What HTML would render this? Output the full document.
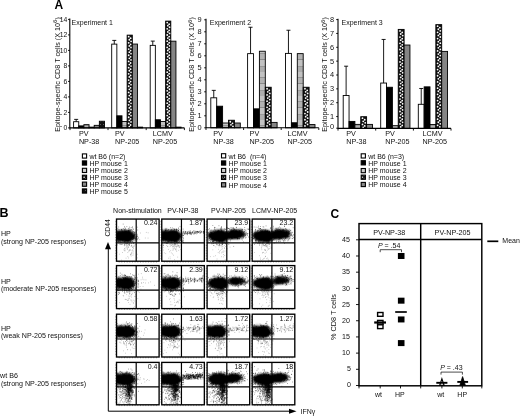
<!DOCTYPE html>
<html><head><meta charset="utf-8"><title>Figure</title>
<style>html,body{margin:0;padding:0;background:#fff;}svg{display:block;will-change:transform;filter:blur(0.35px)}text{font-family:"Liberation Sans",sans-serif;}</style></head>
<body><svg width="520" height="416" viewBox="0 0 520 416">
<rect width="520" height="416" fill="#fff"/>
<defs>
<filter id="bl" x="-30%" y="-30%" width="160%" height="160%"><feTurbulence type="fractalNoise" baseFrequency="0.55" numOctaves="2" seed="3" result="t"/><feDisplacementMap in="SourceGraphic" in2="t" scale="3.2" xChannelSelector="R" yChannelSelector="G" result="d"/><feGaussianBlur in="d" stdDeviation="0.8"/></filter>
<pattern id="pp" width="3.2" height="4.4" patternUnits="userSpaceOnUse"><rect width="3.2" height="4.4" fill="#111"/><circle cx="0.9" cy="1.1" r="0.75" fill="#fff"/><circle cx="2.5" cy="3.3" r="0.75" fill="#fff"/></pattern>
<pattern id="pd" width="3" height="3" patternUnits="userSpaceOnUse"><rect width="3" height="3" fill="#111"/><circle cx="1.5" cy="1.5" r="0.45" fill="#aaa"/></pattern>
<pattern id="pg" width="2" height="2" patternUnits="userSpaceOnUse"><rect width="2" height="2" fill="#858585"/><rect width="1" height="1" fill="#777"/><rect x="1" y="1" width="1" height="1" fill="#939393"/></pattern>
<pattern id="pl" width="6" height="24" patternUnits="userSpaceOnUse"><rect width="6" height="24" fill="#c2c2c2"/><rect y="5" width="6" height="1" fill="#959595"/><rect y="6" width="6" height="5" fill="#b2b2b2"/><rect y="11" width="6" height="1" fill="#8a8a8a"/><rect y="18" width="6" height="1" fill="#999"/><rect y="19" width="6" height="5" fill="#adadad"/></pattern>
</defs>
<text transform="translate(60.00,131.8) rotate(-90)" font-size="7.2" fill="#111">Epitope-specific CD8 T cells (X 10<tspan font-size="6.2" dy="-2.6">6</tspan><tspan dy="2.6">)</tspan></text>
<rect x="73.60" y="121.70" width="5.15" height="6.20" fill="#fff" stroke="#000" stroke-width="0.9"/>
<rect x="78.75" y="125.89" width="5.15" height="2.02" fill="#000" stroke="#000" stroke-width="0.9"/>
<rect x="83.90" y="124.65" width="5.15" height="3.25" fill="url(#pl)" stroke="#000" stroke-width="0.9"/>
<rect x="89.05" y="127.12" width="5.15" height="0.78" fill="#111" stroke="#000" stroke-width="0.9"/>
<path d="" fill="#fff"/>
<rect x="94.20" y="125.34" width="5.15" height="2.56" fill="#858585" stroke="#000" stroke-width="0.9"/>
<rect x="99.35" y="121.23" width="5.15" height="6.67" fill="url(#pd)" stroke="#000" stroke-width="0.9"/>
<path d="M76.17,121.70V119.38M74.17,119.38h4" stroke="#000" stroke-width="0.9" fill="none"/>
<rect x="111.70" y="44.12" width="5.15" height="83.78" fill="#fff" stroke="#000" stroke-width="0.9"/>
<rect x="116.85" y="115.81" width="5.15" height="12.09" fill="#000" stroke="#000" stroke-width="0.9"/>
<rect x="122.00" y="121.47" width="5.15" height="6.43" fill="url(#pl)" stroke="#000" stroke-width="0.9"/>
<rect x="127.15" y="35.13" width="5.15" height="92.77" fill="#111" stroke="#000" stroke-width="0.9"/>
<path d="M127.79,36.63a0.9,0.9 0 1,0 1.8,0a0.9,0.9 0 1,0 -1.8,0M129.75,38.18a0.9,0.9 0 1,0 1.8,0a0.9,0.9 0 1,0 -1.8,0M128.41,39.73a0.9,0.9 0 1,0 1.8,0a0.9,0.9 0 1,0 -1.8,0M130.16,41.28a0.9,0.9 0 1,0 1.8,0a0.9,0.9 0 1,0 -1.8,0M127.79,42.83a0.9,0.9 0 1,0 1.8,0a0.9,0.9 0 1,0 -1.8,0M129.75,44.38a0.9,0.9 0 1,0 1.8,0a0.9,0.9 0 1,0 -1.8,0M128.41,45.93a0.9,0.9 0 1,0 1.8,0a0.9,0.9 0 1,0 -1.8,0M130.16,47.48a0.9,0.9 0 1,0 1.8,0a0.9,0.9 0 1,0 -1.8,0M127.79,49.03a0.9,0.9 0 1,0 1.8,0a0.9,0.9 0 1,0 -1.8,0M129.75,50.58a0.9,0.9 0 1,0 1.8,0a0.9,0.9 0 1,0 -1.8,0M128.41,52.13a0.9,0.9 0 1,0 1.8,0a0.9,0.9 0 1,0 -1.8,0M130.16,53.68a0.9,0.9 0 1,0 1.8,0a0.9,0.9 0 1,0 -1.8,0M127.79,55.23a0.9,0.9 0 1,0 1.8,0a0.9,0.9 0 1,0 -1.8,0M129.75,56.78a0.9,0.9 0 1,0 1.8,0a0.9,0.9 0 1,0 -1.8,0M128.41,58.33a0.9,0.9 0 1,0 1.8,0a0.9,0.9 0 1,0 -1.8,0M130.16,59.88a0.9,0.9 0 1,0 1.8,0a0.9,0.9 0 1,0 -1.8,0M127.79,61.43a0.9,0.9 0 1,0 1.8,0a0.9,0.9 0 1,0 -1.8,0M129.75,62.98a0.9,0.9 0 1,0 1.8,0a0.9,0.9 0 1,0 -1.8,0M128.41,64.53a0.9,0.9 0 1,0 1.8,0a0.9,0.9 0 1,0 -1.8,0M130.16,66.08a0.9,0.9 0 1,0 1.8,0a0.9,0.9 0 1,0 -1.8,0M127.79,67.63a0.9,0.9 0 1,0 1.8,0a0.9,0.9 0 1,0 -1.8,0M129.75,69.18a0.9,0.9 0 1,0 1.8,0a0.9,0.9 0 1,0 -1.8,0M128.41,70.73a0.9,0.9 0 1,0 1.8,0a0.9,0.9 0 1,0 -1.8,0M130.16,72.28a0.9,0.9 0 1,0 1.8,0a0.9,0.9 0 1,0 -1.8,0M127.79,73.83a0.9,0.9 0 1,0 1.8,0a0.9,0.9 0 1,0 -1.8,0M129.75,75.38a0.9,0.9 0 1,0 1.8,0a0.9,0.9 0 1,0 -1.8,0M128.41,76.93a0.9,0.9 0 1,0 1.8,0a0.9,0.9 0 1,0 -1.8,0M130.16,78.48a0.9,0.9 0 1,0 1.8,0a0.9,0.9 0 1,0 -1.8,0M127.79,80.03a0.9,0.9 0 1,0 1.8,0a0.9,0.9 0 1,0 -1.8,0M129.75,81.58a0.9,0.9 0 1,0 1.8,0a0.9,0.9 0 1,0 -1.8,0M128.41,83.13a0.9,0.9 0 1,0 1.8,0a0.9,0.9 0 1,0 -1.8,0M130.16,84.68a0.9,0.9 0 1,0 1.8,0a0.9,0.9 0 1,0 -1.8,0M127.79,86.23a0.9,0.9 0 1,0 1.8,0a0.9,0.9 0 1,0 -1.8,0M129.75,87.78a0.9,0.9 0 1,0 1.8,0a0.9,0.9 0 1,0 -1.8,0M128.41,89.33a0.9,0.9 0 1,0 1.8,0a0.9,0.9 0 1,0 -1.8,0M130.16,90.88a0.9,0.9 0 1,0 1.8,0a0.9,0.9 0 1,0 -1.8,0M127.79,92.43a0.9,0.9 0 1,0 1.8,0a0.9,0.9 0 1,0 -1.8,0M129.75,93.98a0.9,0.9 0 1,0 1.8,0a0.9,0.9 0 1,0 -1.8,0M128.41,95.53a0.9,0.9 0 1,0 1.8,0a0.9,0.9 0 1,0 -1.8,0M130.16,97.08a0.9,0.9 0 1,0 1.8,0a0.9,0.9 0 1,0 -1.8,0M127.79,98.63a0.9,0.9 0 1,0 1.8,0a0.9,0.9 0 1,0 -1.8,0M129.75,100.18a0.9,0.9 0 1,0 1.8,0a0.9,0.9 0 1,0 -1.8,0M128.41,101.73a0.9,0.9 0 1,0 1.8,0a0.9,0.9 0 1,0 -1.8,0M130.16,103.28a0.9,0.9 0 1,0 1.8,0a0.9,0.9 0 1,0 -1.8,0M127.79,104.83a0.9,0.9 0 1,0 1.8,0a0.9,0.9 0 1,0 -1.8,0M129.75,106.38a0.9,0.9 0 1,0 1.8,0a0.9,0.9 0 1,0 -1.8,0M128.41,107.93a0.9,0.9 0 1,0 1.8,0a0.9,0.9 0 1,0 -1.8,0M130.16,109.48a0.9,0.9 0 1,0 1.8,0a0.9,0.9 0 1,0 -1.8,0M127.79,111.03a0.9,0.9 0 1,0 1.8,0a0.9,0.9 0 1,0 -1.8,0M129.75,112.58a0.9,0.9 0 1,0 1.8,0a0.9,0.9 0 1,0 -1.8,0M128.41,114.13a0.9,0.9 0 1,0 1.8,0a0.9,0.9 0 1,0 -1.8,0M130.16,115.68a0.9,0.9 0 1,0 1.8,0a0.9,0.9 0 1,0 -1.8,0M127.79,117.23a0.9,0.9 0 1,0 1.8,0a0.9,0.9 0 1,0 -1.8,0M129.75,118.78a0.9,0.9 0 1,0 1.8,0a0.9,0.9 0 1,0 -1.8,0M128.41,120.33a0.9,0.9 0 1,0 1.8,0a0.9,0.9 0 1,0 -1.8,0M130.16,121.88a0.9,0.9 0 1,0 1.8,0a0.9,0.9 0 1,0 -1.8,0M127.79,123.43a0.9,0.9 0 1,0 1.8,0a0.9,0.9 0 1,0 -1.8,0M129.75,124.98a0.9,0.9 0 1,0 1.8,0a0.9,0.9 0 1,0 -1.8,0M128.41,126.53a0.9,0.9 0 1,0 1.8,0a0.9,0.9 0 1,0 -1.8,0" fill="#fff"/>
<rect x="132.30" y="44.05" width="5.15" height="83.86" fill="#858585" stroke="#000" stroke-width="0.9"/>
<rect x="137.45" y="127.12" width="5.15" height="0.78" fill="url(#pd)" stroke="#000" stroke-width="0.9"/>
<path d="M114.28,44.12V40.40M112.28,40.40h4" stroke="#000" stroke-width="0.9" fill="none"/>
<rect x="150.20" y="45.36" width="5.15" height="82.54" fill="#fff" stroke="#000" stroke-width="0.9"/>
<rect x="155.35" y="119.76" width="5.15" height="8.14" fill="#000" stroke="#000" stroke-width="0.9"/>
<rect x="160.50" y="121.47" width="5.15" height="6.43" fill="url(#pl)" stroke="#000" stroke-width="0.9"/>
<rect x="165.65" y="21.11" width="5.15" height="106.80" fill="#111" stroke="#000" stroke-width="0.9"/>
<path d="M166.29,22.61a0.9,0.9 0 1,0 1.8,0a0.9,0.9 0 1,0 -1.8,0M168.25,24.16a0.9,0.9 0 1,0 1.8,0a0.9,0.9 0 1,0 -1.8,0M166.91,25.71a0.9,0.9 0 1,0 1.8,0a0.9,0.9 0 1,0 -1.8,0M168.66,27.26a0.9,0.9 0 1,0 1.8,0a0.9,0.9 0 1,0 -1.8,0M166.29,28.81a0.9,0.9 0 1,0 1.8,0a0.9,0.9 0 1,0 -1.8,0M168.25,30.36a0.9,0.9 0 1,0 1.8,0a0.9,0.9 0 1,0 -1.8,0M166.91,31.91a0.9,0.9 0 1,0 1.8,0a0.9,0.9 0 1,0 -1.8,0M168.66,33.46a0.9,0.9 0 1,0 1.8,0a0.9,0.9 0 1,0 -1.8,0M166.29,35.01a0.9,0.9 0 1,0 1.8,0a0.9,0.9 0 1,0 -1.8,0M168.25,36.55a0.9,0.9 0 1,0 1.8,0a0.9,0.9 0 1,0 -1.8,0M166.91,38.10a0.9,0.9 0 1,0 1.8,0a0.9,0.9 0 1,0 -1.8,0M168.66,39.65a0.9,0.9 0 1,0 1.8,0a0.9,0.9 0 1,0 -1.8,0M166.29,41.20a0.9,0.9 0 1,0 1.8,0a0.9,0.9 0 1,0 -1.8,0M168.25,42.75a0.9,0.9 0 1,0 1.8,0a0.9,0.9 0 1,0 -1.8,0M166.91,44.30a0.9,0.9 0 1,0 1.8,0a0.9,0.9 0 1,0 -1.8,0M168.66,45.85a0.9,0.9 0 1,0 1.8,0a0.9,0.9 0 1,0 -1.8,0M166.29,47.40a0.9,0.9 0 1,0 1.8,0a0.9,0.9 0 1,0 -1.8,0M168.25,48.95a0.9,0.9 0 1,0 1.8,0a0.9,0.9 0 1,0 -1.8,0M166.91,50.50a0.9,0.9 0 1,0 1.8,0a0.9,0.9 0 1,0 -1.8,0M168.66,52.05a0.9,0.9 0 1,0 1.8,0a0.9,0.9 0 1,0 -1.8,0M166.29,53.60a0.9,0.9 0 1,0 1.8,0a0.9,0.9 0 1,0 -1.8,0M168.25,55.15a0.9,0.9 0 1,0 1.8,0a0.9,0.9 0 1,0 -1.8,0M166.91,56.70a0.9,0.9 0 1,0 1.8,0a0.9,0.9 0 1,0 -1.8,0M168.66,58.25a0.9,0.9 0 1,0 1.8,0a0.9,0.9 0 1,0 -1.8,0M166.29,59.80a0.9,0.9 0 1,0 1.8,0a0.9,0.9 0 1,0 -1.8,0M168.25,61.35a0.9,0.9 0 1,0 1.8,0a0.9,0.9 0 1,0 -1.8,0M166.91,62.90a0.9,0.9 0 1,0 1.8,0a0.9,0.9 0 1,0 -1.8,0M168.66,64.45a0.9,0.9 0 1,0 1.8,0a0.9,0.9 0 1,0 -1.8,0M166.29,66.00a0.9,0.9 0 1,0 1.8,0a0.9,0.9 0 1,0 -1.8,0M168.25,67.55a0.9,0.9 0 1,0 1.8,0a0.9,0.9 0 1,0 -1.8,0M166.91,69.10a0.9,0.9 0 1,0 1.8,0a0.9,0.9 0 1,0 -1.8,0M168.66,70.65a0.9,0.9 0 1,0 1.8,0a0.9,0.9 0 1,0 -1.8,0M166.29,72.20a0.9,0.9 0 1,0 1.8,0a0.9,0.9 0 1,0 -1.8,0M168.25,73.75a0.9,0.9 0 1,0 1.8,0a0.9,0.9 0 1,0 -1.8,0M166.91,75.30a0.9,0.9 0 1,0 1.8,0a0.9,0.9 0 1,0 -1.8,0M168.66,76.85a0.9,0.9 0 1,0 1.8,0a0.9,0.9 0 1,0 -1.8,0M166.29,78.40a0.9,0.9 0 1,0 1.8,0a0.9,0.9 0 1,0 -1.8,0M168.25,79.95a0.9,0.9 0 1,0 1.8,0a0.9,0.9 0 1,0 -1.8,0M166.91,81.50a0.9,0.9 0 1,0 1.8,0a0.9,0.9 0 1,0 -1.8,0M168.66,83.05a0.9,0.9 0 1,0 1.8,0a0.9,0.9 0 1,0 -1.8,0M166.29,84.60a0.9,0.9 0 1,0 1.8,0a0.9,0.9 0 1,0 -1.8,0M168.25,86.15a0.9,0.9 0 1,0 1.8,0a0.9,0.9 0 1,0 -1.8,0M166.91,87.70a0.9,0.9 0 1,0 1.8,0a0.9,0.9 0 1,0 -1.8,0M168.66,89.25a0.9,0.9 0 1,0 1.8,0a0.9,0.9 0 1,0 -1.8,0M166.29,90.80a0.9,0.9 0 1,0 1.8,0a0.9,0.9 0 1,0 -1.8,0M168.25,92.35a0.9,0.9 0 1,0 1.8,0a0.9,0.9 0 1,0 -1.8,0M166.91,93.90a0.9,0.9 0 1,0 1.8,0a0.9,0.9 0 1,0 -1.8,0M168.66,95.45a0.9,0.9 0 1,0 1.8,0a0.9,0.9 0 1,0 -1.8,0M166.29,97.00a0.9,0.9 0 1,0 1.8,0a0.9,0.9 0 1,0 -1.8,0M168.25,98.55a0.9,0.9 0 1,0 1.8,0a0.9,0.9 0 1,0 -1.8,0M166.91,100.10a0.9,0.9 0 1,0 1.8,0a0.9,0.9 0 1,0 -1.8,0M168.66,101.65a0.9,0.9 0 1,0 1.8,0a0.9,0.9 0 1,0 -1.8,0M166.29,103.20a0.9,0.9 0 1,0 1.8,0a0.9,0.9 0 1,0 -1.8,0M168.25,104.75a0.9,0.9 0 1,0 1.8,0a0.9,0.9 0 1,0 -1.8,0M166.91,106.30a0.9,0.9 0 1,0 1.8,0a0.9,0.9 0 1,0 -1.8,0M168.66,107.85a0.9,0.9 0 1,0 1.8,0a0.9,0.9 0 1,0 -1.8,0M166.29,109.40a0.9,0.9 0 1,0 1.8,0a0.9,0.9 0 1,0 -1.8,0M168.25,110.95a0.9,0.9 0 1,0 1.8,0a0.9,0.9 0 1,0 -1.8,0M166.91,112.50a0.9,0.9 0 1,0 1.8,0a0.9,0.9 0 1,0 -1.8,0M168.66,114.05a0.9,0.9 0 1,0 1.8,0a0.9,0.9 0 1,0 -1.8,0M166.29,115.60a0.9,0.9 0 1,0 1.8,0a0.9,0.9 0 1,0 -1.8,0M168.25,117.15a0.9,0.9 0 1,0 1.8,0a0.9,0.9 0 1,0 -1.8,0M166.91,118.70a0.9,0.9 0 1,0 1.8,0a0.9,0.9 0 1,0 -1.8,0M168.66,120.25a0.9,0.9 0 1,0 1.8,0a0.9,0.9 0 1,0 -1.8,0M166.29,121.80a0.9,0.9 0 1,0 1.8,0a0.9,0.9 0 1,0 -1.8,0M168.25,123.35a0.9,0.9 0 1,0 1.8,0a0.9,0.9 0 1,0 -1.8,0M166.91,124.90a0.9,0.9 0 1,0 1.8,0a0.9,0.9 0 1,0 -1.8,0M168.66,126.45a0.9,0.9 0 1,0 1.8,0a0.9,0.9 0 1,0 -1.8,0" fill="#fff"/>
<rect x="170.80" y="41.18" width="5.15" height="86.72" fill="#858585" stroke="#000" stroke-width="0.9"/>
<rect x="175.95" y="127.12" width="5.15" height="0.78" fill="url(#pd)" stroke="#000" stroke-width="0.9"/>
<path d="M152.77,45.36V41.10M150.77,41.10h4" stroke="#000" stroke-width="0.9" fill="none"/>
<path d="M69.8,18.400000000000006V127.9H184.4" stroke="#000" stroke-width="1.1" fill="none"/>
<path d="M70,127.9v2.2" stroke="#000" stroke-width="0.9"/>
<path d="M108,127.9v2.2" stroke="#000" stroke-width="0.9"/>
<path d="M146.2,127.9v2.2" stroke="#000" stroke-width="0.9"/>
<path d="M184.4,127.9v2.2" stroke="#000" stroke-width="0.9"/>
<path d="M68.0,127.90h1.8" stroke="#000" stroke-width="0.9"/>
<text x="67.20" y="130.15" font-size="6.8" text-anchor="end" font-weight="normal" fill="#111" >0</text>
<path d="M68.0,112.40h1.8" stroke="#000" stroke-width="0.9"/>
<text x="67.20" y="114.65" font-size="6.8" text-anchor="end" font-weight="normal" fill="#111" >2</text>
<path d="M68.0,96.90h1.8" stroke="#000" stroke-width="0.9"/>
<text x="67.20" y="99.15" font-size="6.8" text-anchor="end" font-weight="normal" fill="#111" >4</text>
<path d="M68.0,81.40h1.8" stroke="#000" stroke-width="0.9"/>
<text x="67.20" y="83.65" font-size="6.8" text-anchor="end" font-weight="normal" fill="#111" >6</text>
<path d="M68.0,65.90h1.8" stroke="#000" stroke-width="0.9"/>
<text x="67.20" y="68.15" font-size="6.8" text-anchor="end" font-weight="normal" fill="#111" >8</text>
<path d="M68.0,50.40h1.8" stroke="#000" stroke-width="0.9"/>
<text x="67.20" y="52.65" font-size="6.8" text-anchor="end" font-weight="normal" fill="#111" >10</text>
<path d="M68.0,34.90h1.8" stroke="#000" stroke-width="0.9"/>
<text x="67.20" y="37.15" font-size="6.8" text-anchor="end" font-weight="normal" fill="#111" >12</text>
<path d="M68.0,19.40h1.8" stroke="#000" stroke-width="0.9"/>
<text x="67.20" y="21.65" font-size="6.8" text-anchor="end" font-weight="normal" fill="#111" >14</text>
<text x="71.60" y="24.60" font-size="7" text-anchor="start" font-weight="normal" fill="#111" >Experiment 1</text>
<text x="78.90" y="136.20" font-size="7.2" text-anchor="start" font-weight="normal" fill="#111" >PV</text>
<text x="78.90" y="144.40" font-size="7.2" text-anchor="start" font-weight="normal" fill="#111" >NP-38</text>
<text x="115.00" y="136.20" font-size="7.2" text-anchor="start" font-weight="normal" fill="#111" >PV</text>
<text x="115.00" y="144.40" font-size="7.2" text-anchor="start" font-weight="normal" fill="#111" >NP-205</text>
<text x="152.80" y="136.20" font-size="7.2" text-anchor="start" font-weight="normal" fill="#111" >LCMV</text>
<text x="152.80" y="144.40" font-size="7.2" text-anchor="start" font-weight="normal" fill="#111" >NP-205</text>
<rect x="82.40" y="153.90" width="4.2" height="4.2" fill="#fff" stroke="#000" stroke-width="1.1"/>
<text x="89.40" y="158.70" font-size="7" text-anchor="start" font-weight="normal" fill="#111" >wt B6 (n=2)</text>
<rect x="82.40" y="160.90" width="4.2" height="4.2" fill="#000" stroke="#000" stroke-width="1.1"/>
<text x="89.40" y="165.70" font-size="7" text-anchor="start" font-weight="normal" fill="#111" >HP mouse 1</text>
<rect x="82.40" y="168.30" width="4.2" height="4.2" fill="#ccc" stroke="#000" stroke-width="1.1"/>
<text x="89.40" y="173.10" font-size="7" text-anchor="start" font-weight="normal" fill="#111" >HP mouse 2</text>
<rect x="82.40" y="175.20" width="4.2" height="4.2" fill="url(#pp)" stroke="#000" stroke-width="1.1"/>
<text x="89.40" y="180.00" font-size="7" text-anchor="start" font-weight="normal" fill="#111" >HP mouse 3</text>
<rect x="82.40" y="182.10" width="4.2" height="4.2" fill="#888" stroke="#000" stroke-width="1.1"/>
<text x="89.40" y="186.90" font-size="7" text-anchor="start" font-weight="normal" fill="#111" >HP mouse 4</text>
<rect x="82.40" y="188.90" width="4.2" height="4.2" fill="url(#pd)" stroke="#000" stroke-width="1.1"/>
<text x="89.40" y="193.70" font-size="7" text-anchor="start" font-weight="normal" fill="#111" >HP mouse 5</text>
<text transform="translate(194.10,131.8) rotate(-90)" font-size="7.2" fill="#111">Epitope-specific CD8 T cells (X 10<tspan font-size="6.2" dy="-2.6">6</tspan><tspan dy="2.6">)</tspan></text>
<rect x="210.80" y="97.80" width="5.90" height="30.00" fill="#fff" stroke="#000" stroke-width="0.9"/>
<rect x="216.70" y="106.20" width="5.90" height="21.60" fill="#000" stroke="#000" stroke-width="0.9"/>
<rect x="222.60" y="123.00" width="5.90" height="4.80" fill="url(#pl)" stroke="#000" stroke-width="0.9"/>
<rect x="228.50" y="120.24" width="5.90" height="7.56" fill="#111" stroke="#000" stroke-width="0.9"/>
<path d="M229.37,121.74a0.9,0.9 0 1,0 1.8,0a0.9,0.9 0 1,0 -1.8,0M231.61,123.29a0.9,0.9 0 1,0 1.8,0a0.9,0.9 0 1,0 -1.8,0M230.08,124.84a0.9,0.9 0 1,0 1.8,0a0.9,0.9 0 1,0 -1.8,0M232.08,126.39a0.9,0.9 0 1,0 1.8,0a0.9,0.9 0 1,0 -1.8,0" fill="#fff"/>
<rect x="234.40" y="123.00" width="5.90" height="4.80" fill="#858585" stroke="#000" stroke-width="0.9"/>
<path d="M213.75,97.80V90.36M211.75,90.36h4" stroke="#000" stroke-width="0.9" fill="none"/>
<rect x="247.60" y="53.64" width="5.90" height="74.16" fill="#fff" stroke="#000" stroke-width="0.9"/>
<rect x="253.50" y="108.84" width="5.90" height="18.96" fill="#000" stroke="#000" stroke-width="0.9"/>
<rect x="259.40" y="51.24" width="5.90" height="76.56" fill="url(#pl)" stroke="#000" stroke-width="0.9"/>
<rect x="265.30" y="87.24" width="5.90" height="40.56" fill="#111" stroke="#000" stroke-width="0.9"/>
<path d="M266.17,88.74a0.9,0.9 0 1,0 1.8,0a0.9,0.9 0 1,0 -1.8,0M268.41,90.29a0.9,0.9 0 1,0 1.8,0a0.9,0.9 0 1,0 -1.8,0M266.88,91.84a0.9,0.9 0 1,0 1.8,0a0.9,0.9 0 1,0 -1.8,0M268.88,93.39a0.9,0.9 0 1,0 1.8,0a0.9,0.9 0 1,0 -1.8,0M266.17,94.94a0.9,0.9 0 1,0 1.8,0a0.9,0.9 0 1,0 -1.8,0M268.41,96.49a0.9,0.9 0 1,0 1.8,0a0.9,0.9 0 1,0 -1.8,0M266.88,98.04a0.9,0.9 0 1,0 1.8,0a0.9,0.9 0 1,0 -1.8,0M268.88,99.59a0.9,0.9 0 1,0 1.8,0a0.9,0.9 0 1,0 -1.8,0M266.17,101.14a0.9,0.9 0 1,0 1.8,0a0.9,0.9 0 1,0 -1.8,0M268.41,102.69a0.9,0.9 0 1,0 1.8,0a0.9,0.9 0 1,0 -1.8,0M266.88,104.24a0.9,0.9 0 1,0 1.8,0a0.9,0.9 0 1,0 -1.8,0M268.88,105.79a0.9,0.9 0 1,0 1.8,0a0.9,0.9 0 1,0 -1.8,0M266.17,107.34a0.9,0.9 0 1,0 1.8,0a0.9,0.9 0 1,0 -1.8,0M268.41,108.89a0.9,0.9 0 1,0 1.8,0a0.9,0.9 0 1,0 -1.8,0M266.88,110.44a0.9,0.9 0 1,0 1.8,0a0.9,0.9 0 1,0 -1.8,0M268.88,111.99a0.9,0.9 0 1,0 1.8,0a0.9,0.9 0 1,0 -1.8,0M266.17,113.54a0.9,0.9 0 1,0 1.8,0a0.9,0.9 0 1,0 -1.8,0M268.41,115.09a0.9,0.9 0 1,0 1.8,0a0.9,0.9 0 1,0 -1.8,0M266.88,116.64a0.9,0.9 0 1,0 1.8,0a0.9,0.9 0 1,0 -1.8,0M268.88,118.19a0.9,0.9 0 1,0 1.8,0a0.9,0.9 0 1,0 -1.8,0M266.17,119.74a0.9,0.9 0 1,0 1.8,0a0.9,0.9 0 1,0 -1.8,0M268.41,121.29a0.9,0.9 0 1,0 1.8,0a0.9,0.9 0 1,0 -1.8,0M266.88,122.84a0.9,0.9 0 1,0 1.8,0a0.9,0.9 0 1,0 -1.8,0M268.88,124.39a0.9,0.9 0 1,0 1.8,0a0.9,0.9 0 1,0 -1.8,0M266.17,125.94a0.9,0.9 0 1,0 1.8,0a0.9,0.9 0 1,0 -1.8,0" fill="#fff"/>
<rect x="271.20" y="122.40" width="5.90" height="5.40" fill="#858585" stroke="#000" stroke-width="0.9"/>
<path d="M250.55,53.64V27.24M248.55,27.24h4" stroke="#000" stroke-width="0.9" fill="none"/>
<rect x="285.50" y="53.40" width="5.90" height="74.40" fill="#fff" stroke="#000" stroke-width="0.9"/>
<rect x="291.40" y="122.76" width="5.90" height="5.04" fill="#000" stroke="#000" stroke-width="0.9"/>
<rect x="297.30" y="53.64" width="5.90" height="74.16" fill="url(#pl)" stroke="#000" stroke-width="0.9"/>
<rect x="303.20" y="87.24" width="5.90" height="40.56" fill="#111" stroke="#000" stroke-width="0.9"/>
<path d="M304.07,88.74a0.9,0.9 0 1,0 1.8,0a0.9,0.9 0 1,0 -1.8,0M306.31,90.29a0.9,0.9 0 1,0 1.8,0a0.9,0.9 0 1,0 -1.8,0M304.78,91.84a0.9,0.9 0 1,0 1.8,0a0.9,0.9 0 1,0 -1.8,0M306.78,93.39a0.9,0.9 0 1,0 1.8,0a0.9,0.9 0 1,0 -1.8,0M304.07,94.94a0.9,0.9 0 1,0 1.8,0a0.9,0.9 0 1,0 -1.8,0M306.31,96.49a0.9,0.9 0 1,0 1.8,0a0.9,0.9 0 1,0 -1.8,0M304.78,98.04a0.9,0.9 0 1,0 1.8,0a0.9,0.9 0 1,0 -1.8,0M306.78,99.59a0.9,0.9 0 1,0 1.8,0a0.9,0.9 0 1,0 -1.8,0M304.07,101.14a0.9,0.9 0 1,0 1.8,0a0.9,0.9 0 1,0 -1.8,0M306.31,102.69a0.9,0.9 0 1,0 1.8,0a0.9,0.9 0 1,0 -1.8,0M304.78,104.24a0.9,0.9 0 1,0 1.8,0a0.9,0.9 0 1,0 -1.8,0M306.78,105.79a0.9,0.9 0 1,0 1.8,0a0.9,0.9 0 1,0 -1.8,0M304.07,107.34a0.9,0.9 0 1,0 1.8,0a0.9,0.9 0 1,0 -1.8,0M306.31,108.89a0.9,0.9 0 1,0 1.8,0a0.9,0.9 0 1,0 -1.8,0M304.78,110.44a0.9,0.9 0 1,0 1.8,0a0.9,0.9 0 1,0 -1.8,0M306.78,111.99a0.9,0.9 0 1,0 1.8,0a0.9,0.9 0 1,0 -1.8,0M304.07,113.54a0.9,0.9 0 1,0 1.8,0a0.9,0.9 0 1,0 -1.8,0M306.31,115.09a0.9,0.9 0 1,0 1.8,0a0.9,0.9 0 1,0 -1.8,0M304.78,116.64a0.9,0.9 0 1,0 1.8,0a0.9,0.9 0 1,0 -1.8,0M306.78,118.19a0.9,0.9 0 1,0 1.8,0a0.9,0.9 0 1,0 -1.8,0M304.07,119.74a0.9,0.9 0 1,0 1.8,0a0.9,0.9 0 1,0 -1.8,0M306.31,121.29a0.9,0.9 0 1,0 1.8,0a0.9,0.9 0 1,0 -1.8,0M304.78,122.84a0.9,0.9 0 1,0 1.8,0a0.9,0.9 0 1,0 -1.8,0M306.78,124.39a0.9,0.9 0 1,0 1.8,0a0.9,0.9 0 1,0 -1.8,0M304.07,125.94a0.9,0.9 0 1,0 1.8,0a0.9,0.9 0 1,0 -1.8,0" fill="#fff"/>
<rect x="309.10" y="124.56" width="5.90" height="3.24" fill="#858585" stroke="#000" stroke-width="0.9"/>
<path d="M288.45,53.40V30.24M286.45,30.24h4" stroke="#000" stroke-width="0.9" fill="none"/>
<path d="M206,18.799999999999997V127.8H318.8" stroke="#000" stroke-width="1.1" fill="none"/>
<path d="M206,127.8v2.2" stroke="#000" stroke-width="0.9"/>
<path d="M243.6,127.8v2.2" stroke="#000" stroke-width="0.9"/>
<path d="M281.2,127.8v2.2" stroke="#000" stroke-width="0.9"/>
<path d="M318.8,127.8v2.2" stroke="#000" stroke-width="0.9"/>
<path d="M204.2,127.80h1.8" stroke="#000" stroke-width="0.9"/>
<text x="201.50" y="130.26" font-size="7.4" text-anchor="end" font-weight="normal" fill="#111" >0</text>
<path d="M204.2,115.80h1.8" stroke="#000" stroke-width="0.9"/>
<text x="201.50" y="118.26" font-size="7.4" text-anchor="end" font-weight="normal" fill="#111" >1</text>
<path d="M204.2,103.80h1.8" stroke="#000" stroke-width="0.9"/>
<text x="201.50" y="106.26" font-size="7.4" text-anchor="end" font-weight="normal" fill="#111" >2</text>
<path d="M204.2,91.80h1.8" stroke="#000" stroke-width="0.9"/>
<text x="201.50" y="94.26" font-size="7.4" text-anchor="end" font-weight="normal" fill="#111" >3</text>
<path d="M204.2,79.80h1.8" stroke="#000" stroke-width="0.9"/>
<text x="201.50" y="82.26" font-size="7.4" text-anchor="end" font-weight="normal" fill="#111" >4</text>
<path d="M204.2,67.80h1.8" stroke="#000" stroke-width="0.9"/>
<text x="201.50" y="70.26" font-size="7.4" text-anchor="end" font-weight="normal" fill="#111" >5</text>
<path d="M204.2,55.80h1.8" stroke="#000" stroke-width="0.9"/>
<text x="201.50" y="58.26" font-size="7.4" text-anchor="end" font-weight="normal" fill="#111" >6</text>
<path d="M204.2,43.80h1.8" stroke="#000" stroke-width="0.9"/>
<text x="201.50" y="46.26" font-size="7.4" text-anchor="end" font-weight="normal" fill="#111" >7</text>
<path d="M204.2,31.80h1.8" stroke="#000" stroke-width="0.9"/>
<text x="201.50" y="34.26" font-size="7.4" text-anchor="end" font-weight="normal" fill="#111" >8</text>
<path d="M204.2,19.80h1.8" stroke="#000" stroke-width="0.9"/>
<text x="201.50" y="22.26" font-size="7.4" text-anchor="end" font-weight="normal" fill="#111" >9</text>
<text x="209.80" y="24.60" font-size="7" text-anchor="start" font-weight="normal" fill="#111" >Experiment 2</text>
<text x="213.30" y="136.20" font-size="7.2" text-anchor="start" font-weight="normal" fill="#111" >PV</text>
<text x="213.30" y="144.40" font-size="7.2" text-anchor="start" font-weight="normal" fill="#111" >NP-38</text>
<text x="249.60" y="136.20" font-size="7.2" text-anchor="start" font-weight="normal" fill="#111" >PV</text>
<text x="249.60" y="144.40" font-size="7.2" text-anchor="start" font-weight="normal" fill="#111" >NP-205</text>
<text x="287.60" y="136.20" font-size="7.2" text-anchor="start" font-weight="normal" fill="#111" >LCMV</text>
<text x="287.60" y="144.40" font-size="7.2" text-anchor="start" font-weight="normal" fill="#111" >NP-205</text>
<rect x="221.50" y="153.70" width="4.2" height="4.2" fill="#fff" stroke="#000" stroke-width="1.1"/>
<text x="228.50" y="158.50" font-size="7" text-anchor="start" font-weight="normal" fill="#111" >wt B6&#160; (n=4)</text>
<rect x="221.50" y="160.90" width="4.2" height="4.2" fill="#000" stroke="#000" stroke-width="1.1"/>
<text x="228.50" y="165.70" font-size="7" text-anchor="start" font-weight="normal" fill="#111" >HP mouse 1</text>
<rect x="221.50" y="168.40" width="4.2" height="4.2" fill="#ccc" stroke="#000" stroke-width="1.1"/>
<text x="228.50" y="173.20" font-size="7" text-anchor="start" font-weight="normal" fill="#111" >HP mouse 2</text>
<rect x="221.50" y="175.30" width="4.2" height="4.2" fill="url(#pp)" stroke="#000" stroke-width="1.1"/>
<text x="228.50" y="180.10" font-size="7" text-anchor="start" font-weight="normal" fill="#111" >HP mouse 3</text>
<rect x="221.50" y="182.70" width="4.2" height="4.2" fill="#888" stroke="#000" stroke-width="1.1"/>
<text x="228.50" y="187.50" font-size="7" text-anchor="start" font-weight="normal" fill="#111" >HP mouse 4</text>
<text transform="translate(327.30,131.8) rotate(-90)" font-size="7.2" fill="#111">Epitope-specific CD8 T cells (X 10<tspan font-size="6.2" dy="-2.6">6</tspan><tspan dy="2.6">)</tspan></text>
<rect x="343.20" y="95.54" width="5.85" height="32.86" fill="#fff" stroke="#000" stroke-width="0.9"/>
<rect x="349.05" y="121.41" width="5.85" height="6.99" fill="#000" stroke="#000" stroke-width="0.9"/>
<rect x="354.90" y="124.39" width="5.85" height="4.01" fill="url(#pl)" stroke="#000" stroke-width="0.9"/>
<rect x="360.75" y="116.72" width="5.85" height="11.68" fill="#111" stroke="#000" stroke-width="0.9"/>
<path d="M361.61,118.22a0.9,0.9 0 1,0 1.8,0a0.9,0.9 0 1,0 -1.8,0M363.83,119.77a0.9,0.9 0 1,0 1.8,0a0.9,0.9 0 1,0 -1.8,0M362.31,121.32a0.9,0.9 0 1,0 1.8,0a0.9,0.9 0 1,0 -1.8,0M364.30,122.87a0.9,0.9 0 1,0 1.8,0a0.9,0.9 0 1,0 -1.8,0M361.61,124.42a0.9,0.9 0 1,0 1.8,0a0.9,0.9 0 1,0 -1.8,0M363.83,125.97a0.9,0.9 0 1,0 1.8,0a0.9,0.9 0 1,0 -1.8,0M362.31,127.52a0.9,0.9 0 1,0 1.8,0a0.9,0.9 0 1,0 -1.8,0" fill="#fff"/>
<rect x="366.60" y="124.39" width="5.85" height="4.01" fill="#858585" stroke="#000" stroke-width="0.9"/>
<path d="M346.12,95.54V66.20M344.12,66.20h4" stroke="#000" stroke-width="0.9" fill="none"/>
<rect x="380.70" y="83.04" width="5.85" height="45.36" fill="#fff" stroke="#000" stroke-width="0.9"/>
<rect x="386.55" y="87.25" width="5.85" height="41.15" fill="#000" stroke="#000" stroke-width="0.9"/>
<rect x="392.40" y="125.68" width="5.85" height="2.72" fill="url(#pl)" stroke="#000" stroke-width="0.9"/>
<rect x="398.25" y="29.40" width="5.85" height="99.00" fill="#111" stroke="#000" stroke-width="0.9"/>
<path d="M399.11,30.90a0.9,0.9 0 1,0 1.8,0a0.9,0.9 0 1,0 -1.8,0M401.33,32.45a0.9,0.9 0 1,0 1.8,0a0.9,0.9 0 1,0 -1.8,0M399.81,34.00a0.9,0.9 0 1,0 1.8,0a0.9,0.9 0 1,0 -1.8,0M401.80,35.55a0.9,0.9 0 1,0 1.8,0a0.9,0.9 0 1,0 -1.8,0M399.11,37.10a0.9,0.9 0 1,0 1.8,0a0.9,0.9 0 1,0 -1.8,0M401.33,38.65a0.9,0.9 0 1,0 1.8,0a0.9,0.9 0 1,0 -1.8,0M399.81,40.20a0.9,0.9 0 1,0 1.8,0a0.9,0.9 0 1,0 -1.8,0M401.80,41.75a0.9,0.9 0 1,0 1.8,0a0.9,0.9 0 1,0 -1.8,0M399.11,43.30a0.9,0.9 0 1,0 1.8,0a0.9,0.9 0 1,0 -1.8,0M401.33,44.85a0.9,0.9 0 1,0 1.8,0a0.9,0.9 0 1,0 -1.8,0M399.81,46.40a0.9,0.9 0 1,0 1.8,0a0.9,0.9 0 1,0 -1.8,0M401.80,47.95a0.9,0.9 0 1,0 1.8,0a0.9,0.9 0 1,0 -1.8,0M399.11,49.50a0.9,0.9 0 1,0 1.8,0a0.9,0.9 0 1,0 -1.8,0M401.33,51.05a0.9,0.9 0 1,0 1.8,0a0.9,0.9 0 1,0 -1.8,0M399.81,52.60a0.9,0.9 0 1,0 1.8,0a0.9,0.9 0 1,0 -1.8,0M401.80,54.15a0.9,0.9 0 1,0 1.8,0a0.9,0.9 0 1,0 -1.8,0M399.11,55.70a0.9,0.9 0 1,0 1.8,0a0.9,0.9 0 1,0 -1.8,0M401.33,57.25a0.9,0.9 0 1,0 1.8,0a0.9,0.9 0 1,0 -1.8,0M399.81,58.80a0.9,0.9 0 1,0 1.8,0a0.9,0.9 0 1,0 -1.8,0M401.80,60.35a0.9,0.9 0 1,0 1.8,0a0.9,0.9 0 1,0 -1.8,0M399.11,61.90a0.9,0.9 0 1,0 1.8,0a0.9,0.9 0 1,0 -1.8,0M401.33,63.45a0.9,0.9 0 1,0 1.8,0a0.9,0.9 0 1,0 -1.8,0M399.81,65.00a0.9,0.9 0 1,0 1.8,0a0.9,0.9 0 1,0 -1.8,0M401.80,66.55a0.9,0.9 0 1,0 1.8,0a0.9,0.9 0 1,0 -1.8,0M399.11,68.10a0.9,0.9 0 1,0 1.8,0a0.9,0.9 0 1,0 -1.8,0M401.33,69.65a0.9,0.9 0 1,0 1.8,0a0.9,0.9 0 1,0 -1.8,0M399.81,71.20a0.9,0.9 0 1,0 1.8,0a0.9,0.9 0 1,0 -1.8,0M401.80,72.75a0.9,0.9 0 1,0 1.8,0a0.9,0.9 0 1,0 -1.8,0M399.11,74.30a0.9,0.9 0 1,0 1.8,0a0.9,0.9 0 1,0 -1.8,0M401.33,75.85a0.9,0.9 0 1,0 1.8,0a0.9,0.9 0 1,0 -1.8,0M399.81,77.40a0.9,0.9 0 1,0 1.8,0a0.9,0.9 0 1,0 -1.8,0M401.80,78.95a0.9,0.9 0 1,0 1.8,0a0.9,0.9 0 1,0 -1.8,0M399.11,80.50a0.9,0.9 0 1,0 1.8,0a0.9,0.9 0 1,0 -1.8,0M401.33,82.05a0.9,0.9 0 1,0 1.8,0a0.9,0.9 0 1,0 -1.8,0M399.81,83.60a0.9,0.9 0 1,0 1.8,0a0.9,0.9 0 1,0 -1.8,0M401.80,85.15a0.9,0.9 0 1,0 1.8,0a0.9,0.9 0 1,0 -1.8,0M399.11,86.70a0.9,0.9 0 1,0 1.8,0a0.9,0.9 0 1,0 -1.8,0M401.33,88.25a0.9,0.9 0 1,0 1.8,0a0.9,0.9 0 1,0 -1.8,0M399.81,89.80a0.9,0.9 0 1,0 1.8,0a0.9,0.9 0 1,0 -1.8,0M401.80,91.35a0.9,0.9 0 1,0 1.8,0a0.9,0.9 0 1,0 -1.8,0M399.11,92.90a0.9,0.9 0 1,0 1.8,0a0.9,0.9 0 1,0 -1.8,0M401.33,94.45a0.9,0.9 0 1,0 1.8,0a0.9,0.9 0 1,0 -1.8,0M399.81,96.00a0.9,0.9 0 1,0 1.8,0a0.9,0.9 0 1,0 -1.8,0M401.80,97.55a0.9,0.9 0 1,0 1.8,0a0.9,0.9 0 1,0 -1.8,0M399.11,99.10a0.9,0.9 0 1,0 1.8,0a0.9,0.9 0 1,0 -1.8,0M401.33,100.65a0.9,0.9 0 1,0 1.8,0a0.9,0.9 0 1,0 -1.8,0M399.81,102.20a0.9,0.9 0 1,0 1.8,0a0.9,0.9 0 1,0 -1.8,0M401.80,103.75a0.9,0.9 0 1,0 1.8,0a0.9,0.9 0 1,0 -1.8,0M399.11,105.30a0.9,0.9 0 1,0 1.8,0a0.9,0.9 0 1,0 -1.8,0M401.33,106.85a0.9,0.9 0 1,0 1.8,0a0.9,0.9 0 1,0 -1.8,0M399.81,108.40a0.9,0.9 0 1,0 1.8,0a0.9,0.9 0 1,0 -1.8,0M401.80,109.95a0.9,0.9 0 1,0 1.8,0a0.9,0.9 0 1,0 -1.8,0M399.11,111.50a0.9,0.9 0 1,0 1.8,0a0.9,0.9 0 1,0 -1.8,0M401.33,113.05a0.9,0.9 0 1,0 1.8,0a0.9,0.9 0 1,0 -1.8,0M399.81,114.60a0.9,0.9 0 1,0 1.8,0a0.9,0.9 0 1,0 -1.8,0M401.80,116.15a0.9,0.9 0 1,0 1.8,0a0.9,0.9 0 1,0 -1.8,0M399.11,117.70a0.9,0.9 0 1,0 1.8,0a0.9,0.9 0 1,0 -1.8,0M401.33,119.25a0.9,0.9 0 1,0 1.8,0a0.9,0.9 0 1,0 -1.8,0M399.81,120.80a0.9,0.9 0 1,0 1.8,0a0.9,0.9 0 1,0 -1.8,0M401.80,122.35a0.9,0.9 0 1,0 1.8,0a0.9,0.9 0 1,0 -1.8,0M399.11,123.90a0.9,0.9 0 1,0 1.8,0a0.9,0.9 0 1,0 -1.8,0M401.33,125.45a0.9,0.9 0 1,0 1.8,0a0.9,0.9 0 1,0 -1.8,0M399.81,127.00a0.9,0.9 0 1,0 1.8,0a0.9,0.9 0 1,0 -1.8,0" fill="#fff"/>
<rect x="404.10" y="45.02" width="5.85" height="83.38" fill="#858585" stroke="#000" stroke-width="0.9"/>
<path d="M383.62,83.04V39.45M381.62,39.45h4" stroke="#000" stroke-width="0.9" fill="none"/>
<rect x="418.30" y="104.30" width="5.85" height="24.10" fill="#fff" stroke="#000" stroke-width="0.9"/>
<rect x="424.15" y="86.85" width="5.85" height="41.55" fill="#000" stroke="#000" stroke-width="0.9"/>
<rect x="430.00" y="124.50" width="5.85" height="3.90" fill="url(#pl)" stroke="#000" stroke-width="0.9"/>
<rect x="435.85" y="24.65" width="5.85" height="103.75" fill="#111" stroke="#000" stroke-width="0.9"/>
<path d="M436.71,26.15a0.9,0.9 0 1,0 1.8,0a0.9,0.9 0 1,0 -1.8,0M438.93,27.70a0.9,0.9 0 1,0 1.8,0a0.9,0.9 0 1,0 -1.8,0M437.41,29.25a0.9,0.9 0 1,0 1.8,0a0.9,0.9 0 1,0 -1.8,0M439.40,30.80a0.9,0.9 0 1,0 1.8,0a0.9,0.9 0 1,0 -1.8,0M436.71,32.35a0.9,0.9 0 1,0 1.8,0a0.9,0.9 0 1,0 -1.8,0M438.93,33.90a0.9,0.9 0 1,0 1.8,0a0.9,0.9 0 1,0 -1.8,0M437.41,35.45a0.9,0.9 0 1,0 1.8,0a0.9,0.9 0 1,0 -1.8,0M439.40,37.00a0.9,0.9 0 1,0 1.8,0a0.9,0.9 0 1,0 -1.8,0M436.71,38.55a0.9,0.9 0 1,0 1.8,0a0.9,0.9 0 1,0 -1.8,0M438.93,40.10a0.9,0.9 0 1,0 1.8,0a0.9,0.9 0 1,0 -1.8,0M437.41,41.65a0.9,0.9 0 1,0 1.8,0a0.9,0.9 0 1,0 -1.8,0M439.40,43.20a0.9,0.9 0 1,0 1.8,0a0.9,0.9 0 1,0 -1.8,0M436.71,44.75a0.9,0.9 0 1,0 1.8,0a0.9,0.9 0 1,0 -1.8,0M438.93,46.30a0.9,0.9 0 1,0 1.8,0a0.9,0.9 0 1,0 -1.8,0M437.41,47.85a0.9,0.9 0 1,0 1.8,0a0.9,0.9 0 1,0 -1.8,0M439.40,49.40a0.9,0.9 0 1,0 1.8,0a0.9,0.9 0 1,0 -1.8,0M436.71,50.95a0.9,0.9 0 1,0 1.8,0a0.9,0.9 0 1,0 -1.8,0M438.93,52.50a0.9,0.9 0 1,0 1.8,0a0.9,0.9 0 1,0 -1.8,0M437.41,54.05a0.9,0.9 0 1,0 1.8,0a0.9,0.9 0 1,0 -1.8,0M439.40,55.60a0.9,0.9 0 1,0 1.8,0a0.9,0.9 0 1,0 -1.8,0M436.71,57.15a0.9,0.9 0 1,0 1.8,0a0.9,0.9 0 1,0 -1.8,0M438.93,58.70a0.9,0.9 0 1,0 1.8,0a0.9,0.9 0 1,0 -1.8,0M437.41,60.25a0.9,0.9 0 1,0 1.8,0a0.9,0.9 0 1,0 -1.8,0M439.40,61.80a0.9,0.9 0 1,0 1.8,0a0.9,0.9 0 1,0 -1.8,0M436.71,63.35a0.9,0.9 0 1,0 1.8,0a0.9,0.9 0 1,0 -1.8,0M438.93,64.90a0.9,0.9 0 1,0 1.8,0a0.9,0.9 0 1,0 -1.8,0M437.41,66.45a0.9,0.9 0 1,0 1.8,0a0.9,0.9 0 1,0 -1.8,0M439.40,68.00a0.9,0.9 0 1,0 1.8,0a0.9,0.9 0 1,0 -1.8,0M436.71,69.55a0.9,0.9 0 1,0 1.8,0a0.9,0.9 0 1,0 -1.8,0M438.93,71.10a0.9,0.9 0 1,0 1.8,0a0.9,0.9 0 1,0 -1.8,0M437.41,72.65a0.9,0.9 0 1,0 1.8,0a0.9,0.9 0 1,0 -1.8,0M439.40,74.20a0.9,0.9 0 1,0 1.8,0a0.9,0.9 0 1,0 -1.8,0M436.71,75.75a0.9,0.9 0 1,0 1.8,0a0.9,0.9 0 1,0 -1.8,0M438.93,77.30a0.9,0.9 0 1,0 1.8,0a0.9,0.9 0 1,0 -1.8,0M437.41,78.85a0.9,0.9 0 1,0 1.8,0a0.9,0.9 0 1,0 -1.8,0M439.40,80.40a0.9,0.9 0 1,0 1.8,0a0.9,0.9 0 1,0 -1.8,0M436.71,81.95a0.9,0.9 0 1,0 1.8,0a0.9,0.9 0 1,0 -1.8,0M438.93,83.50a0.9,0.9 0 1,0 1.8,0a0.9,0.9 0 1,0 -1.8,0M437.41,85.05a0.9,0.9 0 1,0 1.8,0a0.9,0.9 0 1,0 -1.8,0M439.40,86.60a0.9,0.9 0 1,0 1.8,0a0.9,0.9 0 1,0 -1.8,0M436.71,88.15a0.9,0.9 0 1,0 1.8,0a0.9,0.9 0 1,0 -1.8,0M438.93,89.70a0.9,0.9 0 1,0 1.8,0a0.9,0.9 0 1,0 -1.8,0M437.41,91.25a0.9,0.9 0 1,0 1.8,0a0.9,0.9 0 1,0 -1.8,0M439.40,92.80a0.9,0.9 0 1,0 1.8,0a0.9,0.9 0 1,0 -1.8,0M436.71,94.35a0.9,0.9 0 1,0 1.8,0a0.9,0.9 0 1,0 -1.8,0M438.93,95.90a0.9,0.9 0 1,0 1.8,0a0.9,0.9 0 1,0 -1.8,0M437.41,97.45a0.9,0.9 0 1,0 1.8,0a0.9,0.9 0 1,0 -1.8,0M439.40,99.00a0.9,0.9 0 1,0 1.8,0a0.9,0.9 0 1,0 -1.8,0M436.71,100.55a0.9,0.9 0 1,0 1.8,0a0.9,0.9 0 1,0 -1.8,0M438.93,102.10a0.9,0.9 0 1,0 1.8,0a0.9,0.9 0 1,0 -1.8,0M437.41,103.65a0.9,0.9 0 1,0 1.8,0a0.9,0.9 0 1,0 -1.8,0M439.40,105.20a0.9,0.9 0 1,0 1.8,0a0.9,0.9 0 1,0 -1.8,0M436.71,106.75a0.9,0.9 0 1,0 1.8,0a0.9,0.9 0 1,0 -1.8,0M438.93,108.30a0.9,0.9 0 1,0 1.8,0a0.9,0.9 0 1,0 -1.8,0M437.41,109.85a0.9,0.9 0 1,0 1.8,0a0.9,0.9 0 1,0 -1.8,0M439.40,111.40a0.9,0.9 0 1,0 1.8,0a0.9,0.9 0 1,0 -1.8,0M436.71,112.95a0.9,0.9 0 1,0 1.8,0a0.9,0.9 0 1,0 -1.8,0M438.93,114.50a0.9,0.9 0 1,0 1.8,0a0.9,0.9 0 1,0 -1.8,0M437.41,116.05a0.9,0.9 0 1,0 1.8,0a0.9,0.9 0 1,0 -1.8,0M439.40,117.60a0.9,0.9 0 1,0 1.8,0a0.9,0.9 0 1,0 -1.8,0M436.71,119.15a0.9,0.9 0 1,0 1.8,0a0.9,0.9 0 1,0 -1.8,0M438.93,120.70a0.9,0.9 0 1,0 1.8,0a0.9,0.9 0 1,0 -1.8,0M437.41,122.25a0.9,0.9 0 1,0 1.8,0a0.9,0.9 0 1,0 -1.8,0M439.40,123.80a0.9,0.9 0 1,0 1.8,0a0.9,0.9 0 1,0 -1.8,0M436.71,125.35a0.9,0.9 0 1,0 1.8,0a0.9,0.9 0 1,0 -1.8,0M438.93,126.90a0.9,0.9 0 1,0 1.8,0a0.9,0.9 0 1,0 -1.8,0" fill="#fff"/>
<rect x="441.70" y="51.40" width="5.85" height="77.00" fill="#858585" stroke="#000" stroke-width="0.9"/>
<path d="M421.23,104.30V88.47M419.23,88.47h4" stroke="#000" stroke-width="0.9" fill="none"/>
<path d="M338,18.760000000000005V128.4H451" stroke="#000" stroke-width="1.1" fill="none"/>
<path d="M338,128.4v2.2" stroke="#000" stroke-width="0.9"/>
<path d="M375.7,128.4v2.2" stroke="#000" stroke-width="0.9"/>
<path d="M413.4,128.4v2.2" stroke="#000" stroke-width="0.9"/>
<path d="M451,128.4v2.2" stroke="#000" stroke-width="0.9"/>
<path d="M336.2,128.20h1.8" stroke="#000" stroke-width="0.9"/>
<text x="334.20" y="128.96" font-size="7.4" text-anchor="end" font-weight="normal" fill="#111" >0</text>
<path d="M336.2,116.55h1.8" stroke="#000" stroke-width="0.9"/>
<text x="334.20" y="119.01" font-size="7.4" text-anchor="end" font-weight="normal" fill="#111" >1</text>
<path d="M336.2,102.70h1.8" stroke="#000" stroke-width="0.9"/>
<text x="334.20" y="105.16" font-size="7.4" text-anchor="end" font-weight="normal" fill="#111" >2</text>
<path d="M336.2,88.85h1.8" stroke="#000" stroke-width="0.9"/>
<text x="334.20" y="91.31" font-size="7.4" text-anchor="end" font-weight="normal" fill="#111" >3</text>
<path d="M336.2,75.00h1.8" stroke="#000" stroke-width="0.9"/>
<text x="334.20" y="77.46" font-size="7.4" text-anchor="end" font-weight="normal" fill="#111" >4</text>
<path d="M336.2,61.15h1.8" stroke="#000" stroke-width="0.9"/>
<text x="334.20" y="63.61" font-size="7.4" text-anchor="end" font-weight="normal" fill="#111" >5</text>
<path d="M336.2,47.30h1.8" stroke="#000" stroke-width="0.9"/>
<text x="334.20" y="49.76" font-size="7.4" text-anchor="end" font-weight="normal" fill="#111" >6</text>
<path d="M336.2,33.45h1.8" stroke="#000" stroke-width="0.9"/>
<text x="334.20" y="35.91" font-size="7.4" text-anchor="end" font-weight="normal" fill="#111" >7</text>
<path d="M336.2,19.60h1.8" stroke="#000" stroke-width="0.9"/>
<text x="334.20" y="22.06" font-size="7.4" text-anchor="end" font-weight="normal" fill="#111" >8</text>
<text x="341.50" y="24.60" font-size="7" text-anchor="start" font-weight="normal" fill="#111" >Experiment 3</text>
<text x="346.20" y="136.20" font-size="7.2" text-anchor="start" font-weight="normal" fill="#111" >PV</text>
<text x="346.20" y="144.40" font-size="7.2" text-anchor="start" font-weight="normal" fill="#111" >NP-38</text>
<text x="385.20" y="136.20" font-size="7.2" text-anchor="start" font-weight="normal" fill="#111" >PV</text>
<text x="385.20" y="144.40" font-size="7.2" text-anchor="start" font-weight="normal" fill="#111" >NP-205</text>
<text x="422.60" y="136.20" font-size="7.2" text-anchor="start" font-weight="normal" fill="#111" >LCMV</text>
<text x="422.60" y="144.40" font-size="7.2" text-anchor="start" font-weight="normal" fill="#111" >NP-205</text>
<rect x="361.20" y="153.80" width="4.2" height="4.2" fill="#fff" stroke="#000" stroke-width="1.1"/>
<text x="368.20" y="158.60" font-size="7" text-anchor="start" font-weight="normal" fill="#111" >wt B6 (n=3)</text>
<rect x="361.20" y="160.70" width="4.2" height="4.2" fill="#000" stroke="#000" stroke-width="1.1"/>
<text x="368.20" y="165.50" font-size="7" text-anchor="start" font-weight="normal" fill="#111" >HP mouse 1</text>
<rect x="361.20" y="168.50" width="4.2" height="4.2" fill="#ccc" stroke="#000" stroke-width="1.1"/>
<text x="368.20" y="173.30" font-size="7" text-anchor="start" font-weight="normal" fill="#111" >HP mouse 2</text>
<rect x="361.20" y="175.10" width="4.2" height="4.2" fill="url(#pp)" stroke="#000" stroke-width="1.1"/>
<text x="368.20" y="179.90" font-size="7" text-anchor="start" font-weight="normal" fill="#111" >HP mouse 3</text>
<rect x="361.20" y="182.40" width="4.2" height="4.2" fill="#888" stroke="#000" stroke-width="1.1"/>
<text x="368.20" y="187.20" font-size="7" text-anchor="start" font-weight="normal" fill="#111" >HP mouse 4</text>
<text x="54.50" y="9.20" font-size="12" text-anchor="start" font-weight="bold" fill="#000" >A</text>
<text x="-0.50" y="217.40" font-size="12.5" text-anchor="start" font-weight="bold" fill="#000" >B</text>
<text x="330.60" y="217.80" font-size="12" text-anchor="start" font-weight="bold" fill="#000" >C</text>
<text x="1.00" y="235.90" font-size="7.1" text-anchor="start" font-weight="normal" fill="#111" >HP</text>
<text x="0.90" y="243.50" font-size="7.1" text-anchor="start" font-weight="normal" fill="#111" >(strong NP-205 responses)</text>
<text x="1.00" y="283.60" font-size="7.1" text-anchor="start" font-weight="normal" fill="#111" >HP</text>
<text x="0.90" y="291.20" font-size="7.1" text-anchor="start" font-weight="normal" fill="#111" >(moderate NP-205 responses)</text>
<text x="1.00" y="330.70" font-size="7.1" text-anchor="start" font-weight="normal" fill="#111" >HP</text>
<text x="0.90" y="338.30" font-size="7.1" text-anchor="start" font-weight="normal" fill="#111" >(weak NP-205 responses)</text>
<text x="0.10" y="377.90" font-size="7.1" text-anchor="start" font-weight="normal" fill="#111" >wt B6</text>
<text x="0.90" y="385.50" font-size="7.1" text-anchor="start" font-weight="normal" fill="#111" >(strong NP-205 responses)</text>
<text x="113.10" y="213.10" font-size="7" text-anchor="start" font-weight="normal" fill="#111" >Non-stimulation</text>
<text x="167.30" y="213.10" font-size="7" text-anchor="start" font-weight="normal" fill="#111" >PV-NP-38</text>
<text x="211.00" y="213.10" font-size="7" text-anchor="start" font-weight="normal" fill="#111" >PV-NP-205</text>
<text x="252.10" y="213.10" font-size="7" text-anchor="start" font-weight="normal" fill="#111" >LCMV-NP-205</text>
<text transform="translate(110,236.6) rotate(-90)" font-size="6.8" fill="#111">CD44</text>
<path d="M108.3,246V411.2H290" stroke="#000" stroke-width="1" fill="none"/>
<path d="M108,242l-3,7.2h6z" fill="#000"/>
<path d="M296.5,411.2l-7.5,-2.5v5z" fill="#000"/>
<text x="300.60" y="414.00" font-size="7" text-anchor="start" font-weight="normal" fill="#111" >IFN&#947;</text>
<clipPath id="c00"><rect x="116.5" y="219.05" width="42.6" height="42.14999999999998"/></clipPath><g clip-path="url(#c00)">
<rect x="114.5" y="230.2" width="17.5" height="11.2" rx="3.5" fill="#000" filter="url(#bl)"/>
<ellipse cx="127.7" cy="236.2" rx="7.5" ry="5.2" fill="#000" fill-opacity="1" filter="url(#bl)"/>
<path d="M123.6,238.0h0.7M123.8,235.1h0.7M119.3,235.5h0.7M132.2,237.7h0.7M131.7,237.1h0.7M127.7,236.8h0.7M128.4,237.9h0.7M119.6,234.6h0.7M127.1,236.0h0.7M128.5,234.0h0.7M127.1,237.6h0.7M121.0,242.2h0.7M128.7,240.4h0.7M121.3,233.6h0.7M123.0,235.8h0.7M129.2,237.1h0.7M122.4,232.9h0.7M121.9,240.5h0.7M120.1,237.1h0.7M127.9,231.0h0.7M125.5,240.8h0.7M124.5,233.3h0.7M128.3,236.0h0.7M129.4,239.5h0.7M134.3,237.5h0.7M126.0,231.7h0.7M129.1,234.1h0.7M122.3,231.8h0.7M119.1,234.3h0.7M133.3,229.1h0.7M134.3,238.2h0.7M127.5,233.6h0.7M118.1,239.6h0.7M132.1,236.8h0.7M126.7,237.7h0.7M135.2,238.4h0.7M128.5,238.1h0.7M131.2,238.1h0.7M130.5,229.9h0.7M124.0,239.8h0.7M116.9,241.8h0.7M128.7,235.7h0.7M127.2,238.5h0.7M126.0,240.2h0.7M121.0,234.7h0.7M131.8,236.3h0.7M119.7,239.5h0.7M134.4,234.6h0.7M116.5,235.7h0.7M124.3,235.2h0.7M134.1,232.6h0.7M133.1,231.8h0.7M120.2,238.4h0.7M132.3,239.2h0.7M127.4,236.7h0.7M126.2,238.2h0.7M124.1,237.2h0.7M128.8,236.2h0.7M130.0,238.2h0.7M137.9,237.3h0.7M122.5,234.9h0.7M125.1,239.4h0.7M123.1,237.6h0.7M136.8,227.2h0.7M118.1,237.1h0.7M127.7,237.0h0.7M122.5,238.5h0.7M127.0,234.4h0.7M121.7,235.9h0.7M123.8,236.0h0.7M131.6,232.1h0.7M124.8,239.5h0.7M130.6,241.4h0.7M123.1,238.4h0.7M132.1,226.8h0.7M132.1,231.1h0.7M129.5,231.0h0.7M126.3,240.4h0.7M124.3,236.9h0.7M130.2,236.7h0.7M124.6,241.6h0.7M131.8,235.2h0.7M131.0,235.3h0.7M126.0,238.7h0.7M126.6,238.4h0.7M129.1,232.8h0.7M118.7,231.1h0.7M133.2,238.8h0.7M134.5,232.9h0.7M125.2,232.2h0.7M130.0,241.8h0.7M119.6,241.7h0.7M131.4,235.6h0.7M124.6,234.1h0.7M127.7,237.6h0.7M134.6,232.6h0.7M132.4,241.4h0.7M134.3,235.6h0.7M120.5,239.8h0.7M125.9,236.6h0.7M134.2,235.3h0.7M127.2,234.1h0.7M125.1,239.1h0.7M125.7,240.8h0.7M124.8,239.8h0.7M134.6,241.8h0.7M121.0,239.3h0.7M117.4,236.2h0.7M124.0,236.1h0.7M121.5,237.0h0.7M136.5,236.4h0.7M128.5,239.7h0.7M124.0,231.8h0.7M121.7,240.0h0.7M131.5,239.0h0.7M125.2,239.0h0.7M126.2,232.1h0.7M131.0,234.2h0.7M119.5,233.5h0.7M117.8,237.5h0.7M121.2,229.4h0.7M129.8,235.2h0.7M127.0,234.6h0.7M130.1,238.8h0.7M129.4,237.3h0.7M133.6,238.5h0.7M128.0,228.9h0.7M130.8,240.8h0.7M123.3,234.6h0.7M137.4,230.0h0.7M128.2,244.7h0.7M119.4,238.6h0.7M137.1,235.8h0.7M128.7,239.4h0.7M119.5,235.9h0.7M127.0,239.1h0.7M125.0,235.5h0.7M118.8,234.9h0.7M130.8,236.6h0.7M119.8,233.3h0.7M129.2,227.1h0.7M129.1,237.9h0.7M135.8,237.7h0.7M124.8,238.0h0.7M127.2,233.7h0.7M133.6,242.5h0.7M127.0,236.8h0.7M122.7,232.8h0.7M117.7,231.5h0.7M135.9,239.7h0.7M136.7,239.0h0.7M119.7,237.1h0.7M124.8,238.0h0.7M120.6,235.8h0.7M128.1,237.5h0.7M129.2,236.9h0.7M123.2,239.0h0.7M125.5,233.3h0.7M121.3,236.2h0.7M124.5,236.7h0.7M125.2,236.8h0.7M124.4,231.8h0.7M127.9,239.9h0.7M127.9,235.5h0.7M128.0,232.8h0.7M119.3,238.8h0.7M118.4,227.0h0.7M118.7,241.7h0.7M122.8,231.4h0.7M120.4,238.0h0.7M128.3,236.8h0.7M134.5,238.7h0.7M125.1,238.3h0.7M135.6,239.6h0.7M131.6,232.4h0.7M124.3,238.8h0.7M123.3,239.9h0.7M129.0,239.4h0.7M123.9,245.1h0.7M133.0,235.4h0.7M125.8,245.3h0.7M123.0,239.3h0.7M131.4,236.2h0.7M117.8,236.9h0.7M127.5,240.2h0.7M130.1,236.3h0.7M130.6,238.1h0.7M126.5,236.4h0.7M123.7,238.6h0.7M118.6,234.0h0.7M125.2,231.1h0.7M122.5,229.2h0.7M120.9,238.2h0.7M128.8,236.0h0.7M123.7,231.2h0.7M136.7,238.0h0.7M132.1,233.1h0.7M124.0,229.8h0.7M130.1,239.5h0.7M129.2,230.0h0.7M121.2,231.3h0.7M125.4,237.1h0.7M129.2,238.7h0.7M134.7,240.3h0.7M116.9,234.4h0.7M118.5,232.4h0.7M124.7,236.2h0.7M128.3,230.6h0.7M117.4,236.1h0.7M123.9,235.1h0.7M124.8,233.5h0.7M129.6,237.4h0.7M124.6,233.8h0.7M124.1,226.7h0.7M119.0,236.3h0.7M126.1,231.4h0.7M123.6,235.1h0.7M128.1,238.3h0.7M125.0,233.2h0.7M124.3,236.0h0.7M129.8,237.2h0.7M120.6,231.5h0.7M122.8,233.6h0.7M118.2,235.8h0.7M122.1,236.6h0.7M128.5,234.8h0.7M132.1,236.6h0.7M132.2,227.9h0.7M120.5,237.1h0.7M129.0,244.4h0.7M127.2,240.7h0.7M130.0,239.5h0.7M128.4,235.7h0.7M128.4,232.4h0.7M132.6,232.6h0.7M126.8,243.6h0.7M123.8,236.3h0.7M132.5,236.3h0.7M120.1,237.1h0.7M128.9,238.7h0.7M120.3,242.3h0.7M135.7,236.3h0.7M126.9,234.7h0.7M134.1,233.7h0.7M129.4,234.5h0.7M120.8,238.7h0.7M133.6,236.2h0.7M120.9,239.0h0.7M124.9,237.3h0.7M134.8,240.2h0.7M121.9,244.2h0.7M125.2,239.0h0.7M121.1,236.0h0.7M133.8,231.9h0.7M132.6,234.6h0.7M124.8,235.1h0.7M124.4,232.4h0.7M125.4,231.2h0.7M124.7,237.3h0.7M128.1,235.4h0.7M119.5,236.8h0.7M122.1,241.7h0.7M130.0,235.8h0.7M122.2,233.7h0.7M119.3,235.0h0.7M127.1,238.0h0.7M128.8,243.5h0.7M120.8,236.2h0.7M121.9,236.8h0.7M126.2,237.6h0.7M123.7,237.5h0.7M125.5,238.9h0.7M125.2,232.6h0.7M118.6,238.4h0.7M121.1,238.4h0.7M129.9,237.3h0.7M128.4,235.8h0.7M128.1,234.3h0.7M124.6,238.8h0.7M119.7,238.4h0.7M136.9,234.3h0.7M126.1,235.7h0.7M134.9,237.3h0.7M130.9,233.8h0.7M125.1,236.2h0.7M130.9,230.1h0.7M129.9,235.7h0.7M128.0,237.5h0.7M134.6,234.2h0.7M118.8,231.4h0.7M117.5,237.4h0.7M135.9,237.7h0.7M126.7,244.0h0.7M121.9,233.8h0.7M128.5,238.1h0.7M118.8,232.1h0.7M127.0,237.1h0.7M117.0,235.5h0.7M121.8,237.8h0.7M124.5,235.9h0.7M123.0,239.9h0.7M134.0,234.9h0.7M130.5,233.5h0.7M125.7,238.8h0.7M134.7,234.9h0.7M124.7,236.9h0.7M120.9,237.5h0.7M118.1,229.3h0.7M125.4,237.1h0.7M121.7,239.3h0.7M123.5,234.1h0.7M128.2,230.7h0.7M120.9,236.1h0.7M130.5,235.6h0.7M127.1,233.9h0.7M127.1,242.0h0.7M120.9,244.5h0.7M121.1,236.3h0.7M126.3,239.8h0.7M117.4,228.8h0.7M129.0,239.0h0.7M129.1,245.4h0.7M126.5,237.1h0.7M131.1,237.5h0.7M135.7,231.9h0.7M122.8,224.1h0.7M130.3,234.9h0.7M131.0,243.7h0.7M125.2,235.3h0.7M122.1,233.3h0.7M121.2,238.4h0.7M125.4,236.4h0.7M124.1,239.4h0.7M128.3,235.7h0.7M129.4,235.7h0.7M117.9,241.3h0.7M128.1,232.8h0.7M132.0,237.4h0.7M127.3,239.3h0.7M126.4,235.7h0.7M125.4,235.2h0.7M127.4,236.5h0.7M129.5,234.9h0.7M125.0,228.7h0.7M122.5,238.6h0.7M133.6,234.9h0.7M124.4,241.7h0.7M123.1,238.8h0.7M135.8,236.3h0.7M132.9,233.7h0.7M126.5,235.9h0.7M125.9,240.2h0.7M121.6,237.9h0.7M118.6,237.9h0.7M128.8,235.2h0.7M128.5,230.8h0.7M130.0,230.8h0.7M120.8,234.3h0.7M122.7,239.2h0.7M125.7,234.8h0.7M128.6,241.7h0.7M125.2,237.5h0.7M133.0,237.1h0.7M117.1,244.9h0.7M125.0,237.7h0.7M131.3,238.5h0.7M123.5,232.5h0.7M125.8,239.8h0.7M118.3,232.6h0.7M125.0,229.4h0.7M123.6,234.7h0.7M128.0,233.7h0.7M119.6,234.8h0.7M124.9,233.9h0.7M125.3,238.8h0.7M132.7,242.2h0.7M120.3,234.7h0.7M120.6,236.1h0.7M128.5,231.4h0.7M128.1,236.1h0.7M132.7,229.7h0.7M130.3,236.9h0.7M128.2,237.7h0.7M133.4,235.4h0.7M130.7,234.8h0.7M129.8,233.4h0.7M124.5,242.3h0.7M128.0,235.6h0.7M118.0,233.4h0.7M126.4,239.5h0.7M127.9,238.0h0.7M124.9,240.9h0.7M122.7,234.3h0.7M130.8,236.4h0.7M123.4,234.2h0.7M123.6,238.4h0.7M127.4,232.0h0.7M127.9,236.8h0.7M118.9,238.9h0.7M123.4,235.0h0.7M130.2,240.8h0.7M120.9,237.7h0.7M119.7,244.3h0.7M122.1,240.4h0.7M121.1,239.0h0.7M122.5,238.0h0.7M124.6,233.9h0.7M121.6,236.7h0.7M133.1,236.6h0.7M132.7,238.8h0.7M120.1,239.2h0.7M128.3,238.5h0.7M130.9,238.8h0.7M130.8,227.6h0.7M126.3,237.9h0.7M123.1,236.3h0.7M130.8,234.6h0.7M132.4,233.4h0.7M126.9,234.4h0.7M126.2,233.8h0.7M127.1,234.2h0.7M126.5,239.7h0.7M119.0,235.8h0.7M128.6,238.0h0.7M123.1,228.8h0.7M133.0,237.3h0.7M125.3,235.2h0.7M126.9,234.7h0.7M118.7,233.6h0.7M121.4,234.1h0.7M117.9,238.4h0.7M116.9,238.5h0.7M118.8,237.4h0.7M133.9,236.9h0.7M120.6,236.4h0.7M126.1,230.1h0.7M121.4,236.8h0.7M122.2,236.5h0.7M129.8,238.9h0.7M130.9,238.3h0.7M123.4,236.1h0.7M123.5,235.1h0.7M124.1,230.2h0.7M123.1,236.1h0.7M119.1,236.1h0.7M128.4,235.6h0.7M123.9,229.8h0.7M131.4,245.5h0.7M128.5,235.1h0.7M128.7,228.3h0.7M130.6,237.5h0.7M125.3,234.1h0.7M129.2,234.5h0.7M126.6,234.4h0.7M126.5,238.8h0.7M119.7,236.1h0.7M129.1,236.7h0.7M133.0,243.2h0.7M119.5,229.5h0.7M130.6,241.6h0.7M131.0,239.0h0.7M121.3,233.7h0.7M130.8,233.0h0.7M120.9,233.6h0.7M126.7,233.6h0.7M133.5,235.9h0.7M118.4,240.8h0.7M121.5,237.0h0.7M125.1,235.1h0.7M127.2,233.8h0.7M117.2,233.5h0.7M125.1,236.4h0.7M128.7,236.6h0.7M120.2,233.7h0.7M128.3,238.1h0.7M124.4,235.6h0.7M131.1,236.3h0.7M129.8,238.2h0.7M126.5,240.8h0.7M121.6,234.9h0.7M120.1,233.4h0.7M135.0,242.4h0.7M125.3,238.2h0.7M132.6,239.0h0.7M132.8,231.8h0.7M121.2,237.8h0.7M134.2,236.6h0.7M119.8,235.0h0.7M121.0,233.2h0.7M134.7,234.0h0.7M125.3,243.8h0.7M132.7,237.4h0.7M121.3,237.6h0.7M135.4,238.4h0.7M133.1,236.5h0.7M128.5,235.5h0.7M127.9,240.8h0.7M126.7,234.2h0.7M123.3,239.0h0.7M137.8,238.4h0.7M127.3,230.8h0.7M137.3,236.5h0.7M125.0,232.3h0.7M124.8,232.4h0.7M125.6,237.8h0.7M125.4,237.2h0.7M119.8,241.2h0.7M121.1,229.8h0.7M124.0,233.5h0.7M118.8,235.0h0.7M127.0,232.1h0.7M124.3,241.2h0.7M129.5,235.7h0.7M126.0,235.8h0.7M124.9,238.8h0.7M124.6,227.8h0.7M125.1,233.1h0.7M129.3,234.1h0.7M126.1,243.8h0.7M118.6,232.3h0.7M121.2,229.7h0.7M120.3,234.9h0.7M127.3,240.9h0.7M137.4,239.8h0.7M126.1,236.8h0.7M136.6,241.2h0.7M123.2,237.8h0.7M127.0,236.4h0.7M122.0,231.6h0.7M121.8,230.8h0.7M132.9,238.1h0.7M117.6,241.1h0.7M130.8,229.5h0.7M136.8,239.0h0.7M128.5,237.7h0.7M126.5,236.8h0.7M131.8,231.0h0.7M117.4,231.3h0.7M121.7,234.1h0.7M127.5,237.1h0.7M125.4,233.8h0.7M122.4,239.5h0.7M130.0,236.6h0.7M123.2,241.6h0.7M121.5,238.5h0.7M132.5,235.3h0.7M130.4,232.3h0.7M131.6,236.9h0.7M119.6,240.7h0.7M120.9,235.6h0.7M127.0,235.0h0.7M126.8,234.3h0.7M129.4,236.2h0.7M126.5,226.6h0.7M132.5,236.3h0.7M128.1,239.9h0.7M118.4,241.6h0.7M124.2,244.6h0.7M124.3,238.6h0.7M122.9,232.3h0.7M132.1,239.4h0.7M134.9,239.2h0.7M121.6,230.4h0.7M121.1,233.8h0.7M120.1,238.2h0.7M127.3,235.3h0.7M126.3,235.7h0.7M126.5,238.8h0.7M131.2,233.8h0.7M125.9,240.1h0.7M125.4,231.2h0.7M121.9,238.7h0.7M132.0,241.8h0.7M119.8,231.3h0.7M128.5,239.5h0.7M126.4,231.6h0.7M130.1,239.0h0.7M128.7,234.5h0.7M127.1,239.0h0.7" stroke="#000" stroke-width="0.7" stroke-opacity="0.7" fill="none"/>
<path d="M127.5,256.6h0.7M130.7,246.4h0.7M129.5,249.5h0.7M127.4,243.4h0.7M128.4,247.1h0.7M135.2,244.7h0.7M136.9,254.3h0.7M132.3,247.2h0.7M135.9,244.2h0.7M129.1,250.8h0.7M131.2,252.9h0.7M131.4,246.0h0.7M128.8,244.1h0.7M124.4,250.7h0.7M128.0,251.1h0.7M126.8,249.0h0.7M132.6,250.7h0.7M124.6,249.7h0.7M132.7,247.1h0.7M124.1,248.4h0.7M127.2,245.4h0.7M128.2,258.0h0.7M130.3,254.3h0.7M132.8,251.9h0.7M127.0,249.2h0.7M127.5,252.5h0.7M132.6,247.3h0.7M130.6,254.4h0.7M127.6,246.9h0.7M126.0,246.6h0.7M126.8,248.1h0.7M125.7,258.2h0.7M131.6,252.8h0.7M130.1,250.1h0.7M119.8,244.1h0.7M133.9,245.0h0.7M132.8,253.9h0.7M133.6,246.1h0.7M133.3,248.6h0.7M124.0,245.8h0.7M124.4,243.6h0.7M131.6,250.8h0.7M122.1,252.5h0.7M130.9,253.8h0.7M124.7,250.8h0.7M137.0,257.9h0.7M128.7,244.8h0.7M128.9,250.3h0.7M133.2,243.5h0.7M124.6,248.4h0.7M127.8,247.5h0.7M130.4,255.0h0.7M133.6,246.2h0.7M130.8,256.0h0.7M127.6,246.1h0.7" stroke="#000" stroke-width="0.7" stroke-opacity="0.38" fill="none"/>
<path d="M119.0,254.2h0.7M132.4,249.7h0.7M125.7,247.4h0.7M121.0,260.1h0.7M123.5,249.9h0.7M132.6,255.4h0.7M125.7,239.0h0.7M127.3,233.7h0.7M132.9,240.9h0.7M133.3,238.2h0.7M123.9,237.8h0.7M124.9,235.6h0.7M116.6,252.5h0.7M122.0,237.5h0.7" stroke="#000" stroke-width="0.7" stroke-opacity="0.35" fill="none"/>
<path d="M139.4,239.6h0.7M144.9,238.0h0.7M140.3,233.0h0.7M147.8,232.8h0.7M147.7,238.1h0.7M145.9,232.4h0.7" stroke="#000" stroke-width="0.7" stroke-opacity="0.4" fill="none"/>
</g>
<rect x="116.5" y="219.05" width="42.6" height="42.14999999999998" fill="none" stroke="#000" stroke-width="1.35"/>
<path d="M136.2,219.05V261.2M116.5,242.8H159.1" stroke="#000" stroke-width="1.2" fill="none"/>
<path d="M115.2,221.7h1.3M119.2,261.2v1.3M115.2,224.3h1.3M121.8,261.2v1.3M115.2,227.0h1.3M124.5,261.2v1.3M115.2,229.6h1.3M127.2,261.2v1.3M115.2,232.2h1.3M129.8,261.2v1.3M115.2,234.9h1.3M132.5,261.2v1.3M115.2,237.5h1.3M135.1,261.2v1.3M115.2,240.1h1.3M137.8,261.2v1.3M115.2,242.8h1.3M140.5,261.2v1.3M115.2,245.4h1.3M143.1,261.2v1.3M115.2,248.0h1.3M145.8,261.2v1.3M115.2,250.7h1.3M148.4,261.2v1.3M115.2,253.3h1.3M151.1,261.2v1.3M115.2,255.9h1.3M153.8,261.2v1.3M115.2,258.6h1.3M156.4,261.2v1.3" stroke="#000" stroke-width="0.6" stroke-opacity="0.6"/>
<text x="157.50" y="225.35" font-size="7" text-anchor="end" font-weight="normal" fill="#111" >0.24</text>
<clipPath id="c01"><rect x="161.75" y="219.05" width="42.6" height="42.14999999999998"/></clipPath><g clip-path="url(#c01)">
<rect x="159.8" y="230.2" width="18.5" height="11.2" rx="3.5" fill="#000" filter="url(#bl)"/>
<ellipse cx="173.9" cy="236.2" rx="7.5" ry="5.2" fill="#000" fill-opacity="1" filter="url(#bl)"/>
<path d="M179.0,241.3h0.7M170.7,235.7h0.7M168.8,234.0h0.7M174.3,237.4h0.7M172.6,242.2h0.7M169.4,237.9h0.7M180.6,232.7h0.7M178.0,242.6h0.7M162.9,232.4h0.7M164.9,229.7h0.7M174.3,229.7h0.7M174.6,241.3h0.7M166.8,235.3h0.7M171.8,238.1h0.7M169.3,236.3h0.7M168.0,236.6h0.7M164.1,236.4h0.7M163.5,237.1h0.7M165.3,230.4h0.7M166.8,238.8h0.7M173.9,235.9h0.7M165.6,232.4h0.7M180.0,237.1h0.7M165.5,228.8h0.7M162.8,244.9h0.7M164.2,235.9h0.7M172.8,235.6h0.7M169.7,231.4h0.7M164.8,242.1h0.7M166.7,239.2h0.7M173.1,239.8h0.7M164.4,238.3h0.7M173.9,233.6h0.7M174.5,233.1h0.7M166.4,236.1h0.7M165.1,231.1h0.7M168.8,238.9h0.7M168.9,240.6h0.7M164.1,231.6h0.7M181.2,237.6h0.7M177.4,233.3h0.7M176.5,237.1h0.7M175.5,236.3h0.7M179.0,233.9h0.7M165.4,231.0h0.7M178.8,233.6h0.7M164.9,232.9h0.7M168.6,231.8h0.7M169.6,234.0h0.7M168.0,232.8h0.7M171.7,234.6h0.7M172.2,237.1h0.7M173.6,228.5h0.7M168.1,233.4h0.7M176.3,230.7h0.7M166.9,235.2h0.7M169.3,239.7h0.7M168.7,239.6h0.7M162.2,229.9h0.7M179.1,237.7h0.7M174.5,236.6h0.7M174.5,231.9h0.7M177.4,234.3h0.7M177.7,236.5h0.7M178.6,235.7h0.7M169.0,237.0h0.7M168.8,234.3h0.7M172.1,236.7h0.7M181.0,236.4h0.7M183.3,242.5h0.7M182.3,239.9h0.7M172.3,236.7h0.7M170.6,233.6h0.7M171.0,234.0h0.7M181.8,238.1h0.7M168.6,229.5h0.7M171.1,234.7h0.7M164.6,232.2h0.7M171.0,245.2h0.7M171.3,235.7h0.7M180.5,236.7h0.7M172.5,234.9h0.7M167.6,241.4h0.7M177.8,242.2h0.7M169.2,236.3h0.7M165.9,239.6h0.7M162.7,238.2h0.7M178.4,241.1h0.7M165.5,240.0h0.7M167.0,233.6h0.7M163.1,240.2h0.7M181.8,234.1h0.7M166.7,235.0h0.7M168.0,229.9h0.7M167.2,240.4h0.7M183.2,235.3h0.7M167.1,234.4h0.7M164.6,239.9h0.7M173.3,233.5h0.7M176.4,236.2h0.7M164.0,238.4h0.7M176.8,229.5h0.7M183.0,237.9h0.7M176.2,229.7h0.7M166.9,235.0h0.7M178.2,231.1h0.7M165.9,229.1h0.7M169.9,237.4h0.7M174.7,241.7h0.7M175.6,235.1h0.7M164.0,232.9h0.7M167.3,236.7h0.7M171.1,242.0h0.7M173.3,232.4h0.7M181.2,239.5h0.7M172.1,233.7h0.7M177.2,233.4h0.7M163.1,236.9h0.7M173.0,238.3h0.7M175.6,241.1h0.7M166.2,239.6h0.7M165.2,238.6h0.7M172.6,237.1h0.7M177.5,236.1h0.7M178.5,239.3h0.7M172.3,234.2h0.7M166.7,234.4h0.7M170.2,236.1h0.7M176.3,233.2h0.7M167.0,235.1h0.7M172.7,232.6h0.7M181.6,234.2h0.7M178.2,228.0h0.7M171.4,237.2h0.7M172.7,238.3h0.7M173.2,236.8h0.7M173.4,235.5h0.7M166.3,234.2h0.7M183.1,242.3h0.7M171.1,240.7h0.7M168.4,233.1h0.7M167.9,236.9h0.7M171.8,237.2h0.7M171.2,239.5h0.7M182.6,231.8h0.7M172.5,235.3h0.7M173.7,230.8h0.7M174.8,236.9h0.7M171.9,227.9h0.7M169.1,233.6h0.7M162.5,233.0h0.7M175.8,238.1h0.7M171.3,238.0h0.7M167.6,236.4h0.7M171.7,238.1h0.7M171.0,235.7h0.7M170.6,233.9h0.7M174.2,244.2h0.7M180.3,230.8h0.7M175.8,239.1h0.7M183.3,240.8h0.7M176.3,232.1h0.7M166.0,237.1h0.7M174.6,232.6h0.7M169.0,234.8h0.7M171.8,237.4h0.7M169.6,231.9h0.7M179.3,241.8h0.7M170.8,239.8h0.7M174.2,238.5h0.7M174.5,233.5h0.7M175.1,239.7h0.7M165.8,243.1h0.7M169.3,234.1h0.7M166.3,236.6h0.7M171.2,238.5h0.7M175.7,237.9h0.7M173.2,235.5h0.7M170.7,233.3h0.7M172.6,236.1h0.7M173.5,233.2h0.7M171.7,236.4h0.7M175.3,232.5h0.7M174.1,239.6h0.7M175.2,234.9h0.7M168.4,235.4h0.7M176.0,241.6h0.7M170.5,234.0h0.7M173.8,236.9h0.7M165.7,233.6h0.7M170.8,238.6h0.7M163.9,232.6h0.7M174.6,231.9h0.7M172.1,237.4h0.7M170.8,232.6h0.7M171.1,235.0h0.7M173.6,233.3h0.7M178.3,230.3h0.7M170.3,236.2h0.7M177.5,234.1h0.7M174.9,234.2h0.7M176.1,242.3h0.7M168.9,237.8h0.7M165.6,239.6h0.7M179.1,236.3h0.7M164.3,237.6h0.7M178.7,240.0h0.7M176.6,229.8h0.7M167.2,241.2h0.7M163.7,240.2h0.7M183.3,238.9h0.7M178.5,235.0h0.7M163.7,235.8h0.7M170.2,236.0h0.7M175.8,235.7h0.7M172.7,237.7h0.7M171.4,242.7h0.7M174.2,236.5h0.7M170.1,234.0h0.7M179.9,236.7h0.7M164.7,234.2h0.7M170.6,234.6h0.7M178.3,232.1h0.7M174.5,236.7h0.7M164.0,236.4h0.7M170.9,238.0h0.7M168.6,237.3h0.7M176.4,239.8h0.7M171.4,234.1h0.7M178.3,228.9h0.7M166.4,238.6h0.7M175.6,232.6h0.7M172.4,233.1h0.7M171.8,239.4h0.7M176.1,228.9h0.7M176.3,230.0h0.7M178.6,237.6h0.7M171.5,239.9h0.7M167.4,233.7h0.7M169.1,235.9h0.7M164.6,237.9h0.7M174.9,236.5h0.7M182.2,235.1h0.7M179.7,234.3h0.7M176.2,229.4h0.7M172.7,235.6h0.7M168.3,234.1h0.7M169.3,233.7h0.7M168.0,234.4h0.7M164.8,235.7h0.7M176.4,235.3h0.7M168.3,241.0h0.7M177.6,239.4h0.7M178.7,235.1h0.7M170.6,240.1h0.7M168.0,235.8h0.7M173.8,237.5h0.7M169.7,239.6h0.7M170.3,238.7h0.7M178.2,238.5h0.7M176.1,232.1h0.7M163.2,234.0h0.7M174.4,241.5h0.7M163.7,237.3h0.7M166.1,233.6h0.7M169.7,238.6h0.7M172.8,240.3h0.7M165.2,239.3h0.7M177.3,236.4h0.7M174.5,234.2h0.7M164.6,234.8h0.7M167.4,246.3h0.7M168.4,242.0h0.7M172.7,237.3h0.7M176.1,233.5h0.7M177.2,237.5h0.7M161.9,238.3h0.7M174.9,237.8h0.7M181.4,234.7h0.7M174.7,238.8h0.7M165.8,240.4h0.7M162.3,231.6h0.7M174.7,232.4h0.7M170.7,230.4h0.7M171.9,232.2h0.7M173.6,230.8h0.7M174.3,235.3h0.7M171.9,236.0h0.7M172.3,231.6h0.7M165.6,234.6h0.7M174.1,229.3h0.7M166.6,234.1h0.7M164.8,237.3h0.7M170.6,233.3h0.7M165.2,239.0h0.7M167.3,238.2h0.7M174.3,229.6h0.7M164.6,236.2h0.7M173.6,238.9h0.7M176.5,239.8h0.7M169.1,235.5h0.7M176.3,234.7h0.7M178.1,230.6h0.7M175.6,235.6h0.7M173.4,236.3h0.7M164.7,234.6h0.7M181.0,233.3h0.7M163.9,235.7h0.7M169.0,233.0h0.7M166.1,239.9h0.7M162.4,243.0h0.7M168.0,232.4h0.7M176.4,238.2h0.7M164.9,238.8h0.7M178.5,235.3h0.7M163.2,238.0h0.7M177.2,236.1h0.7M174.1,238.9h0.7M183.1,235.3h0.7M168.4,236.1h0.7M179.0,232.9h0.7M179.7,226.6h0.7M176.5,233.8h0.7M174.3,238.6h0.7M164.0,235.9h0.7M173.0,238.3h0.7M165.6,232.7h0.7M170.2,235.4h0.7M162.0,239.5h0.7M168.1,241.2h0.7M176.8,236.3h0.7M176.0,232.3h0.7M169.4,234.2h0.7M163.5,236.3h0.7M170.5,241.2h0.7M165.7,234.6h0.7M174.1,237.6h0.7M171.6,234.5h0.7M174.6,237.5h0.7M162.8,232.1h0.7M172.4,236.4h0.7M172.2,233.1h0.7M170.2,233.0h0.7M173.9,238.6h0.7M182.5,240.6h0.7M166.4,234.6h0.7M165.5,237.3h0.7M163.3,238.0h0.7M171.5,237.2h0.7M182.7,233.3h0.7M166.1,243.1h0.7M173.6,233.5h0.7M171.7,239.7h0.7M170.6,233.8h0.7M166.8,242.9h0.7M171.6,238.4h0.7M168.9,237.9h0.7M176.6,235.7h0.7M168.6,235.5h0.7M165.4,235.5h0.7M169.5,236.9h0.7M179.9,240.8h0.7M168.6,238.3h0.7M173.3,238.9h0.7M171.6,237.1h0.7M168.5,233.5h0.7M176.9,240.7h0.7M175.6,237.7h0.7M173.1,234.6h0.7M172.7,234.3h0.7M165.4,240.7h0.7M175.5,244.5h0.7M166.9,236.1h0.7M168.3,236.7h0.7M170.1,233.6h0.7M178.2,233.5h0.7M168.3,238.1h0.7M168.1,234.7h0.7M173.7,234.9h0.7M163.6,235.8h0.7M170.1,242.2h0.7M164.5,239.6h0.7M166.5,235.0h0.7M169.4,237.1h0.7M176.9,242.3h0.7M167.4,240.9h0.7M177.7,239.0h0.7M166.7,239.4h0.7M170.8,237.4h0.7M169.8,238.5h0.7M178.5,240.2h0.7M170.2,239.7h0.7M180.6,232.9h0.7M180.7,231.5h0.7M174.9,238.3h0.7M180.8,237.2h0.7M168.4,233.4h0.7M163.6,238.9h0.7M170.0,233.7h0.7M174.8,233.5h0.7M168.7,234.6h0.7M181.9,241.3h0.7M170.5,230.7h0.7M173.2,236.5h0.7M173.6,238.2h0.7M169.4,239.4h0.7M176.7,236.9h0.7M168.9,234.5h0.7M175.8,232.4h0.7M170.4,233.6h0.7M162.7,238.3h0.7M171.3,236.3h0.7M177.0,231.0h0.7M171.0,237.2h0.7M176.7,232.4h0.7M176.0,237.0h0.7M180.0,240.2h0.7M174.9,243.7h0.7M171.4,234.7h0.7M169.3,232.9h0.7M171.3,229.6h0.7M170.9,237.7h0.7M177.7,235.0h0.7M180.2,233.9h0.7M170.6,229.6h0.7M166.7,233.4h0.7M180.6,238.0h0.7M164.7,238.0h0.7M174.4,235.4h0.7M171.6,235.2h0.7M168.1,230.1h0.7M170.9,240.6h0.7M180.3,235.2h0.7M166.9,235.5h0.7M177.0,237.4h0.7M167.9,237.4h0.7M170.2,238.0h0.7M168.9,231.2h0.7M171.8,238.8h0.7M164.6,235.8h0.7M176.8,234.9h0.7M167.5,243.1h0.7M176.5,239.7h0.7M165.6,241.8h0.7M176.0,240.7h0.7M165.7,233.9h0.7M172.7,229.6h0.7M175.4,238.1h0.7M168.7,238.0h0.7M176.2,237.3h0.7M174.6,241.3h0.7M168.5,236.7h0.7M168.3,239.7h0.7M169.0,237.8h0.7M172.3,236.4h0.7M181.9,235.9h0.7M180.1,239.0h0.7M179.5,235.6h0.7M177.1,238.8h0.7M167.7,237.1h0.7M170.7,236.1h0.7M179.4,233.8h0.7M168.7,234.0h0.7M171.5,238.1h0.7M182.2,237.2h0.7M174.3,233.7h0.7M175.0,240.8h0.7M179.6,229.6h0.7M176.9,241.5h0.7M176.5,231.2h0.7M169.6,238.2h0.7M174.0,233.5h0.7M166.0,239.5h0.7M163.4,241.0h0.7M171.6,237.2h0.7M163.4,234.2h0.7M175.6,231.2h0.7M164.0,236.3h0.7M174.4,238.7h0.7M169.2,235.5h0.7M170.0,234.3h0.7M173.0,236.7h0.7M167.6,237.0h0.7M171.4,235.9h0.7M178.1,230.4h0.7M173.0,232.6h0.7M169.5,241.2h0.7M164.9,235.9h0.7M167.9,239.4h0.7M165.5,230.5h0.7M174.6,235.0h0.7M169.5,239.8h0.7M166.1,234.9h0.7M172.3,237.6h0.7M168.3,239.7h0.7M182.8,229.1h0.7M180.0,235.0h0.7M172.3,235.1h0.7M167.6,231.9h0.7M169.1,240.6h0.7M178.3,235.0h0.7M168.3,233.8h0.7M164.2,242.3h0.7M175.5,236.6h0.7M168.5,232.8h0.7M179.4,238.8h0.7M165.7,239.5h0.7M164.8,238.4h0.7M165.6,234.8h0.7M174.4,237.7h0.7M177.6,233.4h0.7M181.0,240.7h0.7M171.4,237.8h0.7M166.7,235.7h0.7M163.5,236.5h0.7M172.7,240.7h0.7M177.2,238.9h0.7M169.3,235.4h0.7M169.4,236.9h0.7M162.0,234.5h0.7M171.6,234.5h0.7M181.5,235.9h0.7M181.0,240.1h0.7M168.4,237.5h0.7M179.3,235.1h0.7M172.0,234.3h0.7M171.8,235.0h0.7M171.9,239.6h0.7M179.9,236.6h0.7M172.7,239.1h0.7M169.7,232.6h0.7M178.2,233.1h0.7M177.1,233.0h0.7M182.5,232.7h0.7M176.6,241.2h0.7M165.6,241.2h0.7M166.5,230.3h0.7M175.8,238.6h0.7M170.2,227.7h0.7M171.1,235.2h0.7M169.2,235.2h0.7M182.3,241.4h0.7M169.3,233.8h0.7M173.8,239.8h0.7M175.8,232.3h0.7M172.4,236.7h0.7M180.1,240.2h0.7M174.6,240.3h0.7M169.1,241.4h0.7M168.9,237.5h0.7M177.0,233.1h0.7M167.2,230.3h0.7M172.4,236.0h0.7M169.5,237.9h0.7M172.0,235.3h0.7M176.3,242.1h0.7M168.8,233.0h0.7M167.8,236.5h0.7M175.0,233.3h0.7M177.5,232.8h0.7M176.5,237.6h0.7M174.3,243.4h0.7M169.9,235.6h0.7M174.3,239.1h0.7M163.4,237.1h0.7M167.0,238.3h0.7M179.7,236.4h0.7M170.8,236.8h0.7M174.8,236.8h0.7M169.1,233.7h0.7M170.4,240.3h0.7M170.8,240.7h0.7M173.1,236.2h0.7M179.0,231.9h0.7M165.5,232.5h0.7M168.1,238.4h0.7M175.0,229.4h0.7M180.3,234.2h0.7M167.9,241.8h0.7M171.0,232.0h0.7M167.6,233.8h0.7M165.3,235.1h0.7M176.8,237.4h0.7M163.1,245.6h0.7M165.5,236.6h0.7M171.6,238.8h0.7M169.5,237.7h0.7M164.9,237.3h0.7M166.6,235.0h0.7M172.6,237.3h0.7M169.7,239.1h0.7M170.3,231.8h0.7M176.8,235.0h0.7" stroke="#000" stroke-width="0.7" stroke-opacity="0.7" fill="none"/>
<path d="M178.9,247.5h0.7M176.7,245.1h0.7M165.4,253.6h0.7M170.9,252.9h0.7M168.2,249.4h0.7M178.5,246.4h0.7M177.1,246.4h0.7M174.7,244.4h0.7M176.2,247.9h0.7M174.0,247.8h0.7M172.8,245.8h0.7M169.0,251.8h0.7M173.3,246.8h0.7M173.6,244.6h0.7M177.4,257.1h0.7M173.7,246.2h0.7M176.4,251.4h0.7M178.4,250.4h0.7M177.0,245.2h0.7M172.0,253.9h0.7M172.6,249.0h0.7M173.3,248.9h0.7M178.2,245.5h0.7M179.6,245.8h0.7M172.6,250.4h0.7M172.5,246.1h0.7M174.2,243.1h0.7M178.9,247.2h0.7M176.0,243.0h0.7M170.4,250.7h0.7M174.0,245.7h0.7M175.9,246.3h0.7M174.9,246.0h0.7M176.2,250.0h0.7M170.1,245.2h0.7M169.8,246.5h0.7M172.2,246.8h0.7M174.6,248.6h0.7M173.3,255.2h0.7M175.3,249.2h0.7M172.0,244.6h0.7M166.3,245.4h0.7M175.1,243.5h0.7M169.6,244.5h0.7M175.3,249.8h0.7M177.3,243.2h0.7M174.8,246.1h0.7M176.7,243.5h0.7M178.7,246.1h0.7M172.6,244.4h0.7M177.9,245.4h0.7M176.1,246.6h0.7M174.1,259.7h0.7" stroke="#000" stroke-width="0.7" stroke-opacity="0.38" fill="none"/>
<path d="M164.9,230.7h0.7M177.1,237.4h0.7M181.1,245.5h0.7M174.3,240.6h0.7M177.5,244.2h0.7M168.1,258.2h0.7M163.9,252.8h0.7M163.0,250.1h0.7M169.7,256.9h0.7M162.9,247.5h0.7M169.8,258.7h0.7M180.4,249.5h0.7M166.2,237.7h0.7M166.9,243.4h0.7" stroke="#000" stroke-width="0.7" stroke-opacity="0.35" fill="none"/>
<path d="M187.3,233.3h0.7M195.9,233.8h0.7M188.7,233.4h0.7M194.4,232.4h0.7M185.7,234.1h0.7M188.0,231.4h0.7M198.2,232.5h0.7M189.4,232.1h0.7M192.6,232.9h0.7M196.7,231.9h0.7M194.9,231.3h0.7M200.9,232.4h0.7M186.8,233.5h0.7M198.7,231.6h0.7M200.5,232.8h0.7M203.2,233.5h0.7M188.7,233.2h0.7M202.8,232.0h0.7M182.6,233.6h0.7M197.8,231.9h0.7M184.5,233.7h0.7M184.3,234.2h0.7M189.5,234.0h0.7M200.9,231.3h0.7M202.9,232.6h0.7M199.0,232.3h0.7M196.9,233.3h0.7M187.3,233.1h0.7M191.4,232.7h0.7M203.2,232.0h0.7M189.1,233.1h0.7M192.6,232.2h0.7M185.3,232.5h0.7M196.8,232.5h0.7M185.5,232.9h0.7M184.8,231.9h0.7M189.8,230.7h0.7M189.8,232.7h0.7M186.9,234.7h0.7M197.7,231.8h0.7M188.2,233.1h0.7M183.9,233.7h0.7M183.4,232.2h0.7M194.1,232.4h0.7M190.0,234.1h0.7M196.1,232.4h0.7M193.8,231.1h0.7M203.0,231.5h0.7M200.7,231.9h0.7M189.1,231.9h0.7M191.2,233.5h0.7M190.5,232.5h0.7M191.0,234.6h0.7M182.6,235.7h0.7M195.2,233.0h0.7M195.2,232.1h0.7M190.3,232.7h0.7M184.9,233.6h0.7M200.1,232.5h0.7M183.5,231.2h0.7M197.0,231.7h0.7M193.9,233.6h0.7M189.0,232.8h0.7M198.0,232.2h0.7M200.3,230.9h0.7M203.2,231.8h0.7M187.3,231.8h0.7M190.4,231.6h0.7M197.3,231.4h0.7M195.3,233.1h0.7M196.6,231.7h0.7M193.8,233.6h0.7M187.1,232.3h0.7M201.4,231.5h0.7M192.3,232.4h0.7M192.4,231.5h0.7M187.1,234.2h0.7M193.5,234.1h0.7M193.4,230.9h0.7M187.4,232.6h0.7M186.1,233.4h0.7M195.8,231.4h0.7M199.7,233.5h0.7M183.4,232.0h0.7M190.4,233.5h0.7M185.0,231.5h0.7M185.7,232.9h0.7M189.9,233.1h0.7M199.2,231.2h0.7M184.3,232.9h0.7M190.7,234.0h0.7M191.8,232.6h0.7M192.4,233.0h0.7M185.6,231.5h0.7M196.7,231.6h0.7" stroke="#000" stroke-width="0.7" stroke-opacity="0.7" fill="none"/>
</g>
<rect x="161.75" y="219.05" width="42.6" height="42.14999999999998" fill="none" stroke="#000" stroke-width="1.35"/>
<path d="M181.45,219.05V261.2M161.75,242.8H204.35" stroke="#000" stroke-width="1.2" fill="none"/>
<path d="M160.45,221.7h1.3M164.4,261.2v1.3M160.45,224.3h1.3M167.1,261.2v1.3M160.45,227.0h1.3M169.7,261.2v1.3M160.45,229.6h1.3M172.4,261.2v1.3M160.45,232.2h1.3M175.1,261.2v1.3M160.45,234.9h1.3M177.7,261.2v1.3M160.45,237.5h1.3M180.4,261.2v1.3M160.45,240.1h1.3M183.1,261.2v1.3M160.45,242.8h1.3M185.7,261.2v1.3M160.45,245.4h1.3M188.4,261.2v1.3M160.45,248.0h1.3M191.0,261.2v1.3M160.45,250.7h1.3M193.7,261.2v1.3M160.45,253.3h1.3M196.4,261.2v1.3M160.45,255.9h1.3M199.0,261.2v1.3M160.45,258.6h1.3M201.7,261.2v1.3" stroke="#000" stroke-width="0.6" stroke-opacity="0.6"/>
<text x="202.75" y="225.35" font-size="7" text-anchor="end" font-weight="normal" fill="#111" >1.87</text>
<clipPath id="c02"><rect x="207.1" y="219.05" width="42.6" height="42.14999999999998"/></clipPath><g clip-path="url(#c02)">
<ellipse cx="219.3" cy="236.0" rx="8.6" ry="6.0" fill="#000" fill-opacity="1" filter="url(#bl)"/>
<ellipse cx="214.6" cy="235.6" rx="7" ry="4.3" fill="#000" fill-opacity="1" filter="url(#bl)"/>
<ellipse cx="222.1" cy="236.4" rx="5.5" ry="5.6" fill="#000" fill-opacity="1" filter="url(#bl)"/>
<path d="M224.3,236.5h0.7M224.6,234.4h0.7M223.8,238.5h0.7M219.1,235.1h0.7M217.7,238.6h0.7M227.6,235.7h0.7M224.1,236.5h0.7M223.5,237.7h0.7M215.3,230.7h0.7M223.8,233.7h0.7M214.5,239.8h0.7M220.5,232.5h0.7M226.0,235.2h0.7M224.8,232.4h0.7M209.4,234.1h0.7M223.6,229.2h0.7M211.8,239.5h0.7M212.7,234.6h0.7M213.7,241.5h0.7M223.2,233.1h0.7M223.9,228.7h0.7M218.9,236.2h0.7M217.2,232.9h0.7M214.7,229.7h0.7M221.4,232.8h0.7M222.2,239.1h0.7M214.3,232.0h0.7M219.0,238.6h0.7M210.2,236.0h0.7M212.2,241.3h0.7M221.0,230.5h0.7M215.0,236.4h0.7M215.5,236.5h0.7M221.1,236.9h0.7M215.9,241.2h0.7M224.1,235.1h0.7M217.8,233.9h0.7M209.6,235.0h0.7M218.8,234.9h0.7M212.5,225.5h0.7M207.4,239.1h0.7M223.1,235.8h0.7M218.5,239.0h0.7M218.2,236.0h0.7M224.0,236.0h0.7M216.0,235.2h0.7M219.6,233.8h0.7M222.8,240.3h0.7M221.1,233.5h0.7M223.6,231.6h0.7M219.2,232.0h0.7M227.1,238.6h0.7M217.9,234.5h0.7M225.7,232.4h0.7M223.0,235.0h0.7M223.1,237.0h0.7M213.6,234.7h0.7M207.6,233.0h0.7M214.8,239.7h0.7M215.9,237.1h0.7M217.1,231.6h0.7M222.2,242.8h0.7M222.4,240.4h0.7M222.3,239.6h0.7M214.4,231.0h0.7M218.7,234.9h0.7M213.9,237.8h0.7M221.4,241.3h0.7M224.8,239.7h0.7M216.6,234.7h0.7M214.5,240.6h0.7M213.3,236.9h0.7M220.4,235.9h0.7M216.9,237.7h0.7M214.1,236.7h0.7M226.9,234.3h0.7M225.9,240.6h0.7M227.8,239.7h0.7M217.8,239.5h0.7M219.9,234.6h0.7M215.1,234.7h0.7M217.8,230.7h0.7M220.9,231.4h0.7M222.7,241.1h0.7M226.4,241.9h0.7M228.5,244.5h0.7M218.2,233.3h0.7M217.7,232.8h0.7M227.2,228.1h0.7M218.9,239.6h0.7M222.6,239.3h0.7M212.2,234.7h0.7M217.9,238.0h0.7M222.5,241.5h0.7M211.0,237.3h0.7M220.3,239.3h0.7M217.4,241.0h0.7M215.4,239.2h0.7M220.4,233.7h0.7M220.1,236.1h0.7M214.6,236.9h0.7M213.4,240.3h0.7M222.0,239.9h0.7M223.1,237.3h0.7M210.4,235.3h0.7M219.0,234.6h0.7M218.4,235.1h0.7M215.9,233.3h0.7M215.8,232.6h0.7M225.2,237.3h0.7M221.9,239.1h0.7M216.6,240.1h0.7M207.9,234.2h0.7M219.0,242.2h0.7M225.8,239.2h0.7M223.5,234.5h0.7M217.9,234.1h0.7M219.4,232.1h0.7M216.9,234.6h0.7M221.7,234.3h0.7M221.0,238.0h0.7M221.9,239.1h0.7M213.2,236.7h0.7M217.9,240.0h0.7M216.1,237.4h0.7M210.7,235.3h0.7M214.4,236.2h0.7M215.0,236.1h0.7M220.2,232.9h0.7M223.3,234.3h0.7M222.8,236.7h0.7M227.0,237.4h0.7M208.9,238.6h0.7M220.4,228.1h0.7M208.1,240.9h0.7M220.8,233.9h0.7M207.8,232.7h0.7M228.2,228.5h0.7M222.0,244.5h0.7M219.6,233.2h0.7M222.0,238.4h0.7M221.1,235.7h0.7M209.2,238.1h0.7M223.3,237.7h0.7M221.8,236.8h0.7M224.1,248.1h0.7M215.3,237.2h0.7M211.6,230.1h0.7M218.8,241.1h0.7M212.9,234.7h0.7M215.4,231.4h0.7M210.0,236.6h0.7M215.9,235.5h0.7M212.9,241.0h0.7M209.4,240.5h0.7M227.5,243.2h0.7M213.3,236.0h0.7M210.6,230.2h0.7M223.3,237.7h0.7M215.6,243.1h0.7M213.9,237.5h0.7M214.7,237.4h0.7M225.2,236.5h0.7M225.9,240.7h0.7M213.4,235.3h0.7M212.5,237.5h0.7M207.7,232.8h0.7M212.9,240.5h0.7M223.4,237.8h0.7M213.7,230.7h0.7M211.9,236.3h0.7M218.0,235.6h0.7M218.7,241.1h0.7M226.0,232.0h0.7M222.8,233.1h0.7M220.1,236.9h0.7M224.3,238.9h0.7M211.3,235.8h0.7M221.2,235.5h0.7M228.3,231.4h0.7M221.9,236.8h0.7M215.6,235.8h0.7M216.9,237.2h0.7M215.0,235.0h0.7M222.0,239.9h0.7M213.1,239.0h0.7M214.7,227.5h0.7M218.6,225.7h0.7M217.8,238.6h0.7M225.2,238.4h0.7M218.6,239.8h0.7M216.3,237.2h0.7M214.1,235.2h0.7M220.9,229.6h0.7M214.5,232.8h0.7M218.1,242.9h0.7M212.8,235.5h0.7M216.4,233.5h0.7M213.8,239.4h0.7M217.0,233.6h0.7M211.0,233.2h0.7M224.0,232.8h0.7M218.7,237.4h0.7M218.3,238.9h0.7M210.4,232.6h0.7M216.2,236.2h0.7M208.2,239.2h0.7M219.8,241.8h0.7M216.4,232.3h0.7M214.3,239.5h0.7M220.4,236.1h0.7M209.6,235.1h0.7M226.2,227.7h0.7M226.9,232.4h0.7M209.4,234.7h0.7M213.1,241.6h0.7M216.3,235.2h0.7M213.9,238.6h0.7M225.6,239.1h0.7M208.7,235.1h0.7M221.4,229.1h0.7M217.3,239.2h0.7M227.4,237.6h0.7M223.4,239.0h0.7M220.3,229.4h0.7M217.6,233.1h0.7M223.8,234.6h0.7M219.7,236.0h0.7M224.9,229.4h0.7M222.8,239.4h0.7M214.9,238.8h0.7M210.9,236.7h0.7M213.2,239.6h0.7M227.3,231.8h0.7M220.1,233.4h0.7M209.4,235.7h0.7M224.5,239.9h0.7M214.8,235.0h0.7M227.2,235.8h0.7M221.6,233.2h0.7M216.2,238.8h0.7M216.8,236.3h0.7M221.0,230.6h0.7M215.4,234.6h0.7M212.8,236.8h0.7M215.7,234.4h0.7M227.1,241.1h0.7M216.8,234.0h0.7M208.4,229.6h0.7M227.8,236.0h0.7M212.8,231.3h0.7M225.7,234.9h0.7M221.9,239.2h0.7M213.0,231.0h0.7M217.4,237.7h0.7M216.6,235.5h0.7M220.6,232.7h0.7M222.5,239.3h0.7M211.1,233.1h0.7M215.6,233.7h0.7M216.3,239.7h0.7M209.4,237.3h0.7M215.5,233.4h0.7M209.3,228.7h0.7M218.6,240.8h0.7M212.4,238.4h0.7M210.4,237.5h0.7M216.3,234.6h0.7M209.2,234.1h0.7M215.3,240.5h0.7M222.1,237.5h0.7M214.1,236.8h0.7M223.0,240.6h0.7M223.9,242.4h0.7M216.8,232.7h0.7M226.1,242.2h0.7M223.9,236.1h0.7M219.1,234.9h0.7M216.1,236.0h0.7M220.8,232.0h0.7M221.3,236.6h0.7M216.9,237.0h0.7M215.9,237.0h0.7M227.4,234.5h0.7M223.4,234.0h0.7M216.8,236.8h0.7M214.4,239.6h0.7M208.9,235.4h0.7M218.2,236.3h0.7M217.1,232.5h0.7M218.4,240.8h0.7M222.0,235.5h0.7M210.4,232.8h0.7M223.0,234.1h0.7M216.2,244.0h0.7M221.7,238.8h0.7M223.8,233.9h0.7M209.6,233.1h0.7M220.2,237.5h0.7M224.5,235.7h0.7M222.7,235.8h0.7M211.0,234.0h0.7M220.2,235.5h0.7M214.6,235.8h0.7M226.6,233.4h0.7M213.7,236.0h0.7M216.4,236.4h0.7M219.6,239.9h0.7M211.0,234.3h0.7M215.0,234.9h0.7M221.6,228.9h0.7M220.4,237.7h0.7M223.9,241.3h0.7M211.9,234.6h0.7M219.4,237.8h0.7M220.9,236.9h0.7M211.6,243.9h0.7M217.8,237.3h0.7M211.7,237.0h0.7M215.6,239.7h0.7M223.7,233.8h0.7M218.4,236.2h0.7M219.9,240.8h0.7M213.2,245.5h0.7M212.6,231.0h0.7M222.6,231.4h0.7M226.3,237.2h0.7M215.8,238.6h0.7M219.0,233.3h0.7M215.5,242.8h0.7M219.3,237.1h0.7M211.7,243.3h0.7M222.1,234.9h0.7M218.1,234.0h0.7M226.5,239.2h0.7M213.8,234.7h0.7M215.3,236.5h0.7M220.6,234.7h0.7M216.8,237.4h0.7M225.2,231.9h0.7M214.0,235.2h0.7M212.1,241.3h0.7M222.8,239.9h0.7M221.0,232.0h0.7M224.1,235.6h0.7M214.1,233.0h0.7M210.8,234.3h0.7M219.2,240.2h0.7M214.0,238.6h0.7M220.4,238.7h0.7M218.2,231.4h0.7M225.5,238.4h0.7M210.6,236.1h0.7M216.8,244.2h0.7M228.2,236.5h0.7M216.9,238.7h0.7M220.0,238.4h0.7M216.7,232.4h0.7M207.8,236.0h0.7M222.2,242.0h0.7M219.8,243.7h0.7M214.7,236.9h0.7M215.1,234.5h0.7M218.4,237.9h0.7M218.4,238.9h0.7M212.1,238.0h0.7M211.9,232.8h0.7M212.8,236.6h0.7M216.2,240.3h0.7M221.2,235.3h0.7M224.7,242.0h0.7M219.1,242.7h0.7M220.4,237.7h0.7M212.1,239.8h0.7M224.9,237.2h0.7M225.0,243.6h0.7M216.9,240.9h0.7M224.3,240.2h0.7M208.7,238.9h0.7M222.2,234.3h0.7M228.7,239.1h0.7M225.5,242.1h0.7M217.2,237.6h0.7M218.7,240.3h0.7M224.9,232.7h0.7M214.2,232.8h0.7M220.4,232.3h0.7M212.7,241.1h0.7M213.5,238.4h0.7M210.1,241.4h0.7M220.4,238.4h0.7M213.2,237.8h0.7M215.9,239.7h0.7M216.2,235.5h0.7M214.0,235.2h0.7M224.1,235.5h0.7M221.1,227.0h0.7M224.8,231.6h0.7M218.2,235.8h0.7M223.3,235.6h0.7M219.3,237.1h0.7M215.9,237.0h0.7M207.8,241.0h0.7M211.4,234.6h0.7M218.0,237.6h0.7M213.7,233.9h0.7M214.3,227.4h0.7M214.8,238.5h0.7M225.2,233.6h0.7M212.3,239.5h0.7M216.1,240.8h0.7M213.6,237.7h0.7M218.0,236.9h0.7M223.6,236.7h0.7M218.0,235.8h0.7M228.6,238.4h0.7M218.3,231.3h0.7M222.2,234.1h0.7M208.9,236.3h0.7M213.8,236.2h0.7M220.1,235.3h0.7M214.6,235.7h0.7M212.0,233.6h0.7M211.5,235.2h0.7M213.6,237.4h0.7M219.5,239.5h0.7M219.1,237.3h0.7M221.0,227.0h0.7M219.3,235.1h0.7M213.9,236.5h0.7M214.7,238.6h0.7M221.7,231.7h0.7M223.8,230.9h0.7M222.0,242.9h0.7M226.8,232.6h0.7M228.6,242.7h0.7M220.9,237.2h0.7M209.7,236.1h0.7M219.5,239.0h0.7M226.3,231.8h0.7M213.8,237.0h0.7M221.8,244.4h0.7M224.7,233.9h0.7M216.7,236.8h0.7M219.0,237.3h0.7M215.9,239.4h0.7M217.2,235.9h0.7M215.2,236.8h0.7M213.9,233.4h0.7M224.3,238.2h0.7M221.7,237.0h0.7M213.7,231.8h0.7M225.9,236.6h0.7M222.7,236.9h0.7M224.7,232.9h0.7M225.4,229.2h0.7M220.8,241.1h0.7M221.5,237.5h0.7M214.7,239.9h0.7M219.8,239.1h0.7M223.3,235.8h0.7M215.9,239.2h0.7M223.5,237.4h0.7M222.7,234.6h0.7M219.8,239.2h0.7M221.1,228.1h0.7M221.4,234.9h0.7M217.8,237.2h0.7M213.7,242.9h0.7M215.7,242.7h0.7M228.2,233.6h0.7M217.9,239.5h0.7M221.2,235.4h0.7M221.1,239.6h0.7M221.7,235.2h0.7M222.5,234.5h0.7M213.5,243.6h0.7M219.1,241.3h0.7M219.2,235.4h0.7M218.5,230.6h0.7M220.5,233.7h0.7M217.5,231.4h0.7M218.7,235.1h0.7M215.7,239.0h0.7M228.6,237.2h0.7M222.7,230.0h0.7M210.8,238.3h0.7M220.8,239.9h0.7M220.1,237.6h0.7M221.8,236.2h0.7M210.3,239.5h0.7M216.2,236.0h0.7M217.7,238.6h0.7M217.1,232.1h0.7M219.7,240.1h0.7M216.3,241.1h0.7M218.2,237.6h0.7M219.8,239.2h0.7M217.3,233.5h0.7M221.8,235.8h0.7M217.4,234.7h0.7M221.3,236.2h0.7M218.5,234.1h0.7M215.6,231.9h0.7M220.9,235.7h0.7M215.3,236.3h0.7M221.8,238.1h0.7M217.7,239.0h0.7M224.4,229.8h0.7M212.2,238.6h0.7M220.2,238.5h0.7M225.9,232.8h0.7M220.5,240.1h0.7M212.6,241.8h0.7M219.7,237.6h0.7M217.1,239.1h0.7M219.2,234.0h0.7M213.8,229.5h0.7M216.4,238.0h0.7M210.0,234.5h0.7M218.3,236.4h0.7M227.8,230.8h0.7M212.8,243.4h0.7M209.0,236.7h0.7M220.9,239.8h0.7M213.7,238.4h0.7M227.4,236.1h0.7M223.2,233.4h0.7M224.3,235.6h0.7M216.4,235.9h0.7M209.8,231.1h0.7M220.3,236.3h0.7M217.8,231.0h0.7M220.1,234.9h0.7M209.8,239.9h0.7M214.1,228.2h0.7M225.3,237.2h0.7M224.8,243.5h0.7M215.4,236.8h0.7M225.8,236.4h0.7M215.3,236.6h0.7M222.9,236.1h0.7M220.3,238.5h0.7M223.5,235.0h0.7M219.8,228.9h0.7M211.2,233.3h0.7M215.9,235.1h0.7M212.1,238.0h0.7M225.0,241.4h0.7M219.6,238.0h0.7M223.7,242.0h0.7M216.1,238.8h0.7M210.8,232.6h0.7M211.2,238.5h0.7M217.7,236.5h0.7M213.3,236.0h0.7M211.3,239.5h0.7M212.7,236.4h0.7M219.6,230.7h0.7M216.4,236.0h0.7M221.0,238.4h0.7M218.7,236.1h0.7M218.1,236.5h0.7M223.5,233.7h0.7M219.0,244.7h0.7M211.9,238.1h0.7M223.2,233.2h0.7M217.8,232.7h0.7M222.2,236.1h0.7M220.7,238.0h0.7M220.5,240.3h0.7M223.4,235.3h0.7M214.0,237.7h0.7M208.8,234.0h0.7M224.7,239.2h0.7M217.8,239.3h0.7M226.6,232.0h0.7M225.2,237.0h0.7M215.9,234.2h0.7M216.5,234.5h0.7M207.6,236.9h0.7M214.2,240.5h0.7M223.7,234.4h0.7M217.2,237.8h0.7" stroke="#000" stroke-width="0.7" stroke-opacity="0.7" fill="none"/>
<path d="M224.6,251.1h0.7M223.3,243.1h0.7M222.9,251.0h0.7M222.2,243.1h0.7M219.2,243.7h0.7M217.6,245.5h0.7M225.1,246.5h0.7M215.5,246.9h0.7M218.7,246.9h0.7M225.0,243.1h0.7M222.2,244.7h0.7M226.2,248.3h0.7M215.0,255.7h0.7M218.5,245.2h0.7M223.0,243.3h0.7M218.9,245.3h0.7M219.1,251.4h0.7M221.4,252.9h0.7M226.9,248.8h0.7M217.3,244.0h0.7M221.8,251.9h0.7M219.9,250.6h0.7M224.4,255.5h0.7M219.0,245.0h0.7M220.9,249.3h0.7M222.8,243.0h0.7M225.4,244.0h0.7M223.2,254.5h0.7M220.9,243.7h0.7M216.7,259.0h0.7M222.8,252.3h0.7M218.1,249.3h0.7M222.5,246.8h0.7M222.5,246.1h0.7M219.1,253.0h0.7M221.2,243.7h0.7M221.4,242.9h0.7M213.9,245.7h0.7M220.7,245.4h0.7M221.1,245.2h0.7M219.8,245.8h0.7M226.1,245.2h0.7M221.4,246.9h0.7M221.0,256.7h0.7M218.7,245.1h0.7M222.0,243.5h0.7M216.3,244.8h0.7M221.7,243.7h0.7M229.7,247.1h0.7M222.0,243.7h0.7M212.5,249.8h0.7M217.8,252.6h0.7M218.8,244.8h0.7M224.0,245.4h0.7" stroke="#000" stroke-width="0.7" stroke-opacity="0.38" fill="none"/>
<path d="M209.7,235.9h0.7M226.0,233.2h0.7M223.1,240.4h0.7M212.0,237.8h0.7M216.3,260.9h0.7M210.0,256.6h0.7M213.4,235.2h0.7M221.8,240.5h0.7M210.8,242.9h0.7M223.3,256.9h0.7M218.4,230.1h0.7M222.1,248.8h0.7M224.8,259.7h0.7M213.5,256.4h0.7" stroke="#000" stroke-width="0.7" stroke-opacity="0.35" fill="none"/>
<ellipse cx="236.3" cy="234.0" rx="9.025" ry="4.6" fill="#000" fill-opacity="1.0" filter="url(#bl)"/>
<ellipse cx="232.8" cy="234.6" rx="6.6499999999999995" ry="4.369999999999999" fill="#000" fill-opacity="1.0" filter="url(#bl)"/>
<ellipse cx="228.3" cy="236.0" rx="3.5" ry="2.76" fill="#000" fill-opacity="1.0" filter="url(#bl)"/>
<path d="M226.9,234.9h0.7M232.1,232.2h0.7M240.6,232.3h0.7M240.9,235.6h0.7M239.0,236.5h0.7M233.0,230.1h0.7M227.0,234.1h0.7M231.9,238.5h0.7M231.2,238.6h0.7M235.7,234.2h0.7M225.5,233.9h0.7M244.9,230.0h0.7M244.0,236.4h0.7M241.8,231.3h0.7M245.6,230.9h0.7M245.7,237.4h0.7M226.4,238.3h0.7M247.0,233.8h0.7M227.5,233.5h0.7M234.8,236.5h0.7M230.9,231.5h0.7M237.8,235.0h0.7M226.2,235.4h0.7M233.3,232.8h0.7M240.1,236.1h0.7M239.4,239.0h0.7M238.0,234.2h0.7M238.5,238.3h0.7M240.3,235.0h0.7M242.5,229.8h0.7M242.4,236.4h0.7M234.9,229.9h0.7M227.1,228.0h0.7M238.6,233.7h0.7M231.2,236.6h0.7M230.8,237.0h0.7M241.1,235.6h0.7M230.0,231.1h0.7M236.9,237.1h0.7M230.4,234.7h0.7M241.7,229.3h0.7M247.6,233.5h0.7M233.4,234.7h0.7M235.5,231.4h0.7M232.9,233.4h0.7M230.2,236.9h0.7M240.2,236.2h0.7M226.9,232.7h0.7M239.6,233.8h0.7M225.7,235.1h0.7M248.3,237.0h0.7M236.0,230.7h0.7M242.6,235.7h0.7M234.6,233.2h0.7M241.3,233.8h0.7M232.5,230.8h0.7M234.3,233.2h0.7M233.4,246.4h0.7M229.2,229.3h0.7M232.4,236.5h0.7M248.1,229.4h0.7M233.1,235.8h0.7M232.2,235.7h0.7M234.5,237.3h0.7M237.3,238.9h0.7M228.8,237.3h0.7M234.3,237.3h0.7M233.2,236.5h0.7M242.8,235.0h0.7M230.5,232.2h0.7M233.6,233.5h0.7M242.4,230.8h0.7M235.8,234.3h0.7M236.6,231.6h0.7M244.2,234.0h0.7M232.0,233.9h0.7M243.4,235.7h0.7M243.4,235.6h0.7M234.1,230.1h0.7M231.5,234.0h0.7M227.0,233.4h0.7M231.7,237.4h0.7M224.9,240.5h0.7M240.9,232.9h0.7M237.2,238.6h0.7M240.8,233.3h0.7M233.4,230.1h0.7M238.4,236.6h0.7M236.2,234.2h0.7M231.9,234.5h0.7M239.6,230.7h0.7M240.7,233.4h0.7M239.6,234.2h0.7M238.7,234.9h0.7M241.1,232.2h0.7M236.2,231.0h0.7M237.1,237.2h0.7M235.2,237.0h0.7M234.0,235.2h0.7M243.8,235.1h0.7M239.1,238.0h0.7M240.4,236.8h0.7M235.1,232.2h0.7M241.2,231.4h0.7M243.5,232.7h0.7M238.4,236.4h0.7M230.5,239.5h0.7M236.8,233.6h0.7M230.8,229.6h0.7M226.6,231.5h0.7M239.9,232.9h0.7M243.4,231.6h0.7M228.1,235.5h0.7M235.3,230.3h0.7M244.9,235.0h0.7M228.7,232.9h0.7M231.5,237.4h0.7M233.8,232.5h0.7M238.4,238.6h0.7M244.6,234.2h0.7M235.0,232.6h0.7M242.3,231.3h0.7M236.5,236.1h0.7M233.0,227.6h0.7M233.6,231.9h0.7M231.2,232.6h0.7M241.4,230.1h0.7M229.8,233.8h0.7M242.0,231.9h0.7M239.9,237.0h0.7M232.5,233.6h0.7M241.5,234.7h0.7M233.2,233.8h0.7M235.2,234.3h0.7M238.2,234.6h0.7M233.2,234.1h0.7M238.3,233.6h0.7M245.8,232.8h0.7M223.6,237.4h0.7M233.9,235.1h0.7M235.1,236.7h0.7M233.5,235.7h0.7M245.5,235.8h0.7M231.8,238.8h0.7M242.9,234.1h0.7M228.4,234.8h0.7M236.1,235.4h0.7M237.3,238.4h0.7M237.6,233.0h0.7M234.2,234.9h0.7M239.5,230.7h0.7M230.7,236.6h0.7M235.2,237.0h0.7M235.5,232.3h0.7M239.2,234.8h0.7M252.2,238.5h0.7M236.0,234.8h0.7M239.6,235.5h0.7M240.8,233.9h0.7M234.3,229.8h0.7M234.6,237.0h0.7M237.6,234.9h0.7M228.8,228.4h0.7M239.9,231.9h0.7M233.1,228.6h0.7M244.9,238.0h0.7M226.2,232.5h0.7M235.1,235.3h0.7M241.5,233.9h0.7M235.8,235.6h0.7M226.5,233.7h0.7M236.2,234.9h0.7M230.5,232.2h0.7M229.6,233.6h0.7M230.3,240.9h0.7M232.6,237.6h0.7M232.8,232.9h0.7M241.5,233.3h0.7M249.0,235.3h0.7M226.3,237.8h0.7M220.0,233.1h0.7M231.5,234.1h0.7M231.7,232.7h0.7M234.1,236.1h0.7M231.0,233.0h0.7M249.5,239.7h0.7M243.1,234.1h0.7M233.0,234.3h0.7M228.6,237.2h0.7M232.0,228.0h0.7M242.3,238.2h0.7M241.6,235.8h0.7M239.2,238.4h0.7M244.1,229.7h0.7M239.7,233.8h0.7M245.8,233.2h0.7M234.2,229.4h0.7M236.7,234.9h0.7M244.7,233.5h0.7M241.9,240.0h0.7M229.5,237.0h0.7M236.2,229.3h0.7M231.6,234.2h0.7M229.8,235.9h0.7M231.8,237.1h0.7M234.2,237.5h0.7M242.9,236.6h0.7M243.3,242.0h0.7M242.1,229.5h0.7M233.8,236.8h0.7M242.5,232.5h0.7M239.4,234.3h0.7M234.9,232.8h0.7M236.6,237.6h0.7M226.3,237.1h0.7M237.7,229.5h0.7M238.1,233.7h0.7M230.9,235.7h0.7M234.8,237.4h0.7M244.5,235.3h0.7M238.9,231.4h0.7M236.3,237.4h0.7M247.9,229.1h0.7M238.0,234.0h0.7M249.3,235.1h0.7M248.9,228.2h0.7M226.1,234.5h0.7M228.1,228.5h0.7M233.9,232.8h0.7M237.2,238.4h0.7M230.8,232.0h0.7M227.4,234.4h0.7M242.8,237.2h0.7M222.8,235.5h0.7M234.7,232.5h0.7M229.5,232.6h0.7M238.3,236.1h0.7M241.3,231.8h0.7M236.5,231.6h0.7M241.8,234.3h0.7M228.5,237.1h0.7M246.8,229.1h0.7M247.3,235.6h0.7M235.9,227.5h0.7M228.7,231.3h0.7M241.2,233.7h0.7M237.6,234.4h0.7M239.2,233.1h0.7M244.4,227.6h0.7M230.8,232.9h0.7M231.2,237.8h0.7M233.7,228.5h0.7M233.2,232.7h0.7M231.4,232.1h0.7M233.3,236.1h0.7M235.5,235.0h0.7M235.9,237.6h0.7M236.8,234.9h0.7M243.0,238.0h0.7M243.9,231.9h0.7M228.5,242.0h0.7M228.1,232.0h0.7M227.9,234.9h0.7M236.3,227.3h0.7M243.2,232.6h0.7M243.3,237.0h0.7M236.6,237.1h0.7M231.8,234.2h0.7M235.4,234.5h0.7M239.8,234.7h0.7M233.9,236.0h0.7M234.4,236.5h0.7M231.5,230.7h0.7M250.0,230.4h0.7M241.4,238.9h0.7M240.9,235.4h0.7M236.0,233.9h0.7M231.6,235.6h0.7M240.8,230.3h0.7M223.9,243.1h0.7M235.6,231.0h0.7M230.3,236.4h0.7M244.3,231.4h0.7M234.5,235.8h0.7M233.6,235.1h0.7M239.0,236.2h0.7M242.6,234.5h0.7M233.0,230.3h0.7M236.2,231.3h0.7M234.0,233.5h0.7M236.0,236.8h0.7M238.5,234.4h0.7M246.2,234.3h0.7M247.3,234.1h0.7M238.9,231.2h0.7M237.1,231.5h0.7M244.9,234.7h0.7M244.9,235.6h0.7M230.7,227.5h0.7M236.0,232.6h0.7" stroke="#000" stroke-width="0.7" stroke-opacity="0.7" fill="none"/>
</g>
<rect x="207.1" y="219.05" width="42.6" height="42.14999999999998" fill="none" stroke="#000" stroke-width="1.35"/>
<path d="M226.79999999999998,219.05V261.2M207.1,242.8H249.7" stroke="#000" stroke-width="1.2" fill="none"/>
<path d="M205.79999999999998,221.7h1.3M209.8,261.2v1.3M205.79999999999998,224.3h1.3M212.4,261.2v1.3M205.79999999999998,227.0h1.3M215.1,261.2v1.3M205.79999999999998,229.6h1.3M217.8,261.2v1.3M205.79999999999998,232.2h1.3M220.4,261.2v1.3M205.79999999999998,234.9h1.3M223.1,261.2v1.3M205.79999999999998,237.5h1.3M225.7,261.2v1.3M205.79999999999998,240.1h1.3M228.4,261.2v1.3M205.79999999999998,242.8h1.3M231.1,261.2v1.3M205.79999999999998,245.4h1.3M233.7,261.2v1.3M205.79999999999998,248.0h1.3M236.4,261.2v1.3M205.79999999999998,250.7h1.3M239.1,261.2v1.3M205.79999999999998,253.3h1.3M241.7,261.2v1.3M205.79999999999998,255.9h1.3M244.4,261.2v1.3M205.79999999999998,258.6h1.3M247.0,261.2v1.3" stroke="#000" stroke-width="0.6" stroke-opacity="0.6"/>
<text x="248.10" y="225.35" font-size="7" text-anchor="end" font-weight="normal" fill="#111" >23.9</text>
<clipPath id="c03"><rect x="252.2" y="219.05" width="42.6" height="42.14999999999998"/></clipPath><g clip-path="url(#c03)">
<ellipse cx="264.4" cy="236.0" rx="8.6" ry="6.0" fill="#000" fill-opacity="1" filter="url(#bl)"/>
<ellipse cx="259.7" cy="235.6" rx="7" ry="4.3" fill="#000" fill-opacity="1" filter="url(#bl)"/>
<ellipse cx="267.2" cy="236.4" rx="5.5" ry="5.6" fill="#000" fill-opacity="1" filter="url(#bl)"/>
<path d="M261.3,237.5h0.7M264.8,235.5h0.7M266.1,234.0h0.7M258.4,234.7h0.7M270.7,238.6h0.7M261.9,237.9h0.7M268.1,232.7h0.7M257.3,236.7h0.7M265.4,241.1h0.7M272.2,235.0h0.7M260.8,235.3h0.7M262.2,233.0h0.7M263.5,240.8h0.7M269.9,235.3h0.7M256.3,238.8h0.7M271.9,231.5h0.7M267.5,242.5h0.7M271.1,238.7h0.7M263.8,234.3h0.7M266.2,240.7h0.7M268.7,239.4h0.7M263.5,235.7h0.7M273.0,236.8h0.7M270.0,234.8h0.7M257.5,236.9h0.7M265.7,225.9h0.7M258.6,237.6h0.7M262.3,232.1h0.7M263.6,238.0h0.7M272.5,229.8h0.7M264.0,234.1h0.7M257.1,238.7h0.7M269.3,239.9h0.7M270.6,234.7h0.7M255.9,237.3h0.7M263.4,234.8h0.7M252.6,238.5h0.7M267.3,240.6h0.7M266.5,235.7h0.7M258.0,235.1h0.7M258.0,235.5h0.7M258.8,239.9h0.7M262.8,237.7h0.7M263.8,235.2h0.7M260.9,240.1h0.7M256.5,238.8h0.7M267.8,236.1h0.7M263.2,239.4h0.7M265.2,244.5h0.7M254.9,230.9h0.7M262.0,232.2h0.7M262.9,234.4h0.7M268.9,231.5h0.7M263.1,236.7h0.7M268.7,232.1h0.7M263.6,231.7h0.7M268.2,237.9h0.7M270.8,235.2h0.7M253.2,233.6h0.7M263.2,239.9h0.7M260.3,234.1h0.7M267.4,231.7h0.7M269.4,237.9h0.7M257.1,235.9h0.7M259.4,233.1h0.7M265.5,235.1h0.7M269.3,236.4h0.7M253.5,236.9h0.7M268.1,237.3h0.7M254.7,234.0h0.7M255.7,235.2h0.7M259.0,239.3h0.7M265.9,245.0h0.7M267.0,231.0h0.7M262.2,242.4h0.7M261.3,236.6h0.7M269.4,241.0h0.7M270.8,235.9h0.7M256.4,234.3h0.7M267.4,230.7h0.7M264.5,241.6h0.7M256.2,238.7h0.7M258.7,233.5h0.7M266.3,238.4h0.7M263.1,237.8h0.7M268.0,242.2h0.7M257.9,232.8h0.7M259.5,238.3h0.7M273.8,235.0h0.7M266.0,239.3h0.7M259.8,232.4h0.7M268.8,236.2h0.7M265.0,233.6h0.7M267.6,239.6h0.7M264.1,236.4h0.7M258.0,234.1h0.7M255.7,236.5h0.7M264.9,234.0h0.7M256.0,235.6h0.7M267.8,240.9h0.7M252.8,236.7h0.7M272.0,233.4h0.7M261.2,239.2h0.7M265.0,233.3h0.7M257.0,234.4h0.7M263.5,236.9h0.7M269.0,233.3h0.7M266.7,237.6h0.7M261.9,238.8h0.7M263.3,237.8h0.7M260.0,233.3h0.7M260.5,242.3h0.7M266.4,237.2h0.7M259.1,236.9h0.7M256.6,237.4h0.7M263.5,234.4h0.7M266.8,231.9h0.7M256.0,238.6h0.7M257.1,231.4h0.7M271.1,238.4h0.7M266.7,236.3h0.7M256.9,237.7h0.7M263.6,233.8h0.7M264.7,237.8h0.7M263.7,239.0h0.7M267.0,232.4h0.7M266.8,234.9h0.7M273.2,226.3h0.7M261.9,238.2h0.7M270.3,232.8h0.7M263.9,237.7h0.7M260.4,238.6h0.7M259.6,233.7h0.7M271.2,233.6h0.7M261.7,243.7h0.7M271.6,235.0h0.7M266.0,233.8h0.7M257.2,234.7h0.7M268.7,238.0h0.7M259.0,228.6h0.7M271.5,233.9h0.7M268.6,238.9h0.7M271.6,234.3h0.7M257.8,234.1h0.7M266.3,237.2h0.7M257.0,237.9h0.7M258.4,236.1h0.7M262.2,237.9h0.7M255.1,232.2h0.7M263.8,236.9h0.7M267.4,232.9h0.7M256.0,235.9h0.7M272.7,239.4h0.7M270.3,238.2h0.7M270.3,234.5h0.7M271.0,238.9h0.7M269.1,234.8h0.7M261.4,234.3h0.7M272.6,231.6h0.7M261.2,237.1h0.7M255.6,236.9h0.7M270.4,238.4h0.7M256.6,236.3h0.7M257.7,227.4h0.7M269.0,238.4h0.7M255.5,240.0h0.7M269.1,244.2h0.7M266.7,241.8h0.7M261.9,235.5h0.7M263.6,239.1h0.7M259.4,238.8h0.7M255.3,229.4h0.7M261.1,238.4h0.7M264.9,235.5h0.7M265.7,240.6h0.7M267.6,237.7h0.7M266.3,235.5h0.7M268.6,242.9h0.7M257.1,243.5h0.7M267.8,234.7h0.7M254.2,236.4h0.7M266.4,240.2h0.7M260.1,230.9h0.7M255.6,239.6h0.7M271.4,230.2h0.7M266.2,234.0h0.7M264.8,238.9h0.7M262.3,236.0h0.7M273.4,234.2h0.7M266.4,238.0h0.7M269.2,235.4h0.7M263.7,236.3h0.7M253.3,238.5h0.7M259.5,237.0h0.7M269.3,235.6h0.7M254.5,232.7h0.7M268.0,240.6h0.7M265.0,236.7h0.7M259.6,235.6h0.7M257.9,236.8h0.7M261.1,235.4h0.7M272.5,232.8h0.7M264.4,234.0h0.7M261.6,236.0h0.7M263.8,237.0h0.7M259.1,238.4h0.7M256.7,232.3h0.7M258.4,240.5h0.7M271.4,234.4h0.7M254.5,237.7h0.7M257.5,232.2h0.7M266.4,232.6h0.7M267.7,237.7h0.7M267.3,238.5h0.7M259.1,237.5h0.7M266.9,234.2h0.7M261.8,231.9h0.7M264.9,232.4h0.7M266.5,236.5h0.7M262.7,238.3h0.7M261.9,242.0h0.7M266.3,232.3h0.7M260.4,237.4h0.7M273.2,236.8h0.7M271.8,234.2h0.7M258.8,234.9h0.7M264.0,232.9h0.7M256.1,238.7h0.7M270.2,236.0h0.7M260.8,240.0h0.7M252.9,238.7h0.7M265.2,238.5h0.7M266.1,239.7h0.7M267.5,236.2h0.7M269.0,232.9h0.7M265.2,237.5h0.7M253.9,238.1h0.7M266.6,239.3h0.7M264.0,240.4h0.7M269.8,238.4h0.7M265.4,236.4h0.7M257.2,239.4h0.7M261.1,235.7h0.7M266.0,240.2h0.7M261.3,232.7h0.7M266.2,237.0h0.7M264.3,230.1h0.7M271.1,231.9h0.7M268.8,232.6h0.7M261.1,233.9h0.7M261.6,229.6h0.7M259.3,239.1h0.7M266.6,243.3h0.7M264.4,231.7h0.7M254.8,234.4h0.7M264.3,234.5h0.7M273.2,235.9h0.7M259.5,233.0h0.7M256.5,235.8h0.7M262.6,233.3h0.7M265.7,233.6h0.7M260.4,239.8h0.7M270.5,234.8h0.7M271.1,236.8h0.7M260.8,236.0h0.7M261.3,236.9h0.7M263.1,235.7h0.7M257.7,237.7h0.7M269.4,232.6h0.7M263.6,239.3h0.7M269.0,233.4h0.7M268.2,237.5h0.7M271.9,237.9h0.7M258.2,236.3h0.7M258.6,237.0h0.7M264.9,229.4h0.7M267.7,237.3h0.7M270.2,236.4h0.7M258.7,238.6h0.7M269.9,228.8h0.7M270.4,238.3h0.7M260.9,232.8h0.7M261.3,239.9h0.7M265.1,238.8h0.7M261.0,231.5h0.7M258.6,243.5h0.7M269.2,238.5h0.7M267.1,236.1h0.7M262.5,234.9h0.7M266.0,235.6h0.7M263.9,237.6h0.7M267.3,237.5h0.7M265.0,237.6h0.7M270.8,240.4h0.7M272.6,233.9h0.7M266.1,236.6h0.7M266.7,243.1h0.7M272.4,232.2h0.7M268.3,237.3h0.7M261.5,241.2h0.7M267.5,231.4h0.7M258.4,235.5h0.7M271.0,237.7h0.7M269.9,235.3h0.7M271.9,235.3h0.7M268.5,235.3h0.7M261.6,237.5h0.7M256.7,236.4h0.7M266.8,232.1h0.7M263.3,235.6h0.7M257.7,229.9h0.7M270.7,234.7h0.7M262.0,238.1h0.7M255.7,239.7h0.7M254.5,234.9h0.7M262.8,237.6h0.7M260.7,235.9h0.7M272.4,237.5h0.7M270.3,235.8h0.7M260.9,235.3h0.7M261.2,231.2h0.7M265.1,235.8h0.7M262.0,239.4h0.7M267.9,232.4h0.7M270.6,235.9h0.7M254.6,232.5h0.7M268.4,234.0h0.7M263.3,244.8h0.7M258.6,238.1h0.7M266.3,236.5h0.7M252.5,235.5h0.7M264.5,232.0h0.7M272.0,239.9h0.7M253.5,235.2h0.7M260.3,238.7h0.7M270.5,236.9h0.7M269.2,237.8h0.7M265.9,235.7h0.7M259.3,238.0h0.7M259.1,237.9h0.7M259.3,235.8h0.7M270.0,239.9h0.7M264.2,235.8h0.7M264.4,238.4h0.7M259.0,245.1h0.7M263.7,236.6h0.7M268.5,237.8h0.7M264.1,235.0h0.7M255.6,233.6h0.7M263.6,234.1h0.7M261.6,236.6h0.7M262.6,234.7h0.7M252.6,234.7h0.7M256.2,237.0h0.7M260.3,233.5h0.7M262.5,234.4h0.7M266.1,235.0h0.7M255.8,237.1h0.7M255.0,229.8h0.7M255.4,237.9h0.7M256.2,232.5h0.7M265.8,233.5h0.7M272.2,240.8h0.7M259.9,231.9h0.7M257.0,230.5h0.7M266.2,235.5h0.7M266.5,231.5h0.7M255.9,236.3h0.7M273.3,237.6h0.7M261.6,238.9h0.7M269.2,231.9h0.7M263.6,237.5h0.7M255.1,240.5h0.7M265.9,235.6h0.7M264.1,232.6h0.7M264.5,239.7h0.7M261.9,239.8h0.7M254.8,234.0h0.7M261.3,234.8h0.7M270.6,232.2h0.7M269.3,233.1h0.7M263.5,227.0h0.7M269.1,237.7h0.7M263.9,239.6h0.7M266.0,239.0h0.7M255.4,242.7h0.7M261.2,232.2h0.7M259.4,239.6h0.7M264.2,235.8h0.7M272.4,240.2h0.7M266.8,233.3h0.7M268.9,234.9h0.7M265.4,235.5h0.7M252.5,234.8h0.7M261.9,230.4h0.7M256.3,242.1h0.7M262.8,243.1h0.7M267.4,234.8h0.7M259.3,241.9h0.7M258.0,238.3h0.7M260.8,233.2h0.7M260.8,234.5h0.7M259.9,228.5h0.7M259.8,229.1h0.7M258.0,226.2h0.7M255.8,240.0h0.7M265.0,230.9h0.7M260.4,241.0h0.7M262.0,231.3h0.7M264.9,230.9h0.7M261.6,236.8h0.7M263.4,233.1h0.7M267.8,241.2h0.7M265.5,237.0h0.7M259.3,234.4h0.7M266.8,235.0h0.7M256.3,233.8h0.7M260.3,228.8h0.7M255.6,237.8h0.7M271.3,233.8h0.7M267.5,236.9h0.7M260.0,230.6h0.7M259.8,236.8h0.7M263.2,235.7h0.7M271.0,238.1h0.7M262.2,238.1h0.7M258.4,228.5h0.7M259.4,239.1h0.7M265.9,237.2h0.7M266.5,234.4h0.7M272.9,234.6h0.7M262.1,237.5h0.7M256.6,240.2h0.7M272.8,237.3h0.7M259.7,242.1h0.7M259.4,236.2h0.7M264.0,240.6h0.7M255.0,241.1h0.7M269.9,236.9h0.7M254.9,241.2h0.7M261.1,234.0h0.7M255.0,238.8h0.7M257.1,235.8h0.7M268.4,234.4h0.7M262.8,240.9h0.7M253.5,236.5h0.7M273.4,235.4h0.7M260.9,237.3h0.7M253.1,235.6h0.7M266.4,235.0h0.7M266.1,237.1h0.7M266.2,232.0h0.7M265.8,236.2h0.7M260.9,235.5h0.7M261.4,236.3h0.7M273.0,238.7h0.7M259.1,235.4h0.7M264.2,234.8h0.7M267.6,237.5h0.7M254.0,237.1h0.7M256.1,235.6h0.7M260.6,234.0h0.7M267.2,235.0h0.7M273.8,236.9h0.7M269.1,234.8h0.7M258.2,230.4h0.7M273.4,239.8h0.7M261.1,229.8h0.7M258.6,236.1h0.7M268.6,239.5h0.7M268.2,236.4h0.7M260.0,226.5h0.7M271.6,232.8h0.7M264.4,240.1h0.7M252.4,234.9h0.7M266.0,232.4h0.7M255.9,240.8h0.7M259.4,234.7h0.7M270.8,235.3h0.7M270.4,228.6h0.7M266.5,242.8h0.7M255.7,227.2h0.7M265.9,241.3h0.7M253.8,227.0h0.7M273.7,242.9h0.7M265.6,237.6h0.7M258.2,237.4h0.7M259.9,236.3h0.7M256.6,234.2h0.7M265.9,238.0h0.7M254.0,244.4h0.7M272.9,236.8h0.7M269.7,232.3h0.7M267.9,242.7h0.7M254.0,234.0h0.7M259.2,237.2h0.7M265.2,231.6h0.7M262.7,226.8h0.7M269.5,233.4h0.7M266.7,234.3h0.7M265.6,240.5h0.7M260.6,232.6h0.7M261.9,236.2h0.7M269.2,232.4h0.7M264.0,240.7h0.7M262.6,236.5h0.7M265.7,237.9h0.7M268.6,237.7h0.7M266.5,235.2h0.7M263.3,241.0h0.7M267.5,234.9h0.7M258.0,241.9h0.7M258.0,235.8h0.7M265.9,231.4h0.7M260.7,236.4h0.7M265.6,235.3h0.7M263.8,235.8h0.7M254.9,235.5h0.7M270.4,236.4h0.7M267.7,238.9h0.7M266.6,232.5h0.7M273.0,232.0h0.7M258.5,232.7h0.7M268.8,239.6h0.7M256.8,235.2h0.7M261.5,234.9h0.7M267.6,236.5h0.7M262.9,229.6h0.7M268.0,237.3h0.7M253.9,235.4h0.7M268.0,235.4h0.7M258.6,235.7h0.7M257.9,236.5h0.7M255.5,240.3h0.7M264.5,240.5h0.7M265.2,231.6h0.7M270.7,235.2h0.7M267.7,237.1h0.7M255.9,236.3h0.7M256.4,242.1h0.7M266.2,237.0h0.7M270.7,238.9h0.7M263.7,233.2h0.7M254.5,233.7h0.7M258.5,235.6h0.7M254.4,237.4h0.7M271.2,231.6h0.7M257.8,237.2h0.7M268.8,235.3h0.7M266.1,232.9h0.7M272.0,234.3h0.7M261.9,236.0h0.7M260.6,236.2h0.7M260.1,238.4h0.7M266.4,233.4h0.7M263.2,242.4h0.7M253.8,235.0h0.7M256.1,235.9h0.7M263.4,234.7h0.7M268.6,237.4h0.7M270.0,236.8h0.7M262.9,237.7h0.7M259.1,243.7h0.7M264.8,235.9h0.7M268.0,238.7h0.7M267.7,237.8h0.7M266.4,236.2h0.7M272.0,233.4h0.7M265.5,230.2h0.7M261.9,235.7h0.7M258.0,241.6h0.7M258.2,232.5h0.7M261.0,235.3h0.7M266.7,239.8h0.7M258.0,242.7h0.7M272.0,236.9h0.7M262.6,235.4h0.7M259.3,229.7h0.7M261.1,233.8h0.7M269.7,235.0h0.7M260.2,233.6h0.7M259.0,238.4h0.7M263.3,236.0h0.7M261.9,235.9h0.7M266.8,238.7h0.7M269.9,239.0h0.7M273.7,240.2h0.7M268.7,237.4h0.7M261.2,237.4h0.7" stroke="#000" stroke-width="0.7" stroke-opacity="0.7" fill="none"/>
<path d="M266.8,246.8h0.7M268.3,249.4h0.7M264.3,258.2h0.7M263.6,245.7h0.7M269.5,246.3h0.7M264.6,250.3h0.7M260.1,242.8h0.7M260.3,258.1h0.7M270.5,253.3h0.7M269.0,243.9h0.7M262.1,245.9h0.7M261.8,242.8h0.7M264.1,249.6h0.7M263.8,245.6h0.7M261.4,245.2h0.7M262.4,244.4h0.7M265.0,245.8h0.7M265.3,249.9h0.7M261.0,260.9h0.7M269.6,260.6h0.7M262.2,253.0h0.7M268.0,244.2h0.7M260.3,259.7h0.7M266.0,252.1h0.7M267.0,245.2h0.7M262.5,259.5h0.7M266.7,243.1h0.7M266.2,258.7h0.7M274.0,243.1h0.7M262.7,252.5h0.7M271.3,247.9h0.7M261.1,248.1h0.7M267.9,243.4h0.7M265.1,245.0h0.7M265.8,246.3h0.7M265.2,256.6h0.7M263.2,243.1h0.7M264.1,245.7h0.7M261.2,247.0h0.7M265.3,256.3h0.7M264.7,253.2h0.7M270.6,248.0h0.7M266.6,243.4h0.7M269.2,248.7h0.7M261.5,249.7h0.7M264.3,243.1h0.7M265.8,245.9h0.7M267.9,248.4h0.7M267.8,259.3h0.7M267.0,258.1h0.7M265.9,246.7h0.7M259.7,243.1h0.7M262.2,243.5h0.7M262.8,252.3h0.7" stroke="#000" stroke-width="0.7" stroke-opacity="0.38" fill="none"/>
<path d="M267.5,235.1h0.7M259.0,255.7h0.7M268.0,260.5h0.7M254.5,236.4h0.7M254.3,252.5h0.7M266.9,250.2h0.7M267.6,246.0h0.7M263.3,258.7h0.7M265.0,250.4h0.7M263.8,245.3h0.7M267.1,247.8h0.7M254.7,243.2h0.7M260.5,243.4h0.7M263.3,241.2h0.7" stroke="#000" stroke-width="0.7" stroke-opacity="0.35" fill="none"/>
<ellipse cx="281.4" cy="234.2" rx="9.31" ry="4.8" fill="#000" fill-opacity="1.0" filter="url(#bl)"/>
<ellipse cx="277.9" cy="234.8" rx="6.86" ry="4.56" fill="#000" fill-opacity="1.0" filter="url(#bl)"/>
<ellipse cx="273.4" cy="236.2" rx="3.5" ry="2.88" fill="#000" fill-opacity="1.0" filter="url(#bl)"/>
<path d="M278.6,231.8h0.7M285.5,228.7h0.7M293.1,234.7h0.7M282.0,233.7h0.7M275.4,230.4h0.7M284.0,232.7h0.7M284.7,240.2h0.7M282.6,236.5h0.7M279.5,231.6h0.7M282.6,240.1h0.7M286.0,235.3h0.7M277.5,234.1h0.7M290.8,235.2h0.7M274.8,232.5h0.7M284.3,236.0h0.7M269.8,235.1h0.7M279.1,227.0h0.7M271.6,233.5h0.7M274.8,234.8h0.7M283.1,234.1h0.7M279.1,235.8h0.7M273.0,228.0h0.7M283.5,238.0h0.7M277.9,237.4h0.7M286.1,232.2h0.7M283.6,238.5h0.7M277.1,235.7h0.7M284.4,232.1h0.7M288.0,232.8h0.7M287.2,234.9h0.7M277.9,233.7h0.7M276.1,241.1h0.7M276.3,232.3h0.7M288.7,236.5h0.7M285.4,231.2h0.7M275.3,233.8h0.7M282.7,236.9h0.7M286.9,235.4h0.7M286.0,229.5h0.7M272.6,231.9h0.7M281.0,232.1h0.7M278.9,234.5h0.7M277.9,234.0h0.7M287.9,235.7h0.7M279.4,234.8h0.7M284.4,234.8h0.7M286.7,230.2h0.7M287.7,231.4h0.7M285.3,230.1h0.7M287.7,236.8h0.7M277.7,236.2h0.7M279.2,237.8h0.7M280.4,233.0h0.7M276.0,234.0h0.7M284.6,236.3h0.7M277.6,233.2h0.7M275.0,232.2h0.7M280.7,235.4h0.7M286.3,232.6h0.7M274.5,238.9h0.7M281.5,233.2h0.7M282.3,234.1h0.7M285.6,235.9h0.7M274.5,233.2h0.7M285.5,233.6h0.7M286.2,231.2h0.7M290.2,235.3h0.7M272.3,237.5h0.7M275.5,234.9h0.7M282.6,235.4h0.7M285.4,228.8h0.7M279.4,231.5h0.7M278.1,234.6h0.7M298.6,234.3h0.7M275.8,242.3h0.7M286.3,234.0h0.7M293.2,237.4h0.7M287.3,230.3h0.7M291.4,233.8h0.7M284.1,235.9h0.7M291.8,238.4h0.7M280.2,233.2h0.7M276.9,234.0h0.7M284.0,235.1h0.7M281.2,232.1h0.7M277.7,235.4h0.7M287.4,236.2h0.7M279.5,236.3h0.7M288.8,232.2h0.7M275.3,236.8h0.7M292.6,235.6h0.7M283.8,234.4h0.7M288.7,230.5h0.7M282.5,233.3h0.7M268.7,233.3h0.7M281.8,234.5h0.7M280.4,233.5h0.7M284.5,230.0h0.7M275.0,235.9h0.7M285.1,236.9h0.7M273.9,237.7h0.7M287.2,235.0h0.7M275.4,236.6h0.7M288.8,233.5h0.7M284.4,235.7h0.7M286.7,236.3h0.7M285.7,230.6h0.7M279.0,229.8h0.7M287.6,236.5h0.7M284.3,239.6h0.7M276.5,238.7h0.7M276.5,229.1h0.7M279.0,232.9h0.7M280.1,234.2h0.7M284.1,236.1h0.7M277.6,231.1h0.7M285.5,238.0h0.7M287.0,235.7h0.7M271.0,236.1h0.7M277.8,237.3h0.7M289.5,233.2h0.7M275.9,233.2h0.7M284.3,235.8h0.7M275.5,235.2h0.7M276.3,232.7h0.7M288.0,234.0h0.7M268.8,231.4h0.7M288.8,229.3h0.7M288.3,234.4h0.7M273.7,232.7h0.7M285.1,238.2h0.7M274.2,233.8h0.7M283.8,236.8h0.7M296.2,239.5h0.7M284.1,230.5h0.7M280.0,231.2h0.7M279.9,233.0h0.7M280.5,235.4h0.7M280.0,237.1h0.7M288.4,230.8h0.7M272.9,231.8h0.7M268.3,234.6h0.7M281.7,234.6h0.7M291.9,236.3h0.7M287.5,234.4h0.7M277.9,227.9h0.7M279.2,234.2h0.7M275.3,231.8h0.7M282.0,239.2h0.7M278.8,233.1h0.7M276.7,233.8h0.7M274.4,235.0h0.7M275.9,237.5h0.7M275.1,230.6h0.7M283.8,235.4h0.7M274.4,234.5h0.7M281.2,238.0h0.7M275.6,228.4h0.7M282.2,235.8h0.7M285.8,233.0h0.7M270.4,227.5h0.7M295.4,233.7h0.7M279.9,235.0h0.7M283.1,231.8h0.7M279.1,234.0h0.7M288.0,239.9h0.7M287.7,236.2h0.7M274.8,231.8h0.7M283.2,232.0h0.7M278.0,241.6h0.7M279.1,233.4h0.7M270.2,235.6h0.7M282.8,233.3h0.7M284.0,226.5h0.7M289.7,238.0h0.7M268.2,234.6h0.7M285.6,236.6h0.7M282.1,237.6h0.7M284.0,232.8h0.7M290.0,230.5h0.7M278.3,232.7h0.7M290.8,232.4h0.7M272.5,230.9h0.7M282.6,234.0h0.7M283.1,230.2h0.7M283.2,236.5h0.7M292.5,238.4h0.7M273.2,235.6h0.7M275.0,235.3h0.7M285.7,233.5h0.7M263.9,234.5h0.7M281.8,232.5h0.7M285.9,233.0h0.7M279.7,235.7h0.7M276.8,236.4h0.7M278.4,233.6h0.7M285.0,238.1h0.7M279.7,234.7h0.7M279.5,229.5h0.7M278.8,241.2h0.7M280.0,236.5h0.7M285.0,237.9h0.7M281.3,236.4h0.7M280.2,241.3h0.7M283.7,233.9h0.7M289.2,231.7h0.7M287.5,240.8h0.7M275.5,235.8h0.7M278.1,234.4h0.7M280.3,228.0h0.7M288.7,234.1h0.7M287.2,232.3h0.7M279.2,233.1h0.7M272.9,239.7h0.7M289.1,238.3h0.7M285.5,233.2h0.7M284.2,243.4h0.7M291.4,235.2h0.7M275.0,236.4h0.7M266.0,237.5h0.7M278.1,233.6h0.7M288.7,239.0h0.7M280.2,231.4h0.7M271.2,231.0h0.7M285.6,235.4h0.7M278.1,234.6h0.7M280.3,230.4h0.7M279.6,238.3h0.7M292.3,232.4h0.7M282.8,230.8h0.7M285.7,234.0h0.7M281.6,238.1h0.7M286.7,235.7h0.7M284.8,236.3h0.7M270.1,235.6h0.7M278.9,239.2h0.7M281.7,231.9h0.7M278.0,237.3h0.7M282.1,234.5h0.7M289.5,236.2h0.7M280.9,238.3h0.7M285.7,235.8h0.7M284.1,226.1h0.7M288.0,233.0h0.7M286.1,232.5h0.7M282.0,230.4h0.7M286.8,231.8h0.7M291.1,234.8h0.7M284.0,231.9h0.7M276.6,235.4h0.7M280.0,234.1h0.7M272.4,233.1h0.7M283.7,230.4h0.7M274.8,230.9h0.7M282.6,232.6h0.7M273.7,232.5h0.7M283.2,230.5h0.7M283.1,241.9h0.7M269.5,231.7h0.7M279.5,234.9h0.7M289.8,234.0h0.7M276.8,230.1h0.7M260.0,228.7h0.7M290.5,230.2h0.7M284.8,235.5h0.7M278.4,229.4h0.7M295.8,236.5h0.7M283.5,229.3h0.7M282.9,229.5h0.7M271.2,234.1h0.7M281.1,234.9h0.7M282.1,233.6h0.7M282.0,230.0h0.7M280.0,235.9h0.7M292.8,227.7h0.7M289.4,231.6h0.7M288.0,232.0h0.7M280.2,234.2h0.7M280.9,234.2h0.7M286.7,236.8h0.7M276.6,236.6h0.7M282.6,230.0h0.7M274.4,238.2h0.7M288.1,231.4h0.7M286.1,231.4h0.7M284.5,240.9h0.7M280.6,238.4h0.7M276.5,233.7h0.7M278.2,239.7h0.7M283.9,232.2h0.7M273.8,233.3h0.7M285.8,237.4h0.7M277.8,236.9h0.7M282.1,233.6h0.7M283.2,240.6h0.7M279.6,234.3h0.7M280.9,232.9h0.7M282.9,233.4h0.7M270.5,235.5h0.7M271.0,234.6h0.7" stroke="#000" stroke-width="0.7" stroke-opacity="0.7" fill="none"/>
</g>
<rect x="252.2" y="219.05" width="42.6" height="42.14999999999998" fill="none" stroke="#000" stroke-width="1.35"/>
<path d="M271.9,219.05V261.2M252.2,242.8H294.8" stroke="#000" stroke-width="1.2" fill="none"/>
<path d="M250.89999999999998,221.7h1.3M254.9,261.2v1.3M250.89999999999998,224.3h1.3M257.5,261.2v1.3M250.89999999999998,227.0h1.3M260.2,261.2v1.3M250.89999999999998,229.6h1.3M262.8,261.2v1.3M250.89999999999998,232.2h1.3M265.5,261.2v1.3M250.89999999999998,234.9h1.3M268.2,261.2v1.3M250.89999999999998,237.5h1.3M270.8,261.2v1.3M250.89999999999998,240.1h1.3M273.5,261.2v1.3M250.89999999999998,242.8h1.3M276.2,261.2v1.3M250.89999999999998,245.4h1.3M278.8,261.2v1.3M250.89999999999998,248.0h1.3M281.5,261.2v1.3M250.89999999999998,250.7h1.3M284.1,261.2v1.3M250.89999999999998,253.3h1.3M286.8,261.2v1.3M250.89999999999998,255.9h1.3M289.5,261.2v1.3M250.89999999999998,258.6h1.3M292.1,261.2v1.3" stroke="#000" stroke-width="0.6" stroke-opacity="0.6"/>
<text x="293.20" y="225.35" font-size="7" text-anchor="end" font-weight="normal" fill="#111" >23.2</text>
<clipPath id="c10"><rect x="116.5" y="265.6" width="42.6" height="43.0"/></clipPath><g clip-path="url(#c10)">
<rect x="114.5" y="277.6" width="17.5" height="11.2" rx="3.5" fill="#000" filter="url(#bl)"/>
<ellipse cx="127.7" cy="283.6" rx="7.5" ry="5.2" fill="#000" fill-opacity="1" filter="url(#bl)"/>
<path d="M125.9,289.2h0.7M131.9,285.6h0.7M118.5,284.3h0.7M137.6,285.9h0.7M129.0,293.6h0.7M125.4,278.4h0.7M130.7,285.1h0.7M117.3,289.6h0.7M124.3,291.7h0.7M118.0,288.7h0.7M130.4,284.1h0.7M130.7,277.9h0.7M127.7,292.0h0.7M125.4,277.7h0.7M123.8,281.7h0.7M130.8,283.4h0.7M121.7,286.9h0.7M116.8,280.4h0.7M122.3,282.3h0.7M124.2,286.1h0.7M128.3,284.4h0.7M126.6,282.4h0.7M122.4,282.5h0.7M122.1,280.4h0.7M122.7,283.4h0.7M128.7,286.9h0.7M118.5,285.6h0.7M123.6,283.2h0.7M132.7,286.4h0.7M127.1,279.7h0.7M123.4,287.5h0.7M120.8,280.6h0.7M118.8,284.3h0.7M119.3,293.4h0.7M125.3,284.1h0.7M122.0,285.5h0.7M128.1,282.6h0.7M122.4,287.7h0.7M126.1,286.3h0.7M125.4,281.8h0.7M128.1,286.3h0.7M125.3,283.7h0.7M130.8,280.8h0.7M128.2,283.3h0.7M126.3,286.6h0.7M125.2,284.4h0.7M126.3,286.7h0.7M130.4,282.0h0.7M124.0,281.5h0.7M133.1,281.3h0.7M117.3,281.1h0.7M121.0,284.2h0.7M125.7,287.3h0.7M123.8,283.9h0.7M121.4,282.3h0.7M128.7,287.7h0.7M119.8,286.1h0.7M123.3,278.9h0.7M121.0,284.0h0.7M131.3,288.6h0.7M131.8,284.4h0.7M128.3,282.7h0.7M134.1,280.8h0.7M119.4,287.1h0.7M116.8,284.7h0.7M132.7,284.9h0.7M129.3,284.4h0.7M127.2,279.3h0.7M135.8,282.8h0.7M123.0,284.5h0.7M133.5,282.8h0.7M124.9,287.4h0.7M129.7,282.4h0.7M123.7,284.0h0.7M120.6,280.0h0.7M121.1,279.1h0.7M138.1,280.7h0.7M129.2,277.1h0.7M122.2,289.6h0.7M124.4,278.2h0.7M122.8,277.9h0.7M123.2,284.6h0.7M133.2,281.2h0.7M126.9,284.1h0.7M120.8,282.6h0.7M118.1,278.7h0.7M129.6,281.9h0.7M125.1,283.1h0.7M134.5,275.3h0.7M125.6,280.5h0.7M127.1,287.5h0.7M126.3,280.7h0.7M124.1,286.8h0.7M129.7,285.5h0.7M126.9,280.6h0.7M127.2,279.3h0.7M125.2,282.2h0.7M127.4,288.1h0.7M126.1,286.4h0.7M124.2,281.8h0.7M129.6,283.4h0.7M117.9,283.7h0.7M124.6,285.2h0.7M128.4,281.2h0.7M129.9,276.8h0.7M136.0,279.3h0.7M128.3,288.5h0.7M123.1,278.2h0.7M118.6,283.1h0.7M126.7,287.8h0.7M123.2,282.5h0.7M124.0,283.5h0.7M119.1,281.8h0.7M121.2,286.5h0.7M122.2,282.4h0.7M130.1,273.8h0.7M126.7,285.4h0.7M128.1,284.0h0.7M122.8,278.3h0.7M130.8,282.2h0.7M134.1,279.6h0.7M134.2,276.3h0.7M127.5,280.9h0.7M125.9,286.0h0.7M131.2,285.6h0.7M126.4,286.8h0.7M119.4,284.9h0.7M122.5,279.7h0.7M126.1,285.7h0.7M128.3,288.5h0.7M120.4,278.8h0.7M124.7,289.2h0.7M124.1,285.1h0.7M122.5,283.7h0.7M128.6,279.0h0.7M124.6,279.8h0.7M127.0,287.1h0.7M133.0,280.7h0.7M123.9,287.8h0.7M116.7,286.8h0.7M127.8,281.0h0.7M126.7,283.3h0.7M130.9,290.8h0.7M122.5,282.0h0.7M126.1,279.5h0.7M127.3,284.1h0.7M121.3,281.7h0.7M125.8,288.4h0.7M131.1,276.5h0.7M131.8,284.8h0.7M137.9,283.8h0.7M127.1,284.8h0.7M126.5,276.4h0.7M136.0,280.2h0.7M133.1,287.7h0.7M126.8,282.1h0.7M124.5,280.3h0.7M121.9,280.5h0.7M135.7,283.0h0.7M122.2,284.5h0.7M126.5,283.2h0.7M134.1,292.6h0.7M121.9,284.8h0.7M122.8,285.1h0.7M128.7,282.2h0.7M123.4,284.0h0.7M128.4,279.8h0.7M119.6,283.9h0.7M124.5,293.0h0.7M126.2,283.4h0.7M130.1,284.7h0.7M122.9,285.6h0.7M121.9,288.4h0.7M125.5,279.1h0.7M118.1,281.9h0.7M124.9,284.5h0.7M134.2,285.1h0.7M126.6,283.6h0.7M136.4,280.5h0.7M123.5,288.1h0.7M123.3,283.9h0.7M133.3,285.7h0.7M120.4,279.4h0.7M128.5,288.6h0.7M124.5,285.5h0.7M132.8,281.9h0.7M131.6,283.4h0.7M124.0,280.6h0.7M124.9,278.3h0.7M118.4,278.8h0.7M127.0,283.0h0.7M129.9,279.3h0.7M124.7,284.6h0.7M135.8,280.3h0.7M125.2,283.4h0.7M137.2,290.3h0.7M116.6,283.6h0.7M127.6,283.1h0.7M124.2,286.9h0.7M117.7,281.6h0.7M131.0,282.8h0.7M121.8,279.5h0.7M133.5,281.6h0.7M117.6,285.6h0.7M127.9,283.6h0.7M126.8,280.7h0.7M118.9,287.6h0.7M121.5,287.0h0.7M121.7,280.8h0.7M124.6,275.6h0.7M128.5,283.4h0.7M125.2,282.2h0.7M128.5,280.6h0.7M119.9,275.7h0.7M127.4,283.7h0.7M122.5,288.9h0.7M127.1,279.4h0.7M120.0,282.7h0.7M125.2,277.3h0.7M128.8,282.8h0.7M124.1,289.0h0.7M134.8,281.6h0.7M124.1,281.5h0.7M118.4,284.1h0.7M122.7,277.4h0.7M127.8,282.5h0.7M128.1,287.2h0.7M117.8,284.9h0.7M125.3,275.5h0.7M119.7,278.3h0.7M116.5,287.2h0.7M130.3,284.9h0.7M130.3,285.9h0.7M130.9,288.5h0.7M127.8,279.0h0.7M122.7,286.6h0.7M119.4,287.4h0.7M122.3,288.4h0.7M130.0,288.3h0.7M121.9,280.5h0.7M125.5,280.7h0.7M116.8,280.9h0.7M126.5,278.7h0.7M130.0,283.9h0.7M128.9,278.5h0.7M126.1,286.1h0.7M127.2,286.3h0.7M124.3,284.0h0.7M119.9,287.1h0.7M128.9,287.7h0.7M117.2,288.8h0.7M128.1,280.7h0.7M120.2,281.4h0.7M118.6,285.8h0.7M134.1,285.7h0.7M129.1,286.3h0.7M118.6,278.1h0.7M124.5,280.2h0.7M125.5,282.9h0.7M124.8,283.0h0.7M126.6,291.2h0.7M124.8,282.4h0.7M122.2,285.4h0.7M121.1,285.3h0.7M116.6,279.1h0.7M118.9,282.9h0.7M137.1,277.9h0.7M122.4,285.0h0.7M121.1,280.8h0.7M128.4,289.9h0.7M131.2,282.0h0.7M118.5,276.7h0.7M121.6,286.6h0.7M127.7,281.9h0.7M118.0,280.9h0.7M125.3,284.5h0.7M134.4,279.1h0.7M137.7,291.2h0.7M132.7,286.2h0.7M128.8,287.3h0.7M128.6,289.3h0.7M122.3,281.8h0.7M129.0,284.6h0.7M124.3,287.5h0.7M131.7,281.5h0.7M120.2,279.3h0.7M129.1,276.7h0.7M123.1,286.1h0.7M121.8,289.7h0.7M125.8,280.5h0.7M117.8,284.8h0.7M126.3,286.3h0.7M121.6,274.3h0.7M128.1,285.3h0.7M133.6,287.8h0.7M128.2,283.5h0.7M121.5,284.2h0.7M121.9,277.4h0.7M121.7,285.3h0.7M116.9,282.5h0.7M121.8,282.0h0.7M130.0,287.5h0.7M116.7,280.8h0.7M126.0,282.9h0.7M127.4,286.7h0.7M123.4,278.3h0.7M133.2,278.8h0.7M123.4,280.0h0.7M127.8,286.3h0.7M123.8,279.7h0.7M124.1,284.8h0.7M127.9,277.3h0.7M124.7,282.5h0.7M126.1,285.3h0.7M123.8,284.4h0.7M123.9,282.4h0.7M122.3,283.4h0.7M131.8,283.7h0.7M118.5,280.5h0.7M128.3,280.8h0.7M124.5,285.8h0.7M124.0,286.6h0.7M131.1,280.3h0.7M133.3,288.7h0.7M127.5,278.3h0.7M136.1,282.4h0.7M131.6,281.8h0.7M132.3,282.6h0.7M134.4,278.9h0.7M130.4,282.6h0.7M131.9,278.4h0.7M121.7,281.5h0.7M119.7,285.1h0.7M126.8,284.9h0.7M128.4,285.7h0.7M133.7,279.5h0.7M136.8,283.9h0.7M129.9,284.4h0.7M128.4,281.7h0.7M117.7,283.5h0.7M136.7,281.9h0.7M119.2,279.6h0.7M119.4,282.2h0.7M126.2,278.0h0.7M136.7,280.1h0.7M131.6,288.7h0.7M130.9,285.8h0.7M120.6,280.7h0.7M130.6,283.6h0.7M129.5,287.3h0.7M132.1,274.9h0.7M124.3,290.5h0.7M122.2,289.9h0.7M121.1,285.4h0.7M125.7,290.6h0.7M123.3,280.0h0.7M119.4,280.2h0.7M127.8,286.3h0.7M131.5,283.3h0.7M128.4,286.7h0.7M119.2,285.7h0.7M121.5,281.1h0.7M122.8,284.8h0.7M121.4,280.9h0.7M118.8,282.9h0.7M127.5,279.4h0.7M125.8,284.6h0.7M121.3,284.8h0.7M130.1,284.4h0.7M120.9,283.0h0.7M124.0,288.4h0.7M130.1,281.9h0.7M125.3,275.4h0.7M127.7,280.1h0.7M130.3,280.0h0.7M128.8,290.6h0.7M128.7,280.8h0.7M122.4,283.1h0.7M129.2,289.7h0.7M120.3,280.2h0.7M131.1,281.4h0.7M123.8,289.2h0.7M127.3,286.0h0.7M132.1,284.3h0.7M125.3,286.2h0.7M133.1,275.4h0.7M118.7,292.4h0.7M126.5,276.7h0.7M126.1,290.0h0.7M128.3,281.2h0.7M125.9,282.5h0.7M126.6,281.4h0.7M123.0,283.0h0.7M121.5,281.8h0.7M117.1,281.6h0.7M134.4,277.7h0.7M133.2,286.3h0.7M122.3,291.3h0.7M123.4,285.9h0.7M116.7,287.0h0.7M127.0,285.0h0.7M122.0,284.2h0.7M125.4,282.1h0.7M125.8,284.4h0.7M122.9,285.4h0.7M122.2,287.5h0.7M133.1,282.0h0.7M119.4,279.9h0.7M120.7,287.6h0.7M122.8,279.8h0.7M123.5,279.0h0.7M130.3,287.7h0.7M131.4,288.9h0.7M120.6,280.4h0.7M123.6,284.9h0.7M126.8,276.6h0.7M122.0,285.1h0.7M122.2,283.6h0.7M126.8,284.8h0.7M130.5,278.0h0.7M124.3,280.8h0.7M126.9,285.9h0.7M120.5,281.4h0.7M127.4,278.2h0.7M126.3,280.3h0.7M132.3,283.1h0.7M125.2,286.4h0.7M124.0,275.1h0.7M120.7,283.9h0.7M127.4,284.2h0.7M128.7,286.1h0.7M119.1,286.3h0.7M126.5,281.4h0.7M124.9,281.0h0.7M138.0,281.2h0.7M126.8,282.2h0.7M123.4,278.6h0.7M124.1,287.3h0.7M129.4,281.5h0.7M134.9,277.9h0.7M122.7,285.8h0.7M134.2,284.1h0.7M123.1,281.1h0.7M127.8,276.6h0.7M127.8,278.2h0.7M121.4,283.9h0.7M120.1,281.1h0.7M121.1,279.4h0.7M126.4,282.5h0.7M121.9,284.7h0.7M122.0,281.0h0.7M136.5,286.9h0.7M124.6,284.5h0.7M124.7,285.9h0.7M124.0,289.4h0.7M127.5,286.7h0.7M134.1,285.4h0.7M125.3,282.7h0.7M127.3,280.4h0.7M126.2,283.3h0.7M117.9,290.2h0.7M122.6,287.3h0.7M137.6,287.2h0.7M120.2,281.5h0.7M124.6,282.5h0.7M129.2,285.2h0.7M133.4,280.9h0.7M134.8,277.7h0.7M120.0,289.4h0.7M131.6,278.7h0.7M124.8,284.0h0.7M134.9,279.0h0.7M130.8,281.9h0.7M123.5,281.8h0.7M135.2,288.5h0.7M126.1,278.3h0.7M122.4,281.7h0.7M131.5,277.8h0.7M126.7,287.4h0.7M128.5,283.3h0.7M133.6,283.5h0.7M129.5,284.5h0.7M135.0,283.3h0.7M120.2,283.2h0.7M124.9,288.1h0.7M121.6,286.8h0.7M130.2,278.4h0.7M125.5,281.7h0.7M123.5,286.6h0.7M134.6,288.2h0.7M130.3,283.7h0.7M136.5,282.1h0.7M118.7,288.8h0.7M118.6,292.4h0.7M124.6,278.5h0.7M120.6,281.9h0.7M119.6,279.4h0.7M125.3,284.2h0.7M130.0,287.4h0.7M124.7,283.4h0.7M124.5,274.9h0.7M131.0,284.7h0.7M132.0,286.0h0.7M127.5,284.0h0.7M123.7,285.5h0.7M121.6,286.7h0.7M122.7,275.4h0.7M129.9,278.5h0.7M122.6,283.9h0.7M125.6,283.4h0.7M128.2,284.8h0.7M120.9,288.7h0.7M122.7,285.6h0.7M134.5,281.8h0.7M132.2,289.5h0.7M130.7,284.7h0.7M117.1,282.4h0.7M119.9,285.8h0.7M129.2,283.3h0.7M117.1,285.3h0.7M128.7,283.0h0.7M125.4,287.3h0.7M127.1,288.5h0.7M135.0,287.6h0.7M132.8,284.4h0.7M119.9,273.1h0.7M120.1,281.0h0.7M121.0,286.3h0.7M124.5,286.5h0.7M123.7,280.9h0.7M127.8,279.4h0.7M121.5,289.2h0.7M124.6,276.8h0.7M124.7,287.3h0.7M130.5,285.0h0.7M123.2,280.9h0.7M125.9,280.9h0.7M121.2,279.4h0.7M127.3,277.3h0.7M118.2,283.0h0.7M130.1,284.3h0.7M128.0,288.2h0.7M129.4,289.4h0.7M118.1,294.5h0.7M122.5,283.2h0.7M127.4,283.6h0.7M132.6,286.3h0.7M125.7,278.4h0.7M126.8,284.6h0.7M127.9,282.9h0.7M127.6,284.8h0.7M127.2,285.8h0.7M128.2,286.4h0.7M117.6,281.6h0.7M136.3,284.5h0.7M126.2,286.0h0.7M123.9,288.7h0.7M119.8,285.1h0.7M126.0,282.4h0.7M122.4,281.0h0.7M117.1,284.1h0.7M132.3,285.3h0.7M137.6,279.9h0.7M118.1,282.7h0.7M123.7,288.2h0.7M118.0,278.9h0.7M124.4,277.7h0.7M125.7,280.8h0.7M124.2,281.2h0.7M124.8,287.8h0.7M125.4,287.4h0.7M117.9,284.7h0.7M132.5,279.6h0.7M121.1,279.6h0.7M127.1,280.9h0.7M124.1,282.8h0.7M122.3,283.4h0.7M130.7,281.1h0.7M131.0,280.2h0.7M119.2,281.1h0.7M132.7,286.9h0.7M123.6,288.1h0.7M117.3,282.8h0.7M128.4,284.9h0.7M119.1,281.3h0.7M130.9,282.6h0.7M119.8,285.1h0.7M130.6,285.9h0.7M125.4,282.4h0.7M128.5,281.8h0.7M125.7,281.5h0.7M119.9,283.7h0.7M134.8,283.2h0.7M126.4,286.7h0.7M121.6,283.1h0.7M134.9,289.1h0.7M118.7,286.3h0.7" stroke="#000" stroke-width="0.7" stroke-opacity="0.7" fill="none"/>
<path d="M134.2,296.4h0.7M133.3,307.8h0.7M134.0,290.4h0.7M122.9,290.2h0.7M127.2,290.3h0.7M130.5,293.1h0.7M129.0,292.0h0.7M131.6,301.8h0.7M126.4,294.6h0.7M138.8,292.4h0.7M131.2,300.2h0.7M133.9,301.0h0.7M133.2,303.1h0.7M127.7,291.3h0.7M130.4,300.0h0.7M132.9,302.9h0.7M129.2,292.1h0.7M132.3,293.7h0.7M136.3,291.5h0.7M127.5,290.5h0.7M128.5,295.9h0.7M130.1,291.3h0.7M123.8,292.2h0.7M127.3,300.5h0.7M130.9,290.5h0.7M129.0,298.6h0.7M123.0,296.0h0.7M132.8,300.2h0.7M122.8,295.5h0.7M126.0,291.2h0.7M125.4,299.4h0.7M130.4,296.0h0.7M131.2,294.4h0.7M131.1,294.9h0.7M135.0,296.4h0.7M126.9,292.4h0.7M128.0,302.5h0.7M128.9,291.6h0.7M126.0,299.6h0.7M137.5,298.6h0.7M126.2,292.3h0.7M131.0,297.1h0.7M127.9,298.7h0.7M126.1,290.5h0.7M124.8,290.3h0.7M127.6,300.1h0.7M129.4,294.2h0.7M128.2,300.1h0.7M132.5,291.9h0.7M124.2,290.5h0.7M133.7,291.4h0.7M124.4,292.9h0.7M128.7,290.4h0.7M128.9,296.8h0.7" stroke="#000" stroke-width="0.7" stroke-opacity="0.38" fill="none"/>
<path d="M118.0,290.4h0.7M129.7,304.4h0.7M118.0,293.2h0.7M132.2,280.9h0.7M134.1,306.7h0.7M123.2,283.8h0.7M119.4,284.1h0.7M124.8,299.4h0.7M135.0,294.7h0.7M135.3,290.6h0.7M129.5,277.2h0.7M124.7,277.9h0.7M119.1,302.6h0.7M118.8,286.6h0.7" stroke="#000" stroke-width="0.7" stroke-opacity="0.35" fill="none"/>
<path d="M142.4,279.0h0.7M138.4,284.9h0.7M137.8,281.6h0.7M142.7,286.5h0.7M140.9,273.6h0.7M154.1,285.3h0.7M138.3,287.2h0.7M140.6,289.1h0.7M139.8,286.5h0.7M142.0,277.2h0.7M150.1,281.9h0.7M145.1,283.0h0.7M143.6,279.8h0.7M138.2,281.8h0.7M138.2,274.2h0.7M145.6,279.9h0.7M141.4,283.3h0.7M148.2,282.9h0.7M143.1,282.6h0.7M141.1,282.7h0.7M137.9,284.0h0.7M140.7,279.8h0.7" stroke="#000" stroke-width="0.7" stroke-opacity="0.4" fill="none"/>
</g>
<rect x="116.5" y="265.6" width="42.6" height="43.0" fill="none" stroke="#000" stroke-width="1.35"/>
<path d="M136.2,265.6V308.6M116.5,290.2H159.1" stroke="#000" stroke-width="1.2" fill="none"/>
<path d="M115.2,268.3h1.3M119.2,308.6v1.3M115.2,271.0h1.3M121.8,308.6v1.3M115.2,273.7h1.3M124.5,308.6v1.3M115.2,276.4h1.3M127.2,308.6v1.3M115.2,279.0h1.3M129.8,308.6v1.3M115.2,281.7h1.3M132.5,308.6v1.3M115.2,284.4h1.3M135.1,308.6v1.3M115.2,287.1h1.3M137.8,308.6v1.3M115.2,289.8h1.3M140.5,308.6v1.3M115.2,292.5h1.3M143.1,308.6v1.3M115.2,295.2h1.3M145.8,308.6v1.3M115.2,297.9h1.3M148.4,308.6v1.3M115.2,300.5h1.3M151.1,308.6v1.3M115.2,303.2h1.3M153.8,308.6v1.3M115.2,305.9h1.3M156.4,308.6v1.3" stroke="#000" stroke-width="0.6" stroke-opacity="0.6"/>
<text x="157.50" y="271.90" font-size="7" text-anchor="end" font-weight="normal" fill="#111" >0.72</text>
<clipPath id="c11"><rect x="161.75" y="265.6" width="42.6" height="43.0"/></clipPath><g clip-path="url(#c11)">
<rect x="159.8" y="277.6" width="18.5" height="11.2" rx="3.5" fill="#000" filter="url(#bl)"/>
<ellipse cx="173.9" cy="283.6" rx="7.5" ry="5.2" fill="#000" fill-opacity="1" filter="url(#bl)"/>
<path d="M179.7,290.7h0.7M173.1,290.8h0.7M179.9,288.2h0.7M168.7,288.1h0.7M175.4,289.6h0.7M173.8,280.0h0.7M162.7,284.5h0.7M173.6,278.9h0.7M170.2,282.8h0.7M167.8,275.2h0.7M164.6,283.5h0.7M183.1,288.7h0.7M169.2,280.2h0.7M173.9,281.8h0.7M172.1,286.1h0.7M173.8,287.1h0.7M183.4,279.0h0.7M181.2,276.7h0.7M166.3,288.0h0.7M165.4,281.1h0.7M172.9,280.8h0.7M169.3,284.1h0.7M169.8,281.5h0.7M167.1,279.8h0.7M175.2,294.6h0.7M169.2,278.1h0.7M169.3,281.5h0.7M169.8,284.6h0.7M164.4,284.2h0.7M164.6,281.8h0.7M170.4,282.4h0.7M172.0,287.7h0.7M173.8,282.5h0.7M172.3,281.6h0.7M168.6,284.6h0.7M180.2,284.1h0.7M171.0,282.6h0.7M163.3,280.0h0.7M172.0,286.9h0.7M171.9,280.5h0.7M170.6,286.8h0.7M171.2,287.2h0.7M162.0,284.7h0.7M164.4,276.9h0.7M171.5,285.4h0.7M174.5,287.7h0.7M172.0,275.2h0.7M176.0,286.8h0.7M168.7,282.0h0.7M171.5,283.7h0.7M163.8,287.1h0.7M182.7,285.8h0.7M172.5,271.8h0.7M174.5,285.4h0.7M175.2,284.4h0.7M165.9,284.2h0.7M170.9,283.8h0.7M176.9,284.5h0.7M169.1,280.2h0.7M169.6,287.4h0.7M173.7,284.0h0.7M174.6,283.8h0.7M181.7,282.0h0.7M169.9,283.3h0.7M173.7,288.8h0.7M166.7,274.8h0.7M174.2,286.0h0.7M170.9,283.5h0.7M175.6,280.3h0.7M165.3,277.6h0.7M170.2,280.6h0.7M170.4,279.4h0.7M173.7,287.3h0.7M179.5,277.5h0.7M176.5,279.3h0.7M167.4,289.8h0.7M169.6,282.7h0.7M174.0,284.7h0.7M170.4,290.8h0.7M164.7,279.1h0.7M164.9,281.6h0.7M168.9,288.7h0.7M176.4,281.9h0.7M172.4,281.0h0.7M169.7,283.0h0.7M164.4,285.1h0.7M165.3,280.0h0.7M173.5,279.8h0.7M180.0,285.8h0.7M167.9,283.0h0.7M167.2,288.9h0.7M171.9,284.1h0.7M165.9,289.2h0.7M171.1,281.0h0.7M181.1,284.7h0.7M168.6,286.8h0.7M167.9,283.1h0.7M177.5,279.4h0.7M170.1,283.3h0.7M173.6,279.8h0.7M164.1,282.4h0.7M165.5,284.0h0.7M170.5,284.1h0.7M172.3,279.6h0.7M168.9,284.2h0.7M179.1,284.5h0.7M171.5,290.7h0.7M168.4,288.2h0.7M175.3,279.3h0.7M171.0,286.3h0.7M163.9,288.5h0.7M168.0,285.1h0.7M169.9,284.9h0.7M166.5,289.0h0.7M166.1,289.3h0.7M169.2,280.3h0.7M176.3,283.8h0.7M169.3,279.2h0.7M169.5,283.0h0.7M165.8,279.1h0.7M165.1,279.7h0.7M177.9,286.4h0.7M168.0,279.6h0.7M170.3,285.1h0.7M167.2,282.8h0.7M177.6,282.4h0.7M168.5,287.7h0.7M170.4,283.2h0.7M165.0,287.0h0.7M172.5,282.2h0.7M170.3,288.2h0.7M170.4,282.8h0.7M171.8,283.7h0.7M177.2,282.3h0.7M168.3,280.8h0.7M171.9,278.7h0.7M167.6,277.8h0.7M170.3,282.6h0.7M169.6,281.4h0.7M165.4,284.1h0.7M181.3,284.2h0.7M180.5,290.1h0.7M171.9,280.0h0.7M173.8,280.2h0.7M171.5,284.3h0.7M181.0,282.8h0.7M169.9,282.6h0.7M176.6,280.6h0.7M168.6,293.0h0.7M165.7,285.3h0.7M174.7,285.4h0.7M177.5,282.5h0.7M180.7,284.6h0.7M169.9,285.3h0.7M172.0,282.9h0.7M174.6,280.6h0.7M173.9,282.3h0.7M170.5,282.4h0.7M168.8,278.0h0.7M163.1,285.0h0.7M169.2,287.4h0.7M183.2,281.7h0.7M175.0,289.3h0.7M172.9,284.5h0.7M166.1,289.3h0.7M171.6,288.5h0.7M171.4,281.5h0.7M175.6,287.1h0.7M174.8,287.3h0.7M171.3,280.8h0.7M173.4,282.0h0.7M173.8,280.6h0.7M175.3,286.6h0.7M169.2,283.3h0.7M171.9,280.4h0.7M170.5,294.6h0.7M171.5,280.7h0.7M172.0,284.7h0.7M162.2,281.7h0.7M165.0,289.1h0.7M177.9,283.9h0.7M164.3,277.8h0.7M167.1,279.6h0.7M171.7,277.9h0.7M172.4,283.3h0.7M165.8,284.2h0.7M165.4,282.0h0.7M166.0,290.3h0.7M162.6,284.2h0.7M165.4,281.4h0.7M176.9,282.9h0.7M170.4,275.9h0.7M167.4,290.4h0.7M176.7,272.7h0.7M161.8,282.7h0.7M164.9,288.7h0.7M179.8,287.6h0.7M164.4,284.4h0.7M178.7,280.3h0.7M170.9,279.7h0.7M171.9,288.5h0.7M170.4,291.2h0.7M169.4,286.2h0.7M181.2,280.1h0.7M177.2,278.3h0.7M167.5,281.9h0.7M180.5,279.4h0.7M179.5,278.6h0.7M171.8,286.4h0.7M171.3,291.0h0.7M171.9,278.6h0.7M170.0,287.2h0.7M177.9,285.2h0.7M166.2,280.7h0.7M174.4,281.6h0.7M176.9,284.3h0.7M169.6,289.8h0.7M170.7,278.9h0.7M168.2,281.8h0.7M181.7,286.0h0.7M167.1,281.1h0.7M171.5,283.6h0.7M166.1,282.2h0.7M168.3,286.9h0.7M171.6,281.6h0.7M169.6,280.6h0.7M170.0,283.1h0.7M181.8,279.9h0.7M179.4,283.6h0.7M165.3,290.2h0.7M173.8,279.2h0.7M168.8,281.9h0.7M164.1,284.0h0.7M171.0,288.4h0.7M169.7,277.2h0.7M179.0,287.3h0.7M166.3,288.5h0.7M172.0,279.7h0.7M175.8,284.5h0.7M168.5,285.3h0.7M166.9,283.6h0.7M173.2,285.8h0.7M174.5,275.4h0.7M168.7,285.0h0.7M176.0,280.1h0.7M177.9,280.4h0.7M178.9,284.2h0.7M173.0,278.7h0.7M166.6,284.3h0.7M172.9,283.0h0.7M169.4,288.4h0.7M167.1,285.5h0.7M176.9,285.0h0.7M172.4,279.3h0.7M181.8,288.5h0.7M165.8,280.6h0.7M165.1,278.5h0.7M170.8,280.1h0.7M171.6,285.1h0.7M166.9,279.2h0.7M176.8,286.7h0.7M170.2,280.4h0.7M174.1,284.4h0.7M177.2,284.2h0.7M167.5,280.8h0.7M172.2,278.3h0.7M166.3,286.6h0.7M176.3,285.5h0.7M179.8,282.5h0.7M167.4,284.0h0.7M176.8,280.1h0.7M183.2,288.0h0.7M163.5,280.6h0.7M175.8,284.8h0.7M178.1,285.1h0.7M170.6,281.8h0.7M174.0,285.3h0.7M167.0,282.5h0.7M171.6,282.1h0.7M164.4,285.4h0.7M161.9,283.5h0.7M166.5,283.6h0.7M180.0,291.4h0.7M176.0,282.8h0.7M164.2,282.7h0.7M173.4,277.9h0.7M167.8,284.8h0.7M173.4,282.0h0.7M164.9,284.5h0.7M165.2,290.7h0.7M170.0,281.7h0.7M178.5,280.3h0.7M167.9,285.9h0.7M162.5,284.7h0.7M167.1,279.2h0.7M171.2,283.1h0.7M170.9,285.1h0.7M165.1,287.3h0.7M181.9,278.2h0.7M167.9,283.3h0.7M162.7,284.6h0.7M170.4,282.6h0.7M174.7,282.0h0.7M168.1,285.5h0.7M172.1,285.6h0.7M178.4,279.8h0.7M173.4,287.9h0.7M172.0,283.6h0.7M174.2,285.5h0.7M172.7,281.9h0.7M173.7,281.6h0.7M172.3,282.9h0.7M173.6,285.0h0.7M170.9,280.1h0.7M162.9,276.3h0.7M172.9,287.0h0.7M179.5,289.8h0.7M164.0,285.8h0.7M166.0,276.8h0.7M170.5,281.6h0.7M174.8,285.9h0.7M172.3,288.7h0.7M182.7,282.4h0.7M176.9,288.9h0.7M169.9,282.1h0.7M172.6,281.7h0.7M175.4,287.1h0.7M169.4,286.3h0.7M170.6,290.8h0.7M175.4,289.1h0.7M176.5,281.2h0.7M168.5,285.5h0.7M165.7,288.0h0.7M170.6,291.2h0.7M166.4,279.8h0.7M178.2,282.9h0.7M162.3,288.9h0.7M172.8,283.8h0.7M167.3,284.7h0.7M172.8,282.0h0.7M170.6,285.7h0.7M166.1,289.3h0.7M171.2,281.6h0.7M173.2,279.3h0.7M175.3,288.4h0.7M172.7,280.9h0.7M163.2,279.8h0.7M162.4,285.5h0.7M163.3,284.4h0.7M168.5,288.5h0.7M168.3,285.4h0.7M173.6,281.7h0.7M167.3,286.2h0.7M169.5,279.5h0.7M172.1,286.4h0.7M169.5,288.0h0.7M165.1,275.9h0.7M165.0,287.9h0.7M164.5,282.6h0.7M170.9,284.5h0.7M180.4,287.3h0.7M177.5,281.6h0.7M176.6,286.6h0.7M164.6,273.7h0.7M167.3,287.9h0.7M167.6,290.2h0.7M177.9,285.3h0.7M172.3,282.3h0.7M167.9,283.7h0.7M161.9,287.5h0.7M183.3,288.7h0.7M171.3,289.9h0.7M170.2,277.2h0.7M173.4,288.6h0.7M167.8,286.5h0.7M174.5,282.6h0.7M165.7,285.5h0.7M177.5,286.1h0.7M177.0,288.2h0.7M177.4,285.5h0.7M177.0,282.2h0.7M168.2,280.5h0.7M165.8,281.9h0.7M168.8,277.0h0.7M173.2,281.7h0.7M168.3,280.0h0.7M182.6,287.4h0.7M173.8,279.9h0.7M170.9,285.3h0.7M171.5,285.7h0.7M165.6,282.6h0.7M178.1,285.0h0.7M172.3,286.4h0.7M162.1,284.6h0.7M176.7,286.3h0.7M174.0,277.8h0.7M170.1,276.8h0.7M171.0,288.1h0.7M171.4,285.4h0.7M172.4,282.7h0.7M168.5,284.5h0.7M170.2,294.5h0.7M178.6,279.9h0.7M175.9,282.2h0.7M169.7,281.9h0.7M176.6,283.1h0.7M167.7,276.0h0.7M174.8,285.1h0.7M176.6,275.1h0.7M173.0,279.4h0.7M173.3,284.4h0.7M169.1,281.1h0.7M168.3,283.8h0.7M173.3,284.1h0.7M167.4,286.1h0.7M170.0,281.2h0.7M163.1,288.2h0.7M164.1,280.9h0.7M176.5,278.2h0.7M165.5,277.1h0.7M178.2,284.5h0.7M178.9,284.9h0.7M174.5,283.3h0.7M173.4,279.2h0.7M167.7,278.6h0.7M178.3,278.5h0.7M168.7,286.3h0.7M174.3,285.6h0.7M171.9,284.7h0.7M168.7,280.8h0.7M168.0,280.3h0.7M170.1,289.5h0.7M170.6,283.1h0.7M177.0,276.9h0.7M169.7,289.6h0.7M179.2,281.3h0.7M164.0,280.7h0.7M174.9,279.0h0.7M177.0,278.4h0.7M175.0,284.7h0.7M169.6,291.9h0.7M173.2,285.8h0.7M182.3,281.5h0.7M174.0,287.3h0.7M172.0,282.7h0.7M170.2,286.5h0.7M171.8,287.9h0.7M164.3,283.5h0.7M177.8,278.8h0.7M176.4,282.9h0.7M177.2,281.0h0.7M171.3,278.4h0.7M175.9,282.4h0.7M171.4,280.9h0.7M178.1,284.0h0.7M177.6,280.5h0.7M169.3,286.5h0.7M183.2,290.6h0.7M176.9,287.3h0.7M175.9,280.2h0.7M169.6,278.5h0.7M162.2,283.1h0.7M173.5,285.8h0.7M165.3,281.2h0.7M175.0,281.9h0.7M163.9,285.4h0.7M169.5,280.6h0.7M179.5,286.9h0.7M167.5,284.0h0.7M168.5,281.6h0.7M167.1,282.6h0.7M166.5,284.7h0.7M176.1,282.7h0.7M168.1,289.4h0.7M176.0,283.4h0.7M181.5,279.8h0.7M171.9,286.1h0.7M172.3,283.6h0.7M164.5,288.3h0.7M163.7,273.8h0.7M167.7,287.1h0.7M171.5,282.5h0.7M171.0,285.0h0.7M168.9,281.2h0.7M169.0,280.7h0.7M176.2,283.1h0.7M175.2,281.2h0.7M163.8,291.8h0.7M179.7,285.6h0.7M174.2,282.9h0.7M177.3,276.1h0.7M172.3,287.3h0.7M176.3,281.7h0.7M168.0,281.3h0.7M176.8,288.2h0.7M164.3,282.3h0.7M171.8,279.6h0.7M180.5,280.4h0.7M174.0,283.0h0.7M170.1,280.4h0.7M163.8,286.4h0.7M175.7,285.3h0.7M167.6,280.4h0.7M170.4,280.3h0.7M169.4,279.2h0.7M183.3,279.1h0.7M177.5,278.9h0.7M180.9,280.1h0.7M178.5,285.5h0.7M178.5,282.6h0.7M183.0,280.7h0.7M169.1,275.9h0.7M166.9,281.3h0.7M167.9,287.8h0.7M180.6,280.4h0.7M164.4,281.6h0.7M181.5,280.6h0.7M170.5,289.6h0.7M170.9,280.7h0.7M165.6,290.9h0.7M167.7,281.8h0.7M165.5,282.5h0.7M171.4,288.7h0.7M163.8,280.4h0.7M167.5,283.8h0.7M170.2,281.4h0.7M174.3,281.1h0.7M167.8,277.8h0.7M163.1,282.1h0.7M173.1,290.2h0.7M172.4,279.9h0.7M172.8,285.2h0.7M172.0,291.0h0.7M171.5,286.5h0.7M173.1,279.1h0.7M172.8,284.5h0.7M180.4,277.1h0.7M174.4,285.9h0.7M174.6,283.8h0.7M173.0,284.6h0.7M166.7,283.4h0.7M170.1,277.8h0.7M165.1,280.4h0.7M165.1,277.8h0.7M176.7,280.4h0.7M170.2,279.6h0.7M171.6,285.6h0.7M180.1,286.2h0.7M163.5,287.2h0.7M171.9,283.8h0.7M168.1,278.3h0.7M171.1,280.5h0.7M170.2,289.0h0.7M172.5,286.0h0.7M178.8,278.1h0.7M169.9,290.8h0.7M182.4,283.5h0.7M180.7,279.7h0.7M178.2,282.5h0.7M165.3,287.2h0.7M169.3,278.2h0.7M173.5,287.9h0.7M182.4,280.0h0.7M182.9,284.7h0.7M174.0,281.4h0.7M168.9,281.4h0.7M173.0,282.7h0.7M168.3,288.0h0.7M173.9,288.4h0.7M176.3,275.8h0.7M167.2,285.7h0.7M163.1,285.5h0.7M164.8,283.3h0.7M173.6,282.1h0.7M162.5,280.8h0.7M165.9,276.1h0.7M175.4,282.2h0.7M173.9,289.2h0.7M168.2,291.7h0.7M172.9,279.5h0.7M171.8,278.9h0.7M178.6,283.6h0.7M176.5,284.8h0.7M167.4,283.2h0.7M166.5,280.3h0.7M175.3,283.7h0.7M183.2,291.0h0.7M166.2,284.0h0.7M172.7,278.3h0.7M175.2,275.1h0.7M166.8,288.9h0.7M170.7,283.3h0.7M177.8,286.8h0.7M174.0,283.6h0.7M166.0,285.3h0.7M178.6,287.6h0.7M165.9,286.5h0.7M175.7,284.4h0.7M182.9,280.3h0.7M174.8,285.7h0.7M167.8,274.3h0.7M177.0,282.1h0.7" stroke="#000" stroke-width="0.7" stroke-opacity="0.7" fill="none"/>
<path d="M179.0,294.2h0.7M172.1,295.6h0.7M172.0,294.9h0.7M170.7,291.6h0.7M170.1,292.6h0.7M171.4,294.5h0.7M177.5,290.8h0.7M175.3,291.3h0.7M170.4,301.8h0.7M175.4,293.8h0.7M175.5,290.6h0.7M173.7,296.3h0.7M171.6,304.7h0.7M173.3,296.0h0.7M176.6,302.0h0.7M177.2,301.8h0.7M176.1,302.6h0.7M174.4,302.5h0.7M174.2,300.1h0.7M174.9,305.6h0.7M178.8,299.9h0.7M174.4,293.5h0.7M174.1,306.0h0.7M171.4,290.8h0.7M181.0,290.5h0.7M180.4,292.2h0.7M179.5,290.5h0.7M173.8,295.1h0.7M171.1,290.4h0.7M177.8,301.8h0.7M172.8,291.4h0.7M176.0,291.4h0.7M179.8,300.6h0.7M178.2,291.2h0.7M171.3,293.8h0.7M173.7,298.6h0.7M171.5,291.1h0.7M180.1,303.1h0.7M182.1,306.4h0.7M172.3,292.7h0.7M172.6,291.3h0.7M169.8,298.5h0.7M178.6,290.9h0.7M169.3,294.1h0.7M183.9,296.9h0.7M169.7,292.9h0.7M176.7,290.5h0.7M178.9,293.6h0.7M176.8,290.4h0.7M174.1,296.1h0.7M172.4,291.6h0.7M172.1,295.3h0.7M175.1,305.1h0.7M175.5,294.4h0.7" stroke="#000" stroke-width="0.7" stroke-opacity="0.38" fill="none"/>
<path d="M180.2,288.8h0.7M172.4,281.6h0.7M169.9,304.7h0.7M178.0,302.9h0.7M179.8,284.4h0.7M162.8,281.3h0.7M174.6,294.3h0.7M169.0,299.6h0.7M166.1,296.3h0.7M170.0,281.6h0.7M177.0,283.0h0.7M177.5,301.1h0.7M170.4,291.4h0.7M165.8,281.6h0.7" stroke="#000" stroke-width="0.7" stroke-opacity="0.35" fill="none"/>
<path d="M197.0,280.7h0.7M190.2,278.7h0.7M188.0,279.6h0.7M185.9,280.5h0.7M185.6,278.6h0.7M200.7,280.1h0.7M185.7,281.3h0.7M194.1,279.9h0.7M201.8,279.0h0.7M197.1,280.5h0.7M191.6,278.5h0.7M184.4,280.2h0.7M188.4,283.4h0.7M201.3,281.2h0.7M185.4,277.2h0.7M191.3,280.7h0.7M187.6,279.0h0.7M182.9,278.5h0.7M186.9,279.9h0.7M187.9,279.6h0.7M198.9,278.8h0.7M200.7,278.7h0.7M194.4,280.2h0.7M188.6,282.2h0.7M194.1,281.4h0.7M188.1,280.2h0.7M201.6,282.0h0.7M189.8,279.1h0.7M192.2,279.4h0.7M194.6,279.1h0.7M193.8,281.9h0.7M183.4,281.7h0.7M185.5,281.5h0.7M193.9,278.0h0.7M201.0,278.2h0.7M195.2,279.9h0.7M200.7,278.7h0.7M201.9,276.9h0.7M193.9,278.2h0.7M191.5,281.0h0.7M197.4,281.2h0.7M199.1,281.1h0.7M202.2,278.2h0.7M190.2,281.7h0.7M193.8,280.1h0.7M198.6,279.6h0.7M197.6,280.0h0.7M186.4,281.5h0.7M185.3,278.7h0.7M193.3,280.0h0.7M202.4,278.2h0.7M183.6,281.7h0.7M196.6,281.4h0.7M195.0,280.7h0.7M183.4,280.0h0.7M193.7,278.9h0.7M190.7,281.3h0.7M200.9,278.9h0.7M194.3,282.2h0.7M188.4,281.2h0.7M188.7,279.5h0.7M186.5,279.6h0.7M190.1,277.7h0.7M184.9,279.2h0.7M194.0,279.0h0.7M196.2,280.2h0.7M199.6,279.5h0.7M200.6,280.4h0.7M191.4,280.6h0.7M199.9,278.0h0.7M184.3,284.2h0.7M201.4,281.4h0.7M202.8,280.1h0.7M197.5,280.9h0.7M202.4,278.6h0.7M201.3,279.0h0.7M201.6,282.1h0.7M186.9,278.1h0.7M194.4,281.6h0.7M201.6,277.8h0.7M185.9,281.0h0.7M188.2,281.1h0.7M201.2,278.5h0.7M199.2,278.3h0.7M182.5,280.0h0.7M184.9,282.3h0.7M202.6,275.8h0.7M188.3,281.8h0.7M190.1,279.4h0.7M201.4,280.4h0.7M188.4,278.0h0.7M184.7,280.9h0.7M186.5,281.4h0.7M194.4,279.4h0.7M200.8,280.5h0.7M190.2,280.3h0.7M194.0,279.9h0.7M183.1,280.2h0.7M192.3,279.8h0.7M195.4,278.7h0.7M200.0,279.2h0.7M202.8,280.8h0.7M202.8,275.9h0.7M190.1,278.5h0.7M198.9,279.1h0.7M186.0,280.6h0.7M193.8,281.6h0.7M203.2,279.2h0.7M190.6,280.2h0.7M200.8,281.0h0.7" stroke="#000" stroke-width="0.7" stroke-opacity="0.6" fill="none"/>
</g>
<rect x="161.75" y="265.6" width="42.6" height="43.0" fill="none" stroke="#000" stroke-width="1.35"/>
<path d="M181.45,265.6V308.6M161.75,290.2H204.35" stroke="#000" stroke-width="1.2" fill="none"/>
<path d="M160.45,268.3h1.3M164.4,308.6v1.3M160.45,271.0h1.3M167.1,308.6v1.3M160.45,273.7h1.3M169.7,308.6v1.3M160.45,276.4h1.3M172.4,308.6v1.3M160.45,279.0h1.3M175.1,308.6v1.3M160.45,281.7h1.3M177.7,308.6v1.3M160.45,284.4h1.3M180.4,308.6v1.3M160.45,287.1h1.3M183.1,308.6v1.3M160.45,289.8h1.3M185.7,308.6v1.3M160.45,292.5h1.3M188.4,308.6v1.3M160.45,295.2h1.3M191.0,308.6v1.3M160.45,297.9h1.3M193.7,308.6v1.3M160.45,300.5h1.3M196.4,308.6v1.3M160.45,303.2h1.3M199.0,308.6v1.3M160.45,305.9h1.3M201.7,308.6v1.3" stroke="#000" stroke-width="0.6" stroke-opacity="0.6"/>
<text x="202.75" y="271.90" font-size="7" text-anchor="end" font-weight="normal" fill="#111" >2.39</text>
<clipPath id="c12"><rect x="207.1" y="265.6" width="42.6" height="43.0"/></clipPath><g clip-path="url(#c12)">
<ellipse cx="219.3" cy="283.4" rx="8.6" ry="6.0" fill="#000" fill-opacity="1" filter="url(#bl)"/>
<ellipse cx="214.6" cy="283.0" rx="7" ry="4.3" fill="#000" fill-opacity="1" filter="url(#bl)"/>
<ellipse cx="222.1" cy="283.8" rx="5.5" ry="5.6" fill="#000" fill-opacity="1" filter="url(#bl)"/>
<path d="M222.9,278.2h0.7M211.5,281.4h0.7M226.2,292.6h0.7M213.6,280.7h0.7M216.3,280.3h0.7M210.3,281.4h0.7M210.0,279.4h0.7M225.2,282.1h0.7M222.3,287.2h0.7M223.3,285.0h0.7M223.1,282.6h0.7M224.4,275.4h0.7M227.2,279.2h0.7M217.3,280.0h0.7M223.2,285.3h0.7M211.6,280.4h0.7M218.1,284.6h0.7M222.6,286.0h0.7M221.3,287.1h0.7M220.2,282.1h0.7M217.2,283.7h0.7M211.7,281.0h0.7M213.9,285.1h0.7M209.5,286.8h0.7M224.1,283.1h0.7M221.9,293.6h0.7M222.5,285.6h0.7M221.9,284.6h0.7M217.7,280.4h0.7M222.2,281.0h0.7M208.6,286.6h0.7M217.7,285.7h0.7M220.8,286.4h0.7M218.8,278.2h0.7M209.4,285.8h0.7M221.5,287.2h0.7M213.2,282.5h0.7M220.0,285.9h0.7M220.1,282.7h0.7M217.1,277.1h0.7M218.4,286.5h0.7M218.7,279.5h0.7M223.1,283.1h0.7M209.1,280.7h0.7M220.9,280.9h0.7M213.6,287.5h0.7M215.3,279.1h0.7M213.8,279.6h0.7M219.4,281.2h0.7M211.3,286.6h0.7M218.6,274.1h0.7M219.2,285.4h0.7M211.2,282.9h0.7M222.3,280.4h0.7M221.9,281.1h0.7M220.6,279.1h0.7M219.6,287.7h0.7M224.1,283.0h0.7M214.6,283.6h0.7M220.4,278.4h0.7M220.3,279.6h0.7M223.0,282.8h0.7M217.4,287.5h0.7M221.1,288.5h0.7M214.1,281.0h0.7M220.2,287.0h0.7M225.3,283.9h0.7M212.3,286.0h0.7M221.2,282.0h0.7M208.2,277.7h0.7M226.3,283.0h0.7M219.5,285.7h0.7M216.0,282.8h0.7M224.7,282.8h0.7M218.8,287.4h0.7M214.9,283.5h0.7M220.2,276.3h0.7M212.3,282.2h0.7M212.0,286.4h0.7M220.5,280.4h0.7M215.4,283.9h0.7M220.9,287.0h0.7M211.6,282.4h0.7M225.4,285.0h0.7M216.1,281.8h0.7M215.3,288.8h0.7M212.2,286.9h0.7M216.6,280.5h0.7M218.3,278.4h0.7M214.8,287.0h0.7M214.6,279.5h0.7M224.5,284.4h0.7M213.7,280.2h0.7M226.1,285.0h0.7M222.8,284.2h0.7M221.4,293.8h0.7M211.9,283.5h0.7M209.0,279.6h0.7M221.4,285.4h0.7M222.0,281.8h0.7M223.5,282.2h0.7M214.7,284.2h0.7M214.5,277.0h0.7M219.5,284.5h0.7M214.3,279.0h0.7M219.5,286.2h0.7M218.9,283.3h0.7M209.3,279.3h0.7M221.3,280.4h0.7M217.6,288.6h0.7M223.9,284.1h0.7M211.9,284.4h0.7M207.9,284.6h0.7M218.2,287.2h0.7M216.1,284.6h0.7M208.5,287.4h0.7M223.5,288.4h0.7M224.0,281.8h0.7M223.8,282.7h0.7M214.5,283.5h0.7M214.6,285.1h0.7M210.5,284.1h0.7M209.9,289.0h0.7M217.7,279.0h0.7M220.5,281.0h0.7M216.5,281.4h0.7M211.7,279.3h0.7M224.6,278.6h0.7M212.4,283.4h0.7M220.5,284.3h0.7M212.1,282.7h0.7M219.9,276.1h0.7M219.0,282.6h0.7M209.4,281.4h0.7M215.9,281.5h0.7M211.2,287.7h0.7M217.0,279.0h0.7M214.5,282.4h0.7M215.7,286.3h0.7M221.2,284.5h0.7M225.5,284.1h0.7M215.0,281.8h0.7M221.5,284.9h0.7M228.0,283.0h0.7M221.3,280.7h0.7M223.1,287.0h0.7M218.1,275.9h0.7M228.2,282.9h0.7M211.7,281.6h0.7M221.3,285.9h0.7M224.4,282.5h0.7M216.3,281.5h0.7M219.2,281.0h0.7M215.1,280.5h0.7M209.1,280.8h0.7M222.1,285.7h0.7M220.7,279.0h0.7M210.7,289.8h0.7M215.5,278.5h0.7M216.3,282.0h0.7M223.9,282.9h0.7M211.5,279.4h0.7M221.7,286.5h0.7M223.3,283.0h0.7M222.3,278.2h0.7M217.1,279.5h0.7M217.4,281.8h0.7M212.8,286.0h0.7M218.1,288.1h0.7M219.0,282.4h0.7M212.8,281.0h0.7M222.0,283.9h0.7M214.7,280.0h0.7M215.8,287.5h0.7M226.1,273.1h0.7M214.8,290.0h0.7M211.3,283.5h0.7M221.6,284.2h0.7M215.8,282.8h0.7M215.0,283.3h0.7M216.6,289.6h0.7M225.2,279.8h0.7M217.9,289.6h0.7M216.7,284.4h0.7M228.3,280.7h0.7M223.2,282.6h0.7M222.8,282.7h0.7M223.4,286.3h0.7M224.2,285.6h0.7M209.8,288.4h0.7M213.6,280.4h0.7M217.4,279.7h0.7M225.4,275.4h0.7M214.4,285.3h0.7M217.9,283.8h0.7M218.4,284.1h0.7M216.0,279.8h0.7M218.6,288.1h0.7M222.5,284.2h0.7M214.2,283.8h0.7M218.4,280.7h0.7M223.7,276.6h0.7M222.6,284.9h0.7M212.8,283.2h0.7M217.3,286.7h0.7M221.0,282.3h0.7M216.0,290.2h0.7M221.9,284.1h0.7M220.5,284.8h0.7M219.9,282.6h0.7M226.7,282.0h0.7M214.3,280.5h0.7M218.1,282.1h0.7M217.1,283.5h0.7M218.5,285.7h0.7M216.6,281.5h0.7M217.2,281.0h0.7M220.3,279.8h0.7M210.1,288.9h0.7M220.8,281.9h0.7M222.8,274.2h0.7M217.7,289.1h0.7M222.2,281.5h0.7M226.2,283.1h0.7M228.6,280.6h0.7M218.7,283.3h0.7M218.8,289.8h0.7M226.6,286.7h0.7M221.7,283.1h0.7M217.1,285.8h0.7M216.8,287.2h0.7M217.0,279.5h0.7M214.2,287.1h0.7M222.6,283.6h0.7M207.5,283.1h0.7M209.1,286.1h0.7M223.3,282.6h0.7M218.5,283.8h0.7M215.7,281.1h0.7M216.6,288.1h0.7M211.6,280.1h0.7M213.6,284.5h0.7M217.0,281.8h0.7M221.7,280.7h0.7M215.0,285.8h0.7M216.4,282.7h0.7M212.0,279.6h0.7M225.9,286.9h0.7M226.7,284.5h0.7M224.9,284.1h0.7M217.5,287.8h0.7M213.9,285.1h0.7M210.7,283.7h0.7M228.2,281.9h0.7M220.4,286.9h0.7M210.5,283.7h0.7M225.2,282.2h0.7M213.1,283.4h0.7M226.3,285.1h0.7M217.7,283.6h0.7M225.8,294.5h0.7M216.7,288.6h0.7M219.1,285.1h0.7M221.9,286.3h0.7M224.2,292.7h0.7M217.9,278.6h0.7M228.6,283.1h0.7M216.3,285.9h0.7M215.7,285.4h0.7M218.1,287.0h0.7M214.2,281.4h0.7M218.2,277.7h0.7M219.4,274.4h0.7M212.5,276.2h0.7M215.7,287.4h0.7M226.3,277.7h0.7M210.9,281.6h0.7M224.6,284.6h0.7M214.1,278.9h0.7M227.4,281.2h0.7M212.7,289.5h0.7M219.6,281.4h0.7M221.0,282.2h0.7M220.8,287.0h0.7M209.1,288.7h0.7M216.6,285.5h0.7M224.2,283.8h0.7M218.6,282.5h0.7M221.6,284.9h0.7M223.0,282.6h0.7M217.0,286.1h0.7M213.6,284.4h0.7M221.2,280.4h0.7M217.7,281.9h0.7M218.6,281.1h0.7M224.5,287.2h0.7M222.4,286.1h0.7M211.5,287.0h0.7M225.1,285.3h0.7M220.3,287.9h0.7M219.1,284.8h0.7M223.2,289.0h0.7M227.8,286.8h0.7M226.1,284.9h0.7M212.1,280.9h0.7M215.8,285.8h0.7M209.9,288.4h0.7M223.2,286.1h0.7M224.2,285.2h0.7M225.2,280.4h0.7M210.1,283.1h0.7M220.5,276.2h0.7M222.9,279.0h0.7M215.8,284.1h0.7M209.7,291.9h0.7M213.6,283.1h0.7M207.2,285.3h0.7M222.4,282.5h0.7M210.5,287.5h0.7M210.3,282.5h0.7M222.0,282.7h0.7M216.0,280.8h0.7M218.8,279.5h0.7M223.9,280.4h0.7M212.1,290.5h0.7M223.6,281.5h0.7M212.7,288.0h0.7M211.9,282.9h0.7M217.3,289.1h0.7M220.1,285.6h0.7M213.5,284.5h0.7M225.2,286.8h0.7M209.7,285.2h0.7M221.7,285.1h0.7M228.7,283.6h0.7M220.8,281.9h0.7M220.4,284.1h0.7M217.7,280.6h0.7M221.7,286.0h0.7M219.7,290.5h0.7M217.7,277.4h0.7M224.7,289.4h0.7M211.8,282.9h0.7M210.5,278.1h0.7M217.9,276.0h0.7M208.5,286.8h0.7M211.8,285.3h0.7M214.4,280.0h0.7M223.8,286.2h0.7M217.7,286.5h0.7M211.1,286.2h0.7M216.0,279.8h0.7M207.3,287.6h0.7M212.1,286.3h0.7M211.0,281.4h0.7M217.3,274.1h0.7M216.6,284.6h0.7M218.0,282.7h0.7M223.0,284.8h0.7M215.3,283.8h0.7M214.5,278.6h0.7M224.5,282.7h0.7M222.5,283.2h0.7M226.8,291.8h0.7M221.3,278.4h0.7M208.2,283.6h0.7M216.4,283.5h0.7M212.4,285.8h0.7M213.6,288.2h0.7M222.6,286.0h0.7M220.3,285.7h0.7M219.8,283.6h0.7M213.6,286.4h0.7M218.2,285.3h0.7M208.8,280.6h0.7M211.9,287.8h0.7M227.7,287.4h0.7M215.0,284.2h0.7M221.1,283.3h0.7M223.3,282.7h0.7M218.3,285.1h0.7M208.0,283.3h0.7M220.0,288.8h0.7M211.8,283.8h0.7M214.3,288.4h0.7M216.0,293.3h0.7M222.1,282.9h0.7M214.8,287.2h0.7M213.2,283.1h0.7M217.5,285.0h0.7M219.0,287.8h0.7M222.1,287.6h0.7M227.0,277.8h0.7M221.9,291.6h0.7M209.9,284.8h0.7M224.2,284.5h0.7M213.2,286.5h0.7M216.4,281.7h0.7M215.1,283.1h0.7M213.5,278.6h0.7M223.3,284.5h0.7M215.5,284.7h0.7M222.5,284.2h0.7M209.2,282.3h0.7M207.4,284.0h0.7M225.9,286.9h0.7M218.8,281.4h0.7M215.7,284.3h0.7M214.4,278.6h0.7M222.0,284.5h0.7M227.8,282.7h0.7M219.8,287.6h0.7M224.2,285.9h0.7M210.1,287.0h0.7M211.5,284.8h0.7M214.2,285.0h0.7M222.5,285.1h0.7M220.2,281.3h0.7M221.9,277.5h0.7M214.0,282.7h0.7M215.0,281.6h0.7M216.4,285.9h0.7M220.4,283.7h0.7M219.3,289.9h0.7M220.4,288.2h0.7M209.2,284.3h0.7M219.2,285.7h0.7M213.8,280.5h0.7M226.7,280.5h0.7M217.5,284.6h0.7M221.1,281.8h0.7M219.7,280.9h0.7M217.8,279.5h0.7M219.1,283.4h0.7M221.7,278.0h0.7M224.2,286.4h0.7M224.6,285.3h0.7M211.0,279.0h0.7M225.5,277.2h0.7M222.3,280.4h0.7M213.2,276.3h0.7M217.4,282.5h0.7M221.3,284.8h0.7M222.8,291.5h0.7M228.4,277.7h0.7M214.8,279.5h0.7M220.8,284.7h0.7M221.7,283.3h0.7M218.5,277.8h0.7M224.0,281.5h0.7M220.5,280.6h0.7M219.3,283.3h0.7M225.8,283.0h0.7M221.5,284.8h0.7M207.9,282.3h0.7M210.3,285.5h0.7M225.2,286.7h0.7M209.0,279.4h0.7M213.8,284.2h0.7M220.5,284.0h0.7M217.6,283.5h0.7M225.0,281.9h0.7M209.3,289.0h0.7M207.8,283.2h0.7M223.3,285.9h0.7M222.5,290.7h0.7M228.3,280.0h0.7M215.3,290.8h0.7M223.5,283.8h0.7M223.4,286.4h0.7M224.5,282.6h0.7M226.6,283.1h0.7M214.2,286.5h0.7M224.2,280.5h0.7M222.6,282.2h0.7M221.4,287.6h0.7M225.7,280.0h0.7M211.4,280.9h0.7M212.8,286.2h0.7M217.2,283.4h0.7M224.7,287.1h0.7M217.8,284.2h0.7M215.5,281.3h0.7M215.7,283.9h0.7M223.9,279.6h0.7M224.1,277.8h0.7M225.5,287.5h0.7M222.9,281.5h0.7M221.6,287.5h0.7M213.1,282.9h0.7M211.1,281.4h0.7M222.9,288.5h0.7M210.6,286.5h0.7M214.3,276.3h0.7M226.5,284.2h0.7M222.2,285.0h0.7M223.3,280.6h0.7M221.7,282.7h0.7M219.0,281.3h0.7M224.9,287.4h0.7M221.0,287.8h0.7M213.5,290.1h0.7M214.4,282.9h0.7M218.6,287.9h0.7M221.6,285.3h0.7M213.9,287.6h0.7M226.4,279.8h0.7M216.9,286.7h0.7M224.4,278.7h0.7M214.2,284.7h0.7M217.2,285.1h0.7M213.8,280.8h0.7M221.5,284.9h0.7M212.2,287.2h0.7M221.7,284.0h0.7M219.5,286.9h0.7M220.5,283.5h0.7M218.7,288.5h0.7M213.8,275.2h0.7M214.5,282.4h0.7M212.8,285.5h0.7M219.7,285.0h0.7M209.6,283.0h0.7M222.2,278.5h0.7M207.4,283.7h0.7M217.7,285.9h0.7M227.7,285.7h0.7M216.7,283.7h0.7M222.1,284.2h0.7M223.0,281.4h0.7M220.9,282.3h0.7M214.6,283.2h0.7M225.1,284.2h0.7M220.4,283.9h0.7M218.9,283.1h0.7M216.8,276.3h0.7M220.3,281.3h0.7M215.1,280.6h0.7M222.4,283.1h0.7M220.5,284.7h0.7M221.5,284.4h0.7M224.1,287.5h0.7M223.8,284.9h0.7M225.8,282.2h0.7M211.7,283.3h0.7M207.7,281.3h0.7M220.0,288.8h0.7M221.2,281.6h0.7M222.5,285.5h0.7M220.6,286.7h0.7M214.1,287.5h0.7M208.6,283.6h0.7M223.1,285.5h0.7M215.6,276.9h0.7M210.0,280.0h0.7M220.0,290.3h0.7M215.3,288.5h0.7M214.2,283.8h0.7M220.6,291.5h0.7M220.5,276.6h0.7M215.1,286.1h0.7M217.4,286.4h0.7M217.7,284.8h0.7M223.1,291.9h0.7M218.2,281.2h0.7M224.4,286.4h0.7M208.4,286.3h0.7M215.0,284.1h0.7M226.1,288.0h0.7M215.1,285.2h0.7M215.6,275.8h0.7M218.0,278.0h0.7M213.8,284.9h0.7M212.2,281.6h0.7M209.6,279.7h0.7M221.4,286.3h0.7M218.1,281.6h0.7M211.5,285.1h0.7M214.9,281.0h0.7M219.6,285.4h0.7M209.2,285.3h0.7M218.7,286.5h0.7M225.1,284.1h0.7M212.9,287.7h0.7M222.6,280.8h0.7M214.2,283.2h0.7M224.4,284.3h0.7M225.3,281.2h0.7M217.2,282.6h0.7M227.8,288.7h0.7M207.9,285.1h0.7M222.6,285.4h0.7M221.0,279.4h0.7M225.2,287.6h0.7" stroke="#000" stroke-width="0.7" stroke-opacity="0.7" fill="none"/>
<path d="M217.7,294.6h0.7M222.9,294.0h0.7M222.4,298.1h0.7M218.2,293.0h0.7M222.7,298.6h0.7M217.0,295.5h0.7M218.2,294.1h0.7M225.9,301.1h0.7M220.6,300.5h0.7M218.7,292.1h0.7M220.4,291.2h0.7M217.9,299.8h0.7M222.6,293.0h0.7M217.5,297.1h0.7M212.8,297.6h0.7M220.8,296.2h0.7M213.4,296.8h0.7M212.5,293.9h0.7M211.3,290.2h0.7M225.5,291.1h0.7M221.8,300.0h0.7M227.4,292.0h0.7M215.6,290.5h0.7M216.7,291.4h0.7M218.9,292.9h0.7M220.2,293.0h0.7M222.4,295.4h0.7M217.1,295.4h0.7M216.7,294.9h0.7M222.5,298.1h0.7M217.2,293.3h0.7M219.4,303.5h0.7M222.5,291.8h0.7M221.2,291.1h0.7M221.6,290.9h0.7M214.4,292.6h0.7M220.0,294.1h0.7M214.0,291.5h0.7M221.4,303.4h0.7M219.3,294.6h0.7M221.1,292.7h0.7M218.2,294.1h0.7M220.9,297.4h0.7M222.4,304.2h0.7M218.3,297.2h0.7M220.2,298.8h0.7M222.1,293.6h0.7M222.9,300.9h0.7M219.1,295.2h0.7M215.8,293.6h0.7M225.3,293.4h0.7M219.8,293.9h0.7M217.3,293.5h0.7" stroke="#000" stroke-width="0.7" stroke-opacity="0.38" fill="none"/>
<path d="M223.9,282.4h0.7M211.0,292.9h0.7M211.1,293.1h0.7M226.6,278.0h0.7M215.5,283.5h0.7M210.4,295.7h0.7M225.8,292.0h0.7M218.1,299.2h0.7M224.0,307.6h0.7M213.7,282.8h0.7M225.2,296.2h0.7M224.5,281.8h0.7M222.6,280.9h0.7M209.7,281.0h0.7" stroke="#000" stroke-width="0.7" stroke-opacity="0.35" fill="none"/>
<ellipse cx="237.3" cy="281.0" rx="8.17" ry="3.5" fill="#000" fill-opacity="0.9" filter="url(#bl)"/>
<ellipse cx="233.8" cy="281.6" rx="6.02" ry="3.3249999999999997" fill="#000" fill-opacity="0.9" filter="url(#bl)"/>
<path d="M244.7,279.5h0.7M241.5,278.2h0.7M226.8,278.4h0.7M240.3,279.2h0.7M240.1,281.0h0.7M237.8,280.9h0.7M245.8,282.0h0.7M229.6,278.9h0.7M239.3,281.6h0.7M241.0,283.9h0.7M237.2,278.8h0.7M241.0,279.2h0.7M237.5,279.0h0.7M240.1,284.7h0.7M230.6,280.4h0.7M243.0,281.9h0.7M250.3,282.6h0.7M241.9,283.4h0.7M237.8,280.6h0.7M237.5,282.5h0.7M242.4,279.2h0.7M238.0,282.8h0.7M238.9,280.4h0.7M239.3,279.8h0.7M235.1,277.7h0.7M235.6,283.5h0.7M237.9,278.0h0.7M228.7,279.5h0.7M227.8,280.2h0.7M234.1,282.4h0.7M229.0,276.1h0.7M238.3,285.5h0.7M240.8,279.3h0.7M242.5,281.4h0.7M234.2,280.6h0.7M237.3,286.3h0.7M240.3,281.4h0.7M242.8,284.7h0.7M245.8,276.7h0.7M236.9,280.7h0.7M243.2,281.1h0.7M244.4,280.2h0.7M230.6,279.4h0.7M235.0,281.4h0.7M237.0,282.6h0.7M244.1,285.1h0.7M235.5,281.1h0.7M250.1,278.3h0.7M239.2,279.2h0.7M231.4,284.4h0.7M229.5,279.2h0.7M247.6,279.7h0.7M244.7,282.7h0.7M243.7,278.8h0.7M253.7,279.9h0.7M232.8,282.0h0.7M236.7,280.9h0.7M229.6,283.4h0.7M237.9,287.7h0.7M252.1,283.5h0.7M241.7,279.9h0.7M236.6,283.6h0.7M234.5,279.7h0.7M234.5,282.1h0.7M241.2,282.4h0.7M238.1,278.8h0.7M237.4,281.1h0.7M234.4,281.7h0.7M243.5,280.3h0.7M233.0,281.3h0.7M240.0,279.6h0.7M241.2,281.5h0.7M233.5,279.1h0.7M244.7,281.2h0.7M238.7,285.7h0.7M235.2,280.3h0.7M241.3,279.6h0.7M238.2,282.0h0.7M226.5,280.5h0.7M232.1,283.7h0.7M226.7,282.3h0.7M244.5,284.0h0.7M251.1,281.6h0.7M232.0,280.9h0.7M232.9,283.4h0.7M239.8,283.1h0.7M240.0,282.7h0.7M231.7,280.9h0.7M241.0,278.6h0.7M235.0,282.1h0.7M235.4,278.7h0.7M238.5,280.0h0.7M239.7,279.0h0.7M241.8,281.7h0.7M241.7,275.9h0.7M235.2,279.0h0.7M237.8,283.6h0.7M238.7,280.4h0.7M239.5,278.0h0.7M238.5,278.9h0.7M244.3,280.5h0.7M235.9,283.5h0.7M239.3,278.8h0.7M233.1,281.3h0.7M242.2,280.6h0.7M232.0,279.5h0.7M236.6,279.3h0.7M232.9,284.6h0.7M237.5,283.1h0.7M222.5,284.2h0.7M234.4,279.3h0.7M238.2,280.4h0.7M232.0,280.5h0.7M239.7,278.3h0.7M232.1,281.2h0.7M234.3,281.9h0.7M244.6,284.1h0.7M245.4,283.8h0.7M234.0,280.8h0.7M244.1,281.2h0.7M232.4,279.3h0.7M231.5,284.2h0.7M232.3,279.7h0.7M231.5,283.3h0.7M232.7,280.3h0.7M233.0,283.2h0.7M241.6,282.0h0.7M251.2,281.8h0.7M248.5,280.3h0.7M240.3,279.3h0.7M235.1,284.0h0.7M237.0,282.5h0.7M240.0,282.9h0.7M241.3,279.1h0.7M236.5,279.9h0.7M232.2,282.4h0.7M230.0,280.8h0.7M247.3,282.6h0.7M238.0,286.3h0.7M239.6,276.9h0.7M235.0,281.9h0.7M237.2,281.4h0.7M236.7,279.8h0.7M228.3,277.6h0.7M244.7,281.3h0.7M231.1,280.8h0.7M240.4,283.4h0.7M240.4,279.6h0.7M236.8,280.1h0.7M236.9,280.0h0.7M244.8,282.5h0.7M242.6,284.0h0.7M245.5,282.2h0.7M249.3,285.9h0.7M230.5,280.3h0.7M245.2,286.3h0.7M243.4,280.8h0.7M235.9,281.7h0.7M239.2,278.1h0.7M247.6,281.5h0.7M232.7,281.1h0.7M236.6,278.9h0.7M235.8,285.3h0.7M242.8,277.1h0.7M222.6,279.1h0.7M231.6,282.7h0.7M241.7,283.2h0.7M233.2,279.4h0.7M232.8,280.8h0.7M237.9,281.3h0.7M240.7,281.6h0.7M238.3,281.2h0.7M219.8,279.7h0.7M227.8,282.1h0.7M247.3,277.9h0.7M244.4,281.1h0.7M241.8,279.5h0.7M236.7,280.8h0.7M245.9,282.5h0.7M222.5,279.9h0.7M233.2,278.2h0.7M238.7,276.9h0.7M230.8,275.9h0.7M231.7,278.7h0.7M238.1,282.9h0.7M238.2,280.7h0.7M237.4,280.0h0.7M238.3,280.5h0.7M248.3,281.9h0.7M236.0,278.9h0.7M234.1,282.7h0.7M238.8,278.8h0.7M236.1,280.3h0.7M236.5,278.7h0.7M232.5,282.0h0.7M243.7,285.2h0.7M232.8,279.0h0.7M233.0,281.0h0.7M231.4,280.4h0.7M232.3,277.7h0.7M234.4,278.5h0.7M233.6,279.5h0.7M240.6,279.7h0.7M232.5,279.0h0.7M239.2,280.2h0.7M244.5,282.0h0.7M234.9,279.4h0.7M232.0,278.9h0.7M231.3,280.7h0.7M237.8,279.3h0.7M242.2,277.6h0.7M228.4,279.3h0.7M230.8,278.7h0.7M245.0,284.1h0.7M245.4,278.6h0.7M237.7,280.0h0.7M231.1,282.1h0.7M237.2,283.7h0.7M240.1,281.2h0.7M241.1,283.7h0.7M237.2,280.4h0.7M242.2,281.3h0.7M241.3,284.9h0.7M248.2,280.8h0.7M232.3,285.6h0.7M246.5,281.7h0.7M235.8,282.9h0.7M232.4,283.3h0.7M236.8,280.7h0.7M237.6,279.6h0.7M235.5,282.1h0.7M234.7,282.4h0.7M234.1,282.2h0.7M229.4,283.6h0.7M234.5,279.9h0.7M240.5,281.1h0.7M239.8,280.4h0.7M241.7,281.1h0.7M236.7,278.4h0.7M237.2,282.8h0.7M244.2,281.9h0.7M245.8,283.2h0.7M246.9,280.6h0.7M239.5,281.9h0.7M240.2,282.3h0.7M240.7,283.1h0.7M236.4,278.1h0.7M242.8,281.8h0.7M238.3,282.3h0.7M233.8,281.6h0.7M240.3,280.8h0.7M222.6,278.2h0.7M242.3,279.6h0.7M238.2,280.2h0.7M241.8,281.0h0.7M246.8,282.8h0.7M240.1,280.9h0.7M235.9,283.9h0.7M235.6,280.2h0.7M234.5,282.2h0.7M247.1,281.4h0.7M237.2,281.6h0.7M234.1,283.6h0.7M240.6,284.4h0.7M243.1,282.0h0.7M233.7,282.6h0.7M242.3,281.0h0.7M235.8,280.7h0.7M234.7,280.1h0.7M239.5,283.3h0.7M240.5,279.5h0.7M248.5,283.9h0.7M232.4,277.9h0.7M236.7,279.8h0.7M242.5,278.8h0.7M235.7,277.0h0.7M240.9,284.5h0.7M236.7,282.2h0.7M233.8,282.4h0.7M239.0,277.3h0.7M237.3,280.5h0.7M225.5,281.3h0.7M232.9,283.3h0.7M239.4,278.9h0.7M246.7,283.2h0.7M233.6,281.5h0.7M228.8,278.7h0.7M236.6,284.7h0.7M234.5,275.2h0.7M230.5,283.2h0.7M244.6,279.2h0.7M235.8,283.0h0.7M242.3,281.9h0.7M234.9,286.1h0.7M227.9,281.9h0.7M243.6,279.0h0.7M237.7,282.3h0.7M240.2,284.9h0.7M233.6,283.4h0.7M235.4,280.2h0.7" stroke="#000" stroke-width="0.7" stroke-opacity="0.7" fill="none"/>
</g>
<rect x="207.1" y="265.6" width="42.6" height="43.0" fill="none" stroke="#000" stroke-width="1.35"/>
<path d="M226.79999999999998,265.6V308.6M207.1,290.2H249.7" stroke="#000" stroke-width="1.2" fill="none"/>
<path d="M205.79999999999998,268.3h1.3M209.8,308.6v1.3M205.79999999999998,271.0h1.3M212.4,308.6v1.3M205.79999999999998,273.7h1.3M215.1,308.6v1.3M205.79999999999998,276.4h1.3M217.8,308.6v1.3M205.79999999999998,279.0h1.3M220.4,308.6v1.3M205.79999999999998,281.7h1.3M223.1,308.6v1.3M205.79999999999998,284.4h1.3M225.7,308.6v1.3M205.79999999999998,287.1h1.3M228.4,308.6v1.3M205.79999999999998,289.8h1.3M231.1,308.6v1.3M205.79999999999998,292.5h1.3M233.7,308.6v1.3M205.79999999999998,295.2h1.3M236.4,308.6v1.3M205.79999999999998,297.9h1.3M239.1,308.6v1.3M205.79999999999998,300.5h1.3M241.7,308.6v1.3M205.79999999999998,303.2h1.3M244.4,308.6v1.3M205.79999999999998,305.9h1.3M247.0,308.6v1.3" stroke="#000" stroke-width="0.6" stroke-opacity="0.6"/>
<text x="248.10" y="271.90" font-size="7" text-anchor="end" font-weight="normal" fill="#111" >9.12</text>
<clipPath id="c13"><rect x="252.2" y="265.6" width="42.6" height="43.0"/></clipPath><g clip-path="url(#c13)">
<ellipse cx="264.4" cy="283.4" rx="8.6" ry="6.0" fill="#000" fill-opacity="1" filter="url(#bl)"/>
<ellipse cx="259.7" cy="283.0" rx="7" ry="4.3" fill="#000" fill-opacity="1" filter="url(#bl)"/>
<ellipse cx="267.2" cy="283.8" rx="5.5" ry="5.6" fill="#000" fill-opacity="1" filter="url(#bl)"/>
<path d="M263.7,279.5h0.7M267.4,284.9h0.7M263.6,283.0h0.7M262.1,285.9h0.7M263.0,281.9h0.7M255.3,284.7h0.7M270.4,281.7h0.7M265.5,282.6h0.7M265.1,281.1h0.7M262.0,281.7h0.7M263.4,283.2h0.7M254.1,286.3h0.7M267.4,287.5h0.7M270.5,290.6h0.7M264.9,289.7h0.7M268.4,285.1h0.7M270.9,281.6h0.7M261.1,282.8h0.7M257.2,285.5h0.7M269.8,284.2h0.7M263.2,282.2h0.7M256.2,286.5h0.7M258.9,283.6h0.7M269.8,283.3h0.7M265.7,287.0h0.7M266.7,279.0h0.7M261.9,285.8h0.7M261.7,288.1h0.7M263.4,284.6h0.7M259.2,289.2h0.7M263.5,281.2h0.7M264.5,286.8h0.7M258.1,290.8h0.7M262.8,283.6h0.7M253.6,286.9h0.7M260.9,285.1h0.7M264.9,284.8h0.7M254.1,278.0h0.7M267.4,281.1h0.7M265.5,283.0h0.7M258.1,280.9h0.7M261.1,279.5h0.7M261.4,287.5h0.7M273.7,285.9h0.7M253.6,285.7h0.7M266.2,283.6h0.7M252.3,277.6h0.7M253.8,281.4h0.7M265.7,280.7h0.7M264.6,279.1h0.7M271.2,281.1h0.7M272.6,283.0h0.7M263.0,276.6h0.7M262.9,279.5h0.7M253.9,276.3h0.7M265.3,285.5h0.7M273.7,282.2h0.7M272.7,283.2h0.7M262.7,281.2h0.7M260.0,283.5h0.7M272.8,282.0h0.7M260.5,283.3h0.7M261.3,290.5h0.7M268.2,291.2h0.7M257.1,289.3h0.7M263.4,279.7h0.7M260.5,275.4h0.7M260.4,287.3h0.7M262.3,284.9h0.7M271.2,278.0h0.7M269.0,287.9h0.7M259.6,287.4h0.7M267.5,286.6h0.7M269.4,285.8h0.7M255.1,281.6h0.7M264.4,290.0h0.7M258.4,282.5h0.7M263.9,282.0h0.7M258.0,280.9h0.7M267.4,283.3h0.7M267.1,281.1h0.7M257.5,278.3h0.7M268.1,281.5h0.7M263.6,283.1h0.7M271.7,281.1h0.7M256.0,283.5h0.7M257.8,284.1h0.7M255.4,283.6h0.7M267.0,278.8h0.7M255.0,289.7h0.7M260.2,285.7h0.7M256.2,283.7h0.7M269.0,285.4h0.7M259.9,279.2h0.7M264.5,285.3h0.7M264.0,285.5h0.7M261.1,289.0h0.7M273.5,277.5h0.7M257.1,283.5h0.7M260.9,284.3h0.7M253.8,291.7h0.7M267.6,282.6h0.7M270.5,279.2h0.7M262.5,282.4h0.7M262.7,286.2h0.7M257.6,287.0h0.7M268.0,285.0h0.7M269.9,282.5h0.7M253.4,285.1h0.7M268.1,288.4h0.7M262.0,285.5h0.7M271.6,283.6h0.7M266.2,282.7h0.7M261.1,287.0h0.7M271.0,284.9h0.7M263.2,283.6h0.7M260.2,284.2h0.7M264.1,289.2h0.7M265.0,284.1h0.7M263.1,284.2h0.7M265.3,281.0h0.7M266.8,285.9h0.7M269.1,286.8h0.7M270.9,285.2h0.7M266.7,286.3h0.7M263.4,278.7h0.7M266.5,288.0h0.7M263.6,287.5h0.7M270.0,281.7h0.7M256.1,278.7h0.7M271.4,287.7h0.7M266.8,276.1h0.7M259.9,284.1h0.7M259.1,280.1h0.7M269.4,282.7h0.7M265.3,287.4h0.7M263.4,284.9h0.7M266.5,291.3h0.7M265.0,286.5h0.7M269.9,289.2h0.7M260.0,281.2h0.7M260.9,280.7h0.7M253.6,284.3h0.7M268.1,279.6h0.7M268.2,287.2h0.7M258.3,283.0h0.7M273.8,284.6h0.7M266.1,288.2h0.7M264.2,280.2h0.7M260.4,281.5h0.7M262.4,284.7h0.7M271.8,280.2h0.7M267.9,287.0h0.7M260.1,283.6h0.7M261.5,282.4h0.7M263.8,284.3h0.7M267.6,282.1h0.7M266.2,286.3h0.7M261.6,283.2h0.7M266.0,279.4h0.7M271.8,276.5h0.7M259.9,279.9h0.7M257.6,277.6h0.7M269.0,281.8h0.7M264.8,284.6h0.7M265.1,279.9h0.7M256.9,278.6h0.7M265.7,279.5h0.7M267.8,287.1h0.7M265.3,288.1h0.7M262.4,281.0h0.7M271.1,287.5h0.7M262.7,278.0h0.7M269.6,285.1h0.7M260.1,282.2h0.7M259.1,279.8h0.7M272.7,278.6h0.7M264.8,286.1h0.7M268.3,290.4h0.7M266.3,286.7h0.7M259.1,274.5h0.7M267.4,281.3h0.7M267.2,288.7h0.7M256.4,282.7h0.7M261.1,279.4h0.7M253.4,279.9h0.7M264.7,282.2h0.7M260.5,284.4h0.7M273.1,285.3h0.7M263.6,281.5h0.7M257.3,285.6h0.7M264.6,281.8h0.7M272.8,285.9h0.7M268.2,279.3h0.7M256.4,290.3h0.7M263.4,285.2h0.7M271.2,280.1h0.7M258.8,280.8h0.7M260.1,284.0h0.7M273.0,287.3h0.7M256.9,278.8h0.7M271.9,286.0h0.7M255.6,287.8h0.7M263.8,284.6h0.7M259.8,275.8h0.7M265.9,278.0h0.7M256.6,276.4h0.7M267.4,282.6h0.7M257.6,281.4h0.7M260.2,287.4h0.7M266.0,286.4h0.7M265.2,288.7h0.7M267.3,281.3h0.7M269.2,287.6h0.7M272.6,286.0h0.7M270.3,282.9h0.7M272.7,286.6h0.7M268.6,284.0h0.7M262.8,284.1h0.7M266.0,286.3h0.7M255.6,284.0h0.7M270.2,283.0h0.7M255.2,284.6h0.7M264.5,287.0h0.7M260.5,288.3h0.7M266.4,286.0h0.7M258.3,284.6h0.7M252.9,285.3h0.7M258.3,283.5h0.7M262.7,282.3h0.7M257.3,289.7h0.7M262.6,278.4h0.7M266.6,279.4h0.7M259.2,286.1h0.7M263.9,283.3h0.7M273.5,287.9h0.7M259.2,283.9h0.7M254.8,285.2h0.7M267.5,278.5h0.7M258.5,278.9h0.7M268.4,282.1h0.7M268.4,285.4h0.7M269.4,282.1h0.7M262.2,284.0h0.7M263.4,283.2h0.7M257.9,286.3h0.7M261.7,288.9h0.7M265.2,278.9h0.7M271.8,281.7h0.7M257.8,280.8h0.7M255.6,282.5h0.7M267.4,281.0h0.7M257.0,285.6h0.7M264.8,282.2h0.7M264.9,280.1h0.7M262.7,282.0h0.7M273.8,283.5h0.7M261.4,274.6h0.7M252.4,275.6h0.7M252.4,283.9h0.7M268.1,282.4h0.7M267.8,285.0h0.7M267.8,277.2h0.7M263.6,283.7h0.7M261.9,284.1h0.7M254.8,283.6h0.7M264.4,284.8h0.7M261.1,283.5h0.7M269.1,286.0h0.7M257.5,285.8h0.7M257.8,286.0h0.7M265.3,284.7h0.7M266.1,285.6h0.7M267.8,286.4h0.7M265.3,285.2h0.7M260.0,276.8h0.7M263.0,289.2h0.7M264.7,282.8h0.7M263.3,288.4h0.7M256.6,290.8h0.7M273.3,279.2h0.7M259.5,283.8h0.7M265.2,282.1h0.7M254.1,284.0h0.7M265.2,280.9h0.7M261.3,279.7h0.7M262.4,281.8h0.7M254.2,275.7h0.7M257.2,278.6h0.7M265.1,286.4h0.7M265.5,282.5h0.7M270.0,281.9h0.7M263.5,283.2h0.7M261.7,283.5h0.7M272.1,286.7h0.7M264.6,285.7h0.7M254.2,282.1h0.7M266.4,283.6h0.7M266.9,278.5h0.7M260.8,285.5h0.7M256.6,288.6h0.7M260.6,282.2h0.7M259.1,283.1h0.7M269.7,285.3h0.7M255.8,282.3h0.7M261.9,280.3h0.7M255.3,277.5h0.7M264.9,280.1h0.7M268.1,285.1h0.7M269.1,278.7h0.7M269.1,284.9h0.7M267.2,281.1h0.7M258.1,284.1h0.7M262.9,277.4h0.7M267.9,283.7h0.7M257.8,280.1h0.7M263.1,285.0h0.7M263.8,284.6h0.7M268.5,278.5h0.7M260.2,281.8h0.7M259.4,283.3h0.7M264.6,284.5h0.7M257.8,283.0h0.7M267.8,281.6h0.7M263.8,282.8h0.7M266.3,285.2h0.7M270.9,282.8h0.7M266.3,284.4h0.7M262.1,281.1h0.7M266.4,286.3h0.7M265.6,278.6h0.7M267.2,283.4h0.7M269.8,287.6h0.7M258.5,281.3h0.7M265.2,285.4h0.7M268.8,286.2h0.7M264.5,283.7h0.7M267.9,287.5h0.7M271.6,286.2h0.7M262.9,284.8h0.7M256.3,278.1h0.7M264.3,279.1h0.7M265.0,283.0h0.7M267.2,285.2h0.7M263.0,285.4h0.7M271.4,273.1h0.7M262.4,284.7h0.7M262.3,287.0h0.7M269.7,281.1h0.7M253.4,282.2h0.7M252.3,280.3h0.7M273.3,276.3h0.7M254.5,281.4h0.7M271.5,287.4h0.7M255.5,283.0h0.7M260.4,285.3h0.7M268.3,283.1h0.7M262.4,282.6h0.7M261.0,284.6h0.7M268.5,278.3h0.7M260.7,286.0h0.7M262.2,289.5h0.7M270.1,277.0h0.7M256.1,283.2h0.7M260.5,282.0h0.7M267.1,280.9h0.7M265.3,288.4h0.7M253.5,288.9h0.7M262.2,289.5h0.7M252.9,283.3h0.7M257.7,279.5h0.7M255.9,281.5h0.7M269.8,285.3h0.7M265.6,284.4h0.7M258.5,282.5h0.7M257.3,282.9h0.7M258.7,288.0h0.7M268.6,283.5h0.7M268.0,279.6h0.7M265.4,287.8h0.7M257.5,280.1h0.7M266.4,282.1h0.7M261.8,282.2h0.7M271.9,288.0h0.7M260.5,285.9h0.7M259.4,283.0h0.7M264.9,283.8h0.7M259.3,286.2h0.7M254.8,284.3h0.7M255.7,283.6h0.7M265.4,283.1h0.7M263.1,277.6h0.7M262.4,286.0h0.7M268.9,281.7h0.7M262.8,285.0h0.7M272.0,284.5h0.7M266.9,285.1h0.7M261.9,280.4h0.7M260.8,286.2h0.7M264.6,283.2h0.7M262.7,286.4h0.7M262.4,278.7h0.7M266.3,280.6h0.7M264.6,281.7h0.7M271.3,287.0h0.7M261.7,286.9h0.7M265.4,285.8h0.7M258.3,286.1h0.7M265.5,284.1h0.7M269.5,281.4h0.7M272.2,283.4h0.7M261.8,287.6h0.7M273.0,288.0h0.7M255.9,286.0h0.7M272.4,288.3h0.7M268.0,284.8h0.7M257.8,282.3h0.7M258.0,281.1h0.7M259.8,282.8h0.7M260.5,282.2h0.7M264.4,288.0h0.7M268.8,281.5h0.7M265.6,286.4h0.7M262.1,279.7h0.7M261.9,288.0h0.7M255.7,284.5h0.7M267.0,284.9h0.7M265.1,283.3h0.7M261.8,280.4h0.7M265.0,283.5h0.7M261.8,282.0h0.7M269.8,283.4h0.7M258.3,290.3h0.7M270.7,286.3h0.7M270.1,276.2h0.7M252.8,279.8h0.7M270.0,286.1h0.7M267.5,292.2h0.7M255.3,285.5h0.7M270.2,279.6h0.7M268.6,281.3h0.7M261.0,286.4h0.7M259.0,284.5h0.7M253.7,287.8h0.7M262.8,278.5h0.7M258.0,283.7h0.7M265.6,285.7h0.7M254.8,283.6h0.7M252.4,285.8h0.7M259.4,285.6h0.7M265.0,278.7h0.7M260.6,282.6h0.7M265.3,284.6h0.7M262.1,285.6h0.7M260.7,282.3h0.7M255.6,283.9h0.7M269.3,283.8h0.7M271.5,282.8h0.7M271.5,283.2h0.7M266.8,282.7h0.7M259.1,287.0h0.7M261.7,283.2h0.7M273.7,286.3h0.7M260.2,283.3h0.7M258.1,286.6h0.7M263.5,283.9h0.7M263.8,278.9h0.7M261.4,282.8h0.7M270.0,280.8h0.7M266.9,285.2h0.7M271.0,283.2h0.7M262.4,285.6h0.7M260.4,281.2h0.7M264.4,281.9h0.7M258.0,280.5h0.7M260.5,282.1h0.7M263.6,287.3h0.7M262.9,280.3h0.7M265.1,281.1h0.7M261.4,286.8h0.7M261.0,285.4h0.7M254.9,283.0h0.7M266.8,281.6h0.7M261.7,283.7h0.7M255.2,284.7h0.7M262.2,287.4h0.7M262.4,287.5h0.7M264.5,278.9h0.7M261.4,285.4h0.7M269.0,284.7h0.7M263.9,283.4h0.7M262.1,284.2h0.7M270.3,285.9h0.7M261.5,289.0h0.7M264.0,283.0h0.7M260.5,289.9h0.7M258.2,289.6h0.7M259.1,278.4h0.7M260.9,287.2h0.7M270.1,281.7h0.7M268.2,283.0h0.7M266.1,285.8h0.7M253.8,287.8h0.7M264.1,287.9h0.7M264.8,288.0h0.7M270.7,283.0h0.7M264.0,284.5h0.7M272.7,282.7h0.7M266.6,282.2h0.7M264.4,286.1h0.7M270.0,281.4h0.7M261.7,285.4h0.7M270.6,279.8h0.7M266.1,282.7h0.7M260.6,284.9h0.7M263.9,285.1h0.7M254.3,285.4h0.7M268.3,280.8h0.7M268.9,284.5h0.7M264.6,284.4h0.7M272.6,276.9h0.7M267.9,285.9h0.7M255.3,292.5h0.7M263.4,284.7h0.7M261.9,282.0h0.7M265.8,280.4h0.7M258.9,284.8h0.7M265.1,278.8h0.7M265.6,280.3h0.7M267.7,280.0h0.7M256.4,282.7h0.7M257.4,286.9h0.7M264.8,285.3h0.7M271.6,282.4h0.7M261.7,279.0h0.7M263.0,283.1h0.7M261.4,283.2h0.7M258.8,282.2h0.7M265.9,286.3h0.7M256.4,285.2h0.7M256.7,286.3h0.7M267.8,285.0h0.7M265.1,283.6h0.7M263.7,282.8h0.7M264.9,284.6h0.7M264.9,286.2h0.7M263.0,279.8h0.7M260.7,280.6h0.7M253.9,283.5h0.7M264.0,279.8h0.7M270.6,287.3h0.7M262.2,280.7h0.7M267.0,283.0h0.7M262.9,291.0h0.7M255.6,284.0h0.7M263.8,282.8h0.7M267.0,284.5h0.7M259.4,283.9h0.7M267.8,280.7h0.7M268.3,286.1h0.7M258.5,284.0h0.7M268.8,279.6h0.7M269.3,285.0h0.7M265.7,277.3h0.7M266.4,285.5h0.7M257.5,279.3h0.7M271.3,276.6h0.7M264.8,280.8h0.7M257.4,284.5h0.7M261.7,282.8h0.7M270.9,284.6h0.7M260.0,283.9h0.7M261.0,281.3h0.7M269.4,282.7h0.7M256.2,286.7h0.7M255.9,280.4h0.7M268.8,278.2h0.7M271.9,282.9h0.7" stroke="#000" stroke-width="0.7" stroke-opacity="0.7" fill="none"/>
<path d="M267.3,290.4h0.7M267.9,294.4h0.7M260.1,290.4h0.7M269.0,305.3h0.7M259.6,293.3h0.7M269.9,298.2h0.7M273.3,301.4h0.7M266.3,302.6h0.7M262.2,294.1h0.7M264.3,291.7h0.7M273.8,293.7h0.7M263.3,295.9h0.7M269.3,291.9h0.7M267.6,292.7h0.7M263.9,295.3h0.7M262.5,305.1h0.7M266.6,290.5h0.7M259.0,303.8h0.7M265.9,290.3h0.7M265.1,292.1h0.7M271.0,296.6h0.7M261.9,292.7h0.7M264.2,291.1h0.7M271.9,291.6h0.7M262.7,297.5h0.7M263.6,290.7h0.7M261.6,295.5h0.7M270.7,292.6h0.7M262.0,291.5h0.7M262.5,295.0h0.7M265.2,294.5h0.7M268.3,295.7h0.7M266.8,294.2h0.7M267.8,306.3h0.7M264.9,293.9h0.7M262.8,292.3h0.7M266.4,299.7h0.7M261.2,291.4h0.7M257.4,293.9h0.7M266.5,296.6h0.7M267.2,290.6h0.7M263.7,293.1h0.7M265.8,292.3h0.7M269.7,300.7h0.7M258.2,292.5h0.7M267.6,294.7h0.7M266.1,290.6h0.7M265.2,297.2h0.7M268.2,305.9h0.7M267.3,293.4h0.7M265.3,297.3h0.7M269.6,302.6h0.7M264.5,290.9h0.7M268.5,297.6h0.7" stroke="#000" stroke-width="0.7" stroke-opacity="0.38" fill="none"/>
<path d="M257.8,282.1h0.7M252.7,304.8h0.7M271.4,307.9h0.7M259.7,298.8h0.7M256.3,280.7h0.7M252.2,287.7h0.7M267.9,293.8h0.7M256.8,292.3h0.7M262.9,283.3h0.7M261.0,306.4h0.7M261.0,308.3h0.7M266.4,281.2h0.7M270.3,298.9h0.7M260.9,283.1h0.7" stroke="#000" stroke-width="0.7" stroke-opacity="0.35" fill="none"/>
<ellipse cx="281.6" cy="280.2" rx="8.17" ry="3.6" fill="#000" fill-opacity="0.9" filter="url(#bl)"/>
<ellipse cx="278.1" cy="280.8" rx="6.02" ry="3.42" fill="#000" fill-opacity="0.9" filter="url(#bl)"/>
<path d="M283.8,279.4h0.7M278.7,279.0h0.7M282.3,275.2h0.7M288.8,278.0h0.7M277.9,277.8h0.7M276.3,278.7h0.7M279.0,280.9h0.7M288.7,284.3h0.7M277.0,278.3h0.7M281.9,279.6h0.7M280.7,276.3h0.7M281.8,281.2h0.7M281.1,281.0h0.7M287.4,275.7h0.7M272.9,281.1h0.7M283.3,276.3h0.7M282.5,282.3h0.7M282.5,279.6h0.7M276.2,280.6h0.7M283.4,280.4h0.7M275.2,276.9h0.7M279.7,280.4h0.7M276.2,276.9h0.7M290.5,283.6h0.7M285.8,277.5h0.7M283.2,280.2h0.7M294.4,279.5h0.7M286.0,284.6h0.7M285.7,280.5h0.7M280.1,281.3h0.7M285.1,282.8h0.7M282.7,282.3h0.7M274.7,274.0h0.7M281.3,279.5h0.7M286.0,279.9h0.7M288.8,279.1h0.7M282.2,274.4h0.7M282.3,282.4h0.7M276.4,281.9h0.7M276.9,276.8h0.7M281.8,281.1h0.7M288.4,278.3h0.7M281.6,278.8h0.7M281.7,279.5h0.7M279.5,279.5h0.7M282.2,279.2h0.7M281.0,280.4h0.7M280.7,280.9h0.7M277.4,282.1h0.7M280.3,282.2h0.7M287.9,280.4h0.7M291.4,278.5h0.7M282.2,278.9h0.7M279.5,280.1h0.7M283.8,280.3h0.7M285.3,281.5h0.7M286.3,277.4h0.7M283.8,277.0h0.7M279.0,278.3h0.7M277.7,281.0h0.7M279.3,280.1h0.7M282.4,284.1h0.7M275.7,276.6h0.7M287.2,275.4h0.7M276.9,281.8h0.7M278.8,279.8h0.7M287.0,282.6h0.7M280.0,279.9h0.7M282.5,276.4h0.7M289.6,276.7h0.7M286.2,284.4h0.7M274.0,279.9h0.7M275.4,278.6h0.7M293.6,281.4h0.7M273.3,283.2h0.7M284.3,279.8h0.7M278.9,279.1h0.7M286.8,280.2h0.7M284.1,281.6h0.7M286.4,284.1h0.7M282.4,278.6h0.7M283.7,280.2h0.7M286.2,277.3h0.7M276.7,277.0h0.7M285.2,276.5h0.7M277.3,279.7h0.7M272.6,282.3h0.7M282.4,283.3h0.7M288.3,282.8h0.7M292.0,279.5h0.7M284.2,279.7h0.7M278.4,278.6h0.7M285.9,278.4h0.7M276.8,278.2h0.7M273.5,283.2h0.7M280.1,277.9h0.7M284.4,277.8h0.7M289.9,276.9h0.7M279.2,281.6h0.7M274.1,282.1h0.7M277.8,278.7h0.7M271.1,276.1h0.7M282.4,280.0h0.7M284.7,281.9h0.7M276.2,283.1h0.7M279.9,280.1h0.7M284.3,281.6h0.7M279.2,281.6h0.7M287.2,279.6h0.7M274.8,283.9h0.7M284.3,279.3h0.7M277.4,282.5h0.7M278.7,280.3h0.7M279.3,278.9h0.7M290.0,278.8h0.7M274.0,280.0h0.7M280.4,280.6h0.7M280.4,280.3h0.7M286.1,279.2h0.7M281.6,279.1h0.7M282.9,279.2h0.7M285.8,283.2h0.7M287.9,281.7h0.7M282.3,282.0h0.7M278.2,282.0h0.7M280.1,277.5h0.7M280.8,274.6h0.7M290.7,276.9h0.7M287.1,278.1h0.7M281.4,283.1h0.7M271.6,283.2h0.7M282.3,280.3h0.7M275.3,277.3h0.7M286.4,281.6h0.7M286.6,281.6h0.7M291.7,280.7h0.7M276.4,280.8h0.7M275.1,279.3h0.7M278.3,280.6h0.7M274.0,281.9h0.7M281.5,277.0h0.7M286.9,280.0h0.7M290.7,281.0h0.7M279.0,279.9h0.7M277.2,279.9h0.7M286.5,280.8h0.7M274.1,277.7h0.7M287.0,280.8h0.7M278.3,282.0h0.7M276.7,277.3h0.7M273.6,280.8h0.7M287.4,280.1h0.7M280.7,278.0h0.7M285.8,277.7h0.7M283.6,280.8h0.7M279.4,279.9h0.7M277.3,282.3h0.7M284.6,281.9h0.7M285.9,281.4h0.7M286.6,285.1h0.7M295.1,280.8h0.7M287.2,277.5h0.7M276.7,283.2h0.7M289.1,279.6h0.7M283.2,277.4h0.7M284.8,277.9h0.7M288.2,278.7h0.7M290.7,284.0h0.7M277.6,282.4h0.7M283.7,278.1h0.7M280.5,281.4h0.7M288.1,281.2h0.7M283.8,273.6h0.7M290.5,275.9h0.7M290.9,278.7h0.7M274.8,282.7h0.7M278.0,280.0h0.7M275.6,281.5h0.7M271.2,285.4h0.7M281.7,283.3h0.7M283.1,283.6h0.7M285.6,279.1h0.7M282.8,281.1h0.7M278.2,282.0h0.7M278.5,277.9h0.7M279.5,280.4h0.7M276.6,278.6h0.7M281.3,279.6h0.7M283.8,280.1h0.7M285.9,279.7h0.7M278.8,283.6h0.7M293.4,279.6h0.7M279.8,282.7h0.7M274.8,275.8h0.7M272.9,279.0h0.7M281.0,281.2h0.7M281.8,277.4h0.7M283.1,280.6h0.7M279.8,281.1h0.7M282.6,276.8h0.7M291.1,280.3h0.7M280.0,279.0h0.7M279.8,280.5h0.7M286.2,280.2h0.7M286.1,280.5h0.7M286.4,277.8h0.7M277.9,280.0h0.7M277.3,283.1h0.7M282.8,279.6h0.7M285.0,275.7h0.7M288.6,277.3h0.7M276.7,282.9h0.7M283.4,278.8h0.7M271.5,280.2h0.7M279.9,280.6h0.7M281.5,280.5h0.7M275.6,285.1h0.7M276.0,280.2h0.7M279.4,279.5h0.7M279.5,279.2h0.7M282.9,280.0h0.7M283.3,279.2h0.7M281.0,280.4h0.7M290.8,279.4h0.7M288.4,282.3h0.7M275.9,282.4h0.7M270.4,280.2h0.7M285.0,285.2h0.7M281.2,278.0h0.7M292.5,281.6h0.7M283.6,280.9h0.7M279.7,281.2h0.7M278.7,280.3h0.7M278.8,277.3h0.7M281.6,276.0h0.7M277.8,283.6h0.7M283.4,281.8h0.7M276.4,280.6h0.7M291.1,278.6h0.7M283.4,280.7h0.7M272.6,281.4h0.7M276.0,280.7h0.7M281.7,279.6h0.7M281.1,279.3h0.7M279.6,280.3h0.7M280.5,279.6h0.7M278.1,282.7h0.7M281.6,275.9h0.7M280.5,279.0h0.7M295.5,280.0h0.7M283.0,279.8h0.7M286.6,279.5h0.7M280.5,283.4h0.7M276.4,280.0h0.7M265.7,283.4h0.7M284.2,281.1h0.7M279.0,278.9h0.7M283.5,282.5h0.7M278.9,281.0h0.7M278.0,277.2h0.7M276.3,279.2h0.7M285.1,282.9h0.7M285.4,278.9h0.7M283.5,279.4h0.7M285.8,282.3h0.7M286.7,281.1h0.7M284.7,275.9h0.7M293.8,279.8h0.7M278.0,283.1h0.7M271.2,278.3h0.7M289.9,278.3h0.7M276.7,282.9h0.7M277.1,277.1h0.7M271.6,279.2h0.7M282.3,283.8h0.7M282.0,275.7h0.7M283.7,281.9h0.7M280.9,281.1h0.7M288.2,281.2h0.7M281.9,281.9h0.7M283.6,278.8h0.7M282.9,278.8h0.7M273.3,281.6h0.7M275.8,280.3h0.7M272.1,279.9h0.7M277.0,276.5h0.7M277.1,280.2h0.7M286.6,283.2h0.7M282.1,282.0h0.7M285.4,280.6h0.7M284.0,281.7h0.7M278.5,283.7h0.7M279.3,278.0h0.7M278.4,277.8h0.7M273.8,281.2h0.7M287.8,280.0h0.7M285.0,281.0h0.7M290.8,282.4h0.7M279.3,280.8h0.7M284.6,279.5h0.7" stroke="#000" stroke-width="0.7" stroke-opacity="0.7" fill="none"/>
</g>
<rect x="252.2" y="265.6" width="42.6" height="43.0" fill="none" stroke="#000" stroke-width="1.35"/>
<path d="M271.9,265.6V308.6M252.2,290.2H294.8" stroke="#000" stroke-width="1.2" fill="none"/>
<path d="M250.89999999999998,268.3h1.3M254.9,308.6v1.3M250.89999999999998,271.0h1.3M257.5,308.6v1.3M250.89999999999998,273.7h1.3M260.2,308.6v1.3M250.89999999999998,276.4h1.3M262.8,308.6v1.3M250.89999999999998,279.0h1.3M265.5,308.6v1.3M250.89999999999998,281.7h1.3M268.2,308.6v1.3M250.89999999999998,284.4h1.3M270.8,308.6v1.3M250.89999999999998,287.1h1.3M273.5,308.6v1.3M250.89999999999998,289.8h1.3M276.2,308.6v1.3M250.89999999999998,292.5h1.3M278.8,308.6v1.3M250.89999999999998,295.2h1.3M281.5,308.6v1.3M250.89999999999998,297.9h1.3M284.1,308.6v1.3M250.89999999999998,300.5h1.3M286.8,308.6v1.3M250.89999999999998,303.2h1.3M289.5,308.6v1.3M250.89999999999998,305.9h1.3M292.1,308.6v1.3" stroke="#000" stroke-width="0.6" stroke-opacity="0.6"/>
<text x="293.20" y="271.90" font-size="7" text-anchor="end" font-weight="normal" fill="#111" >9.12</text>
<clipPath id="c20"><rect x="116.5" y="314.2" width="42.6" height="42.80000000000001"/></clipPath><g clip-path="url(#c20)">
<rect x="114.5" y="325.8" width="17.5" height="11.2" rx="3.5" fill="#000" filter="url(#bl)"/>
<ellipse cx="128.1" cy="331.8" rx="7.5" ry="5.2" fill="#000" fill-opacity="1" filter="url(#bl)"/>
<path d="M131.3,335.0h0.7M120.5,326.9h0.7M126.1,333.3h0.7M131.0,330.6h0.7M126.5,330.2h0.7M133.3,329.6h0.7M122.6,335.9h0.7M129.2,332.0h0.7M126.1,337.3h0.7M123.3,334.6h0.7M123.5,332.7h0.7M124.4,331.3h0.7M131.6,327.6h0.7M128.7,332.8h0.7M129.7,335.3h0.7M126.5,333.7h0.7M128.7,338.5h0.7M127.0,332.4h0.7M133.0,330.9h0.7M124.7,325.8h0.7M122.4,332.2h0.7M134.5,331.1h0.7M117.6,329.2h0.7M131.5,329.9h0.7M119.7,331.3h0.7M118.9,333.1h0.7M128.7,330.5h0.7M133.4,334.6h0.7M127.6,334.4h0.7M131.8,333.8h0.7M136.8,334.8h0.7M127.9,331.7h0.7M135.1,335.1h0.7M120.0,330.7h0.7M129.2,331.3h0.7M123.5,330.3h0.7M121.9,333.7h0.7M133.6,330.9h0.7M127.0,335.5h0.7M134.5,327.1h0.7M132.7,331.6h0.7M125.3,329.2h0.7M132.7,331.9h0.7M129.0,334.9h0.7M125.6,329.8h0.7M119.9,334.3h0.7M125.3,336.8h0.7M127.4,329.5h0.7M128.1,329.0h0.7M126.4,333.1h0.7M128.1,335.4h0.7M127.4,332.4h0.7M126.7,336.3h0.7M131.1,329.8h0.7M121.0,332.2h0.7M123.8,324.7h0.7M132.8,333.7h0.7M126.8,328.6h0.7M126.3,337.9h0.7M130.6,333.0h0.7M117.5,327.9h0.7M129.6,327.3h0.7M125.6,329.0h0.7M136.1,329.3h0.7M125.0,326.6h0.7M120.0,328.7h0.7M125.7,326.6h0.7M123.0,334.8h0.7M137.6,328.7h0.7M129.1,325.9h0.7M124.3,332.9h0.7M129.1,331.2h0.7M125.7,330.1h0.7M126.9,332.9h0.7M131.3,335.6h0.7M120.3,330.9h0.7M134.4,331.6h0.7M125.6,326.7h0.7M129.2,335.0h0.7M126.4,329.0h0.7M130.3,333.4h0.7M119.5,326.1h0.7M122.8,335.0h0.7M119.5,330.2h0.7M125.1,330.2h0.7M128.5,332.5h0.7M131.9,336.6h0.7M116.9,329.4h0.7M129.8,328.2h0.7M124.3,338.6h0.7M123.6,343.7h0.7M135.0,330.0h0.7M129.4,329.0h0.7M121.8,334.2h0.7M128.0,326.7h0.7M132.9,333.1h0.7M119.1,330.2h0.7M127.6,333.5h0.7M134.8,334.4h0.7M121.9,332.5h0.7M135.9,329.3h0.7M121.2,334.9h0.7M125.8,331.2h0.7M121.7,325.8h0.7M126.9,330.8h0.7M128.3,329.4h0.7M117.0,325.9h0.7M116.9,328.9h0.7M131.0,325.2h0.7M129.3,330.5h0.7M129.7,327.4h0.7M134.2,331.7h0.7M121.5,336.0h0.7M135.1,330.1h0.7M117.4,331.8h0.7M125.9,333.9h0.7M121.4,334.8h0.7M117.6,330.8h0.7M120.6,334.0h0.7M121.8,333.1h0.7M124.3,334.6h0.7M137.2,323.5h0.7M121.1,331.2h0.7M127.6,336.1h0.7M136.2,333.1h0.7M119.4,331.3h0.7M124.2,334.4h0.7M123.6,333.1h0.7M132.5,327.8h0.7M126.6,331.4h0.7M121.7,332.7h0.7M120.2,325.8h0.7M133.5,331.4h0.7M119.2,329.4h0.7M131.9,333.0h0.7M122.4,330.6h0.7M118.8,337.0h0.7M122.2,335.0h0.7M122.5,329.2h0.7M126.7,332.6h0.7M130.9,332.9h0.7M134.2,326.6h0.7M121.3,331.8h0.7M124.1,327.9h0.7M124.3,330.2h0.7M130.2,329.7h0.7M132.1,327.7h0.7M128.3,326.8h0.7M133.5,328.5h0.7M122.2,329.3h0.7M126.8,333.2h0.7M125.3,333.2h0.7M118.8,330.1h0.7M130.0,334.8h0.7M123.7,328.6h0.7M122.5,329.4h0.7M118.8,330.2h0.7M125.0,336.8h0.7M127.1,336.0h0.7M125.7,330.7h0.7M135.8,331.3h0.7M127.4,333.5h0.7M130.4,328.5h0.7M117.8,336.1h0.7M124.9,330.1h0.7M120.5,330.1h0.7M123.2,329.7h0.7M128.4,328.1h0.7M131.1,327.9h0.7M117.5,330.1h0.7M129.5,330.1h0.7M121.1,326.9h0.7M125.8,323.0h0.7M119.8,330.4h0.7M129.2,325.6h0.7M133.1,332.6h0.7M123.9,333.0h0.7M129.7,332.8h0.7M135.2,336.1h0.7M116.9,328.1h0.7M135.1,331.3h0.7M130.5,329.6h0.7M136.6,332.2h0.7M117.9,329.0h0.7M124.4,330.9h0.7M124.6,330.3h0.7M127.5,328.9h0.7M122.5,334.0h0.7M123.7,326.5h0.7M126.4,331.7h0.7M120.2,335.7h0.7M132.3,336.4h0.7M133.9,339.0h0.7M127.2,333.5h0.7M118.7,336.5h0.7M118.6,330.5h0.7M121.3,333.3h0.7M127.3,336.1h0.7M130.9,329.3h0.7M129.6,335.8h0.7M117.0,332.3h0.7M125.5,335.3h0.7M123.8,332.5h0.7M121.5,326.2h0.7M122.9,330.8h0.7M133.0,337.9h0.7M129.5,327.3h0.7M122.1,332.9h0.7M136.5,332.0h0.7M120.8,335.1h0.7M122.8,333.4h0.7M122.1,330.1h0.7M128.7,333.7h0.7M126.3,334.2h0.7M131.8,330.2h0.7M125.9,336.1h0.7M121.1,329.0h0.7M125.0,325.1h0.7M132.5,328.1h0.7M129.0,334.9h0.7M122.6,332.6h0.7M123.7,331.3h0.7M122.5,331.6h0.7M128.2,337.2h0.7M116.5,332.9h0.7M118.5,335.0h0.7M130.5,336.3h0.7M119.6,342.2h0.7M125.8,336.2h0.7M122.9,337.3h0.7M127.0,331.6h0.7M125.2,331.2h0.7M126.0,336.7h0.7M129.2,332.1h0.7M120.0,333.4h0.7M129.8,332.4h0.7M133.6,330.7h0.7M126.0,329.1h0.7M120.8,334.8h0.7M128.7,330.6h0.7M136.7,332.1h0.7M134.6,330.1h0.7M119.8,336.0h0.7M127.8,333.8h0.7M128.5,333.7h0.7M123.8,333.8h0.7M124.6,332.7h0.7M125.9,335.8h0.7M131.3,329.1h0.7M133.1,330.5h0.7M132.3,330.2h0.7M121.5,335.2h0.7M132.5,331.6h0.7M125.1,325.6h0.7M130.6,327.4h0.7M120.4,334.1h0.7M125.0,330.2h0.7M127.8,335.5h0.7M120.6,335.4h0.7M119.0,328.9h0.7M134.0,331.3h0.7M133.0,327.6h0.7M117.8,332.0h0.7M136.2,327.1h0.7M123.2,335.3h0.7M129.9,335.9h0.7M130.5,332.7h0.7M119.6,327.3h0.7M129.2,322.7h0.7M119.2,334.7h0.7M117.6,331.1h0.7M127.3,330.7h0.7M121.6,330.4h0.7M116.8,332.6h0.7M123.9,328.6h0.7M126.2,330.3h0.7M129.7,333.7h0.7M119.6,330.1h0.7M124.6,327.1h0.7M122.5,334.1h0.7M129.6,331.3h0.7M133.5,340.6h0.7M134.2,325.7h0.7M134.8,337.5h0.7M127.9,334.8h0.7M121.6,328.4h0.7M131.8,330.9h0.7M130.1,336.1h0.7M120.9,327.9h0.7M125.7,333.4h0.7M130.9,330.8h0.7M126.7,330.3h0.7M127.1,330.2h0.7M120.7,330.7h0.7M129.5,331.8h0.7M130.1,334.7h0.7M121.0,328.9h0.7M124.0,336.3h0.7M123.1,334.3h0.7M133.9,343.2h0.7M125.7,331.7h0.7M121.2,324.9h0.7M131.5,332.7h0.7M123.6,329.1h0.7M118.9,332.5h0.7M127.3,324.1h0.7M123.3,329.5h0.7M133.5,337.5h0.7M133.5,334.0h0.7M122.1,330.7h0.7M131.0,334.6h0.7M127.1,336.7h0.7M133.5,331.6h0.7M121.1,329.5h0.7M119.2,328.5h0.7M122.9,327.7h0.7M122.3,330.4h0.7M131.1,334.4h0.7M133.2,332.9h0.7M121.5,328.8h0.7M122.3,332.3h0.7M127.7,337.4h0.7M128.0,333.7h0.7M129.4,329.5h0.7M125.3,328.3h0.7M122.1,332.7h0.7M135.0,326.3h0.7M135.0,328.5h0.7M119.9,334.7h0.7M126.8,330.8h0.7M126.4,337.1h0.7M132.4,335.2h0.7M130.8,332.1h0.7M133.3,329.7h0.7M128.7,329.1h0.7M127.0,335.5h0.7M123.2,335.8h0.7M133.0,334.8h0.7M134.5,333.0h0.7M124.4,333.5h0.7M117.4,331.7h0.7M119.4,327.2h0.7M134.5,334.9h0.7M122.9,337.3h0.7M120.4,330.7h0.7M120.2,331.3h0.7M130.7,330.3h0.7M119.1,332.1h0.7M129.1,332.6h0.7M121.8,333.9h0.7M132.4,335.2h0.7M127.8,333.8h0.7M137.5,328.0h0.7M123.1,331.1h0.7M125.8,336.5h0.7M126.0,333.3h0.7M122.0,333.3h0.7M123.3,341.9h0.7M125.0,327.4h0.7M132.3,334.9h0.7M130.1,337.3h0.7M125.0,328.9h0.7M127.0,332.7h0.7M132.1,330.8h0.7M132.7,328.6h0.7M122.8,328.8h0.7M122.0,327.8h0.7M125.7,335.9h0.7M120.2,331.1h0.7M129.2,331.0h0.7M128.8,332.6h0.7M122.2,335.9h0.7M133.5,330.0h0.7M124.0,337.6h0.7M125.2,341.5h0.7M121.4,333.5h0.7M124.3,329.3h0.7M132.0,330.5h0.7M122.8,331.0h0.7M136.3,335.7h0.7M124.1,338.3h0.7M120.3,333.6h0.7M123.2,327.9h0.7M131.8,334.3h0.7M132.1,334.8h0.7M126.5,335.8h0.7M128.0,335.4h0.7M132.2,326.5h0.7M131.9,327.0h0.7M127.4,327.7h0.7M125.6,332.3h0.7M124.4,332.9h0.7M129.9,325.9h0.7M130.3,330.5h0.7M121.6,327.2h0.7M132.6,330.2h0.7M124.6,331.3h0.7M126.7,329.4h0.7M126.9,330.8h0.7M131.0,332.8h0.7M123.6,333.4h0.7M127.4,328.4h0.7M128.5,336.9h0.7M121.3,331.6h0.7M128.9,325.5h0.7M122.1,332.7h0.7M136.2,326.0h0.7M137.5,333.9h0.7M124.5,333.4h0.7M117.7,328.6h0.7M130.5,335.1h0.7M121.6,328.0h0.7M122.7,337.6h0.7M127.2,337.7h0.7M133.9,336.3h0.7M126.0,331.6h0.7M135.2,327.7h0.7M118.2,336.2h0.7M128.6,323.8h0.7M127.0,329.9h0.7M128.2,328.8h0.7M124.8,337.4h0.7M131.0,325.3h0.7M128.9,334.3h0.7M129.1,336.8h0.7M133.8,327.3h0.7M128.4,335.4h0.7M127.7,327.6h0.7M132.0,332.7h0.7M132.2,328.6h0.7M126.7,332.7h0.7M126.2,340.2h0.7M116.5,330.4h0.7M123.4,332.9h0.7M130.8,334.9h0.7M126.8,331.2h0.7M131.1,334.1h0.7M118.7,334.8h0.7M125.6,337.2h0.7M130.2,330.9h0.7M133.9,336.3h0.7M131.5,330.2h0.7M118.0,328.9h0.7M120.9,328.2h0.7M128.7,326.5h0.7M118.0,329.5h0.7M132.5,330.1h0.7M128.1,331.7h0.7M124.9,332.6h0.7M124.2,334.6h0.7M134.7,329.1h0.7M127.7,323.7h0.7M126.7,329.8h0.7M120.9,334.3h0.7M124.1,336.5h0.7M131.3,333.8h0.7M131.4,332.5h0.7M130.4,338.2h0.7M121.2,336.0h0.7M122.9,331.0h0.7M119.8,325.4h0.7M134.3,331.6h0.7M130.9,338.8h0.7M118.5,334.9h0.7M135.5,334.9h0.7M129.9,335.5h0.7M126.1,333.0h0.7M131.7,329.3h0.7M117.3,337.8h0.7M130.9,329.5h0.7M127.9,335.2h0.7M117.8,331.0h0.7M130.5,331.9h0.7M122.8,333.8h0.7M125.4,333.3h0.7M135.9,333.5h0.7M123.7,335.7h0.7M122.8,334.9h0.7M131.2,332.4h0.7M134.6,327.2h0.7M117.0,337.9h0.7M119.6,329.2h0.7M116.5,336.3h0.7M116.8,323.5h0.7M126.0,334.1h0.7M124.6,333.0h0.7M134.0,328.3h0.7M123.7,329.4h0.7M125.6,327.7h0.7M129.8,331.9h0.7M128.2,325.8h0.7M126.8,330.9h0.7M135.8,332.2h0.7M130.9,333.2h0.7M122.2,334.2h0.7M118.9,335.7h0.7M126.7,330.1h0.7M124.8,329.0h0.7M130.8,324.0h0.7M128.0,326.2h0.7M134.4,330.3h0.7M135.6,334.4h0.7M132.5,331.7h0.7M128.9,337.0h0.7M137.2,337.1h0.7M124.6,337.1h0.7M119.9,331.2h0.7M119.0,332.4h0.7M134.5,335.1h0.7M117.2,331.5h0.7M123.4,329.0h0.7M126.8,326.7h0.7M123.6,331.6h0.7M125.3,330.8h0.7M130.4,329.3h0.7M128.0,332.7h0.7M129.8,324.6h0.7M126.3,333.7h0.7M118.6,333.8h0.7M123.5,329.6h0.7M121.2,333.2h0.7M130.0,330.7h0.7M122.9,337.2h0.7M133.0,332.1h0.7M124.1,331.9h0.7M126.1,321.9h0.7M121.9,334.4h0.7M132.4,326.5h0.7M129.3,327.0h0.7M120.2,339.4h0.7M136.4,332.2h0.7M122.7,338.2h0.7M126.3,332.4h0.7M119.5,336.3h0.7M121.7,330.8h0.7M125.5,328.4h0.7M126.2,328.8h0.7M127.9,333.8h0.7M120.7,334.0h0.7M128.3,334.0h0.7M119.1,327.6h0.7M136.0,335.4h0.7M124.9,333.8h0.7M129.9,337.2h0.7M133.9,331.1h0.7M120.2,327.8h0.7M125.5,326.9h0.7M127.9,327.8h0.7M128.3,328.3h0.7M127.3,328.7h0.7M122.8,330.8h0.7M131.9,332.2h0.7M122.0,329.3h0.7M126.4,332.2h0.7M125.2,326.6h0.7M121.1,331.4h0.7M118.2,333.2h0.7M127.2,334.6h0.7M127.0,323.9h0.7M134.6,335.2h0.7M120.5,329.4h0.7M118.0,333.1h0.7M120.0,330.3h0.7M122.1,332.2h0.7M130.5,329.4h0.7M128.6,331.0h0.7M124.6,329.9h0.7M133.5,333.5h0.7M129.3,339.7h0.7M127.9,328.7h0.7M129.6,329.8h0.7M137.1,331.9h0.7M121.9,334.1h0.7M124.8,334.8h0.7M131.6,323.8h0.7M131.5,339.1h0.7M129.5,331.1h0.7M120.2,335.0h0.7M133.6,334.7h0.7M126.6,334.6h0.7M128.5,338.6h0.7M125.1,327.0h0.7M122.8,327.6h0.7M117.5,336.2h0.7M123.6,334.3h0.7M124.1,335.6h0.7M131.6,338.6h0.7M129.3,338.0h0.7M124.1,331.6h0.7M133.3,335.4h0.7M127.9,332.8h0.7M121.9,333.6h0.7" stroke="#000" stroke-width="0.7" stroke-opacity="0.7" fill="none"/>
<path d="M132.3,343.0h0.7M132.1,340.3h0.7M130.7,344.5h0.7M126.2,344.1h0.7M127.4,349.6h0.7M126.0,345.9h0.7M128.3,343.8h0.7M126.4,347.4h0.7M131.8,347.2h0.7M131.0,353.6h0.7M133.5,340.0h0.7M127.7,341.7h0.7M134.7,346.4h0.7M128.5,343.5h0.7M130.9,341.0h0.7M130.1,344.0h0.7M130.6,344.5h0.7M129.9,341.2h0.7M123.4,342.9h0.7M123.1,350.8h0.7M127.3,339.7h0.7M129.2,341.7h0.7M130.9,341.8h0.7M126.3,343.0h0.7M130.3,344.9h0.7M128.9,343.6h0.7M132.2,341.0h0.7M131.6,341.6h0.7M130.1,349.9h0.7M134.5,348.4h0.7M129.1,339.1h0.7M129.1,343.0h0.7M135.6,340.3h0.7M127.8,339.3h0.7M130.9,341.8h0.7M124.5,344.7h0.7M133.3,344.8h0.7M129.5,339.9h0.7M129.4,342.7h0.7M120.6,343.1h0.7M132.8,348.5h0.7M126.5,340.0h0.7M126.3,339.1h0.7M126.1,340.6h0.7M125.3,353.2h0.7M126.1,342.9h0.7M133.3,340.5h0.7M130.6,339.9h0.7M127.2,341.1h0.7M131.2,341.1h0.7M124.0,343.1h0.7M133.2,344.4h0.7M132.8,345.0h0.7" stroke="#000" stroke-width="0.7" stroke-opacity="0.38" fill="none"/>
<path d="M135.4,335.9h0.7M130.3,345.2h0.7M125.7,345.2h0.7M130.2,343.8h0.7M132.0,335.3h0.7M121.0,340.3h0.7M132.0,341.4h0.7M116.6,340.4h0.7M134.1,331.2h0.7M127.8,334.8h0.7M127.2,349.7h0.7M123.0,331.4h0.7M125.3,356.5h0.7M117.0,335.4h0.7" stroke="#000" stroke-width="0.7" stroke-opacity="0.35" fill="none"/>
<path d="M138.4,332.8h0.7M143.9,333.0h0.7M144.7,329.9h0.7M139.4,326.3h0.7M139.2,331.7h0.7M138.2,336.1h0.7M138.5,336.7h0.7M139.0,330.8h0.7M140.4,337.4h0.7M141.3,331.4h0.7M137.7,330.8h0.7M143.2,335.3h0.7" stroke="#000" stroke-width="0.7" stroke-opacity="0.4" fill="none"/>
</g>
<rect x="116.5" y="314.2" width="42.6" height="42.80000000000001" fill="none" stroke="#000" stroke-width="1.35"/>
<path d="M136.2,314.2V357.0M116.5,339.0H159.1" stroke="#000" stroke-width="1.2" fill="none"/>
<path d="M115.2,316.9h1.3M119.2,357.0v1.3M115.2,319.6h1.3M121.8,357.0v1.3M115.2,322.2h1.3M124.5,357.0v1.3M115.2,324.9h1.3M127.2,357.0v1.3M115.2,327.6h1.3M129.8,357.0v1.3M115.2,330.2h1.3M132.5,357.0v1.3M115.2,332.9h1.3M135.1,357.0v1.3M115.2,335.6h1.3M137.8,357.0v1.3M115.2,338.3h1.3M140.5,357.0v1.3M115.2,340.9h1.3M143.1,357.0v1.3M115.2,343.6h1.3M145.8,357.0v1.3M115.2,346.3h1.3M148.4,357.0v1.3M115.2,349.0h1.3M151.1,357.0v1.3M115.2,351.6h1.3M153.8,357.0v1.3M115.2,354.3h1.3M156.4,357.0v1.3" stroke="#000" stroke-width="0.6" stroke-opacity="0.6"/>
<text x="157.50" y="320.50" font-size="7" text-anchor="end" font-weight="normal" fill="#111" >0.58</text>
<clipPath id="c21"><rect x="161.75" y="314.2" width="42.6" height="42.80000000000001"/></clipPath><g clip-path="url(#c21)">
<rect x="159.8" y="325.8" width="18.5" height="11.2" rx="3.5" fill="#000" filter="url(#bl)"/>
<ellipse cx="173.3" cy="331.8" rx="7.5" ry="5.2" fill="#000" fill-opacity="1" filter="url(#bl)"/>
<path d="M174.7,329.5h0.7M171.6,323.3h0.7M168.4,336.4h0.7M162.5,331.0h0.7M175.2,323.7h0.7M172.9,332.1h0.7M173.3,332.1h0.7M170.1,321.8h0.7M169.6,331.4h0.7M170.5,329.9h0.7M180.8,331.2h0.7M168.4,327.9h0.7M172.6,332.7h0.7M173.7,330.5h0.7M176.7,334.8h0.7M169.2,332.4h0.7M170.0,329.8h0.7M171.6,334.5h0.7M172.8,330.2h0.7M162.7,330.5h0.7M180.7,329.8h0.7M168.3,333.6h0.7M164.4,336.7h0.7M179.8,326.2h0.7M171.3,334.0h0.7M168.9,339.9h0.7M173.0,332.9h0.7M169.2,325.1h0.7M174.1,328.6h0.7M165.8,332.7h0.7M170.8,330.4h0.7M173.5,336.3h0.7M168.9,331.3h0.7M167.1,334.1h0.7M169.5,327.8h0.7M180.6,335.1h0.7M177.0,334.9h0.7M175.8,333.7h0.7M166.8,333.8h0.7M167.5,326.7h0.7M172.6,335.0h0.7M175.8,332.2h0.7M166.0,335.7h0.7M162.7,329.2h0.7M167.7,331.6h0.7M168.5,331.6h0.7M164.3,332.1h0.7M162.5,329.9h0.7M175.1,329.9h0.7M170.8,331.5h0.7M179.8,334.4h0.7M169.9,333.1h0.7M175.4,330.3h0.7M172.9,328.6h0.7M165.5,337.0h0.7M167.7,336.7h0.7M168.9,330.0h0.7M172.9,326.6h0.7M164.4,326.8h0.7M174.2,337.4h0.7M170.8,336.1h0.7M166.4,327.8h0.7M180.2,329.6h0.7M172.6,334.7h0.7M165.5,331.3h0.7M182.9,329.2h0.7M162.8,332.2h0.7M169.5,333.7h0.7M172.4,333.6h0.7M167.2,323.9h0.7M167.7,333.2h0.7M177.7,338.4h0.7M175.6,334.2h0.7M165.7,332.3h0.7M167.4,334.0h0.7M169.2,330.3h0.7M179.7,333.8h0.7M164.5,330.3h0.7M164.4,329.3h0.7M168.3,333.9h0.7M183.0,328.9h0.7M169.0,330.9h0.7M176.3,329.8h0.7M170.4,328.7h0.7M172.6,329.3h0.7M174.8,338.8h0.7M174.5,329.9h0.7M180.7,335.0h0.7M168.8,328.7h0.7M178.6,335.8h0.7M168.1,330.8h0.7M168.5,330.3h0.7M177.3,329.8h0.7M165.8,331.3h0.7M178.6,334.3h0.7M174.1,326.0h0.7M165.3,334.0h0.7M181.4,328.3h0.7M173.9,335.5h0.7M179.4,330.7h0.7M166.7,339.2h0.7M170.0,329.9h0.7M173.6,332.3h0.7M165.2,333.6h0.7M167.0,333.8h0.7M166.2,329.2h0.7M167.9,330.9h0.7M169.3,329.7h0.7M175.3,326.5h0.7M164.7,323.2h0.7M171.5,335.0h0.7M179.3,329.9h0.7M173.5,330.1h0.7M176.1,327.8h0.7M171.4,333.4h0.7M177.2,331.0h0.7M169.9,335.2h0.7M165.1,340.0h0.7M169.8,329.5h0.7M170.4,327.2h0.7M172.6,332.0h0.7M173.1,326.5h0.7M171.2,325.4h0.7M169.1,341.2h0.7M170.7,329.8h0.7M176.8,329.6h0.7M168.8,337.4h0.7M166.9,335.2h0.7M169.5,327.6h0.7M170.8,334.0h0.7M173.8,327.4h0.7M173.0,328.2h0.7M170.5,331.6h0.7M174.7,331.4h0.7M172.9,331.6h0.7M173.1,335.5h0.7M164.6,328.7h0.7M171.0,330.4h0.7M165.7,335.4h0.7M178.4,325.3h0.7M172.6,333.2h0.7M163.8,326.3h0.7M171.5,327.9h0.7M174.2,328.2h0.7M161.8,336.5h0.7M167.6,332.7h0.7M167.5,334.0h0.7M173.6,332.0h0.7M178.7,329.3h0.7M177.9,335.2h0.7M169.1,333.5h0.7M162.6,332.5h0.7M178.4,333.9h0.7M174.7,333.8h0.7M172.6,334.9h0.7M165.9,334.4h0.7M165.6,330.4h0.7M177.7,325.7h0.7M171.8,332.6h0.7M178.2,330.4h0.7M172.9,326.2h0.7M162.5,328.8h0.7M169.2,329.2h0.7M170.9,334.7h0.7M172.3,327.3h0.7M178.2,325.8h0.7M177.8,334.0h0.7M174.5,334.5h0.7M180.8,334.1h0.7M177.9,326.1h0.7M170.5,329.0h0.7M170.0,335.6h0.7M168.5,334.1h0.7M177.6,330.2h0.7M170.6,335.8h0.7M172.7,331.1h0.7M165.0,330.1h0.7M167.0,330.9h0.7M167.9,328.9h0.7M174.2,335.2h0.7M171.2,332.3h0.7M173.8,330.9h0.7M169.5,325.1h0.7M169.2,332.8h0.7M172.7,327.0h0.7M171.0,329.2h0.7M175.4,341.9h0.7M163.0,333.9h0.7M170.4,330.6h0.7M175.3,335.9h0.7M166.1,330.4h0.7M169.9,334.5h0.7M176.0,338.5h0.7M171.7,332.0h0.7M174.7,335.4h0.7M164.0,329.4h0.7M172.5,334.9h0.7M169.3,331.4h0.7M161.9,324.6h0.7M181.8,329.5h0.7M173.3,331.9h0.7M172.5,324.1h0.7M175.3,331.4h0.7M165.1,329.8h0.7M181.6,333.1h0.7M165.9,331.8h0.7M175.8,333.3h0.7M164.2,329.4h0.7M162.4,333.1h0.7M163.4,336.9h0.7M172.3,332.2h0.7M183.2,327.2h0.7M166.0,329.2h0.7M166.6,331.7h0.7M165.0,331.9h0.7M162.8,330.4h0.7M169.6,332.6h0.7M173.9,337.5h0.7M178.2,334.5h0.7M167.7,327.4h0.7M173.1,331.3h0.7M168.3,332.7h0.7M170.6,336.0h0.7M177.5,329.4h0.7M178.8,328.1h0.7M168.2,325.4h0.7M169.6,326.9h0.7M176.9,325.6h0.7M163.9,334.1h0.7M174.1,332.6h0.7M171.1,328.1h0.7M169.0,332.6h0.7M174.2,334.1h0.7M168.4,328.4h0.7M168.0,330.4h0.7M171.0,336.4h0.7M170.0,330.6h0.7M172.2,332.2h0.7M174.6,333.0h0.7M176.8,334.1h0.7M163.5,331.1h0.7M163.6,338.2h0.7M165.0,335.4h0.7M177.7,338.0h0.7M167.4,328.5h0.7M168.8,334.2h0.7M173.5,332.9h0.7M172.1,332.5h0.7M163.5,328.1h0.7M178.2,328.6h0.7M175.0,333.4h0.7M168.0,332.6h0.7M170.1,330.6h0.7M164.2,332.5h0.7M179.2,332.5h0.7M178.4,331.7h0.7M164.3,337.9h0.7M163.1,332.8h0.7M174.8,335.1h0.7M171.3,334.4h0.7M173.3,334.7h0.7M175.8,331.4h0.7M165.2,330.4h0.7M170.2,337.8h0.7M175.2,334.7h0.7M174.0,332.0h0.7M175.2,332.3h0.7M175.2,334.2h0.7M169.0,330.3h0.7M167.1,338.5h0.7M165.2,323.4h0.7M169.9,330.7h0.7M170.5,337.8h0.7M176.4,335.3h0.7M169.2,337.6h0.7M162.0,329.5h0.7M180.6,332.7h0.7M172.9,330.4h0.7M175.2,328.6h0.7M170.0,329.3h0.7M174.0,333.6h0.7M174.7,330.4h0.7M166.4,337.4h0.7M163.0,329.0h0.7M172.2,327.6h0.7M166.9,332.1h0.7M172.8,334.4h0.7M169.0,327.1h0.7M177.5,330.4h0.7M180.6,335.4h0.7M171.5,338.2h0.7M172.8,330.4h0.7M182.1,331.9h0.7M167.8,329.9h0.7M181.5,330.3h0.7M164.8,333.2h0.7M173.7,329.4h0.7M176.8,327.8h0.7M163.4,327.1h0.7M169.3,332.8h0.7M171.5,328.2h0.7M169.0,333.5h0.7M167.4,330.3h0.7M174.8,328.2h0.7M174.5,329.4h0.7M167.1,331.1h0.7M164.1,333.6h0.7M168.1,335.9h0.7M168.4,329.9h0.7M175.8,333.4h0.7M168.2,328.9h0.7M174.0,326.3h0.7M168.8,334.3h0.7M171.7,335.3h0.7M174.5,328.1h0.7M162.0,331.5h0.7M167.1,332.4h0.7M170.8,333.5h0.7M179.2,329.7h0.7M165.9,330.2h0.7M164.6,330.6h0.7M175.9,330.3h0.7M172.2,331.3h0.7M167.1,324.8h0.7M163.9,334.3h0.7M181.3,334.3h0.7M171.2,331.0h0.7M180.2,334.2h0.7M170.4,328.9h0.7M170.9,331.7h0.7M169.9,334.3h0.7M167.9,334.7h0.7M181.4,331.0h0.7M166.1,326.2h0.7M175.6,329.2h0.7M171.0,329.0h0.7M166.4,332.4h0.7M168.6,328.2h0.7M168.6,334.6h0.7M172.3,337.3h0.7M171.3,332.3h0.7M174.7,333.6h0.7M167.1,329.8h0.7M162.3,330.9h0.7M169.0,333.2h0.7M182.3,329.5h0.7M174.3,330.9h0.7M170.9,330.3h0.7M169.7,328.8h0.7M165.4,336.0h0.7M168.7,327.6h0.7M167.6,333.2h0.7M176.6,325.6h0.7M170.6,328.8h0.7M168.7,333.2h0.7M170.4,333.2h0.7M176.1,335.7h0.7M169.9,326.5h0.7M177.7,332.5h0.7M182.1,336.0h0.7M174.7,336.2h0.7M167.7,331.9h0.7M175.2,332.7h0.7M166.2,335.2h0.7M168.0,336.4h0.7M176.8,331.4h0.7M171.2,324.0h0.7M171.7,334.9h0.7M174.6,328.9h0.7M178.0,328.9h0.7M172.5,327.4h0.7M171.7,334.8h0.7M172.3,331.8h0.7M175.9,330.0h0.7M174.8,328.2h0.7M178.0,332.7h0.7M173.3,331.0h0.7M161.8,330.8h0.7M175.7,331.1h0.7M164.9,334.4h0.7M178.5,332.3h0.7M178.9,335.7h0.7M165.4,334.1h0.7M166.8,330.9h0.7M178.5,329.1h0.7M176.8,331.8h0.7M175.2,330.5h0.7M168.9,332.0h0.7M173.6,331.0h0.7M167.4,330.8h0.7M183.1,327.9h0.7M169.9,329.8h0.7M177.6,332.4h0.7M165.0,333.2h0.7M173.9,330.6h0.7M164.0,334.0h0.7M169.0,331.0h0.7M164.8,330.7h0.7M180.7,330.7h0.7M174.9,328.3h0.7M172.9,340.6h0.7M180.1,329.1h0.7M174.4,333.2h0.7M173.4,332.3h0.7M173.1,327.0h0.7M168.1,333.4h0.7M166.9,333.7h0.7M172.3,333.9h0.7M183.0,331.8h0.7M168.6,331.9h0.7M174.6,329.2h0.7M166.1,338.1h0.7M166.7,331.2h0.7M175.7,328.2h0.7M170.8,332.4h0.7M166.9,334.9h0.7M164.6,324.6h0.7M181.1,328.3h0.7M179.7,339.0h0.7M167.8,335.6h0.7M170.1,332.8h0.7M177.5,337.2h0.7M165.6,329.7h0.7M181.1,334.4h0.7M175.0,329.1h0.7M168.5,336.4h0.7M171.4,327.9h0.7M164.7,332.5h0.7M172.9,336.0h0.7M173.0,334.1h0.7M171.8,328.4h0.7M170.9,331.1h0.7M167.7,328.2h0.7M170.2,334.4h0.7M164.1,331.8h0.7M172.3,329.3h0.7M175.2,333.3h0.7M163.3,327.2h0.7M165.4,325.4h0.7M169.3,326.4h0.7M167.3,335.8h0.7M171.3,335.1h0.7M166.7,330.3h0.7M163.6,333.1h0.7M169.8,331.4h0.7M174.6,338.3h0.7M175.7,331.9h0.7M179.4,331.1h0.7M166.2,333.6h0.7M164.7,328.5h0.7M171.0,330.9h0.7M171.3,340.7h0.7M174.9,331.0h0.7M176.5,334.8h0.7M170.1,337.7h0.7M177.8,327.7h0.7M176.2,331.3h0.7M174.0,333.0h0.7M181.4,326.8h0.7M168.6,331.2h0.7M162.7,330.8h0.7M167.1,333.3h0.7M177.0,333.2h0.7M167.1,333.0h0.7M167.8,336.2h0.7M179.1,331.9h0.7M172.2,327.1h0.7M166.0,334.3h0.7M161.9,329.1h0.7M167.4,334.3h0.7M168.6,330.2h0.7M171.7,327.1h0.7M166.4,328.4h0.7M170.2,336.6h0.7M173.3,337.5h0.7M173.7,326.7h0.7M162.4,328.6h0.7M161.8,330.2h0.7M166.8,326.8h0.7M178.9,328.8h0.7M164.9,327.1h0.7M163.7,334.1h0.7M170.6,334.6h0.7M169.6,326.6h0.7M174.9,333.0h0.7M165.5,330.3h0.7M178.1,328.3h0.7M171.7,331.6h0.7M171.8,334.8h0.7M168.4,336.0h0.7M166.3,333.5h0.7M173.4,330.2h0.7M173.8,336.5h0.7M177.4,329.8h0.7M171.0,326.5h0.7M169.9,333.7h0.7M165.1,332.0h0.7M172.5,328.2h0.7M166.7,334.4h0.7M170.7,335.9h0.7M173.4,330.9h0.7M166.5,331.4h0.7M174.9,334.4h0.7M164.0,331.3h0.7M176.7,331.8h0.7M172.2,334.7h0.7M176.2,334.3h0.7M168.8,329.5h0.7M181.2,327.8h0.7M173.9,330.7h0.7M165.4,325.2h0.7M174.2,333.1h0.7M174.6,329.9h0.7M167.8,329.5h0.7M172.2,328.4h0.7M164.0,337.7h0.7M174.2,334.5h0.7M168.8,332.5h0.7M165.6,338.8h0.7M164.6,330.5h0.7M174.2,337.8h0.7M173.1,318.9h0.7M173.9,326.3h0.7M164.1,329.7h0.7M165.6,329.2h0.7M171.2,325.0h0.7M181.0,336.0h0.7M166.7,331.0h0.7M165.5,327.1h0.7M178.7,332.3h0.7M172.6,335.3h0.7M171.8,331.6h0.7M166.2,337.4h0.7M167.1,335.7h0.7M179.3,333.1h0.7M180.5,337.8h0.7M174.3,328.7h0.7M178.7,335.5h0.7M174.0,330.3h0.7M173.2,323.5h0.7M178.7,340.5h0.7M174.4,328.4h0.7M180.4,333.6h0.7M163.2,324.9h0.7M174.8,328.7h0.7M171.5,333.7h0.7M170.8,337.3h0.7M167.8,335.1h0.7M182.6,337.2h0.7M173.3,337.6h0.7M168.3,336.5h0.7M166.1,330.8h0.7M168.2,333.4h0.7M176.3,337.8h0.7M179.2,323.1h0.7M178.3,334.8h0.7M175.3,329.1h0.7M167.2,331.1h0.7M166.1,339.0h0.7M173.3,328.8h0.7M169.5,332.2h0.7M168.0,330.5h0.7M177.8,334.7h0.7M164.3,327.0h0.7M173.0,334.9h0.7M168.3,333.5h0.7M178.1,333.5h0.7M174.4,329.7h0.7M165.1,331.9h0.7M171.2,338.4h0.7M168.8,328.9h0.7M164.8,322.7h0.7M173.1,340.3h0.7M170.0,328.7h0.7M163.5,334.1h0.7M168.8,327.3h0.7M171.2,329.7h0.7M178.4,324.9h0.7M163.7,328.3h0.7M172.4,331.6h0.7M170.7,332.6h0.7M171.1,336.9h0.7M162.1,331.9h0.7" stroke="#000" stroke-width="0.7" stroke-opacity="0.7" fill="none"/>
<path d="M172.0,342.2h0.7M173.4,347.9h0.7M173.7,340.7h0.7M173.1,348.0h0.7M172.6,342.3h0.7M174.7,341.0h0.7M168.2,344.5h0.7M174.6,346.3h0.7M181.5,340.1h0.7M173.1,344.0h0.7M172.9,340.1h0.7M173.1,340.3h0.7M171.2,342.1h0.7M177.1,344.5h0.7M166.4,341.1h0.7M174.5,346.8h0.7M171.4,340.6h0.7M175.4,340.9h0.7M170.4,341.0h0.7M179.1,354.8h0.7M178.9,346.0h0.7M169.9,343.7h0.7M175.6,347.8h0.7M171.8,345.7h0.7M177.4,347.8h0.7M173.3,340.2h0.7M177.2,340.8h0.7M177.3,343.4h0.7M174.2,344.7h0.7M184.6,340.3h0.7M175.4,346.5h0.7M177.6,347.3h0.7M168.7,340.1h0.7M174.4,340.7h0.7M172.3,349.8h0.7M170.5,345.8h0.7M177.9,346.0h0.7M173.2,347.2h0.7M170.0,341.4h0.7M176.0,339.6h0.7M174.0,346.7h0.7M172.9,342.9h0.7M174.1,346.9h0.7M173.9,340.9h0.7M173.4,341.2h0.7M179.1,340.6h0.7M169.5,356.6h0.7M176.2,347.4h0.7M177.9,353.2h0.7M174.1,342.7h0.7M176.9,347.8h0.7M174.5,345.8h0.7M178.4,341.6h0.7M172.9,345.9h0.7" stroke="#000" stroke-width="0.7" stroke-opacity="0.38" fill="none"/>
<path d="M165.9,352.6h0.7M164.5,350.2h0.7M163.2,353.6h0.7M167.1,347.6h0.7M174.8,346.9h0.7M176.9,334.4h0.7M170.4,344.4h0.7M175.8,338.7h0.7M168.7,345.4h0.7M163.6,342.7h0.7M169.6,347.2h0.7M168.2,327.7h0.7M175.5,335.9h0.7M163.1,327.4h0.7" stroke="#000" stroke-width="0.7" stroke-opacity="0.35" fill="none"/>
<path d="M202.3,326.6h0.7M193.0,329.1h0.7M194.1,329.1h0.7M191.5,331.0h0.7M193.1,329.3h0.7M194.6,328.8h0.7M195.5,328.7h0.7M182.5,327.6h0.7M200.6,328.2h0.7M193.5,329.3h0.7M199.6,329.1h0.7M187.3,327.7h0.7M188.8,328.0h0.7M190.1,327.6h0.7M189.5,327.8h0.7M190.0,331.8h0.7M198.4,324.4h0.7M198.4,326.3h0.7M196.5,330.5h0.7M203.1,328.1h0.7M193.2,328.8h0.7M197.2,326.5h0.7M186.6,333.5h0.7M195.9,331.7h0.7M190.5,324.7h0.7M197.7,329.7h0.7M185.3,330.8h0.7M198.7,327.8h0.7M202.8,328.0h0.7M192.8,331.2h0.7M194.7,325.4h0.7M191.6,327.9h0.7M186.2,327.2h0.7M182.5,329.7h0.7M197.4,324.4h0.7M193.6,329.5h0.7M188.3,327.6h0.7M198.9,330.1h0.7M193.5,327.1h0.7M195.3,327.1h0.7M183.9,330.5h0.7M194.7,329.2h0.7M197.1,326.9h0.7M197.7,328.0h0.7M191.8,327.8h0.7M195.0,328.9h0.7M184.6,329.0h0.7M186.5,329.4h0.7M193.6,327.7h0.7M188.8,328.3h0.7M188.2,327.2h0.7M193.6,331.5h0.7M193.6,326.4h0.7M197.4,331.0h0.7M195.4,327.3h0.7M198.5,330.1h0.7M187.9,330.5h0.7M192.9,330.0h0.7M193.3,329.4h0.7M199.5,333.2h0.7M195.5,327.9h0.7M199.4,327.6h0.7M188.9,329.5h0.7M196.6,327.7h0.7M187.0,328.7h0.7M196.8,330.3h0.7M193.3,328.0h0.7M201.2,328.1h0.7M193.8,326.0h0.7M199.5,328.0h0.7M199.4,328.9h0.7M196.6,332.0h0.7M192.1,331.3h0.7M192.0,329.7h0.7M199.3,328.8h0.7M197.2,326.5h0.7M189.9,327.9h0.7M198.9,329.1h0.7M188.0,328.9h0.7M198.6,327.2h0.7" stroke="#000" stroke-width="0.7" stroke-opacity="0.5" fill="none"/>
</g>
<rect x="161.75" y="314.2" width="42.6" height="42.80000000000001" fill="none" stroke="#000" stroke-width="1.35"/>
<path d="M181.45,314.2V357.0M161.75,339.0H204.35" stroke="#000" stroke-width="1.2" fill="none"/>
<path d="M160.45,316.9h1.3M164.4,357.0v1.3M160.45,319.6h1.3M167.1,357.0v1.3M160.45,322.2h1.3M169.7,357.0v1.3M160.45,324.9h1.3M172.4,357.0v1.3M160.45,327.6h1.3M175.1,357.0v1.3M160.45,330.2h1.3M177.7,357.0v1.3M160.45,332.9h1.3M180.4,357.0v1.3M160.45,335.6h1.3M183.1,357.0v1.3M160.45,338.3h1.3M185.7,357.0v1.3M160.45,340.9h1.3M188.4,357.0v1.3M160.45,343.6h1.3M191.0,357.0v1.3M160.45,346.3h1.3M193.7,357.0v1.3M160.45,349.0h1.3M196.4,357.0v1.3M160.45,351.6h1.3M199.0,357.0v1.3M160.45,354.3h1.3M201.7,357.0v1.3" stroke="#000" stroke-width="0.6" stroke-opacity="0.6"/>
<text x="202.75" y="320.50" font-size="7" text-anchor="end" font-weight="normal" fill="#111" >1.63</text>
<clipPath id="c22"><rect x="207.1" y="314.2" width="42.6" height="42.80000000000001"/></clipPath><g clip-path="url(#c22)">
<rect x="205.1" y="325.8" width="18.5" height="11.2" rx="3.5" fill="#000" filter="url(#bl)"/>
<ellipse cx="218.7" cy="331.8" rx="7.5" ry="5.2" fill="#000" fill-opacity="1" filter="url(#bl)"/>
<path d="M221.1,331.1h0.7M216.4,329.9h0.7M214.6,325.8h0.7M216.2,338.7h0.7M224.3,331.7h0.7M210.2,336.2h0.7M221.6,321.2h0.7M225.0,327.1h0.7M217.8,330.8h0.7M219.2,329.7h0.7M218.6,329.2h0.7M216.0,330.7h0.7M211.6,337.3h0.7M219.7,324.1h0.7M226.3,335.3h0.7M222.2,333.7h0.7M212.0,329.7h0.7M219.2,340.7h0.7M217.8,326.5h0.7M223.1,339.3h0.7M216.6,325.2h0.7M217.0,330.9h0.7M220.5,328.3h0.7M217.8,330.7h0.7M219.6,332.5h0.7M216.4,333.2h0.7M219.6,334.4h0.7M208.2,330.5h0.7M215.3,328.4h0.7M207.9,328.6h0.7M223.2,331.8h0.7M225.2,327.2h0.7M214.5,334.2h0.7M217.7,330.9h0.7M223.7,330.5h0.7M221.9,327.3h0.7M216.4,329.8h0.7M220.7,327.4h0.7M212.3,331.5h0.7M207.3,334.2h0.7M220.3,328.3h0.7M208.6,336.5h0.7M210.5,327.9h0.7M211.2,331.3h0.7M224.4,329.7h0.7M220.4,333.4h0.7M215.1,330.5h0.7M216.0,333.1h0.7M211.8,333.3h0.7M212.5,326.5h0.7M215.4,325.5h0.7M208.4,331.4h0.7M209.0,329.1h0.7M220.2,325.5h0.7M219.5,334.7h0.7M217.2,331.3h0.7M213.3,332.8h0.7M210.6,333.7h0.7M213.1,332.8h0.7M223.4,333.1h0.7M210.3,339.0h0.7M222.9,328.2h0.7M210.5,335.5h0.7M221.1,335.6h0.7M212.4,333.1h0.7M221.1,334.9h0.7M212.6,334.3h0.7M218.8,329.9h0.7M214.5,327.8h0.7M216.6,330.4h0.7M211.8,333.3h0.7M222.7,333.7h0.7M223.5,326.4h0.7M223.8,333.5h0.7M223.3,331.5h0.7M219.6,334.8h0.7M222.3,327.0h0.7M215.1,331.2h0.7M213.9,339.9h0.7M213.4,331.7h0.7M220.0,332.2h0.7M213.7,329.9h0.7M212.0,333.6h0.7M215.5,330.0h0.7M216.4,335.6h0.7M223.4,332.3h0.7M212.6,333.8h0.7M216.0,331.0h0.7M220.8,331.7h0.7M224.7,338.1h0.7M217.0,335.3h0.7M213.5,331.4h0.7M219.4,336.2h0.7M212.7,330.5h0.7M221.7,327.1h0.7M217.7,329.1h0.7M216.2,329.7h0.7M224.9,337.6h0.7M221.6,334.9h0.7M219.7,333.4h0.7M213.3,329.4h0.7M215.7,335.5h0.7M221.8,334.7h0.7M212.4,334.5h0.7M213.4,328.7h0.7M225.4,331.1h0.7M222.4,336.4h0.7M226.7,330.9h0.7M222.4,333.8h0.7M210.9,327.7h0.7M212.3,332.7h0.7M209.5,333.7h0.7M213.2,332.3h0.7M216.2,333.5h0.7M209.2,333.3h0.7M213.6,336.9h0.7M222.0,329.4h0.7M218.8,334.5h0.7M209.2,333.0h0.7M224.2,330.9h0.7M215.0,327.1h0.7M215.0,334.7h0.7M228.6,328.6h0.7M221.9,330.3h0.7M222.3,335.2h0.7M215.4,329.2h0.7M217.2,329.4h0.7M219.1,339.8h0.7M212.6,335.5h0.7M224.7,335.9h0.7M210.4,334.4h0.7M214.4,337.0h0.7M210.5,330.2h0.7M209.8,330.4h0.7M217.5,331.0h0.7M214.4,337.3h0.7M208.9,333.7h0.7M216.1,330.7h0.7M217.2,331.3h0.7M213.2,333.6h0.7M218.9,335.5h0.7M227.0,336.6h0.7M211.5,330.6h0.7M209.8,332.5h0.7M220.1,333.1h0.7M217.5,330.9h0.7M224.0,335.9h0.7M219.7,328.8h0.7M216.2,334.9h0.7M219.2,335.2h0.7M207.9,331.1h0.7M211.0,334.7h0.7M225.7,335.1h0.7M219.8,330.3h0.7M219.4,334.6h0.7M217.9,328.1h0.7M212.9,333.8h0.7M207.9,334.2h0.7M215.2,330.7h0.7M221.7,333.6h0.7M220.2,328.3h0.7M216.2,330.2h0.7M226.7,330.7h0.7M213.9,325.3h0.7M208.0,328.5h0.7M227.0,325.8h0.7M215.7,332.4h0.7M211.1,328.6h0.7M212.4,333.6h0.7M221.5,334.8h0.7M214.6,335.4h0.7M223.2,327.1h0.7M217.7,334.8h0.7M221.7,327.5h0.7M218.8,327.4h0.7M217.5,333.5h0.7M216.0,334.9h0.7M218.1,332.5h0.7M217.3,331.7h0.7M216.3,332.6h0.7M222.2,333.2h0.7M216.1,328.5h0.7M221.2,332.8h0.7M221.7,330.3h0.7M219.1,337.0h0.7M217.2,333.4h0.7M212.3,335.5h0.7M218.2,334.0h0.7M219.6,332.3h0.7M207.9,337.2h0.7M208.4,330.3h0.7M224.7,328.8h0.7M210.3,334.8h0.7M221.3,336.4h0.7M210.6,337.3h0.7M211.5,335.0h0.7M218.8,334.9h0.7M207.9,328.0h0.7M216.6,329.2h0.7M220.0,329.4h0.7M221.8,330.1h0.7M214.2,334.2h0.7M224.0,328.2h0.7M212.9,328.6h0.7M215.4,334.7h0.7M216.1,328.9h0.7M215.1,329.4h0.7M213.0,330.8h0.7M217.1,329.7h0.7M222.0,327.3h0.7M209.0,334.7h0.7M217.9,332.0h0.7M223.2,338.5h0.7M208.2,330.5h0.7M216.2,335.5h0.7M223.8,331.4h0.7M224.2,332.3h0.7M223.7,326.1h0.7M224.1,325.9h0.7M214.7,331.6h0.7M223.7,328.8h0.7M215.2,331.2h0.7M216.9,333.6h0.7M220.8,329.8h0.7M208.7,331.4h0.7M213.5,333.4h0.7M219.1,328.1h0.7M213.8,336.6h0.7M207.3,328.5h0.7M212.7,322.1h0.7M222.6,334.9h0.7M220.9,332.2h0.7M222.7,337.0h0.7M211.6,335.3h0.7M228.1,332.2h0.7M217.1,330.2h0.7M208.6,332.7h0.7M216.9,328.2h0.7M207.7,328.4h0.7M225.0,329.0h0.7M221.0,329.7h0.7M207.3,330.7h0.7M213.4,329.5h0.7M207.3,329.6h0.7M213.6,341.2h0.7M215.7,331.5h0.7M225.4,331.9h0.7M209.1,331.0h0.7M221.9,335.3h0.7M225.6,318.6h0.7M213.4,334.1h0.7M209.8,332.8h0.7M217.7,330.0h0.7M216.3,330.1h0.7M212.8,336.2h0.7M211.9,338.4h0.7M220.0,330.8h0.7M212.2,328.1h0.7M222.9,334.6h0.7M212.2,334.8h0.7M213.6,332.4h0.7M214.0,330.2h0.7M226.2,327.9h0.7M225.9,329.6h0.7M223.2,330.5h0.7M214.0,334.6h0.7M219.1,327.3h0.7M219.9,339.9h0.7M212.6,335.6h0.7M223.3,332.8h0.7M217.8,337.8h0.7M224.1,330.7h0.7M208.8,327.5h0.7M212.1,334.9h0.7M220.6,332.6h0.7M215.3,331.5h0.7M213.8,329.7h0.7M215.4,332.9h0.7M217.2,323.4h0.7M223.7,334.1h0.7M221.6,330.6h0.7M221.8,332.5h0.7M222.4,333.7h0.7M215.8,334.8h0.7M218.6,321.6h0.7M210.1,337.4h0.7M219.7,334.0h0.7M207.9,332.9h0.7M215.8,327.4h0.7M209.4,335.7h0.7M219.6,334.0h0.7M207.6,327.1h0.7M224.1,334.0h0.7M213.9,331.8h0.7M227.9,331.9h0.7M209.5,341.4h0.7M215.2,329.0h0.7M212.7,332.3h0.7M216.7,328.9h0.7M220.4,333.9h0.7M218.5,335.6h0.7M208.4,330.8h0.7M218.5,338.7h0.7M210.6,332.2h0.7M211.6,331.6h0.7M216.1,330.8h0.7M219.8,336.1h0.7M222.7,328.9h0.7M218.1,332.8h0.7M207.4,328.3h0.7M222.5,336.9h0.7M220.6,331.8h0.7M214.6,331.1h0.7M218.2,333.7h0.7M208.4,331.9h0.7M226.0,338.3h0.7M210.9,331.2h0.7M217.1,329.9h0.7M219.8,331.0h0.7M210.8,333.4h0.7M212.0,338.1h0.7M207.2,330.9h0.7M215.8,333.5h0.7M223.8,334.4h0.7M219.2,331.3h0.7M219.8,325.4h0.7M215.9,331.6h0.7M219.5,330.5h0.7M227.6,330.3h0.7M221.4,335.1h0.7M209.9,326.2h0.7M223.9,333.3h0.7M219.5,328.8h0.7M211.3,329.2h0.7M212.6,331.4h0.7M211.6,334.2h0.7M219.2,328.7h0.7M221.2,335.5h0.7M222.2,324.1h0.7M217.7,333.5h0.7M208.2,331.0h0.7M213.9,339.5h0.7M207.3,333.1h0.7M215.0,332.5h0.7M221.6,333.0h0.7M220.5,335.6h0.7M221.0,334.0h0.7M212.1,335.4h0.7M210.6,331.7h0.7M224.9,331.6h0.7M215.8,334.5h0.7M215.8,325.7h0.7M215.0,330.0h0.7M216.6,338.8h0.7M215.4,328.7h0.7M216.4,334.8h0.7M216.4,337.6h0.7M214.9,334.9h0.7M223.5,335.3h0.7M220.0,332.6h0.7M215.8,322.6h0.7M216.1,334.9h0.7M220.2,333.9h0.7M214.4,326.7h0.7M213.8,336.9h0.7M215.0,332.2h0.7M220.7,326.6h0.7M216.8,332.6h0.7M211.4,332.4h0.7M218.7,331.9h0.7M214.6,335.6h0.7M216.7,335.2h0.7M222.0,333.2h0.7M218.3,333.9h0.7M226.8,330.4h0.7M212.0,336.0h0.7M214.7,331.2h0.7M227.5,331.8h0.7M217.4,331.9h0.7M212.9,338.5h0.7M215.5,327.2h0.7M211.9,330.2h0.7M212.8,330.7h0.7M221.1,327.9h0.7M212.1,331.8h0.7M213.9,326.9h0.7M209.5,338.9h0.7M223.3,331.1h0.7M216.3,335.3h0.7M215.1,336.3h0.7M217.3,328.9h0.7M216.5,331.0h0.7M210.4,328.2h0.7M217.1,332.6h0.7M208.4,326.5h0.7M224.6,321.6h0.7M223.5,332.9h0.7M218.2,329.4h0.7M218.0,331.1h0.7M213.0,335.0h0.7M210.2,330.1h0.7M219.2,328.6h0.7M226.2,333.9h0.7M211.5,332.7h0.7M218.3,327.3h0.7M221.6,336.9h0.7M218.6,334.1h0.7M217.2,326.2h0.7M220.0,333.6h0.7M224.8,333.8h0.7M216.8,331.3h0.7M218.6,333.4h0.7M208.5,333.7h0.7M210.0,331.0h0.7M215.7,334.6h0.7M214.0,327.5h0.7M219.4,332.3h0.7M212.8,329.6h0.7M222.5,327.5h0.7M210.9,334.1h0.7M208.4,331.7h0.7M227.1,332.9h0.7M219.9,333.9h0.7M211.2,332.3h0.7M217.7,331.6h0.7M214.7,329.6h0.7M222.0,333.7h0.7M222.3,331.7h0.7M213.8,329.5h0.7M224.5,328.5h0.7M210.7,331.1h0.7M222.0,335.5h0.7M213.3,330.9h0.7M223.1,335.2h0.7M221.6,336.5h0.7M212.9,338.5h0.7M216.5,332.1h0.7M217.8,331.0h0.7M223.8,342.4h0.7M216.5,331.4h0.7M216.7,327.8h0.7M216.7,334.3h0.7M220.2,331.2h0.7M217.3,337.6h0.7M213.7,330.8h0.7M224.9,325.6h0.7M217.7,332.3h0.7M207.4,327.2h0.7M212.5,339.1h0.7M218.1,329.5h0.7M216.5,328.3h0.7M224.0,332.3h0.7M211.9,324.0h0.7M228.7,335.0h0.7M218.6,337.2h0.7M213.3,328.0h0.7M215.4,337.1h0.7M220.7,331.1h0.7M218.3,333.3h0.7M215.7,326.5h0.7M218.1,328.4h0.7M214.5,331.6h0.7M211.5,330.7h0.7M209.9,338.5h0.7M213.6,333.1h0.7M218.2,333.1h0.7M219.3,334.2h0.7M217.2,327.8h0.7M222.4,336.2h0.7M210.8,340.0h0.7M212.7,333.8h0.7M212.4,336.3h0.7M218.5,325.2h0.7M218.6,330.7h0.7M225.5,331.3h0.7M209.1,332.8h0.7M224.3,338.3h0.7M215.1,327.8h0.7M211.6,335.5h0.7M220.9,331.1h0.7M220.6,334.3h0.7M214.1,334.0h0.7M228.0,324.8h0.7M213.4,335.3h0.7M228.3,325.5h0.7M222.6,329.3h0.7M212.5,330.8h0.7M218.6,330.5h0.7M215.4,334.0h0.7M213.5,330.3h0.7M221.8,323.9h0.7M218.2,334.7h0.7M219.0,327.7h0.7M214.2,334.9h0.7M210.6,329.2h0.7M208.1,329.2h0.7M221.1,332.2h0.7M219.2,336.9h0.7M213.9,336.8h0.7M224.4,328.7h0.7M219.7,332.5h0.7M211.1,329.3h0.7M212.9,336.0h0.7M223.5,329.2h0.7M212.4,335.9h0.7M213.1,334.0h0.7M215.9,336.6h0.7M219.9,328.8h0.7M217.1,330.4h0.7M214.6,333.3h0.7M216.8,334.3h0.7M219.9,332.9h0.7M208.1,334.2h0.7M223.5,340.7h0.7M214.6,335.3h0.7M223.6,337.8h0.7M222.6,329.6h0.7M224.1,335.1h0.7M212.7,331.3h0.7M218.2,329.3h0.7M208.0,331.2h0.7M213.8,330.3h0.7M220.5,332.7h0.7M218.7,332.8h0.7M228.6,335.0h0.7M209.8,330.4h0.7M221.3,333.4h0.7M214.2,338.1h0.7M226.3,330.5h0.7M219.0,328.8h0.7M227.5,334.8h0.7M209.5,328.1h0.7M215.0,327.2h0.7M228.5,330.5h0.7M218.1,328.9h0.7M213.1,328.4h0.7M210.1,333.8h0.7M214.3,335.8h0.7M222.9,331.4h0.7M219.1,337.1h0.7M212.9,330.7h0.7M220.1,330.6h0.7M217.9,329.2h0.7M222.5,329.8h0.7M226.4,329.4h0.7M217.0,330.0h0.7M215.3,329.4h0.7M220.1,329.5h0.7M214.0,335.0h0.7M221.0,333.9h0.7M225.0,329.3h0.7M216.1,335.5h0.7M211.9,333.4h0.7M220.7,330.8h0.7M223.5,331.7h0.7M213.0,331.7h0.7M217.3,334.3h0.7M211.6,329.0h0.7M218.6,331.7h0.7M216.4,332.2h0.7M223.3,329.2h0.7M223.6,333.8h0.7M221.3,334.0h0.7M214.3,332.0h0.7M216.2,340.9h0.7M213.0,341.9h0.7M215.1,332.7h0.7M212.5,332.7h0.7M212.7,335.6h0.7M207.8,329.4h0.7M226.4,336.2h0.7M212.0,330.8h0.7M212.0,327.3h0.7M222.0,328.0h0.7M212.0,332.2h0.7M217.0,325.3h0.7M217.6,333.7h0.7M216.0,334.6h0.7M215.5,335.4h0.7M215.2,333.2h0.7M208.4,331.0h0.7M214.4,336.9h0.7M226.4,336.3h0.7M219.2,336.5h0.7M213.4,326.9h0.7M211.7,332.5h0.7M211.1,334.1h0.7" stroke="#000" stroke-width="0.7" stroke-opacity="0.7" fill="none"/>
<path d="M222.1,342.6h0.7M218.3,344.1h0.7M223.3,344.9h0.7M224.4,347.6h0.7M218.4,340.7h0.7M217.6,350.6h0.7M215.7,340.0h0.7M220.5,343.9h0.7M221.4,343.5h0.7M220.2,342.8h0.7M216.3,344.7h0.7M216.9,355.8h0.7M226.6,346.6h0.7M218.6,350.0h0.7M219.0,342.3h0.7M221.0,341.1h0.7M220.0,344.8h0.7M221.7,339.9h0.7M216.6,346.0h0.7M221.3,348.8h0.7M220.9,349.2h0.7M218.0,348.4h0.7M218.9,348.2h0.7M218.5,345.4h0.7M220.6,348.2h0.7M221.0,348.5h0.7M216.8,350.4h0.7M229.0,341.3h0.7M219.2,345.2h0.7M219.7,347.3h0.7M223.0,345.4h0.7M215.2,348.2h0.7M218.6,346.6h0.7M223.2,343.8h0.7M217.8,341.8h0.7M219.9,343.1h0.7M218.4,343.7h0.7M218.7,343.8h0.7M219.7,354.0h0.7M216.4,343.6h0.7M219.9,343.8h0.7M219.4,351.9h0.7M217.0,342.0h0.7M221.5,342.6h0.7M217.9,342.3h0.7M221.6,353.6h0.7M221.8,340.9h0.7M221.2,339.3h0.7M220.9,341.7h0.7M218.0,347.7h0.7M217.9,345.8h0.7M220.5,341.6h0.7M214.9,348.6h0.7" stroke="#000" stroke-width="0.7" stroke-opacity="0.38" fill="none"/>
<path d="M222.6,355.2h0.7M215.6,337.6h0.7M224.4,339.1h0.7M220.3,349.3h0.7M211.2,343.5h0.7M223.0,356.4h0.7M212.0,336.5h0.7M216.2,331.1h0.7M207.1,346.5h0.7M221.7,338.9h0.7M209.8,338.5h0.7M209.5,345.4h0.7M208.4,334.5h0.7M208.2,341.6h0.7" stroke="#000" stroke-width="0.7" stroke-opacity="0.35" fill="none"/>
<path d="M247.0,330.7h0.7M242.1,329.3h0.7M241.8,329.3h0.7M229.6,328.8h0.7M229.9,328.9h0.7M246.2,326.8h0.7M228.9,330.3h0.7M243.1,325.4h0.7M229.8,328.2h0.7M235.8,328.8h0.7M236.9,329.0h0.7M238.8,325.5h0.7M237.2,328.8h0.7M237.7,329.6h0.7M232.6,330.9h0.7M236.8,327.5h0.7M232.5,327.2h0.7M243.5,330.9h0.7M246.3,331.1h0.7M232.0,330.2h0.7M228.6,331.6h0.7M238.5,325.2h0.7M231.7,329.3h0.7M243.5,330.5h0.7M236.6,329.9h0.7M235.6,327.1h0.7M242.5,328.7h0.7M241.8,330.6h0.7M234.1,329.0h0.7M241.5,330.2h0.7M246.6,325.2h0.7M247.1,327.8h0.7M242.6,328.3h0.7M246.2,330.0h0.7M230.3,328.1h0.7M238.1,329.7h0.7M231.6,330.5h0.7M245.4,331.9h0.7M240.1,327.8h0.7M246.2,330.0h0.7M235.7,327.8h0.7M234.0,330.3h0.7M234.5,332.4h0.7M236.3,330.5h0.7M228.6,327.2h0.7M240.7,330.5h0.7M232.9,330.4h0.7M244.1,326.4h0.7M243.6,327.5h0.7M246.7,325.5h0.7M231.0,330.7h0.7M247.7,330.7h0.7M235.9,330.2h0.7M229.9,330.6h0.7M230.9,330.6h0.7M238.8,332.1h0.7M246.2,328.1h0.7M237.3,329.0h0.7M239.6,329.2h0.7M236.3,328.1h0.7M233.7,327.4h0.7M241.1,330.4h0.7M243.9,327.2h0.7M228.3,325.3h0.7M228.3,329.1h0.7M244.0,327.6h0.7M241.1,328.9h0.7M248.2,327.4h0.7M238.9,329.4h0.7M229.1,332.1h0.7M237.8,328.3h0.7M229.3,329.2h0.7M230.6,329.2h0.7M237.9,328.1h0.7M242.0,330.7h0.7M228.7,331.9h0.7M239.3,327.6h0.7M228.6,331.2h0.7M232.9,328.5h0.7M242.4,327.1h0.7M229.9,329.4h0.7M246.1,330.2h0.7M242.0,323.6h0.7M236.8,329.5h0.7M237.3,328.4h0.7" stroke="#000" stroke-width="0.7" stroke-opacity="0.5" fill="none"/>
</g>
<rect x="207.1" y="314.2" width="42.6" height="42.80000000000001" fill="none" stroke="#000" stroke-width="1.35"/>
<path d="M226.79999999999998,314.2V357.0M207.1,339.0H249.7" stroke="#000" stroke-width="1.2" fill="none"/>
<path d="M205.79999999999998,316.9h1.3M209.8,357.0v1.3M205.79999999999998,319.6h1.3M212.4,357.0v1.3M205.79999999999998,322.2h1.3M215.1,357.0v1.3M205.79999999999998,324.9h1.3M217.8,357.0v1.3M205.79999999999998,327.6h1.3M220.4,357.0v1.3M205.79999999999998,330.2h1.3M223.1,357.0v1.3M205.79999999999998,332.9h1.3M225.7,357.0v1.3M205.79999999999998,335.6h1.3M228.4,357.0v1.3M205.79999999999998,338.3h1.3M231.1,357.0v1.3M205.79999999999998,340.9h1.3M233.7,357.0v1.3M205.79999999999998,343.6h1.3M236.4,357.0v1.3M205.79999999999998,346.3h1.3M239.1,357.0v1.3M205.79999999999998,349.0h1.3M241.7,357.0v1.3M205.79999999999998,351.6h1.3M244.4,357.0v1.3M205.79999999999998,354.3h1.3M247.0,357.0v1.3" stroke="#000" stroke-width="0.6" stroke-opacity="0.6"/>
<text x="248.10" y="320.50" font-size="7" text-anchor="end" font-weight="normal" fill="#111" >1.72</text>
<clipPath id="c23"><rect x="252.2" y="314.2" width="42.6" height="42.80000000000001"/></clipPath><g clip-path="url(#c23)">
<rect x="250.2" y="325.8" width="18.5" height="11.2" rx="3.5" fill="#000" filter="url(#bl)"/>
<ellipse cx="263.8" cy="331.8" rx="7.5" ry="5.2" fill="#000" fill-opacity="1" filter="url(#bl)"/>
<path d="M266.5,328.5h0.7M264.5,326.0h0.7M257.0,340.3h0.7M271.8,333.0h0.7M264.4,331.9h0.7M265.3,332.3h0.7M255.3,330.4h0.7M260.1,332.9h0.7M258.5,331.3h0.7M258.8,333.5h0.7M267.4,333.0h0.7M262.0,335.0h0.7M255.0,337.0h0.7M258.1,332.9h0.7M255.3,329.5h0.7M267.6,333.6h0.7M260.0,334.4h0.7M255.9,331.6h0.7M255.9,338.7h0.7M271.1,325.8h0.7M265.5,330.6h0.7M270.7,332.8h0.7M256.4,330.2h0.7M261.6,337.4h0.7M261.9,329.9h0.7M258.7,334.5h0.7M259.3,337.6h0.7M267.0,332.2h0.7M261.9,330.5h0.7M271.0,331.0h0.7M263.1,327.0h0.7M260.0,332.3h0.7M260.8,331.8h0.7M267.7,334.1h0.7M266.3,329.7h0.7M258.0,331.7h0.7M263.4,331.7h0.7M261.8,335.7h0.7M259.8,327.2h0.7M265.6,336.5h0.7M267.5,331.8h0.7M258.4,335.0h0.7M257.1,331.4h0.7M253.1,332.3h0.7M269.3,333.2h0.7M252.9,329.9h0.7M256.4,326.6h0.7M266.0,333.4h0.7M260.1,336.7h0.7M265.9,329.7h0.7M261.5,331.2h0.7M261.2,336.2h0.7M269.4,328.4h0.7M259.6,340.0h0.7M265.7,335.7h0.7M262.2,333.4h0.7M257.1,336.7h0.7M260.0,329.9h0.7M264.4,331.8h0.7M272.5,333.8h0.7M263.5,329.0h0.7M264.8,326.8h0.7M256.4,336.4h0.7M263.1,327.7h0.7M257.2,331.2h0.7M263.3,332.4h0.7M266.6,321.5h0.7M266.0,325.3h0.7M258.4,332.1h0.7M268.1,329.6h0.7M252.7,328.9h0.7M263.0,339.9h0.7M253.3,329.9h0.7M256.7,335.6h0.7M265.0,331.2h0.7M263.3,337.1h0.7M259.5,327.9h0.7M261.5,327.5h0.7M262.8,334.7h0.7M259.0,334.9h0.7M269.1,338.0h0.7M259.0,333.7h0.7M266.6,334.5h0.7M267.5,333.4h0.7M265.8,334.9h0.7M264.5,333.7h0.7M263.2,331.5h0.7M261.6,329.9h0.7M258.5,336.0h0.7M259.7,324.0h0.7M258.0,331.3h0.7M269.3,332.8h0.7M264.7,329.9h0.7M257.7,326.3h0.7M265.4,331.8h0.7M256.8,332.0h0.7M268.5,334.9h0.7M266.5,335.7h0.7M262.9,331.8h0.7M261.4,333.4h0.7M261.6,328.8h0.7M257.8,335.7h0.7M258.9,331.4h0.7M270.9,328.5h0.7M261.1,330.3h0.7M258.0,331.2h0.7M264.9,330.8h0.7M267.4,334.3h0.7M254.5,332.0h0.7M260.2,327.4h0.7M263.3,335.9h0.7M271.4,334.4h0.7M263.7,336.1h0.7M260.5,330.4h0.7M267.6,334.0h0.7M258.1,330.4h0.7M253.3,338.9h0.7M259.0,330.1h0.7M257.5,330.0h0.7M262.2,331.9h0.7M266.4,323.3h0.7M262.2,337.5h0.7M261.7,329.7h0.7M265.8,332.6h0.7M260.4,328.4h0.7M262.4,332.4h0.7M273.0,326.6h0.7M259.2,335.6h0.7M270.8,328.8h0.7M255.7,331.2h0.7M271.6,331.1h0.7M266.3,331.2h0.7M254.5,332.6h0.7M263.9,329.2h0.7M273.7,331.7h0.7M264.1,326.7h0.7M258.1,332.5h0.7M266.1,333.7h0.7M252.4,326.7h0.7M254.2,335.5h0.7M262.1,331.6h0.7M260.9,328.9h0.7M263.5,331.3h0.7M260.1,332.5h0.7M259.8,331.1h0.7M268.5,334.1h0.7M261.8,332.2h0.7M270.0,327.2h0.7M262.7,332.4h0.7M259.1,329.1h0.7M256.0,331.6h0.7M267.2,330.7h0.7M254.1,333.1h0.7M269.0,332.8h0.7M258.4,330.4h0.7M259.2,328.1h0.7M267.1,330.6h0.7M273.5,335.8h0.7M258.2,340.4h0.7M258.2,329.0h0.7M263.7,330.5h0.7M260.5,333.3h0.7M256.3,331.5h0.7M259.6,336.8h0.7M265.5,331.4h0.7M254.7,331.2h0.7M256.2,330.5h0.7M263.5,334.4h0.7M267.7,329.7h0.7M262.4,331.6h0.7M266.6,339.1h0.7M267.7,334.8h0.7M262.8,333.5h0.7M260.3,331.6h0.7M265.8,342.3h0.7M263.0,327.7h0.7M258.8,334.5h0.7M265.7,332.4h0.7M264.7,329.1h0.7M270.8,324.8h0.7M259.1,329.2h0.7M258.4,332.5h0.7M262.0,335.0h0.7M273.3,333.5h0.7M255.4,331.8h0.7M256.4,329.1h0.7M258.7,334.9h0.7M256.3,332.9h0.7M256.5,334.7h0.7M268.6,326.9h0.7M265.9,328.8h0.7M263.4,331.4h0.7M266.6,327.5h0.7M273.3,332.9h0.7M257.2,336.0h0.7M269.9,333.5h0.7M258.1,329.0h0.7M255.7,337.2h0.7M261.7,331.7h0.7M259.0,335.9h0.7M259.0,334.7h0.7M263.4,328.5h0.7M273.4,324.9h0.7M263.7,333.6h0.7M264.1,331.6h0.7M260.6,343.7h0.7M263.0,329.7h0.7M261.2,337.8h0.7M261.2,335.5h0.7M269.9,329.9h0.7M273.4,326.7h0.7M258.1,331.5h0.7M259.7,333.8h0.7M260.6,333.8h0.7M256.2,326.4h0.7M272.8,332.7h0.7M263.8,327.9h0.7M264.2,331.6h0.7M264.4,332.2h0.7M267.9,336.5h0.7M259.1,330.5h0.7M265.9,326.9h0.7M256.8,330.6h0.7M259.6,331.1h0.7M253.9,333.6h0.7M258.4,327.8h0.7M263.4,336.9h0.7M256.8,337.2h0.7M262.8,334.9h0.7M271.7,334.0h0.7M263.4,338.3h0.7M259.9,329.7h0.7M260.3,325.4h0.7M260.1,333.2h0.7M258.9,331.7h0.7M267.9,327.3h0.7M258.5,333.0h0.7M258.6,331.6h0.7M262.6,325.5h0.7M266.0,333.4h0.7M255.2,331.2h0.7M260.7,330.9h0.7M261.6,326.6h0.7M261.7,333.2h0.7M263.7,333.3h0.7M257.7,332.3h0.7M267.4,332.1h0.7M262.7,332.0h0.7M264.6,327.5h0.7M260.9,334.7h0.7M255.6,333.7h0.7M258.4,330.4h0.7M254.3,328.7h0.7M268.7,326.9h0.7M262.2,327.2h0.7M256.3,327.9h0.7M259.6,332.9h0.7M271.8,336.7h0.7M255.1,332.6h0.7M267.1,329.4h0.7M258.3,334.9h0.7M252.6,331.9h0.7M260.8,330.8h0.7M261.4,326.3h0.7M266.5,330.3h0.7M273.6,338.5h0.7M258.4,338.4h0.7M270.2,329.1h0.7M259.7,335.9h0.7M256.7,330.6h0.7M253.9,329.4h0.7M256.7,332.7h0.7M262.9,330.6h0.7M252.7,332.6h0.7M265.2,331.6h0.7M269.9,330.3h0.7M266.6,332.7h0.7M269.6,337.3h0.7M254.0,325.7h0.7M267.8,332.9h0.7M263.5,330.3h0.7M256.6,335.9h0.7M264.3,330.0h0.7M261.6,332.8h0.7M253.1,329.7h0.7M264.5,332.3h0.7M252.6,332.9h0.7M273.8,333.9h0.7M253.0,330.2h0.7M257.4,329.2h0.7M256.1,329.8h0.7M260.7,327.6h0.7M267.1,332.9h0.7M273.5,334.6h0.7M267.3,333.6h0.7M260.6,328.2h0.7M265.5,332.1h0.7M257.2,333.2h0.7M263.4,329.6h0.7M270.4,330.2h0.7M262.1,335.4h0.7M258.0,330.8h0.7M264.2,330.7h0.7M258.2,328.0h0.7M262.7,330.5h0.7M266.5,335.3h0.7M261.2,334.4h0.7M256.9,337.2h0.7M257.8,331.4h0.7M259.0,330.2h0.7M266.3,331.8h0.7M255.8,334.4h0.7M261.6,333.8h0.7M262.6,330.3h0.7M255.8,335.9h0.7M260.0,336.8h0.7M258.2,328.3h0.7M252.9,327.5h0.7M266.9,329.2h0.7M259.3,333.8h0.7M258.8,337.1h0.7M268.8,334.3h0.7M271.8,333.6h0.7M262.5,335.6h0.7M267.9,327.3h0.7M268.3,335.3h0.7M262.3,336.6h0.7M254.0,332.6h0.7M257.0,329.0h0.7M263.0,327.0h0.7M261.2,334.2h0.7M256.7,328.2h0.7M264.8,335.0h0.7M267.0,330.1h0.7M258.8,336.5h0.7M266.8,333.0h0.7M262.8,331.3h0.7M265.2,334.2h0.7M261.6,332.8h0.7M252.7,331.4h0.7M271.3,332.6h0.7M252.8,330.3h0.7M261.9,336.7h0.7M260.4,332.3h0.7M254.4,336.3h0.7M253.9,334.3h0.7M258.5,328.4h0.7M263.4,337.5h0.7M253.8,332.6h0.7M257.0,335.5h0.7M258.9,327.6h0.7M267.4,326.9h0.7M261.7,330.2h0.7M267.5,330.1h0.7M260.1,337.6h0.7M265.4,336.1h0.7M270.2,333.6h0.7M263.3,326.3h0.7M263.1,335.6h0.7M256.5,330.8h0.7M260.2,331.5h0.7M257.0,336.9h0.7M271.0,325.2h0.7M263.6,329.4h0.7M264.1,331.2h0.7M258.9,332.2h0.7M269.0,327.9h0.7M266.7,332.8h0.7M260.0,329.4h0.7M263.4,334.6h0.7M255.5,334.4h0.7M261.5,334.7h0.7M263.0,331.2h0.7M262.6,334.1h0.7M252.3,331.9h0.7M258.3,332.0h0.7M267.5,335.0h0.7M270.2,335.0h0.7M260.0,329.2h0.7M259.1,333.3h0.7M256.2,332.4h0.7M262.6,330.1h0.7M254.9,332.0h0.7M264.0,328.6h0.7M262.2,332.2h0.7M255.8,333.3h0.7M252.8,334.9h0.7M256.9,335.3h0.7M261.9,332.1h0.7M253.0,334.4h0.7M254.4,339.4h0.7M264.0,332.6h0.7M261.5,334.2h0.7M264.2,333.2h0.7M266.8,331.4h0.7M271.4,326.8h0.7M261.2,326.8h0.7M253.8,329.5h0.7M269.2,334.1h0.7M262.2,327.8h0.7M257.5,329.9h0.7M261.6,333.8h0.7M256.9,330.1h0.7M263.0,337.4h0.7M263.9,330.7h0.7M267.2,331.4h0.7M252.8,334.1h0.7M271.5,328.1h0.7M266.1,327.8h0.7M260.8,331.5h0.7M259.1,331.5h0.7M265.6,330.2h0.7M259.9,330.9h0.7M263.0,329.7h0.7M266.2,332.9h0.7M257.6,327.6h0.7M259.7,335.3h0.7M265.3,331.9h0.7M264.6,336.6h0.7M259.8,330.7h0.7M262.7,325.5h0.7M261.5,330.2h0.7M269.8,333.8h0.7M271.1,330.4h0.7M270.6,332.4h0.7M264.6,333.2h0.7M253.4,334.9h0.7M258.5,334.0h0.7M261.0,328.6h0.7M259.4,332.9h0.7M259.5,337.6h0.7M268.9,332.2h0.7M259.1,336.7h0.7M261.6,335.8h0.7M252.8,325.2h0.7M266.1,335.0h0.7M260.3,331.3h0.7M264.2,333.6h0.7M260.9,331.9h0.7M262.8,335.5h0.7M265.8,323.2h0.7M263.6,330.9h0.7M268.1,334.3h0.7M258.1,331.6h0.7M254.5,332.3h0.7M256.9,336.0h0.7M269.4,330.7h0.7M255.8,336.2h0.7M252.9,330.7h0.7M259.0,332.7h0.7M261.7,328.8h0.7M266.8,333.1h0.7M263.4,337.2h0.7M273.1,332.7h0.7M258.8,330.9h0.7M260.6,328.3h0.7M257.0,330.1h0.7M264.6,334.4h0.7M257.5,328.2h0.7M261.2,325.9h0.7M259.9,332.5h0.7M263.8,330.4h0.7M264.0,334.4h0.7M259.2,328.3h0.7M258.1,332.8h0.7M263.1,326.2h0.7M272.6,333.3h0.7M262.5,327.9h0.7M265.2,323.5h0.7M271.4,333.2h0.7M261.0,332.7h0.7M267.0,325.1h0.7M263.1,327.5h0.7M258.8,331.1h0.7M258.7,329.3h0.7M262.4,330.5h0.7M263.0,334.4h0.7M256.0,331.2h0.7M256.0,334.6h0.7M265.9,335.3h0.7M268.0,332.3h0.7M255.1,329.3h0.7M268.9,332.3h0.7M266.3,329.9h0.7M259.9,338.3h0.7M267.5,326.5h0.7M257.0,332.3h0.7M267.9,335.1h0.7M266.7,336.0h0.7M265.7,334.7h0.7M255.9,327.8h0.7M258.1,336.1h0.7M269.8,328.2h0.7M259.6,332.1h0.7M264.9,333.0h0.7M270.6,332.7h0.7M260.0,331.0h0.7M268.1,331.0h0.7M264.6,330.4h0.7M254.0,324.6h0.7M259.5,329.2h0.7M266.4,330.6h0.7M255.5,334.3h0.7M258.7,338.9h0.7M258.5,332.1h0.7M256.5,337.0h0.7M263.1,331.1h0.7M260.7,324.8h0.7M269.2,331.9h0.7M268.6,329.0h0.7M270.4,329.6h0.7M261.5,338.6h0.7M258.2,331.9h0.7M260.3,332.2h0.7M262.3,331.3h0.7M264.1,330.4h0.7M269.6,334.1h0.7M254.2,330.1h0.7M259.3,335.0h0.7M256.0,330.7h0.7M266.2,335.0h0.7M260.6,331.1h0.7M255.2,335.8h0.7M258.3,341.0h0.7M265.6,338.0h0.7M259.4,333.3h0.7M257.5,332.6h0.7M258.0,333.3h0.7M260.5,328.6h0.7M261.0,334.3h0.7M268.3,335.1h0.7M272.6,334.5h0.7M263.3,326.0h0.7M267.4,331.4h0.7M258.9,327.4h0.7M269.2,331.8h0.7M258.6,329.2h0.7M260.8,333.3h0.7M265.1,332.2h0.7M262.7,332.1h0.7M258.7,335.7h0.7M260.5,329.9h0.7M272.1,328.7h0.7M258.5,332.2h0.7M260.2,331.6h0.7M267.3,335.2h0.7M252.9,338.2h0.7M253.9,328.4h0.7M265.6,328.4h0.7M253.8,334.6h0.7M264.5,333.1h0.7M270.1,335.3h0.7M258.4,330.3h0.7M263.9,330.4h0.7M262.9,334.8h0.7M262.9,327.1h0.7M271.6,331.6h0.7M263.5,326.3h0.7M261.1,327.5h0.7M271.2,330.2h0.7M252.7,331.4h0.7M255.5,332.1h0.7M255.4,326.1h0.7M260.1,330.8h0.7M256.3,334.1h0.7M266.6,331.5h0.7M260.8,333.1h0.7M267.1,332.4h0.7M254.3,334.0h0.7M263.3,330.0h0.7M264.9,333.3h0.7M262.3,336.1h0.7M260.6,325.5h0.7M260.4,332.4h0.7M266.2,333.7h0.7M265.7,333.4h0.7M263.2,327.9h0.7M259.3,335.2h0.7M271.6,322.9h0.7M260.4,330.4h0.7" stroke="#000" stroke-width="0.7" stroke-opacity="0.7" fill="none"/>
<path d="M268.3,353.0h0.7M263.2,340.4h0.7M262.3,351.4h0.7M271.9,340.7h0.7M265.4,343.5h0.7M272.0,344.0h0.7M264.7,341.3h0.7M268.6,345.8h0.7M270.9,342.1h0.7M260.9,343.5h0.7M258.4,341.6h0.7M257.8,342.1h0.7M261.4,342.2h0.7M270.5,339.8h0.7M264.7,339.4h0.7M262.9,341.6h0.7M264.3,340.2h0.7M262.3,342.9h0.7M266.4,345.1h0.7M264.9,349.0h0.7M260.1,346.9h0.7M266.6,341.8h0.7M265.0,341.1h0.7M264.2,340.2h0.7M263.1,354.7h0.7M262.2,343.4h0.7M264.3,352.1h0.7M261.1,339.6h0.7M266.6,342.4h0.7M272.8,340.9h0.7M266.6,351.0h0.7M266.7,347.6h0.7M267.2,341.7h0.7M264.7,343.0h0.7M262.2,343.5h0.7M270.7,344.7h0.7M264.1,342.0h0.7M260.3,341.9h0.7M269.2,340.9h0.7M267.2,344.2h0.7M265.0,355.9h0.7M267.9,343.1h0.7M256.6,340.5h0.7M270.2,347.3h0.7M268.5,349.5h0.7M264.7,340.9h0.7M261.5,343.7h0.7M266.0,343.1h0.7M264.9,339.4h0.7M263.0,346.8h0.7M264.6,348.0h0.7M268.4,344.2h0.7M261.1,346.5h0.7M266.6,341.5h0.7M268.9,353.5h0.7" stroke="#000" stroke-width="0.7" stroke-opacity="0.38" fill="none"/>
<path d="M270.2,331.9h0.7M269.9,336.4h0.7M259.1,334.9h0.7M267.8,345.6h0.7M255.1,335.4h0.7M263.6,351.7h0.7M264.2,346.6h0.7M258.3,352.4h0.7M264.3,344.7h0.7M257.8,343.7h0.7M258.5,338.3h0.7M270.7,339.7h0.7M255.9,338.8h0.7M256.7,348.0h0.7" stroke="#000" stroke-width="0.7" stroke-opacity="0.35" fill="none"/>
<path d="M277.3,328.5h0.7M281.6,326.7h0.7M285.1,331.3h0.7M277.3,328.7h0.7M279.6,330.7h0.7M291.9,330.4h0.7M274.2,329.1h0.7M283.9,329.7h0.7M290.4,330.5h0.7M281.3,331.9h0.7M284.1,324.9h0.7M292.6,325.4h0.7M293.4,323.8h0.7M289.3,325.9h0.7M284.9,327.2h0.7M276.2,328.2h0.7M282.5,328.8h0.7M292.4,328.3h0.7M277.3,331.4h0.7M278.3,328.5h0.7M281.2,331.0h0.7M279.4,330.3h0.7M273.0,329.7h0.7M292.1,330.2h0.7M277.5,330.1h0.7M280.1,327.0h0.7M281.1,327.1h0.7M285.7,328.4h0.7M288.7,330.0h0.7M285.1,327.2h0.7M276.0,325.0h0.7M276.9,328.6h0.7M274.5,330.8h0.7M280.8,328.9h0.7M284.3,324.2h0.7M284.7,332.3h0.7M291.2,328.4h0.7M284.2,330.2h0.7M273.0,328.9h0.7M287.8,326.8h0.7M283.7,329.4h0.7M292.5,327.0h0.7M293.4,325.9h0.7M273.0,330.7h0.7M284.6,325.6h0.7M288.4,330.1h0.7M287.6,328.9h0.7M280.0,328.9h0.7M285.7,330.1h0.7M289.2,327.4h0.7M289.9,325.2h0.7M288.5,328.6h0.7M286.8,328.9h0.7M290.3,327.7h0.7M274.0,327.7h0.7M283.9,327.7h0.7M290.5,327.8h0.7M288.6,330.7h0.7M284.1,326.1h0.7M293.3,327.2h0.7" stroke="#000" stroke-width="0.7" stroke-opacity="0.5" fill="none"/>
</g>
<rect x="252.2" y="314.2" width="42.6" height="42.80000000000001" fill="none" stroke="#000" stroke-width="1.35"/>
<path d="M271.9,314.2V357.0M252.2,339.0H294.8" stroke="#000" stroke-width="1.2" fill="none"/>
<path d="M250.89999999999998,316.9h1.3M254.9,357.0v1.3M250.89999999999998,319.6h1.3M257.5,357.0v1.3M250.89999999999998,322.2h1.3M260.2,357.0v1.3M250.89999999999998,324.9h1.3M262.8,357.0v1.3M250.89999999999998,327.6h1.3M265.5,357.0v1.3M250.89999999999998,330.2h1.3M268.2,357.0v1.3M250.89999999999998,332.9h1.3M270.8,357.0v1.3M250.89999999999998,335.6h1.3M273.5,357.0v1.3M250.89999999999998,338.3h1.3M276.2,357.0v1.3M250.89999999999998,340.9h1.3M278.8,357.0v1.3M250.89999999999998,343.6h1.3M281.5,357.0v1.3M250.89999999999998,346.3h1.3M284.1,357.0v1.3M250.89999999999998,349.0h1.3M286.8,357.0v1.3M250.89999999999998,351.6h1.3M289.5,357.0v1.3M250.89999999999998,354.3h1.3M292.1,357.0v1.3" stroke="#000" stroke-width="0.6" stroke-opacity="0.6"/>
<text x="293.20" y="320.50" font-size="7" text-anchor="end" font-weight="normal" fill="#111" >1.27</text>
<clipPath id="c30"><rect x="116.5" y="362.4" width="42.6" height="42.400000000000034"/></clipPath><g clip-path="url(#c30)">
<rect x="114.5" y="373.6" width="17.5" height="11.2" rx="3.5" fill="#000" filter="url(#bl)"/>
<ellipse cx="127.7" cy="379.6" rx="7.5" ry="5.2" fill="#000" fill-opacity="1" filter="url(#bl)"/>
<path d="M131.1,381.4h0.7M125.9,378.7h0.7M126.2,376.4h0.7M129.9,384.9h0.7M121.2,374.4h0.7M125.1,373.8h0.7M137.5,379.2h0.7M127.6,380.2h0.7M121.8,377.1h0.7M118.2,386.3h0.7M125.5,383.2h0.7M134.5,378.6h0.7M121.8,378.2h0.7M127.3,376.2h0.7M131.0,378.7h0.7M120.2,381.9h0.7M134.0,376.6h0.7M123.8,379.0h0.7M128.3,382.2h0.7M124.2,376.4h0.7M121.2,382.5h0.7M136.7,380.2h0.7M119.8,388.1h0.7M132.3,377.1h0.7M117.0,376.4h0.7M118.7,376.9h0.7M122.7,375.2h0.7M128.7,375.8h0.7M123.5,381.5h0.7M123.4,382.9h0.7M121.7,383.5h0.7M120.8,377.6h0.7M129.3,379.6h0.7M134.1,381.7h0.7M127.2,373.9h0.7M123.9,380.8h0.7M117.4,384.5h0.7M127.1,384.7h0.7M117.1,385.7h0.7M133.7,380.0h0.7M122.8,385.1h0.7M118.8,378.8h0.7M132.1,379.3h0.7M119.8,375.6h0.7M121.9,383.9h0.7M117.3,381.7h0.7M123.9,378.1h0.7M124.1,384.1h0.7M129.9,377.0h0.7M128.2,375.4h0.7M132.2,372.6h0.7M122.2,382.7h0.7M135.9,381.3h0.7M130.9,381.7h0.7M127.5,377.6h0.7M126.0,377.3h0.7M119.5,380.9h0.7M122.9,380.2h0.7M131.8,377.1h0.7M131.3,375.7h0.7M130.6,380.9h0.7M128.2,382.0h0.7M126.4,373.6h0.7M135.8,380.3h0.7M126.3,379.7h0.7M127.5,378.8h0.7M136.3,381.7h0.7M118.2,385.1h0.7M126.8,375.7h0.7M120.1,377.3h0.7M132.3,382.1h0.7M123.4,378.7h0.7M120.5,379.9h0.7M118.4,382.6h0.7M124.4,382.8h0.7M135.0,380.6h0.7M130.6,369.0h0.7M119.1,380.4h0.7M119.4,383.3h0.7M122.9,378.9h0.7M121.8,384.0h0.7M128.3,379.4h0.7M130.6,378.6h0.7M119.8,379.4h0.7M123.5,383.3h0.7M120.6,375.8h0.7M133.7,382.6h0.7M122.7,380.0h0.7M121.6,372.1h0.7M124.2,381.3h0.7M129.3,380.4h0.7M126.6,379.0h0.7M124.5,378.7h0.7M126.0,372.4h0.7M124.8,381.5h0.7M129.6,374.2h0.7M124.6,385.0h0.7M123.8,378.9h0.7M128.9,379.2h0.7M121.7,377.3h0.7M128.7,381.6h0.7M120.2,381.0h0.7M118.4,373.9h0.7M129.1,375.2h0.7M122.9,384.9h0.7M131.7,386.8h0.7M126.2,373.9h0.7M116.9,380.5h0.7M131.8,381.6h0.7M136.1,383.1h0.7M124.2,382.5h0.7M131.5,384.7h0.7M124.1,377.2h0.7M123.8,377.1h0.7M125.7,378.4h0.7M130.0,377.1h0.7M131.0,376.9h0.7M132.9,383.8h0.7M124.9,378.8h0.7M127.3,381.1h0.7M118.5,382.0h0.7M117.4,380.3h0.7M119.7,371.3h0.7M132.0,377.5h0.7M123.0,380.7h0.7M127.4,381.6h0.7M116.8,380.7h0.7M131.3,382.2h0.7M134.5,374.5h0.7M132.8,374.5h0.7M117.9,380.3h0.7M124.3,379.9h0.7M132.1,375.3h0.7M122.9,377.5h0.7M132.8,381.5h0.7M127.1,383.8h0.7M123.5,376.4h0.7M131.0,373.2h0.7M126.9,379.5h0.7M119.6,384.3h0.7M130.0,382.7h0.7M131.4,379.6h0.7M132.2,381.7h0.7M128.8,383.3h0.7M137.8,373.7h0.7M122.2,374.5h0.7M117.2,382.0h0.7M118.9,378.8h0.7M121.5,383.0h0.7M135.4,380.0h0.7M120.7,377.6h0.7M123.9,373.9h0.7M117.4,380.2h0.7M126.7,380.2h0.7M127.3,377.0h0.7M124.4,376.1h0.7M126.7,372.6h0.7M128.5,380.4h0.7M122.5,380.1h0.7M131.7,379.8h0.7M137.5,383.8h0.7M125.9,378.9h0.7M117.7,375.8h0.7M126.5,380.0h0.7M127.4,385.4h0.7M127.8,381.0h0.7M123.7,375.8h0.7M122.3,379.3h0.7M129.7,382.0h0.7M118.7,379.2h0.7M130.0,374.6h0.7M123.7,374.5h0.7M120.8,383.6h0.7M127.5,387.1h0.7M118.7,382.8h0.7M124.2,374.0h0.7M126.5,380.4h0.7M123.5,383.8h0.7M123.2,382.2h0.7M125.2,377.8h0.7M127.7,383.3h0.7M134.4,383.7h0.7M123.6,383.7h0.7M117.7,382.3h0.7M131.8,378.6h0.7M133.8,382.2h0.7M124.3,384.6h0.7M126.9,380.8h0.7M130.5,378.2h0.7M123.9,383.7h0.7M124.5,384.2h0.7M127.0,385.6h0.7M134.7,375.6h0.7M129.7,378.8h0.7M121.5,382.6h0.7M132.0,381.5h0.7M132.3,385.3h0.7M127.6,381.8h0.7M128.4,384.9h0.7M119.8,379.4h0.7M117.7,377.7h0.7M127.6,378.4h0.7M120.6,378.8h0.7M132.5,386.9h0.7M126.2,377.1h0.7M126.6,377.5h0.7M127.4,382.0h0.7M137.6,377.1h0.7M124.5,376.8h0.7M132.2,376.4h0.7M133.6,385.9h0.7M125.0,386.7h0.7M124.0,379.3h0.7M119.6,381.9h0.7M133.7,377.0h0.7M130.6,381.4h0.7M135.3,379.3h0.7M120.6,380.5h0.7M128.3,378.7h0.7M119.5,381.9h0.7M124.7,375.0h0.7M128.6,374.1h0.7M124.2,381.2h0.7M134.0,376.8h0.7M127.2,383.9h0.7M120.3,381.0h0.7M132.6,383.6h0.7M125.0,380.9h0.7M120.9,381.6h0.7M128.1,377.9h0.7M120.2,379.8h0.7M128.5,376.1h0.7M119.7,382.3h0.7M125.0,379.5h0.7M132.0,378.8h0.7M124.4,379.0h0.7M123.0,376.6h0.7M128.1,380.7h0.7M129.4,390.0h0.7M118.0,377.6h0.7M126.4,371.3h0.7M129.8,379.4h0.7M124.7,379.7h0.7M124.0,377.3h0.7M132.3,380.9h0.7M127.4,378.8h0.7M127.6,378.8h0.7M125.9,385.2h0.7M128.9,383.2h0.7M123.3,378.5h0.7M116.5,384.8h0.7M132.5,379.4h0.7M128.3,380.6h0.7M134.0,381.5h0.7M124.7,376.0h0.7M123.8,383.9h0.7M120.8,378.8h0.7M129.3,385.3h0.7M122.2,382.5h0.7M122.8,373.6h0.7M122.7,375.9h0.7M116.6,386.6h0.7M133.0,379.7h0.7M125.1,384.4h0.7M120.1,374.3h0.7M122.8,375.7h0.7M126.5,381.9h0.7M124.8,379.5h0.7M117.5,374.8h0.7M127.2,384.6h0.7M130.4,388.1h0.7M118.9,372.2h0.7M124.9,380.6h0.7M119.9,373.0h0.7M133.9,373.0h0.7M128.5,382.6h0.7M133.6,379.4h0.7M131.2,378.8h0.7M130.0,384.3h0.7M125.0,373.5h0.7M128.0,369.1h0.7M134.1,377.4h0.7M121.7,383.1h0.7M130.9,381.4h0.7M121.5,382.2h0.7M126.1,378.4h0.7M120.2,381.3h0.7M120.4,384.2h0.7M126.4,373.6h0.7M137.1,374.7h0.7M121.3,378.2h0.7M126.3,384.5h0.7M122.5,377.8h0.7M133.5,379.6h0.7M130.2,379.8h0.7M121.9,377.4h0.7M118.9,376.8h0.7M126.3,379.4h0.7M130.3,380.0h0.7M127.8,376.6h0.7M136.7,378.6h0.7M130.8,376.5h0.7M119.4,381.0h0.7M130.7,381.6h0.7M132.3,379.9h0.7M124.3,379.9h0.7M119.5,378.3h0.7M130.2,377.7h0.7M130.2,379.4h0.7M124.7,381.7h0.7M132.6,378.5h0.7M126.7,386.6h0.7M129.1,377.7h0.7M119.9,378.0h0.7M132.6,372.4h0.7M129.3,378.1h0.7M129.3,380.3h0.7M120.3,382.8h0.7M118.9,377.8h0.7M123.7,379.9h0.7M124.6,376.3h0.7M123.4,378.1h0.7M128.5,382.2h0.7M125.6,383.7h0.7M123.1,375.1h0.7M122.9,381.3h0.7M129.8,376.4h0.7M133.5,382.2h0.7M135.7,382.1h0.7M117.8,381.6h0.7M126.0,374.6h0.7M130.8,378.7h0.7M127.8,385.4h0.7M133.6,378.1h0.7M129.9,383.2h0.7M126.2,383.4h0.7M128.9,378.0h0.7M134.2,378.8h0.7M122.1,378.3h0.7M117.5,373.2h0.7M127.3,371.9h0.7M123.4,382.2h0.7M127.4,380.9h0.7M123.3,376.3h0.7M127.0,382.3h0.7M124.8,383.0h0.7M126.2,375.1h0.7M121.7,379.3h0.7M120.0,378.8h0.7M131.4,379.6h0.7M131.9,381.2h0.7M121.9,379.9h0.7M131.1,377.6h0.7M121.0,383.9h0.7M130.6,381.9h0.7M121.8,379.0h0.7M127.7,381.1h0.7M130.8,375.7h0.7M130.9,376.1h0.7M119.0,377.9h0.7M121.8,383.3h0.7M132.9,387.0h0.7M120.8,380.1h0.7M133.7,373.6h0.7M130.4,386.2h0.7M131.5,377.0h0.7M124.7,380.1h0.7M120.9,376.0h0.7M132.6,376.5h0.7M132.0,375.8h0.7M120.2,371.6h0.7M121.1,378.2h0.7M130.7,374.5h0.7M125.2,383.6h0.7M130.4,384.8h0.7M124.4,374.3h0.7M125.3,381.5h0.7M118.6,378.5h0.7M125.0,387.3h0.7M121.0,376.8h0.7M124.0,377.4h0.7M125.5,377.8h0.7M117.3,377.1h0.7M134.1,379.2h0.7M126.6,382.0h0.7M127.3,376.5h0.7M119.6,382.5h0.7M123.5,381.1h0.7M122.7,382.7h0.7M124.3,380.5h0.7M128.9,372.5h0.7M131.1,384.3h0.7M122.2,373.9h0.7M127.7,376.5h0.7M118.9,385.1h0.7M124.5,375.8h0.7M116.9,381.0h0.7M127.4,381.0h0.7M117.9,377.2h0.7M125.1,378.2h0.7M125.7,378.4h0.7M124.9,380.2h0.7M129.4,384.1h0.7M125.0,372.4h0.7M134.4,374.3h0.7M126.8,383.8h0.7M129.2,384.3h0.7M125.3,387.4h0.7M128.6,373.8h0.7M129.9,378.5h0.7M132.2,377.1h0.7M130.7,375.0h0.7M123.5,379.2h0.7M132.5,376.7h0.7M127.3,383.5h0.7M124.7,380.4h0.7M137.7,379.4h0.7M129.9,384.0h0.7M134.6,383.9h0.7M121.4,380.9h0.7M123.3,378.5h0.7M121.6,376.9h0.7M136.1,375.0h0.7M128.6,375.1h0.7M127.3,376.6h0.7M132.7,384.0h0.7M123.4,379.0h0.7M127.4,374.1h0.7M129.3,390.2h0.7M122.4,373.7h0.7M121.5,379.6h0.7M123.2,385.8h0.7M129.2,377.6h0.7M126.7,378.0h0.7M120.2,385.0h0.7M124.1,377.5h0.7M134.3,378.6h0.7M131.7,370.2h0.7M129.7,375.6h0.7M122.7,382.8h0.7M136.4,371.4h0.7M133.8,378.5h0.7M122.2,383.3h0.7M124.4,377.6h0.7M123.8,378.8h0.7M122.0,383.4h0.7M135.8,376.4h0.7M121.0,379.1h0.7M120.3,379.9h0.7M126.2,379.6h0.7M120.5,380.7h0.7M117.1,378.2h0.7M124.3,379.7h0.7M130.5,378.9h0.7M118.8,381.1h0.7M124.3,382.4h0.7M135.7,385.0h0.7M125.1,376.1h0.7M126.7,378.9h0.7M120.4,374.2h0.7M132.5,376.1h0.7M131.8,383.4h0.7M119.2,381.0h0.7M124.7,374.4h0.7M121.2,380.1h0.7M131.3,377.0h0.7M123.9,383.3h0.7M122.6,377.2h0.7M120.7,376.1h0.7M122.2,376.9h0.7M130.0,375.0h0.7M130.6,380.8h0.7M122.7,387.5h0.7M119.1,375.7h0.7M120.6,379.3h0.7M130.1,379.3h0.7M120.2,376.1h0.7M135.5,378.0h0.7M136.2,379.2h0.7M122.8,378.2h0.7M128.3,382.4h0.7M122.8,381.4h0.7M117.0,373.7h0.7M120.9,382.1h0.7M122.9,378.0h0.7M123.2,374.3h0.7M117.2,386.4h0.7M128.8,374.4h0.7M117.4,380.8h0.7M122.1,377.5h0.7M130.1,375.7h0.7M117.0,381.1h0.7M119.0,380.1h0.7M136.7,374.5h0.7M124.7,379.1h0.7M126.0,379.0h0.7M129.8,377.1h0.7M119.2,380.2h0.7M126.6,373.1h0.7M129.8,378.2h0.7M131.3,379.6h0.7M117.2,378.2h0.7M129.5,383.2h0.7M124.0,381.8h0.7M133.5,380.6h0.7M134.3,381.9h0.7M119.1,375.1h0.7M119.9,385.6h0.7M132.6,376.3h0.7M125.0,386.9h0.7M119.9,379.6h0.7M122.9,382.6h0.7M126.4,383.6h0.7M127.9,381.0h0.7M119.1,380.6h0.7M121.9,386.0h0.7M127.2,379.7h0.7M126.1,379.9h0.7M122.7,381.9h0.7M125.1,376.4h0.7M130.8,382.3h0.7M132.4,378.1h0.7M131.1,385.0h0.7M129.3,381.0h0.7M124.9,374.0h0.7M118.7,379.4h0.7M131.8,381.5h0.7M121.8,380.4h0.7M124.5,377.0h0.7M125.0,382.7h0.7M118.0,378.2h0.7M125.0,376.0h0.7M119.3,381.2h0.7M121.9,385.3h0.7M126.1,372.9h0.7M121.7,372.7h0.7M123.2,384.8h0.7M138.1,391.3h0.7M131.5,378.5h0.7M121.2,378.2h0.7M118.4,376.3h0.7M127.4,380.1h0.7M126.4,379.1h0.7M125.4,382.5h0.7M126.2,376.1h0.7M131.2,382.4h0.7M123.6,382.2h0.7M128.1,378.0h0.7M126.7,377.0h0.7M133.7,378.1h0.7M131.3,386.0h0.7M125.6,382.1h0.7M134.5,373.0h0.7M117.6,380.2h0.7M134.0,383.5h0.7M121.2,381.0h0.7M136.2,376.9h0.7M125.9,377.7h0.7M121.9,379.0h0.7M121.7,383.4h0.7M118.4,382.8h0.7M122.7,377.0h0.7M124.7,382.5h0.7M121.4,372.3h0.7M128.7,384.5h0.7M125.4,380.2h0.7M128.4,380.6h0.7M128.5,382.9h0.7M128.6,373.7h0.7M127.8,378.5h0.7M119.0,383.0h0.7M121.1,381.2h0.7M120.9,381.8h0.7M133.7,376.7h0.7M120.3,383.0h0.7M119.6,383.5h0.7M127.7,376.5h0.7M121.8,384.4h0.7M130.6,380.3h0.7M126.7,383.6h0.7M121.4,381.0h0.7M128.2,384.5h0.7M123.0,379.1h0.7" stroke="#000" stroke-width="0.7" stroke-opacity="0.7" fill="none"/>
<path d="M129.9,386.4h0.7M128.8,390.2h0.7M128.4,386.9h0.7M129.9,386.3h0.7M128.6,385.2h0.7M126.9,391.2h0.7M127.9,394.4h0.7M132.3,404.3h0.7M128.8,385.3h0.7M129.1,387.7h0.7M128.2,393.4h0.7M130.4,396.1h0.7M129.7,392.0h0.7M130.6,391.4h0.7M129.9,391.1h0.7M128.9,388.5h0.7M130.7,396.9h0.7M128.2,391.9h0.7M125.9,387.4h0.7M128.9,387.1h0.7M127.7,401.3h0.7M127.6,408.2h0.7M128.6,387.8h0.7M127.2,385.7h0.7M124.7,386.8h0.7M129.4,393.0h0.7M127.1,394.1h0.7M128.3,394.7h0.7M129.5,390.1h0.7M128.3,392.2h0.7M128.0,392.6h0.7M130.8,385.1h0.7M131.9,386.7h0.7M128.7,389.0h0.7M129.7,385.4h0.7M127.4,390.6h0.7M127.8,389.0h0.7M131.9,392.7h0.7M130.2,389.0h0.7M126.2,394.3h0.7M129.8,388.4h0.7M129.7,394.1h0.7M130.1,390.4h0.7M128.1,392.3h0.7M127.7,392.3h0.7M129.8,393.8h0.7M128.9,394.4h0.7M131.5,391.2h0.7M126.0,407.9h0.7M131.4,389.5h0.7M126.5,391.3h0.7M129.8,384.9h0.7M126.7,385.0h0.7M126.4,386.8h0.7M130.5,387.5h0.7M128.1,390.7h0.7M133.2,387.1h0.7M129.6,397.6h0.7M130.9,399.2h0.7M128.9,393.3h0.7M130.5,414.1h0.7M127.7,406.5h0.7M128.7,397.9h0.7M133.8,395.7h0.7M127.3,387.4h0.7M129.4,393.8h0.7M132.1,391.0h0.7M126.8,413.2h0.7M126.2,395.2h0.7M130.8,396.7h0.7M131.9,392.1h0.7M129.5,392.5h0.7M127.9,394.4h0.7M129.5,390.0h0.7M127.7,403.5h0.7M128.6,389.8h0.7M128.5,388.8h0.7M132.7,411.0h0.7M126.6,396.2h0.7M129.2,384.8h0.7M127.7,387.1h0.7M129.9,388.8h0.7M128.2,389.6h0.7M130.6,398.6h0.7M128.4,389.6h0.7M130.8,388.2h0.7M127.5,385.2h0.7M129.5,394.8h0.7M129.4,384.8h0.7M127.9,399.9h0.7M129.9,392.4h0.7M131.7,387.3h0.7M127.3,395.6h0.7M131.4,395.4h0.7M130.0,389.1h0.7M128.2,391.7h0.7M131.4,385.3h0.7M129.3,391.0h0.7M129.5,396.9h0.7M130.8,385.7h0.7M129.8,388.3h0.7M130.6,391.3h0.7M129.2,396.1h0.7M134.1,387.6h0.7M129.4,389.2h0.7M126.0,398.2h0.7M126.0,390.6h0.7M128.5,391.8h0.7M130.6,387.3h0.7M131.3,387.5h0.7M129.8,387.5h0.7M127.9,394.6h0.7M130.1,400.6h0.7M127.6,389.2h0.7M127.9,388.5h0.7M125.3,386.4h0.7M127.8,393.9h0.7M129.8,386.7h0.7M129.9,396.0h0.7M126.5,395.0h0.7M130.4,407.1h0.7M132.1,389.6h0.7M125.4,387.3h0.7M132.4,392.5h0.7M129.2,395.9h0.7M129.4,398.1h0.7M127.7,388.4h0.7M130.1,390.5h0.7M129.2,385.0h0.7M129.9,390.5h0.7M130.3,387.3h0.7M129.6,390.4h0.7M126.9,390.0h0.7M129.3,403.3h0.7M130.9,388.2h0.7M126.2,394.2h0.7M127.5,405.6h0.7M125.8,388.7h0.7M125.3,405.0h0.7M132.1,399.2h0.7M130.3,395.6h0.7M132.0,393.6h0.7M132.5,392.0h0.7M128.6,408.9h0.7M128.6,400.5h0.7M133.9,388.3h0.7M131.1,389.2h0.7M131.2,389.9h0.7M128.5,389.9h0.7M128.5,396.6h0.7M125.2,399.8h0.7M130.5,402.9h0.7M128.4,390.4h0.7M132.0,386.2h0.7M130.0,385.0h0.7M124.4,397.3h0.7M129.9,385.8h0.7M128.7,397.1h0.7M129.6,387.4h0.7M127.3,386.9h0.7M129.8,404.7h0.7M131.5,393.2h0.7M130.9,399.3h0.7M124.5,392.1h0.7M133.2,391.7h0.7M127.9,388.6h0.7M125.1,386.6h0.7M127.3,396.4h0.7M128.5,392.2h0.7M130.0,396.5h0.7M130.1,389.0h0.7M131.0,390.8h0.7M130.7,394.6h0.7M131.9,394.7h0.7M131.7,397.1h0.7M128.8,398.4h0.7M128.1,391.7h0.7M131.5,397.4h0.7M128.1,387.1h0.7M129.0,390.9h0.7M125.4,385.5h0.7M131.7,384.9h0.7M131.4,398.1h0.7M129.6,388.7h0.7M128.2,396.0h0.7M128.4,386.5h0.7M131.3,391.2h0.7M127.9,385.3h0.7M128.9,396.7h0.7M129.4,398.1h0.7M129.5,409.2h0.7M128.9,395.2h0.7M129.3,393.4h0.7M131.2,387.4h0.7M128.6,404.3h0.7M128.7,389.1h0.7M128.6,391.7h0.7M129.8,385.2h0.7M131.7,390.4h0.7M130.8,392.6h0.7M130.0,389.4h0.7M129.0,395.3h0.7M123.8,399.0h0.7M127.4,393.7h0.7M130.4,388.8h0.7M130.4,389.3h0.7M132.6,385.4h0.7M131.0,386.6h0.7M128.7,395.0h0.7M127.3,385.1h0.7M127.6,399.7h0.7M131.3,385.1h0.7M125.6,385.4h0.7M134.1,394.8h0.7M128.9,388.3h0.7M128.8,387.0h0.7M129.1,386.7h0.7M128.4,392.9h0.7M126.9,400.8h0.7M125.9,391.1h0.7M129.6,390.2h0.7M130.9,399.1h0.7M126.1,390.7h0.7M133.0,390.7h0.7M129.1,394.5h0.7M132.7,394.2h0.7M129.8,387.6h0.7M128.2,388.8h0.7M126.9,388.2h0.7M131.4,387.4h0.7M130.9,391.2h0.7M129.1,385.2h0.7M132.4,391.8h0.7M127.9,388.6h0.7M127.8,390.2h0.7M130.6,387.3h0.7M130.6,401.5h0.7M129.5,407.1h0.7M131.3,394.3h0.7M131.1,390.8h0.7M130.6,391.4h0.7M126.4,402.1h0.7M126.5,388.9h0.7M130.7,390.7h0.7M129.8,387.7h0.7M131.0,388.4h0.7M128.7,395.4h0.7M132.5,390.2h0.7M128.5,394.5h0.7M126.9,386.6h0.7M131.3,398.1h0.7M128.9,388.0h0.7M128.2,393.1h0.7M130.6,385.2h0.7M131.7,388.3h0.7M131.6,390.7h0.7M128.8,399.1h0.7M128.0,388.6h0.7M128.7,392.3h0.7M126.7,395.9h0.7M132.1,395.3h0.7M125.4,391.2h0.7M129.6,390.7h0.7M129.9,390.6h0.7M130.3,395.2h0.7M129.7,389.6h0.7M124.9,387.9h0.7M125.1,390.0h0.7M129.3,385.8h0.7M127.8,401.5h0.7M126.5,396.4h0.7M128.8,385.8h0.7M129.5,389.4h0.7M125.8,389.7h0.7M129.0,384.9h0.7M129.4,385.7h0.7M131.6,392.9h0.7M127.8,389.7h0.7M129.0,393.6h0.7M123.5,386.9h0.7M129.5,401.6h0.7M131.4,393.3h0.7M131.5,392.4h0.7M130.0,388.0h0.7M126.5,392.6h0.7M130.5,387.6h0.7M127.6,391.8h0.7M129.1,395.4h0.7M128.4,385.2h0.7M128.5,396.1h0.7M128.6,390.5h0.7M131.8,386.6h0.7M131.9,385.3h0.7M129.7,398.0h0.7M130.3,385.7h0.7M130.3,388.2h0.7M131.7,390.3h0.7M128.4,392.9h0.7M131.8,391.0h0.7M128.7,390.3h0.7M133.2,392.4h0.7M129.2,393.4h0.7M130.5,409.3h0.7M131.7,387.4h0.7M126.2,394.1h0.7M127.6,388.3h0.7M133.7,388.4h0.7M128.9,409.6h0.7M132.8,406.5h0.7M131.0,386.9h0.7M129.7,390.3h0.7M130.0,391.0h0.7M128.7,392.4h0.7M130.9,395.4h0.7M133.0,386.5h0.7M131.1,398.3h0.7M129.3,407.4h0.7M127.5,394.4h0.7M128.6,402.1h0.7M132.6,392.6h0.7M127.4,388.2h0.7M128.9,385.9h0.7M127.0,385.3h0.7M128.4,389.1h0.7M127.4,389.7h0.7M129.6,391.1h0.7M129.5,386.5h0.7M129.0,390.4h0.7M128.5,392.7h0.7M130.4,388.6h0.7" stroke="#000" stroke-width="0.7" stroke-opacity="0.7" fill="none"/>
<ellipse cx="129.7" cy="388.3" rx="2.4" ry="4.5" fill="#000" fill-opacity="0.45" filter="url(#bl)"/>
<path d="M128.7,394.7h0.7M127.2,388.2h0.7M122.9,389.9h0.7M128.2,392.8h0.7M125.3,389.2h0.7M124.2,404.4h0.7M127.6,390.0h0.7M122.0,398.3h0.7M125.8,398.1h0.7M124.5,389.4h0.7M127.4,392.5h0.7M128.6,391.2h0.7M129.4,392.4h0.7M123.5,403.0h0.7M127.8,387.5h0.7M129.0,394.3h0.7M128.7,392.0h0.7M127.2,389.5h0.7M121.4,392.4h0.7M122.7,386.9h0.7M128.5,388.7h0.7M129.3,388.7h0.7M123.2,407.4h0.7M123.0,389.6h0.7M127.4,398.0h0.7M122.9,388.6h0.7M125.9,391.5h0.7M121.8,392.3h0.7M122.1,401.9h0.7M128.5,387.8h0.7M119.7,402.8h0.7M126.6,391.6h0.7M129.5,404.1h0.7M123.8,390.3h0.7M127.8,393.4h0.7M129.7,397.3h0.7M122.1,390.6h0.7M120.9,395.4h0.7M119.2,391.1h0.7M123.8,401.7h0.7M128.3,394.9h0.7M127.3,389.4h0.7M124.9,401.8h0.7M128.5,394.7h0.7M128.0,392.2h0.7M128.3,399.4h0.7M129.0,398.4h0.7M128.1,405.4h0.7M129.6,394.8h0.7M127.4,408.6h0.7M128.1,389.9h0.7M122.5,388.9h0.7M124.3,387.5h0.7M125.2,394.9h0.7M118.5,395.1h0.7M121.8,388.7h0.7M125.8,398.7h0.7M124.8,395.7h0.7M119.7,388.6h0.7M125.8,406.4h0.7M120.0,397.5h0.7M125.4,394.6h0.7M127.7,395.8h0.7M121.0,386.9h0.7M128.6,388.0h0.7M127.4,392.5h0.7M128.5,395.8h0.7M129.5,399.1h0.7M124.6,392.0h0.7M123.9,388.9h0.7M124.7,392.7h0.7M129.5,398.2h0.7M121.6,391.3h0.7M128.3,396.8h0.7M126.9,393.1h0.7M127.6,392.6h0.7M126.5,407.3h0.7M126.5,398.9h0.7M127.1,398.0h0.7M128.3,392.8h0.7M127.5,390.6h0.7M120.3,389.3h0.7M126.0,393.2h0.7M120.7,400.4h0.7M127.8,390.6h0.7M129.1,398.1h0.7M126.9,388.6h0.7M128.1,389.8h0.7M127.4,396.3h0.7M124.0,389.5h0.7M128.7,407.6h0.7M123.3,391.4h0.7M126.9,398.6h0.7M125.9,391.3h0.7M120.4,391.7h0.7M123.6,395.3h0.7M123.0,393.8h0.7M125.0,406.4h0.7M127.8,391.4h0.7M127.7,400.8h0.7M122.7,388.4h0.7M125.1,392.8h0.7M126.1,390.2h0.7M126.5,397.9h0.7M122.0,388.8h0.7M123.2,393.2h0.7M119.8,401.2h0.7M120.1,394.2h0.7M129.6,395.2h0.7M122.5,393.6h0.7M129.4,392.1h0.7M125.8,387.7h0.7M121.0,399.7h0.7M127.1,396.0h0.7M122.8,393.4h0.7M129.6,389.4h0.7M125.4,397.7h0.7M124.8,393.2h0.7M122.2,396.6h0.7M119.1,389.4h0.7M121.7,409.7h0.7M120.5,391.2h0.7M119.0,396.4h0.7M124.9,387.2h0.7M120.6,397.9h0.7M127.9,400.5h0.7M120.0,395.5h0.7M118.1,387.9h0.7M124.6,393.8h0.7M129.2,395.0h0.7M118.6,403.4h0.7M120.6,387.4h0.7M128.0,391.8h0.7M124.9,393.6h0.7M129.3,393.8h0.7M128.9,389.4h0.7M126.4,393.2h0.7M124.8,395.4h0.7M126.6,392.8h0.7M127.8,402.1h0.7M122.5,396.2h0.7M126.0,402.6h0.7M125.1,398.9h0.7M123.8,387.4h0.7M127.2,387.9h0.7M127.3,389.3h0.7M118.8,398.0h0.7M120.6,392.1h0.7M125.3,389.5h0.7M124.1,389.4h0.7M116.9,392.7h0.7M125.6,396.0h0.7M126.8,389.0h0.7M125.3,395.6h0.7M117.6,390.0h0.7M118.6,387.9h0.7M128.0,395.0h0.7M129.1,388.9h0.7M126.0,388.0h0.7M129.3,401.4h0.7M126.7,402.4h0.7M127.5,391.0h0.7M126.4,394.9h0.7M124.9,389.8h0.7M122.2,391.0h0.7M127.1,391.7h0.7M127.9,391.1h0.7M119.7,392.2h0.7M123.6,386.9h0.7M124.4,391.2h0.7M123.5,397.5h0.7M126.9,388.5h0.7M119.6,415.7h0.7M126.0,394.7h0.7M123.5,392.1h0.7M125.7,400.2h0.7M127.2,391.9h0.7M120.5,389.1h0.7M127.9,394.4h0.7M128.6,387.5h0.7M125.7,393.6h0.7M125.0,396.3h0.7M125.3,390.3h0.7M128.6,392.7h0.7M124.0,393.3h0.7M128.2,388.0h0.7M127.4,387.6h0.7M126.9,386.9h0.7M126.3,388.0h0.7M122.4,394.5h0.7M121.1,394.2h0.7M122.2,390.8h0.7M125.7,389.1h0.7M118.6,394.7h0.7M128.2,398.8h0.7" stroke="#000" stroke-width="0.7" stroke-opacity="0.6" fill="none"/>
<path d="M123.4,377.3h0.7M119.3,375.8h0.7M134.1,396.7h0.7M124.7,400.6h0.7M127.0,395.0h0.7M117.5,403.0h0.7M121.9,385.2h0.7M124.1,388.3h0.7M129.6,382.1h0.7M128.0,388.4h0.7M121.0,399.0h0.7M119.0,391.8h0.7M121.7,397.7h0.7M121.7,394.0h0.7" stroke="#000" stroke-width="0.7" stroke-opacity="0.35" fill="none"/>
<path d="M144.5,382.0h0.7M143.5,378.7h0.7M138.4,373.5h0.7M139.4,380.1h0.7M147.3,379.5h0.7M137.9,374.3h0.7M141.1,383.4h0.7M139.7,379.2h0.7M137.9,379.1h0.7M143.7,379.3h0.7M148.8,380.4h0.7M139.1,375.2h0.7M146.1,380.6h0.7M139.9,377.6h0.7" stroke="#000" stroke-width="0.7" stroke-opacity="0.4" fill="none"/>
</g>
<rect x="116.5" y="362.4" width="42.6" height="42.400000000000034" fill="none" stroke="#000" stroke-width="1.35"/>
<path d="M136.2,362.4V404.8M116.5,386.8H159.1" stroke="#000" stroke-width="1.2" fill="none"/>
<path d="M115.2,365.0h1.3M119.2,404.8v1.3M115.2,367.7h1.3M121.8,404.8v1.3M115.2,370.3h1.3M124.5,404.8v1.3M115.2,373.0h1.3M127.2,404.8v1.3M115.2,375.6h1.3M129.8,404.8v1.3M115.2,378.3h1.3M132.5,404.8v1.3M115.2,380.9h1.3M135.1,404.8v1.3M115.2,383.6h1.3M137.8,404.8v1.3M115.2,386.2h1.3M140.5,404.8v1.3M115.2,388.9h1.3M143.1,404.8v1.3M115.2,391.6h1.3M145.8,404.8v1.3M115.2,394.2h1.3M148.4,404.8v1.3M115.2,396.9h1.3M151.1,404.8v1.3M115.2,399.5h1.3M153.8,404.8v1.3M115.2,402.1h1.3M156.4,404.8v1.3" stroke="#000" stroke-width="0.6" stroke-opacity="0.6"/>
<text x="157.50" y="368.70" font-size="7" text-anchor="end" font-weight="normal" fill="#111" >0.4</text>
<clipPath id="c31"><rect x="161.75" y="362.4" width="42.6" height="42.400000000000034"/></clipPath><g clip-path="url(#c31)">
<rect x="159.8" y="373.6" width="18.5" height="11.2" rx="3.5" fill="#000" filter="url(#bl)"/>
<ellipse cx="173.9" cy="379.6" rx="7.5" ry="5.2" fill="#000" fill-opacity="1" filter="url(#bl)"/>
<path d="M168.0,380.4h0.7M177.7,378.2h0.7M165.6,381.1h0.7M178.2,380.9h0.7M166.1,382.9h0.7M168.6,375.5h0.7M170.2,386.7h0.7M171.2,377.2h0.7M175.9,376.9h0.7M178.4,382.1h0.7M163.3,378.2h0.7M169.1,376.8h0.7M173.6,378.8h0.7M181.8,380.6h0.7M177.1,383.0h0.7M174.1,382.5h0.7M167.1,383.1h0.7M177.4,383.3h0.7M168.0,377.7h0.7M178.5,379.4h0.7M164.3,381.9h0.7M172.9,373.1h0.7M167.8,372.0h0.7M166.3,378.5h0.7M166.5,383.8h0.7M169.8,374.7h0.7M176.1,380.8h0.7M162.7,382.9h0.7M163.2,376.5h0.7M180.4,377.9h0.7M171.7,376.8h0.7M169.5,372.6h0.7M169.5,376.9h0.7M177.1,378.1h0.7M166.2,377.9h0.7M172.9,378.5h0.7M173.5,385.8h0.7M167.5,375.1h0.7M177.6,386.0h0.7M166.6,382.5h0.7M175.5,380.0h0.7M176.4,378.7h0.7M175.4,378.7h0.7M170.4,375.9h0.7M171.1,379.3h0.7M165.8,377.1h0.7M169.0,384.5h0.7M174.3,381.9h0.7M179.5,382.0h0.7M181.6,384.5h0.7M175.9,379.3h0.7M172.2,379.3h0.7M166.9,374.3h0.7M174.0,375.0h0.7M175.7,385.6h0.7M172.1,376.4h0.7M167.5,381.7h0.7M170.9,378.1h0.7M173.0,375.6h0.7M165.1,381.0h0.7M167.0,381.8h0.7M168.4,379.9h0.7M170.5,384.0h0.7M169.7,379.9h0.7M164.5,380.1h0.7M170.4,380.7h0.7M171.9,380.7h0.7M173.8,383.1h0.7M165.5,377.8h0.7M172.9,374.5h0.7M174.7,377.9h0.7M175.3,384.8h0.7M182.9,377.2h0.7M171.8,377.0h0.7M163.0,380.0h0.7M167.6,375.4h0.7M169.4,377.5h0.7M164.5,380.3h0.7M174.7,380.9h0.7M167.2,376.5h0.7M177.4,376.6h0.7M163.1,375.5h0.7M180.0,378.9h0.7M168.8,379.8h0.7M171.5,378.5h0.7M170.4,381.8h0.7M177.2,375.8h0.7M170.6,379.4h0.7M172.5,387.8h0.7M175.6,382.1h0.7M170.8,381.5h0.7M178.8,383.8h0.7M166.4,380.2h0.7M173.6,375.9h0.7M169.3,378.0h0.7M176.9,379.8h0.7M168.8,380.5h0.7M172.0,376.9h0.7M173.7,374.9h0.7M172.6,378.0h0.7M172.0,377.3h0.7M182.0,377.4h0.7M176.3,379.8h0.7M178.5,377.3h0.7M163.7,382.0h0.7M177.8,381.8h0.7M180.4,379.7h0.7M166.0,381.4h0.7M175.2,384.3h0.7M169.0,378.9h0.7M163.1,379.2h0.7M167.2,379.7h0.7M166.9,381.1h0.7M170.8,377.3h0.7M175.0,381.4h0.7M169.9,379.0h0.7M176.4,381.3h0.7M170.5,386.2h0.7M168.5,375.3h0.7M167.5,380.3h0.7M177.0,376.4h0.7M173.7,375.3h0.7M171.2,378.8h0.7M180.9,373.4h0.7M168.4,373.3h0.7M168.5,378.5h0.7M171.4,383.1h0.7M165.9,377.8h0.7M180.4,379.7h0.7M165.5,379.7h0.7M164.7,376.7h0.7M168.2,374.5h0.7M182.4,378.3h0.7M172.8,378.8h0.7M170.8,376.9h0.7M174.0,378.1h0.7M166.3,382.7h0.7M180.6,381.1h0.7M174.6,378.5h0.7M172.1,382.0h0.7M171.6,384.1h0.7M180.1,380.4h0.7M172.8,376.8h0.7M168.7,377.4h0.7M169.3,376.6h0.7M173.7,380.7h0.7M170.5,385.1h0.7M173.0,379.4h0.7M172.6,377.6h0.7M176.0,376.6h0.7M171.2,386.3h0.7M173.1,376.1h0.7M164.6,383.5h0.7M179.5,378.1h0.7M173.0,378.0h0.7M165.7,381.1h0.7M167.3,381.6h0.7M173.4,377.5h0.7M171.9,379.8h0.7M170.4,378.9h0.7M178.9,377.2h0.7M172.3,383.1h0.7M173.8,378.2h0.7M164.5,378.7h0.7M171.3,384.0h0.7M175.3,383.1h0.7M174.2,380.4h0.7M170.0,379.3h0.7M163.9,374.5h0.7M172.5,378.7h0.7M171.5,378.9h0.7M170.0,375.8h0.7M176.7,380.9h0.7M171.2,385.3h0.7M167.0,382.4h0.7M171.0,379.7h0.7M176.7,379.6h0.7M171.3,375.6h0.7M173.1,380.9h0.7M168.8,375.7h0.7M177.3,380.1h0.7M178.5,379.4h0.7M175.8,380.1h0.7M172.9,378.9h0.7M174.8,382.4h0.7M172.0,376.2h0.7M177.3,382.9h0.7M164.3,380.4h0.7M180.7,381.7h0.7M168.4,380.5h0.7M173.5,376.0h0.7M169.7,378.6h0.7M169.4,384.0h0.7M167.1,383.8h0.7M170.9,378.8h0.7M170.1,384.8h0.7M183.2,380.4h0.7M165.5,378.7h0.7M170.2,383.3h0.7M167.9,377.2h0.7M177.8,372.5h0.7M165.0,379.3h0.7M177.8,385.8h0.7M181.4,380.5h0.7M162.7,376.9h0.7M174.5,379.7h0.7M166.6,379.3h0.7M172.3,387.0h0.7M169.5,381.5h0.7M173.2,382.1h0.7M167.2,384.5h0.7M179.6,381.3h0.7M164.8,376.1h0.7M170.2,379.2h0.7M166.1,379.2h0.7M161.9,379.0h0.7M163.3,380.5h0.7M168.8,374.8h0.7M168.7,378.9h0.7M179.3,381.9h0.7M168.9,382.3h0.7M171.0,382.3h0.7M168.8,380.5h0.7M169.4,382.7h0.7M182.0,384.9h0.7M179.9,379.1h0.7M181.0,378.7h0.7M171.2,376.7h0.7M177.1,374.3h0.7M170.9,381.9h0.7M164.6,381.2h0.7M164.8,378.5h0.7M173.5,384.2h0.7M172.7,379.2h0.7M163.5,376.7h0.7M172.7,379.7h0.7M167.9,391.0h0.7M163.9,383.2h0.7M168.2,380.0h0.7M178.8,377.8h0.7M169.8,379.7h0.7M171.6,385.2h0.7M180.1,377.5h0.7M179.1,374.6h0.7M167.2,377.2h0.7M167.6,380.1h0.7M173.0,376.6h0.7M173.7,377.4h0.7M174.5,380.5h0.7M164.5,376.6h0.7M177.3,379.3h0.7M173.1,378.5h0.7M180.8,381.1h0.7M167.1,380.3h0.7M164.7,378.2h0.7M169.2,376.2h0.7M166.1,383.1h0.7M165.9,378.8h0.7M163.9,383.7h0.7M165.6,382.0h0.7M175.2,381.3h0.7M168.3,372.4h0.7M165.9,378.8h0.7M162.5,375.8h0.7M173.3,379.5h0.7M177.6,381.0h0.7M179.1,380.5h0.7M170.5,380.2h0.7M176.6,382.7h0.7M175.3,378.0h0.7M165.0,382.8h0.7M177.7,376.3h0.7M171.6,376.4h0.7M171.9,386.5h0.7M169.2,378.2h0.7M171.0,378.1h0.7M173.7,374.4h0.7M175.9,377.1h0.7M171.6,387.7h0.7M178.8,380.2h0.7M170.5,381.2h0.7M177.0,390.5h0.7M183.4,384.4h0.7M166.5,384.4h0.7M170.4,380.2h0.7M169.2,378.4h0.7M174.9,380.2h0.7M175.9,377.9h0.7M166.1,378.2h0.7M169.8,380.8h0.7M182.6,380.0h0.7M169.9,387.8h0.7M182.5,382.6h0.7M177.4,373.8h0.7M169.2,379.5h0.7M171.5,373.2h0.7M173.2,385.5h0.7M179.9,380.5h0.7M174.6,379.6h0.7M177.2,374.9h0.7M174.6,384.3h0.7M165.6,379.3h0.7M162.4,382.7h0.7M174.3,387.1h0.7M176.0,378.2h0.7M169.4,379.4h0.7M168.3,378.5h0.7M172.3,377.6h0.7M166.4,378.8h0.7M162.2,372.1h0.7M171.1,376.3h0.7M162.3,379.1h0.7M171.5,383.7h0.7M168.0,379.5h0.7M170.2,377.5h0.7M163.3,373.2h0.7M165.8,377.8h0.7M173.5,375.5h0.7M166.9,378.1h0.7M175.1,383.4h0.7M175.0,381.8h0.7M179.0,381.8h0.7M172.6,381.3h0.7M177.3,380.1h0.7M177.6,377.8h0.7M164.6,379.4h0.7M174.7,386.3h0.7M170.2,376.2h0.7M169.3,378.2h0.7M173.4,379.7h0.7M167.7,387.8h0.7M167.9,378.7h0.7M163.7,377.4h0.7M173.0,373.9h0.7M169.4,377.0h0.7M171.8,381.5h0.7M170.7,382.7h0.7M168.1,380.7h0.7M165.6,374.2h0.7M165.0,378.6h0.7M174.4,385.6h0.7M173.8,381.6h0.7M166.1,385.1h0.7M167.4,379.1h0.7M183.1,382.6h0.7M173.8,375.5h0.7M173.6,377.5h0.7M179.4,381.3h0.7M166.5,379.8h0.7M177.6,375.6h0.7M169.9,381.8h0.7M165.8,378.2h0.7M167.2,383.0h0.7M176.0,375.8h0.7M177.9,384.9h0.7M169.3,380.7h0.7M175.0,381.9h0.7M169.5,380.3h0.7M170.8,373.5h0.7M176.6,380.5h0.7M166.2,376.7h0.7M161.8,380.1h0.7M173.1,380.1h0.7M177.2,378.7h0.7M164.3,379.8h0.7M180.9,384.1h0.7M171.4,385.8h0.7M165.7,377.7h0.7M169.0,386.3h0.7M171.8,376.6h0.7M173.9,373.0h0.7M172.8,376.3h0.7M166.9,380.5h0.7M170.7,377.8h0.7M171.5,377.1h0.7M179.3,380.7h0.7M173.2,384.2h0.7M182.8,374.6h0.7M172.2,375.5h0.7M175.3,377.6h0.7M167.2,378.7h0.7M178.4,376.4h0.7M173.6,378.6h0.7M169.4,380.0h0.7M182.2,378.1h0.7M172.7,380.8h0.7M162.0,378.7h0.7M174.7,380.8h0.7M172.0,376.3h0.7M169.2,381.5h0.7M167.0,382.7h0.7M173.9,384.9h0.7M161.8,375.8h0.7M183.4,382.0h0.7M173.6,376.1h0.7M171.6,381.1h0.7M179.5,372.9h0.7M170.9,375.7h0.7M171.6,378.5h0.7M180.3,385.0h0.7M168.9,382.7h0.7M173.3,380.3h0.7M162.5,386.5h0.7M170.8,376.0h0.7M163.2,384.6h0.7M173.1,382.7h0.7M172.1,375.0h0.7M170.2,376.9h0.7M164.8,380.1h0.7M167.0,380.6h0.7M172.3,377.9h0.7M166.0,378.7h0.7M177.8,383.1h0.7M178.8,376.7h0.7M166.0,380.3h0.7M171.2,381.7h0.7M174.0,374.8h0.7M172.8,384.6h0.7M170.8,379.4h0.7M171.7,374.3h0.7M175.7,381.0h0.7M176.6,377.7h0.7M167.0,376.0h0.7M170.5,379.4h0.7M174.9,376.4h0.7M166.8,375.7h0.7M168.3,382.4h0.7M176.8,379.6h0.7M178.2,381.0h0.7M168.7,381.7h0.7M163.7,377.2h0.7M172.7,379.6h0.7M167.4,378.5h0.7M164.8,376.9h0.7M177.3,383.6h0.7M162.0,382.0h0.7M166.9,374.8h0.7M168.0,379.9h0.7M178.0,383.2h0.7M172.3,383.7h0.7M175.1,387.7h0.7M170.1,378.7h0.7M174.6,378.8h0.7M165.7,378.0h0.7M173.1,387.8h0.7M170.1,378.0h0.7M162.1,377.9h0.7M167.8,380.0h0.7M174.8,378.2h0.7M175.0,377.0h0.7M167.9,380.6h0.7M168.9,381.9h0.7M176.4,377.5h0.7M167.7,375.6h0.7M170.4,379.6h0.7M175.3,380.6h0.7M175.3,374.6h0.7M167.8,379.3h0.7M176.1,379.1h0.7M172.9,376.2h0.7M178.4,379.8h0.7M163.3,378.6h0.7M169.8,380.0h0.7M183.3,375.5h0.7M179.5,375.4h0.7M170.8,375.7h0.7M171.0,383.2h0.7M181.9,382.5h0.7M170.5,382.3h0.7M162.2,379.0h0.7M167.0,372.4h0.7M169.5,375.2h0.7M178.6,376.5h0.7M178.6,378.7h0.7M177.8,381.6h0.7M179.7,376.5h0.7M163.4,380.1h0.7M171.8,383.1h0.7M171.3,380.2h0.7M179.0,380.6h0.7M170.7,379.9h0.7M178.6,383.8h0.7M180.8,381.1h0.7M165.4,382.4h0.7M169.6,376.8h0.7M170.8,377.1h0.7M163.6,379.8h0.7M165.8,382.5h0.7M173.4,375.3h0.7M174.1,380.9h0.7M164.3,382.2h0.7M169.0,378.6h0.7M175.8,372.3h0.7M168.2,381.9h0.7M173.8,384.3h0.7M174.9,379.8h0.7M178.5,379.0h0.7M176.3,370.9h0.7M162.5,383.1h0.7M178.1,381.3h0.7M177.8,373.7h0.7M174.2,375.1h0.7M168.2,376.8h0.7M178.0,376.8h0.7M177.3,382.1h0.7M173.6,380.9h0.7M178.9,380.3h0.7M175.9,381.2h0.7M174.7,379.3h0.7M175.4,376.4h0.7M170.5,375.6h0.7M170.7,383.2h0.7M163.5,376.1h0.7M174.7,377.3h0.7M178.5,379.6h0.7M174.3,383.1h0.7M175.7,379.2h0.7M176.4,382.4h0.7M171.2,376.6h0.7M165.9,374.7h0.7M173.7,383.2h0.7M174.9,378.8h0.7M164.8,381.1h0.7M171.1,384.4h0.7M171.6,379.5h0.7M172.2,375.1h0.7M181.4,378.0h0.7M172.3,380.4h0.7M175.2,376.9h0.7M167.3,378.6h0.7M165.7,376.7h0.7M176.1,378.6h0.7M175.4,378.6h0.7M173.8,377.4h0.7M181.0,377.5h0.7M174.5,385.6h0.7M181.0,377.3h0.7M167.4,380.4h0.7M173.3,383.8h0.7M168.9,381.5h0.7M170.5,377.6h0.7M180.6,384.5h0.7M175.4,380.7h0.7M169.4,385.7h0.7M166.1,383.5h0.7M167.8,381.7h0.7M172.6,378.4h0.7M170.4,380.4h0.7M169.0,377.2h0.7M180.1,377.0h0.7M172.3,375.8h0.7M164.0,377.9h0.7M176.2,382.4h0.7M165.4,376.4h0.7M171.1,383.0h0.7M172.6,375.6h0.7M171.1,374.2h0.7M173.4,375.0h0.7M165.9,373.3h0.7M166.7,377.5h0.7M176.8,378.1h0.7M170.1,377.8h0.7M172.1,378.2h0.7M164.2,378.7h0.7M175.2,374.0h0.7M170.6,376.7h0.7M162.1,378.6h0.7M178.1,377.4h0.7M172.6,387.2h0.7M175.8,379.1h0.7M164.4,383.7h0.7M177.7,378.4h0.7M176.5,381.5h0.7M181.6,382.6h0.7M172.3,382.2h0.7M170.3,376.0h0.7M169.5,378.1h0.7M179.0,379.8h0.7M174.9,376.9h0.7M176.2,377.6h0.7M162.3,381.7h0.7M173.0,384.3h0.7M182.0,379.5h0.7M163.3,372.2h0.7M171.8,375.0h0.7M179.8,381.3h0.7M164.3,373.0h0.7M180.8,383.3h0.7M177.9,384.7h0.7M174.8,377.1h0.7M172.9,379.7h0.7M167.8,379.1h0.7M170.1,371.8h0.7M172.7,377.3h0.7M177.3,378.9h0.7M169.3,382.8h0.7M179.1,381.5h0.7M165.3,379.0h0.7" stroke="#000" stroke-width="0.7" stroke-opacity="0.7" fill="none"/>
<path d="M176.3,393.9h0.7M174.7,387.2h0.7M175.2,395.0h0.7M174.4,390.9h0.7M174.7,389.7h0.7M174.1,392.2h0.7M177.0,387.2h0.7M176.4,386.2h0.7M175.7,390.3h0.7M174.2,388.1h0.7M173.3,395.5h0.7M177.0,385.3h0.7M176.4,390.7h0.7M177.0,390.0h0.7M175.6,385.9h0.7M177.5,390.9h0.7M176.3,394.6h0.7M174.1,384.9h0.7M173.4,394.4h0.7M176.9,385.0h0.7M174.7,386.1h0.7M170.5,391.9h0.7M176.8,389.5h0.7M174.0,388.3h0.7M174.6,385.6h0.7M174.3,392.8h0.7M179.2,390.7h0.7M176.0,388.2h0.7M178.1,395.6h0.7M174.9,390.2h0.7M177.3,387.8h0.7M171.6,401.0h0.7M174.1,399.8h0.7M177.5,386.2h0.7M175.8,386.9h0.7M175.6,391.1h0.7M174.0,389.0h0.7M175.1,396.3h0.7M173.1,392.3h0.7M173.1,392.0h0.7M177.6,388.7h0.7M173.4,387.4h0.7M175.8,397.2h0.7M177.8,388.4h0.7M176.9,403.7h0.7M173.7,403.0h0.7M173.7,399.2h0.7M176.4,390.1h0.7M174.0,392.9h0.7M174.6,405.7h0.7M178.3,406.9h0.7M175.9,385.1h0.7M174.3,386.4h0.7M174.5,394.4h0.7M174.0,386.3h0.7M178.5,397.2h0.7M174.2,400.7h0.7M179.2,392.5h0.7M174.9,384.8h0.7M177.1,389.4h0.7M174.8,388.8h0.7M173.2,393.4h0.7M174.6,386.1h0.7M174.1,392.0h0.7M179.4,390.9h0.7M175.6,385.4h0.7M178.5,389.7h0.7M177.8,387.2h0.7M177.3,389.5h0.7M174.0,387.7h0.7M177.3,386.1h0.7M177.1,398.4h0.7M172.4,394.5h0.7M174.3,391.0h0.7M176.6,394.9h0.7M173.8,386.2h0.7M175.4,385.4h0.7M175.5,399.1h0.7M174.5,388.7h0.7M176.1,388.2h0.7M173.3,391.1h0.7M172.0,387.5h0.7M173.6,390.2h0.7M174.9,394.7h0.7M179.7,387.0h0.7M176.3,395.9h0.7M174.5,406.5h0.7M174.2,405.1h0.7M176.8,396.0h0.7M175.1,387.6h0.7M175.8,389.1h0.7M176.5,390.2h0.7M172.8,403.5h0.7M175.0,386.9h0.7M172.6,390.7h0.7M178.2,389.2h0.7M172.7,386.2h0.7M173.6,393.2h0.7M176.2,387.6h0.7M177.2,390.0h0.7M180.6,397.4h0.7M175.8,392.0h0.7M177.0,408.5h0.7M177.6,389.3h0.7M173.5,400.0h0.7M175.2,391.3h0.7M176.7,389.8h0.7M177.6,387.6h0.7M178.0,385.0h0.7M173.7,397.3h0.7M175.6,391.3h0.7M172.6,407.6h0.7M175.8,386.9h0.7M178.5,396.3h0.7M173.8,386.9h0.7M177.9,387.1h0.7M176.5,391.9h0.7M179.8,397.6h0.7M175.0,399.2h0.7M172.1,387.7h0.7M173.7,385.6h0.7M175.2,405.5h0.7M177.4,390.1h0.7M173.8,396.7h0.7M178.4,386.8h0.7M175.0,393.7h0.7M174.1,398.4h0.7M174.0,385.2h0.7M174.7,386.5h0.7M173.1,395.7h0.7M175.7,391.6h0.7M173.5,386.7h0.7M179.5,385.5h0.7M174.6,397.5h0.7M174.2,389.4h0.7M174.6,390.8h0.7M177.7,398.9h0.7M175.3,408.6h0.7M174.7,388.7h0.7M172.3,393.8h0.7M174.0,406.1h0.7M173.2,385.7h0.7M175.8,388.8h0.7M171.0,386.8h0.7M173.1,386.2h0.7M171.6,388.9h0.7M174.9,395.4h0.7M175.8,387.9h0.7M177.1,395.6h0.7M172.8,385.0h0.7M175.6,390.4h0.7M172.2,385.3h0.7M177.6,393.4h0.7M176.6,396.3h0.7M176.8,397.4h0.7M177.5,385.8h0.7M177.7,388.9h0.7M172.7,393.8h0.7M173.5,386.8h0.7M174.2,389.4h0.7M175.2,389.5h0.7M174.4,387.6h0.7M176.4,396.2h0.7M174.5,384.9h0.7M177.5,396.8h0.7M173.7,395.8h0.7M174.3,395.5h0.7M174.6,393.0h0.7M175.1,389.8h0.7M176.3,386.1h0.7M174.2,385.1h0.7M180.2,394.0h0.7M177.0,387.2h0.7M172.8,386.0h0.7M177.2,396.1h0.7M173.3,391.2h0.7M172.7,395.0h0.7M177.7,391.1h0.7M175.8,395.0h0.7M177.3,403.0h0.7M172.5,385.4h0.7M177.7,398.5h0.7M176.3,386.0h0.7M173.8,391.0h0.7M175.5,402.1h0.7M179.3,391.7h0.7M173.9,385.6h0.7M177.7,387.2h0.7M176.6,390.2h0.7M170.9,391.2h0.7M179.2,388.6h0.7M175.9,401.3h0.7M178.4,406.2h0.7M178.3,394.0h0.7M175.8,386.1h0.7M176.2,390.1h0.7M176.5,386.2h0.7M173.2,393.7h0.7M178.9,387.0h0.7M176.4,403.1h0.7M174.2,395.8h0.7M177.8,391.2h0.7M175.2,387.8h0.7M172.4,399.9h0.7M174.3,396.5h0.7M175.0,398.9h0.7M172.1,387.7h0.7M176.2,394.8h0.7M177.1,394.4h0.7M176.9,386.3h0.7M178.7,392.1h0.7M174.3,392.7h0.7M176.8,386.6h0.7M176.7,387.1h0.7M174.8,399.0h0.7M174.7,397.3h0.7M170.4,388.2h0.7M176.8,390.6h0.7M172.4,385.1h0.7M176.0,394.4h0.7M175.7,390.5h0.7M176.7,385.9h0.7M173.3,385.1h0.7M176.1,385.4h0.7M174.7,385.0h0.7M175.7,391.2h0.7M173.3,389.2h0.7M176.8,388.6h0.7M173.7,396.0h0.7M172.7,393.4h0.7M175.4,390.5h0.7M175.8,386.2h0.7M176.7,385.4h0.7M172.9,385.7h0.7M175.8,403.4h0.7M175.6,403.6h0.7M175.2,396.8h0.7M175.0,387.0h0.7M175.3,387.7h0.7M180.2,387.6h0.7M175.2,385.0h0.7M175.5,394.4h0.7M175.5,393.2h0.7M173.6,386.9h0.7M175.3,386.5h0.7M173.1,390.3h0.7M172.4,388.7h0.7M178.0,385.0h0.7M172.7,387.9h0.7M177.7,399.1h0.7M174.9,385.8h0.7M174.6,387.2h0.7M176.4,388.1h0.7M177.3,394.1h0.7M172.4,394.1h0.7M175.1,385.7h0.7M175.9,394.8h0.7M173.0,400.4h0.7M175.8,388.0h0.7M179.0,401.4h0.7M176.0,386.8h0.7M175.3,397.1h0.7M175.3,397.4h0.7M173.2,396.3h0.7M177.8,390.1h0.7M173.2,386.5h0.7M172.8,388.7h0.7M175.7,386.8h0.7M177.8,388.2h0.7M177.3,399.4h0.7M177.4,400.8h0.7M173.9,391.8h0.7M173.5,385.9h0.7M176.5,389.4h0.7M173.3,385.6h0.7M175.4,388.3h0.7M175.7,399.9h0.7M177.7,389.1h0.7M172.5,386.1h0.7M177.6,403.4h0.7M175.2,389.5h0.7M178.0,385.2h0.7M175.5,398.7h0.7M173.4,388.4h0.7M179.2,388.2h0.7M175.2,387.9h0.7M173.2,395.1h0.7M177.0,401.2h0.7M174.9,392.2h0.7M172.4,388.7h0.7M177.6,399.2h0.7M174.9,395.7h0.7M178.7,390.8h0.7M176.0,389.2h0.7M175.8,385.4h0.7M175.9,386.5h0.7M175.2,386.4h0.7M174.8,405.1h0.7M175.5,394.6h0.7M173.7,397.9h0.7M177.6,386.2h0.7M180.4,392.1h0.7M179.2,392.4h0.7M171.1,391.5h0.7M175.6,390.3h0.7M173.5,389.7h0.7M177.2,394.8h0.7M175.5,388.4h0.7M172.8,393.2h0.7M178.2,396.3h0.7M175.3,388.9h0.7M174.1,396.0h0.7M174.7,389.1h0.7M175.0,387.8h0.7M174.1,393.8h0.7M177.1,385.8h0.7M175.0,389.6h0.7M177.5,389.6h0.7M175.6,386.7h0.7M178.2,396.5h0.7M174.1,385.3h0.7M170.6,398.1h0.7M176.5,394.7h0.7M178.8,387.4h0.7M176.6,385.3h0.7M174.0,387.0h0.7M175.4,396.2h0.7M175.0,397.2h0.7M176.0,390.0h0.7M175.8,388.3h0.7" stroke="#000" stroke-width="0.7" stroke-opacity="0.7" fill="none"/>
<ellipse cx="175.9" cy="388.3" rx="2.4" ry="4.5" fill="#000" fill-opacity="0.45" filter="url(#bl)"/>
<path d="M164.3,401.6h0.7M173.8,394.1h0.7M171.9,387.2h0.7M173.0,391.9h0.7M175.2,391.2h0.7M169.5,387.0h0.7M169.5,388.9h0.7M171.0,389.5h0.7M167.7,388.7h0.7M171.0,393.0h0.7M172.2,394.3h0.7M175.6,387.1h0.7M174.2,389.3h0.7M166.0,403.3h0.7M170.9,388.1h0.7M174.9,396.4h0.7M171.8,390.0h0.7M175.6,391.4h0.7M169.2,387.5h0.7M169.6,387.0h0.7M171.5,391.3h0.7M172.3,396.6h0.7M175.3,389.0h0.7M169.6,391.1h0.7M173.0,390.4h0.7M164.9,403.1h0.7M168.6,399.0h0.7M172.3,389.7h0.7M171.2,399.5h0.7M167.0,388.3h0.7M171.9,393.3h0.7M170.0,402.9h0.7M174.7,391.9h0.7M166.2,387.5h0.7M175.5,390.5h0.7M170.9,389.3h0.7M171.3,398.3h0.7M172.1,389.1h0.7M170.1,397.5h0.7M171.8,391.6h0.7M167.9,388.7h0.7M168.6,388.3h0.7M173.2,397.7h0.7M167.6,392.5h0.7M170.8,394.3h0.7M174.6,391.2h0.7M169.8,409.4h0.7M171.7,389.3h0.7M175.7,398.0h0.7M164.2,390.4h0.7M173.0,397.5h0.7M170.8,394.1h0.7M169.8,393.9h0.7M174.9,391.2h0.7M172.9,398.8h0.7M171.3,393.6h0.7M168.7,399.3h0.7M174.3,400.4h0.7M174.7,391.4h0.7M168.2,395.5h0.7M173.5,387.3h0.7M170.6,391.8h0.7M165.4,389.8h0.7M174.7,388.7h0.7M172.8,396.4h0.7M170.8,388.9h0.7M169.9,400.9h0.7M168.8,390.9h0.7M169.5,394.7h0.7M170.9,387.5h0.7M174.0,397.9h0.7M171.4,399.6h0.7M173.9,395.4h0.7M175.1,394.7h0.7M168.9,387.0h0.7M172.1,388.8h0.7M173.0,408.5h0.7M172.6,395.5h0.7M169.9,389.8h0.7M175.7,386.9h0.7M167.7,393.6h0.7M171.4,387.4h0.7M173.4,391.0h0.7M175.8,389.9h0.7M174.6,394.4h0.7M174.6,391.4h0.7M171.0,393.6h0.7M168.4,390.5h0.7M168.9,390.3h0.7M173.1,387.6h0.7M170.7,394.0h0.7M174.1,392.7h0.7M170.2,389.8h0.7M175.7,391.6h0.7M172.7,388.7h0.7M173.4,402.2h0.7M175.2,406.2h0.7M174.0,396.0h0.7M173.7,388.1h0.7M169.0,407.4h0.7M172.7,394.0h0.7M169.3,399.3h0.7M167.4,399.9h0.7M174.4,399.7h0.7M174.8,397.5h0.7M172.3,399.6h0.7M175.7,400.0h0.7M175.4,399.6h0.7M175.8,389.9h0.7M165.7,391.0h0.7M175.7,407.0h0.7M172.8,396.2h0.7M172.7,396.9h0.7M171.9,391.9h0.7M171.3,404.6h0.7M166.1,391.6h0.7M164.3,389.2h0.7M168.5,395.4h0.7M163.3,392.2h0.7M174.9,402.4h0.7M173.8,395.5h0.7M173.4,387.3h0.7M168.6,396.5h0.7M171.3,396.0h0.7M172.8,395.2h0.7M172.2,391.1h0.7M172.9,395.1h0.7M174.0,390.9h0.7M165.3,397.2h0.7M171.1,388.6h0.7M169.1,387.4h0.7M173.9,397.0h0.7M172.7,398.0h0.7M173.6,399.0h0.7M172.7,390.4h0.7M173.9,390.3h0.7M171.4,406.4h0.7M170.0,404.7h0.7M174.6,393.1h0.7M173.9,388.7h0.7M171.3,403.1h0.7M166.8,390.7h0.7M165.0,393.3h0.7M175.4,400.3h0.7M169.4,395.4h0.7M174.5,393.6h0.7M175.8,391.9h0.7M164.1,408.0h0.7M173.9,391.2h0.7M173.7,389.3h0.7M169.0,398.7h0.7M170.8,387.6h0.7M175.4,393.4h0.7M174.1,387.5h0.7M168.2,397.9h0.7M164.3,399.3h0.7M169.5,394.1h0.7M167.8,389.7h0.7M171.5,401.6h0.7M165.6,393.7h0.7M175.3,393.6h0.7M175.3,395.2h0.7M168.9,389.0h0.7M166.8,389.5h0.7M172.2,392.1h0.7M175.9,389.0h0.7M166.0,398.5h0.7M175.2,394.9h0.7M171.2,392.4h0.7M169.5,390.9h0.7M174.3,389.5h0.7M168.8,391.1h0.7M171.3,387.1h0.7M172.0,396.9h0.7M166.4,397.7h0.7M174.8,389.8h0.7M168.2,387.7h0.7M175.5,392.2h0.7M167.2,393.6h0.7M168.8,387.3h0.7M162.3,392.7h0.7M165.2,387.5h0.7M165.2,397.9h0.7M175.3,390.4h0.7M173.9,387.0h0.7M171.4,400.7h0.7M173.1,388.8h0.7M172.4,400.8h0.7M166.6,389.9h0.7M175.0,399.1h0.7M173.4,387.5h0.7M170.7,390.9h0.7" stroke="#000" stroke-width="0.7" stroke-opacity="0.6" fill="none"/>
<path d="M167.7,379.2h0.7M172.9,381.5h0.7M180.9,395.4h0.7M177.1,384.4h0.7M172.3,391.7h0.7M176.2,389.6h0.7M169.8,379.6h0.7M166.3,397.2h0.7M174.7,393.1h0.7M179.2,378.3h0.7M178.7,385.1h0.7M169.2,403.7h0.7M168.8,381.7h0.7M180.6,396.6h0.7" stroke="#000" stroke-width="0.7" stroke-opacity="0.35" fill="none"/>
<path d="M192.3,376.1h0.7M188.5,376.2h0.7M193.5,377.1h0.7M202.5,372.6h0.7M200.5,377.4h0.7M195.4,374.6h0.7M184.8,375.4h0.7M190.6,374.2h0.7M185.0,377.9h0.7M200.6,379.1h0.7M188.5,377.9h0.7M190.9,378.8h0.7M188.3,377.5h0.7M195.5,375.9h0.7M202.6,377.5h0.7M184.2,378.2h0.7M195.3,378.1h0.7M194.7,377.3h0.7M198.5,375.6h0.7M201.2,376.5h0.7M195.9,375.4h0.7M201.8,374.5h0.7M193.7,376.6h0.7M197.5,377.9h0.7M192.3,375.4h0.7M188.3,377.3h0.7M190.1,375.4h0.7M194.8,378.3h0.7M182.6,377.1h0.7M197.4,376.3h0.7M188.0,378.1h0.7M196.3,374.5h0.7M198.9,374.1h0.7M198.8,374.8h0.7M183.9,375.8h0.7M187.8,374.2h0.7M190.4,378.9h0.7M187.4,374.2h0.7M192.9,374.5h0.7M186.7,377.0h0.7M190.4,377.3h0.7M200.4,375.2h0.7M202.7,378.8h0.7M188.0,378.4h0.7M185.0,371.5h0.7M194.9,377.3h0.7M188.1,374.7h0.7M186.0,375.8h0.7M202.1,375.1h0.7M196.1,376.5h0.7M193.0,375.8h0.7M182.8,380.1h0.7M188.4,376.1h0.7M183.0,376.6h0.7M198.4,376.8h0.7M190.6,377.4h0.7M191.4,376.0h0.7M198.5,376.3h0.7M182.7,375.8h0.7M187.2,375.3h0.7M187.9,379.0h0.7M188.2,375.7h0.7M184.7,377.1h0.7M186.2,376.1h0.7M197.0,374.2h0.7M184.4,376.0h0.7M189.5,379.0h0.7M190.0,376.5h0.7M189.2,377.7h0.7M195.3,377.0h0.7M188.0,376.4h0.7M182.5,375.9h0.7M183.3,379.3h0.7M199.8,376.5h0.7M194.0,376.7h0.7M185.7,375.1h0.7M187.3,375.5h0.7M199.6,377.5h0.7M199.9,373.9h0.7M188.9,378.5h0.7M194.6,375.5h0.7M197.6,374.1h0.7M197.2,376.2h0.7M197.9,379.2h0.7M199.9,375.8h0.7M189.5,378.2h0.7M200.0,374.0h0.7M200.6,375.7h0.7M190.2,375.0h0.7M189.0,376.5h0.7M193.1,376.0h0.7M194.5,376.1h0.7M189.8,377.4h0.7M200.1,378.2h0.7M196.8,376.8h0.7M191.0,375.8h0.7M187.2,378.9h0.7M185.4,377.9h0.7M199.9,374.5h0.7M200.4,376.0h0.7M189.1,378.4h0.7M196.3,374.6h0.7M199.5,374.7h0.7M197.0,376.2h0.7M186.1,376.8h0.7M201.7,375.3h0.7M202.1,375.6h0.7M196.8,377.6h0.7M202.4,374.3h0.7M193.2,376.7h0.7M184.7,378.3h0.7M197.6,374.5h0.7M199.8,377.0h0.7M197.0,377.2h0.7M186.2,375.2h0.7M188.7,376.2h0.7M184.1,376.4h0.7M198.1,375.9h0.7M200.5,377.5h0.7M194.8,378.1h0.7M195.0,376.0h0.7M202.1,377.0h0.7M198.5,377.0h0.7M190.2,377.3h0.7M191.5,378.9h0.7M197.1,378.5h0.7M188.9,376.0h0.7M187.5,377.4h0.7M187.6,378.2h0.7M184.0,375.8h0.7M201.2,375.8h0.7M198.1,376.6h0.7M198.1,376.4h0.7M201.2,375.3h0.7M186.0,373.8h0.7M197.2,373.0h0.7M190.6,375.6h0.7M196.0,374.9h0.7M194.5,378.6h0.7M190.6,375.4h0.7M198.2,375.7h0.7M196.8,375.2h0.7M194.4,377.3h0.7M193.8,378.2h0.7M193.3,377.5h0.7M201.2,373.9h0.7M185.9,378.9h0.7M182.6,374.9h0.7M191.4,377.5h0.7M202.0,375.1h0.7M183.7,378.9h0.7M195.2,372.5h0.7M193.0,375.1h0.7M189.0,376.4h0.7M197.7,374.6h0.7M183.5,378.2h0.7M203.2,377.1h0.7M198.1,376.0h0.7M193.9,376.6h0.7M199.8,375.1h0.7M192.3,374.9h0.7M183.2,375.7h0.7M193.2,376.3h0.7M191.5,375.7h0.7M193.6,377.3h0.7M187.8,379.3h0.7M192.3,375.7h0.7M199.2,375.8h0.7M182.5,378.6h0.7M196.1,378.5h0.7M197.4,378.0h0.7M199.0,374.6h0.7M186.7,379.1h0.7M190.3,375.8h0.7M199.0,376.2h0.7M197.0,379.0h0.7M185.4,378.7h0.7M192.0,374.9h0.7M199.1,373.0h0.7M183.3,377.6h0.7M184.1,376.4h0.7M193.1,374.9h0.7M189.1,374.6h0.7M192.1,372.6h0.7M198.7,374.8h0.7M193.3,377.4h0.7M199.9,375.8h0.7M198.6,376.6h0.7M200.8,377.3h0.7M186.1,376.4h0.7M184.0,377.0h0.7M189.1,378.7h0.7M191.4,376.0h0.7M190.0,375.1h0.7M185.9,377.1h0.7M193.3,376.2h0.7M193.1,377.8h0.7M196.2,375.6h0.7M193.2,377.1h0.7M202.3,374.2h0.7" stroke="#000" stroke-width="0.7" stroke-opacity="0.85" fill="none"/>
<ellipse cx="192.4" cy="376.6" rx="9" ry="1.7" fill="#000" fill-opacity="0.55" filter="url(#bl)"/>
</g>
<rect x="161.75" y="362.4" width="42.6" height="42.400000000000034" fill="none" stroke="#000" stroke-width="1.35"/>
<path d="M181.45,362.4V404.8M161.75,386.8H204.35" stroke="#000" stroke-width="1.2" fill="none"/>
<path d="M160.45,365.0h1.3M164.4,404.8v1.3M160.45,367.7h1.3M167.1,404.8v1.3M160.45,370.3h1.3M169.7,404.8v1.3M160.45,373.0h1.3M172.4,404.8v1.3M160.45,375.6h1.3M175.1,404.8v1.3M160.45,378.3h1.3M177.7,404.8v1.3M160.45,380.9h1.3M180.4,404.8v1.3M160.45,383.6h1.3M183.1,404.8v1.3M160.45,386.2h1.3M185.7,404.8v1.3M160.45,388.9h1.3M188.4,404.8v1.3M160.45,391.6h1.3M191.0,404.8v1.3M160.45,394.2h1.3M193.7,404.8v1.3M160.45,396.9h1.3M196.4,404.8v1.3M160.45,399.5h1.3M199.0,404.8v1.3M160.45,402.1h1.3M201.7,404.8v1.3" stroke="#000" stroke-width="0.6" stroke-opacity="0.6"/>
<text x="202.75" y="368.70" font-size="7" text-anchor="end" font-weight="normal" fill="#111" >4.73</text>
<clipPath id="c32"><rect x="207.1" y="362.4" width="42.6" height="42.400000000000034"/></clipPath><g clip-path="url(#c32)">
<ellipse cx="219.3" cy="379.4" rx="8.6" ry="6.0" fill="#000" fill-opacity="1" filter="url(#bl)"/>
<ellipse cx="214.6" cy="379.0" rx="7" ry="4.3" fill="#000" fill-opacity="1" filter="url(#bl)"/>
<ellipse cx="222.1" cy="379.8" rx="5.5" ry="5.6" fill="#000" fill-opacity="1" filter="url(#bl)"/>
<path d="M215.6,379.0h0.7M221.2,379.0h0.7M224.4,380.6h0.7M213.7,375.6h0.7M226.1,382.2h0.7M215.7,374.4h0.7M213.8,377.9h0.7M221.5,380.3h0.7M223.4,382.6h0.7M213.8,376.2h0.7M215.9,376.7h0.7M221.9,383.9h0.7M221.4,376.6h0.7M226.3,386.1h0.7M225.7,382.8h0.7M213.3,381.9h0.7M222.0,378.1h0.7M224.2,372.4h0.7M228.2,370.7h0.7M219.2,378.2h0.7M217.4,381.0h0.7M217.0,383.4h0.7M207.2,383.7h0.7M228.1,378.0h0.7M220.2,380.1h0.7M224.5,376.8h0.7M224.6,375.5h0.7M212.7,378.6h0.7M218.1,371.2h0.7M214.0,379.1h0.7M214.2,381.3h0.7M221.5,376.9h0.7M212.5,378.5h0.7M213.5,374.7h0.7M211.9,387.4h0.7M212.4,380.3h0.7M227.7,381.2h0.7M213.3,375.5h0.7M223.4,382.4h0.7M217.2,379.8h0.7M226.1,380.4h0.7M226.0,382.9h0.7M220.5,385.8h0.7M216.0,382.6h0.7M212.3,384.1h0.7M208.1,375.5h0.7M213.2,386.6h0.7M220.8,386.2h0.7M223.2,374.8h0.7M218.9,381.1h0.7M215.3,383.0h0.7M223.2,379.1h0.7M215.7,376.2h0.7M218.9,381.3h0.7M219.8,380.4h0.7M217.8,379.2h0.7M218.3,377.2h0.7M215.0,386.0h0.7M225.5,384.4h0.7M217.7,381.7h0.7M219.9,378.4h0.7M212.6,383.1h0.7M222.2,375.4h0.7M213.1,379.7h0.7M215.6,374.2h0.7M221.3,376.1h0.7M219.2,376.1h0.7M223.4,383.6h0.7M222.0,380.2h0.7M224.5,379.5h0.7M212.1,385.9h0.7M216.8,383.3h0.7M214.3,374.6h0.7M224.5,377.6h0.7M218.2,378.4h0.7M221.9,377.3h0.7M218.4,379.0h0.7M212.7,381.9h0.7M211.0,380.0h0.7M217.0,380.5h0.7M221.8,385.8h0.7M216.8,375.4h0.7M218.3,377.2h0.7M211.6,380.2h0.7M215.0,383.0h0.7M224.4,382.8h0.7M213.8,376.1h0.7M221.4,373.0h0.7M214.2,376.6h0.7M214.8,382.0h0.7M220.7,379.0h0.7M222.5,382.3h0.7M222.2,384.3h0.7M227.9,378.4h0.7M211.3,378.4h0.7M213.0,382.3h0.7M217.3,376.6h0.7M219.7,381.8h0.7M226.6,380.4h0.7M216.9,377.6h0.7M212.3,377.8h0.7M220.8,381.0h0.7M220.3,371.8h0.7M216.3,384.1h0.7M211.5,381.4h0.7M215.2,383.4h0.7M221.3,381.8h0.7M222.4,383.3h0.7M212.5,376.6h0.7M215.2,384.2h0.7M216.5,381.1h0.7M213.7,380.8h0.7M223.3,374.5h0.7M225.5,378.4h0.7M219.4,374.5h0.7M220.9,380.4h0.7M217.0,380.5h0.7M221.6,385.9h0.7M211.7,383.8h0.7M217.1,376.8h0.7M222.1,380.7h0.7M218.2,382.2h0.7M209.0,379.8h0.7M213.7,379.3h0.7M219.7,379.2h0.7M220.7,376.1h0.7M218.6,379.3h0.7M211.3,380.2h0.7M209.8,386.1h0.7M223.3,381.7h0.7M227.1,373.5h0.7M220.2,378.8h0.7M220.6,373.0h0.7M225.6,375.6h0.7M221.8,383.3h0.7M219.5,380.2h0.7M210.7,377.3h0.7M220.4,378.6h0.7M222.6,376.2h0.7M218.3,376.7h0.7M208.5,380.1h0.7M217.7,380.4h0.7M215.5,384.6h0.7M210.8,379.2h0.7M227.7,382.8h0.7M212.8,378.1h0.7M219.0,377.7h0.7M219.9,386.8h0.7M225.4,387.2h0.7M226.8,370.0h0.7M221.9,375.1h0.7M221.4,385.7h0.7M221.4,371.3h0.7M218.5,378.4h0.7M224.2,374.9h0.7M216.7,379.2h0.7M219.1,380.9h0.7M225.4,380.2h0.7M228.2,380.5h0.7M219.5,376.0h0.7M216.4,378.0h0.7M226.8,378.6h0.7M218.3,381.2h0.7M218.2,382.2h0.7M214.9,377.0h0.7M216.9,383.1h0.7M212.2,372.4h0.7M219.1,377.7h0.7M220.9,378.8h0.7M228.3,380.8h0.7M215.5,378.7h0.7M228.7,377.4h0.7M220.6,385.4h0.7M223.2,383.0h0.7M212.0,380.3h0.7M227.5,382.2h0.7M207.2,383.8h0.7M223.8,380.2h0.7M223.1,376.3h0.7M228.1,384.4h0.7M223.6,383.0h0.7M210.9,379.1h0.7M218.6,382.2h0.7M210.6,380.0h0.7M226.3,376.5h0.7M215.3,376.6h0.7M228.6,377.9h0.7M213.9,379.3h0.7M225.5,384.0h0.7M216.4,372.7h0.7M227.7,379.9h0.7M216.6,379.9h0.7M208.3,385.1h0.7M221.5,386.9h0.7M209.9,376.5h0.7M208.9,384.2h0.7M214.6,380.3h0.7M213.6,375.5h0.7M214.2,380.6h0.7M215.5,378.1h0.7M219.1,377.7h0.7M218.2,375.6h0.7M208.9,375.0h0.7M211.7,382.2h0.7M208.8,375.1h0.7M225.6,376.3h0.7M216.0,378.7h0.7M215.6,381.3h0.7M219.2,383.5h0.7M216.8,380.6h0.7M213.1,383.6h0.7M210.4,374.7h0.7M213.9,377.3h0.7M208.1,373.4h0.7M212.2,380.0h0.7M228.4,377.1h0.7M212.6,379.9h0.7M223.7,384.3h0.7M223.1,377.2h0.7M223.5,371.7h0.7M220.3,385.3h0.7M223.9,387.7h0.7M215.6,380.0h0.7M217.6,382.5h0.7M225.8,379.4h0.7M222.5,381.0h0.7M219.7,374.9h0.7M219.9,382.6h0.7M215.0,374.0h0.7M224.8,385.3h0.7M217.1,383.2h0.7M209.9,384.1h0.7M216.7,383.7h0.7M211.2,380.7h0.7M214.3,373.0h0.7M208.4,381.5h0.7M214.9,382.3h0.7M221.0,382.3h0.7M216.3,377.4h0.7M217.0,381.1h0.7M213.4,381.5h0.7M218.6,379.7h0.7M227.0,382.9h0.7M207.2,375.6h0.7M219.9,376.4h0.7M213.1,380.7h0.7M226.3,377.8h0.7M222.7,381.4h0.7M214.2,382.9h0.7M215.1,385.5h0.7M215.6,375.1h0.7M214.3,373.1h0.7M221.3,375.0h0.7M221.2,380.2h0.7M220.0,380.0h0.7M221.3,382.8h0.7M211.5,381.4h0.7M209.3,378.5h0.7M211.1,384.0h0.7M220.9,378.0h0.7M216.7,376.0h0.7M222.7,376.6h0.7M222.1,384.1h0.7M224.1,384.2h0.7M212.9,373.8h0.7M216.3,378.4h0.7M219.3,375.4h0.7M221.2,380.4h0.7M214.7,373.8h0.7M212.2,378.6h0.7M227.3,385.1h0.7M212.5,382.7h0.7M218.7,382.3h0.7M218.5,377.6h0.7M210.0,381.4h0.7M213.1,376.8h0.7M223.0,387.2h0.7M222.9,380.4h0.7M217.0,380.7h0.7M210.9,376.5h0.7M208.3,375.6h0.7M210.7,377.3h0.7M218.9,373.6h0.7M220.3,379.3h0.7M215.1,378.3h0.7M223.2,373.7h0.7M218.8,378.6h0.7M220.9,381.3h0.7M223.8,374.9h0.7M209.7,376.5h0.7M216.5,376.3h0.7M218.9,384.3h0.7M213.6,379.9h0.7M227.0,385.4h0.7M223.8,378.6h0.7M221.2,379.6h0.7M213.3,375.7h0.7M219.7,373.9h0.7M211.7,376.1h0.7M223.9,376.4h0.7M215.3,376.3h0.7M219.0,382.4h0.7M220.0,375.7h0.7M226.2,371.0h0.7M228.7,379.6h0.7M212.9,382.0h0.7M222.0,381.4h0.7M216.3,373.5h0.7M225.1,380.9h0.7M214.2,380.1h0.7M228.3,379.9h0.7M225.1,383.2h0.7M214.7,380.4h0.7M214.4,381.2h0.7M219.6,382.1h0.7M219.0,379.1h0.7M218.7,381.2h0.7M223.6,372.5h0.7M216.1,382.9h0.7M213.4,381.2h0.7M221.2,381.6h0.7M221.7,378.1h0.7M226.5,375.3h0.7M225.0,376.8h0.7M217.2,382.9h0.7M216.3,379.7h0.7M219.7,376.4h0.7M218.8,372.1h0.7M214.2,378.5h0.7M222.7,378.6h0.7M210.1,378.7h0.7M221.1,379.5h0.7M217.8,376.6h0.7M218.4,379.9h0.7M212.3,382.8h0.7M219.5,384.7h0.7M218.9,382.6h0.7M210.5,381.3h0.7M217.5,378.5h0.7M211.4,383.3h0.7M219.9,383.1h0.7M225.4,376.4h0.7M216.6,375.4h0.7M217.1,378.0h0.7M213.2,379.6h0.7M214.9,379.6h0.7M226.1,382.2h0.7M220.9,384.2h0.7M219.1,380.0h0.7M218.6,373.8h0.7M218.7,375.2h0.7M228.4,380.6h0.7M213.7,382.8h0.7M218.9,376.5h0.7M225.3,382.0h0.7M222.6,384.1h0.7M209.6,376.0h0.7M216.6,380.0h0.7M212.5,377.6h0.7M222.0,387.8h0.7M222.7,374.7h0.7M225.2,381.0h0.7M220.6,377.5h0.7M212.3,376.2h0.7M212.0,379.4h0.7M210.9,377.3h0.7M219.9,386.0h0.7M208.9,385.0h0.7M224.3,375.0h0.7M212.9,384.0h0.7M220.2,381.6h0.7M214.3,377.5h0.7M212.6,378.8h0.7M215.7,380.1h0.7M215.6,383.6h0.7M210.9,382.7h0.7M219.9,383.7h0.7M218.0,385.7h0.7M216.0,385.7h0.7M212.5,381.8h0.7M220.5,378.9h0.7M220.4,379.3h0.7M220.8,380.8h0.7M210.1,379.6h0.7M222.8,376.1h0.7M221.6,381.5h0.7M224.7,379.7h0.7M212.9,377.6h0.7M215.0,383.2h0.7M225.8,381.2h0.7M215.1,383.4h0.7M210.9,383.9h0.7M216.3,380.1h0.7M212.1,382.9h0.7M222.1,384.2h0.7M215.9,387.3h0.7M221.2,382.2h0.7M214.4,380.4h0.7M215.0,381.8h0.7M219.7,376.8h0.7M224.2,373.9h0.7M216.2,381.7h0.7M211.7,379.5h0.7M220.3,389.6h0.7M219.3,382.1h0.7M220.3,377.8h0.7M218.1,379.2h0.7M216.9,379.6h0.7M214.1,376.4h0.7M219.7,381.9h0.7M228.8,387.3h0.7M216.8,379.6h0.7M220.7,381.6h0.7M215.5,378.0h0.7M208.3,377.5h0.7M221.7,379.7h0.7M212.3,377.2h0.7M225.7,380.2h0.7M226.9,380.5h0.7M224.4,378.9h0.7M216.5,383.5h0.7M212.1,373.8h0.7M222.2,380.5h0.7M215.3,381.1h0.7M218.6,376.3h0.7M216.8,382.5h0.7M212.3,388.1h0.7M217.3,375.7h0.7M226.6,380.1h0.7M220.8,385.8h0.7M218.7,379.4h0.7M214.7,379.1h0.7M222.6,384.2h0.7M214.7,377.3h0.7M220.6,381.5h0.7M217.2,378.1h0.7M209.3,382.4h0.7M217.6,374.2h0.7M224.3,379.8h0.7M211.3,382.4h0.7M225.9,382.0h0.7M212.5,381.0h0.7M220.7,383.4h0.7M218.0,376.2h0.7M213.0,384.1h0.7M218.6,379.4h0.7M224.8,376.9h0.7M222.8,374.3h0.7M218.9,377.9h0.7M223.9,382.6h0.7M218.7,379.9h0.7M208.0,377.8h0.7M221.9,388.0h0.7M218.1,376.6h0.7M211.1,378.6h0.7M211.0,383.8h0.7M216.0,373.8h0.7M211.8,385.6h0.7M223.7,381.0h0.7M213.2,376.9h0.7M227.6,382.9h0.7M221.8,375.1h0.7M222.8,385.6h0.7M214.7,373.3h0.7M211.3,379.1h0.7M209.5,380.7h0.7M216.8,381.5h0.7M215.6,380.0h0.7M222.5,385.5h0.7M213.2,372.9h0.7M215.4,375.4h0.7M220.1,381.4h0.7M225.9,374.5h0.7M222.9,388.3h0.7M212.8,374.4h0.7M219.1,376.5h0.7M214.6,381.2h0.7M223.0,383.4h0.7M210.5,384.3h0.7M217.4,381.1h0.7M225.7,380.6h0.7M212.6,374.6h0.7M214.9,378.2h0.7M228.0,380.7h0.7M225.4,381.3h0.7M227.4,380.5h0.7M218.8,378.5h0.7M223.7,374.2h0.7M207.2,380.5h0.7M217.8,373.1h0.7M218.1,381.0h0.7M210.3,380.4h0.7M225.2,377.2h0.7M218.9,380.4h0.7M225.8,387.1h0.7M227.7,379.7h0.7M225.3,378.0h0.7M224.5,376.0h0.7M213.5,381.5h0.7M222.7,380.4h0.7M227.4,381.7h0.7M218.5,379.5h0.7M217.0,380.0h0.7M214.2,377.7h0.7M215.6,378.4h0.7M226.6,377.0h0.7M218.3,373.0h0.7M216.7,380.0h0.7M211.0,377.5h0.7M218.7,375.1h0.7M214.5,379.2h0.7M219.8,381.1h0.7M212.9,384.3h0.7M224.9,381.1h0.7M216.4,378.7h0.7M219.0,377.7h0.7M225.4,379.2h0.7M222.6,386.4h0.7M215.0,381.2h0.7M218.7,384.3h0.7M217.2,379.4h0.7M222.9,381.4h0.7M219.0,374.2h0.7M225.8,382.4h0.7M219.9,377.6h0.7M210.4,379.4h0.7M215.0,378.2h0.7M215.6,375.4h0.7M222.9,379.1h0.7M219.3,381.4h0.7M215.3,376.5h0.7M209.4,378.2h0.7M223.4,383.8h0.7M226.1,383.0h0.7M221.0,378.0h0.7M215.7,378.6h0.7M217.6,376.0h0.7M220.8,382.5h0.7M215.4,373.4h0.7M216.3,384.7h0.7M211.9,383.0h0.7M214.3,379.4h0.7M219.1,380.0h0.7M223.1,378.5h0.7M212.6,373.3h0.7M210.3,383.5h0.7M219.6,384.7h0.7M212.4,377.0h0.7M219.7,378.2h0.7M210.8,383.1h0.7M217.4,378.1h0.7M217.5,380.2h0.7M216.9,379.6h0.7M226.2,377.1h0.7M220.2,378.4h0.7M215.5,380.7h0.7M212.0,382.4h0.7M226.7,371.3h0.7M212.3,384.8h0.7M225.5,372.8h0.7M218.7,385.6h0.7M226.3,381.4h0.7M222.7,378.2h0.7M213.6,383.4h0.7M213.3,383.8h0.7M220.7,380.6h0.7M222.4,380.5h0.7M214.1,378.9h0.7M210.7,385.6h0.7M216.2,371.8h0.7M223.3,378.2h0.7M222.6,383.6h0.7M219.8,377.5h0.7M216.8,380.6h0.7M221.0,377.0h0.7M209.3,381.4h0.7M225.0,380.8h0.7M211.9,385.9h0.7M227.0,381.8h0.7M214.2,378.8h0.7M226.8,372.8h0.7M209.2,387.4h0.7M209.8,377.3h0.7M214.9,380.9h0.7M227.6,380.8h0.7M211.9,380.7h0.7M223.4,385.8h0.7M212.6,379.6h0.7M210.0,383.5h0.7M212.4,378.6h0.7M218.9,383.5h0.7M213.2,377.8h0.7M212.5,382.1h0.7M208.8,380.2h0.7M217.3,382.8h0.7M218.5,381.0h0.7M219.8,376.3h0.7M218.6,381.5h0.7M209.3,373.8h0.7M215.6,380.0h0.7M218.2,376.4h0.7M219.6,373.3h0.7M224.5,379.6h0.7" stroke="#000" stroke-width="0.7" stroke-opacity="0.7" fill="none"/>
<path d="M224.0,399.9h0.7M222.5,402.5h0.7M221.5,394.9h0.7M221.2,385.1h0.7M221.3,385.4h0.7M220.8,413.7h0.7M220.2,394.2h0.7M221.8,394.6h0.7M222.0,386.3h0.7M221.5,393.5h0.7M222.6,388.6h0.7M222.6,390.2h0.7M221.3,402.0h0.7M223.2,391.2h0.7M222.1,391.2h0.7M223.0,386.3h0.7M220.3,404.9h0.7M221.0,398.8h0.7M221.7,391.5h0.7M222.1,389.8h0.7M222.4,385.3h0.7M224.9,397.5h0.7M224.1,389.6h0.7M222.1,385.3h0.7M227.0,408.6h0.7M222.6,399.5h0.7M223.6,390.6h0.7M224.1,397.6h0.7M223.5,389.5h0.7M217.9,390.8h0.7M224.1,389.1h0.7M223.1,385.1h0.7M222.9,393.9h0.7M222.1,404.2h0.7M221.9,396.6h0.7M218.5,388.6h0.7M222.9,397.4h0.7M220.5,397.9h0.7M223.4,400.5h0.7M224.5,392.7h0.7M223.0,394.8h0.7M225.8,394.3h0.7M221.8,396.4h0.7M221.5,399.1h0.7M221.8,386.8h0.7M221.6,402.9h0.7M218.9,399.8h0.7M220.2,390.1h0.7M226.0,392.3h0.7M225.4,392.5h0.7M223.8,387.0h0.7M217.2,389.3h0.7M223.3,392.3h0.7M223.0,395.5h0.7M224.3,385.8h0.7M221.6,402.2h0.7M219.3,391.2h0.7M222.6,389.1h0.7M219.5,389.4h0.7M224.2,402.6h0.7M224.2,399.3h0.7M224.5,390.2h0.7M223.4,398.9h0.7M224.2,390.6h0.7M224.9,398.7h0.7M224.1,385.6h0.7M222.5,385.6h0.7M220.9,385.2h0.7M221.4,392.1h0.7M223.5,391.2h0.7M223.9,390.5h0.7M224.0,388.8h0.7M223.3,386.2h0.7M219.4,398.5h0.7M223.3,401.8h0.7M225.4,385.4h0.7M222.5,387.6h0.7M225.8,398.5h0.7M221.5,393.5h0.7M222.1,393.9h0.7M222.4,386.3h0.7M220.6,392.9h0.7M222.1,386.0h0.7M221.0,393.9h0.7M226.1,385.3h0.7M223.0,400.5h0.7M226.5,385.7h0.7M223.7,385.3h0.7M218.6,393.5h0.7M221.0,388.6h0.7M227.1,390.8h0.7M222.5,394.0h0.7M224.2,391.3h0.7M219.6,386.7h0.7M223.5,384.9h0.7M220.9,385.4h0.7M223.4,403.7h0.7M225.7,387.8h0.7M223.8,390.1h0.7M220.0,386.8h0.7M225.5,386.5h0.7M219.7,388.5h0.7M223.9,386.2h0.7M222.5,393.0h0.7M222.4,400.1h0.7M221.8,402.8h0.7M223.0,389.5h0.7M226.8,397.5h0.7M222.3,389.1h0.7M220.2,388.1h0.7M220.2,404.6h0.7M220.4,394.4h0.7M222.4,394.0h0.7M223.3,387.2h0.7M224.7,388.7h0.7M222.9,385.1h0.7M220.2,388.5h0.7M220.1,385.1h0.7M224.5,391.7h0.7M225.8,385.3h0.7M222.1,395.5h0.7M219.8,390.5h0.7M221.5,387.7h0.7M224.1,394.9h0.7M220.2,389.8h0.7M223.8,401.1h0.7M221.3,385.8h0.7M221.0,404.7h0.7M226.5,392.3h0.7M220.5,384.8h0.7M220.7,385.4h0.7M221.2,390.3h0.7M222.7,390.7h0.7M221.0,398.5h0.7M221.8,385.5h0.7M221.3,399.6h0.7M224.2,392.5h0.7M222.6,386.2h0.7M223.4,390.8h0.7M219.6,399.9h0.7M223.9,390.9h0.7M223.9,386.5h0.7M219.6,386.9h0.7M223.3,391.2h0.7M224.7,390.6h0.7M223.9,389.3h0.7M221.5,385.6h0.7M223.5,404.1h0.7M224.1,398.6h0.7M223.3,392.3h0.7M222.5,397.2h0.7M224.0,385.4h0.7M226.9,394.0h0.7M221.9,398.5h0.7M222.1,388.9h0.7M221.1,392.3h0.7M224.6,385.7h0.7M222.9,394.8h0.7M221.7,387.6h0.7M224.0,397.9h0.7M222.0,392.3h0.7M223.5,390.4h0.7M223.8,384.9h0.7M222.1,397.2h0.7M219.5,392.6h0.7M225.0,394.1h0.7M223.6,391.0h0.7M223.2,390.0h0.7M224.0,398.4h0.7M219.4,385.3h0.7M225.3,385.6h0.7M224.7,390.6h0.7M225.9,393.3h0.7M224.9,398.0h0.7M219.9,387.5h0.7M221.8,391.4h0.7M222.9,391.5h0.7M223.0,390.5h0.7M221.2,387.7h0.7M223.7,395.8h0.7M223.6,387.1h0.7M223.1,388.3h0.7M223.8,403.6h0.7M224.2,404.2h0.7M225.2,394.1h0.7M224.3,387.8h0.7M225.9,385.9h0.7M220.7,397.1h0.7M224.5,399.6h0.7M220.7,385.4h0.7M228.5,387.2h0.7M223.2,395.1h0.7M220.2,384.9h0.7M220.5,387.6h0.7M223.6,396.6h0.7M223.4,395.1h0.7M222.9,384.8h0.7M221.0,386.6h0.7M225.0,389.0h0.7M226.3,394.6h0.7M221.4,386.6h0.7M223.6,390.5h0.7M221.9,389.9h0.7M223.9,389.8h0.7M221.2,396.0h0.7M223.9,391.5h0.7M217.9,387.9h0.7M221.0,392.9h0.7M224.1,392.7h0.7M223.7,392.4h0.7M224.1,390.4h0.7M226.4,388.6h0.7M222.4,390.3h0.7M223.0,389.1h0.7M221.6,387.4h0.7M219.6,386.7h0.7M224.5,387.0h0.7M222.6,401.4h0.7M222.3,391.7h0.7M222.2,387.5h0.7M225.6,389.6h0.7M220.8,385.3h0.7M222.7,396.7h0.7M224.1,388.1h0.7M224.9,392.6h0.7M223.9,387.8h0.7M223.5,386.2h0.7M222.7,390.7h0.7M224.2,388.5h0.7M220.9,396.6h0.7M222.6,389.5h0.7M221.6,385.0h0.7M222.8,390.3h0.7M225.7,389.7h0.7M221.1,399.4h0.7M224.4,388.6h0.7M223.3,385.1h0.7M222.3,392.3h0.7M219.7,393.8h0.7M221.2,398.7h0.7M222.5,408.1h0.7M221.3,392.9h0.7M221.8,390.1h0.7M226.9,391.4h0.7M224.3,385.7h0.7M222.7,401.1h0.7M223.7,387.9h0.7M223.0,393.0h0.7M223.9,385.8h0.7M221.5,389.6h0.7M223.8,387.7h0.7M224.1,393.0h0.7M217.8,397.1h0.7M221.7,388.1h0.7M220.1,389.6h0.7M222.6,392.9h0.7M224.6,385.4h0.7M222.2,386.7h0.7M222.2,390.7h0.7M218.5,391.6h0.7M224.2,387.4h0.7M227.8,386.7h0.7M223.8,390.4h0.7M224.4,397.5h0.7M219.8,393.9h0.7M225.4,388.7h0.7M217.8,394.2h0.7M225.5,392.4h0.7M219.8,386.4h0.7M224.4,395.4h0.7M221.2,399.0h0.7M224.7,386.6h0.7M221.5,387.2h0.7M223.0,396.5h0.7M223.8,392.2h0.7M224.2,388.2h0.7M228.6,387.7h0.7M222.3,394.6h0.7M223.0,386.2h0.7M226.8,404.0h0.7M221.0,397.1h0.7M221.8,399.9h0.7M221.5,408.1h0.7M221.4,389.1h0.7M222.6,389.2h0.7M222.7,398.5h0.7M225.1,390.8h0.7M224.0,387.8h0.7M220.7,393.0h0.7M222.5,391.5h0.7M222.6,386.4h0.7M221.2,404.1h0.7M224.6,403.7h0.7M220.5,393.7h0.7M224.6,391.1h0.7M224.8,394.7h0.7M220.3,387.4h0.7M222.4,395.4h0.7M221.6,402.6h0.7M225.5,390.4h0.7M221.8,390.6h0.7M220.8,391.9h0.7M223.1,385.9h0.7M223.7,392.0h0.7M220.7,397.5h0.7M222.3,391.0h0.7M220.3,389.8h0.7M218.3,392.3h0.7M222.0,397.2h0.7M223.7,386.5h0.7M220.7,386.4h0.7M217.0,393.5h0.7M222.2,390.0h0.7M226.6,390.7h0.7M225.9,392.8h0.7M222.2,385.0h0.7M226.1,407.8h0.7M224.6,391.3h0.7M225.0,387.4h0.7M220.1,387.0h0.7M220.0,406.8h0.7M219.6,389.1h0.7M218.7,393.9h0.7M224.2,400.6h0.7M225.1,402.3h0.7M222.0,392.3h0.7M219.9,386.1h0.7M216.6,393.3h0.7M222.6,392.7h0.7M220.2,397.7h0.7" stroke="#000" stroke-width="0.7" stroke-opacity="0.7" fill="none"/>
<ellipse cx="223.1" cy="388.3" rx="2.4" ry="4.5" fill="#000" fill-opacity="0.45" filter="url(#bl)"/>
<path d="M217.7,391.4h0.7M220.5,388.6h0.7M221.9,399.9h0.7M217.1,389.5h0.7M214.4,391.6h0.7M221.6,393.9h0.7M213.5,398.1h0.7M217.9,393.2h0.7M213.1,402.4h0.7M219.7,392.6h0.7M218.8,393.9h0.7M220.2,389.8h0.7M222.1,392.6h0.7M221.6,396.7h0.7M216.0,386.9h0.7M219.7,392.5h0.7M220.7,390.6h0.7M219.5,398.4h0.7M220.9,394.9h0.7M219.0,389.0h0.7M210.6,401.6h0.7M218.7,393.7h0.7M218.5,391.7h0.7M221.7,388.7h0.7M207.4,389.3h0.7M217.7,394.1h0.7M220.8,389.5h0.7M216.5,386.9h0.7M221.9,392.3h0.7M209.5,393.3h0.7M213.2,401.5h0.7M215.7,391.1h0.7M219.6,395.6h0.7M222.4,387.7h0.7M223.0,399.1h0.7M219.3,395.4h0.7M214.0,396.0h0.7M216.5,402.0h0.7M220.9,395.5h0.7M221.7,396.4h0.7M215.0,388.5h0.7M222.2,390.0h0.7M220.4,397.8h0.7M219.0,387.8h0.7M222.2,388.2h0.7M217.7,392.0h0.7M222.9,395.9h0.7M209.5,397.6h0.7M222.3,392.9h0.7M220.2,393.3h0.7M214.9,394.7h0.7M217.7,392.2h0.7M213.6,397.6h0.7M221.4,390.7h0.7M222.2,393.0h0.7M221.9,395.4h0.7M221.9,396.9h0.7M219.9,392.6h0.7M217.2,392.1h0.7M216.0,394.3h0.7M218.3,397.6h0.7M216.0,392.1h0.7M216.7,403.7h0.7M213.2,390.5h0.7M220.5,395.8h0.7M219.5,394.3h0.7M221.9,395.3h0.7M218.8,394.5h0.7M220.1,408.3h0.7M222.7,392.4h0.7M222.7,400.1h0.7M222.0,394.7h0.7M211.8,406.3h0.7M216.1,398.6h0.7M218.6,388.3h0.7M219.6,392.2h0.7M219.1,389.3h0.7M218.2,392.3h0.7M207.2,387.1h0.7M218.8,399.5h0.7M208.8,392.1h0.7M221.6,387.3h0.7M216.5,394.1h0.7M207.5,397.5h0.7M222.1,397.6h0.7M222.5,392.7h0.7M220.5,406.2h0.7M218.5,401.1h0.7M215.9,395.5h0.7M211.3,388.1h0.7M214.4,392.3h0.7M219.8,403.0h0.7M217.2,388.8h0.7M222.4,396.9h0.7M218.0,387.0h0.7M219.1,401.0h0.7M218.2,389.7h0.7M217.0,391.8h0.7M220.8,402.4h0.7M221.7,391.5h0.7M221.3,394.3h0.7M222.5,390.7h0.7M220.6,388.8h0.7M221.3,394.6h0.7M217.9,388.5h0.7M222.2,392.1h0.7M222.3,388.5h0.7M213.0,402.8h0.7M218.9,394.3h0.7M221.2,405.7h0.7M211.9,393.3h0.7M210.0,394.7h0.7M208.9,396.4h0.7M216.8,387.2h0.7M219.4,390.7h0.7M217.3,400.6h0.7M219.3,386.9h0.7M216.2,390.7h0.7M212.1,392.4h0.7M220.0,389.0h0.7M213.7,407.8h0.7M219.0,399.4h0.7M220.4,396.5h0.7M217.1,394.5h0.7M215.9,400.2h0.7M219.1,391.9h0.7M213.3,390.7h0.7M213.7,389.7h0.7M212.7,390.9h0.7M212.7,392.7h0.7M219.4,396.0h0.7M218.6,401.5h0.7M221.8,391.7h0.7M221.0,396.4h0.7M223.1,395.5h0.7M218.3,391.4h0.7M219.6,387.4h0.7M222.2,387.4h0.7M221.6,389.3h0.7M214.5,395.1h0.7M222.8,394.0h0.7M212.5,405.9h0.7M221.9,398.9h0.7M217.4,389.0h0.7M220.2,387.4h0.7M221.0,390.7h0.7M213.6,390.2h0.7M216.9,394.6h0.7M218.5,387.9h0.7M215.3,394.4h0.7M209.9,392.0h0.7M213.9,391.4h0.7M211.0,393.0h0.7M217.4,396.5h0.7M212.5,396.4h0.7M221.6,392.7h0.7M207.8,393.6h0.7M223.1,390.6h0.7M214.7,401.4h0.7M218.2,393.8h0.7M216.0,407.5h0.7M222.2,392.7h0.7M215.9,393.7h0.7M219.4,390.5h0.7M214.2,387.5h0.7M219.2,395.0h0.7M220.5,389.9h0.7M219.8,395.6h0.7M218.4,394.9h0.7M222.8,391.9h0.7M214.5,388.4h0.7M217.3,393.6h0.7M223.0,389.2h0.7M214.8,396.0h0.7M207.3,395.1h0.7M220.7,390.3h0.7M211.6,400.0h0.7M217.4,387.7h0.7M221.4,393.5h0.7M220.8,394.8h0.7M215.1,401.5h0.7M217.5,397.8h0.7M217.5,391.2h0.7M219.4,388.2h0.7M212.9,401.5h0.7M213.0,387.2h0.7M212.0,390.8h0.7M220.4,388.2h0.7M216.6,402.4h0.7M221.8,388.1h0.7M221.6,388.7h0.7M222.0,401.1h0.7M216.1,398.2h0.7M214.5,392.0h0.7M220.8,402.3h0.7M213.4,400.4h0.7M215.2,407.2h0.7M215.4,390.2h0.7M213.4,395.8h0.7" stroke="#000" stroke-width="0.7" stroke-opacity="0.6" fill="none"/>
<path d="M211.0,385.8h0.7M217.4,375.9h0.7M221.4,384.2h0.7M224.1,400.9h0.7M208.9,374.7h0.7M219.1,401.2h0.7M223.3,384.8h0.7M222.9,377.0h0.7M221.9,377.5h0.7M212.8,384.2h0.7M218.7,399.6h0.7M209.6,378.8h0.7M208.1,381.7h0.7M215.6,403.7h0.7" stroke="#000" stroke-width="0.7" stroke-opacity="0.35" fill="none"/>
<ellipse cx="234.3" cy="377.8" rx="8.075" ry="4.2" fill="#000" fill-opacity="1.0" filter="url(#bl)"/>
<ellipse cx="230.8" cy="378.4" rx="5.949999999999999" ry="3.9899999999999998" fill="#000" fill-opacity="1.0" filter="url(#bl)"/>
<ellipse cx="228.3" cy="379.8" rx="3.5" ry="2.52" fill="#000" fill-opacity="1.0" filter="url(#bl)"/>
<path d="M230.4,377.5h0.7M227.3,379.7h0.7M235.1,374.7h0.7M237.2,380.5h0.7M237.8,372.6h0.7M238.2,379.4h0.7M246.9,379.7h0.7M244.0,378.4h0.7M224.7,372.8h0.7M240.7,379.4h0.7M235.4,381.5h0.7M233.9,378.2h0.7M236.0,378.0h0.7M231.7,377.8h0.7M236.8,381.2h0.7M234.5,378.9h0.7M237.4,375.4h0.7M229.1,378.1h0.7M232.6,375.2h0.7M231.3,373.3h0.7M240.3,379.1h0.7M240.8,371.7h0.7M234.1,378.5h0.7M230.4,380.1h0.7M234.2,378.9h0.7M234.1,377.1h0.7M231.8,377.9h0.7M241.4,377.5h0.7M230.3,376.1h0.7M238.9,381.6h0.7M237.7,379.0h0.7M238.3,375.0h0.7M232.0,379.1h0.7M236.3,383.0h0.7M231.7,380.1h0.7M242.9,375.4h0.7M233.6,379.6h0.7M236.5,378.7h0.7M242.5,381.1h0.7M229.2,375.9h0.7M229.6,377.2h0.7M238.3,378.3h0.7M239.4,379.4h0.7M231.2,372.6h0.7M231.6,374.6h0.7M227.3,376.9h0.7M244.6,376.5h0.7M238.4,379.5h0.7M234.6,375.5h0.7M244.4,377.8h0.7M245.0,378.6h0.7M233.8,377.8h0.7M231.9,376.0h0.7M237.6,375.7h0.7M238.1,374.9h0.7M224.9,377.1h0.7M240.2,375.8h0.7M244.7,381.0h0.7M233.7,381.0h0.7M232.9,377.7h0.7M236.7,377.7h0.7M240.9,374.8h0.7M228.8,373.6h0.7M232.7,377.2h0.7M228.4,379.4h0.7M226.8,375.2h0.7M242.5,376.2h0.7M235.5,370.4h0.7M234.5,378.0h0.7M233.5,379.5h0.7M233.1,377.9h0.7M230.4,377.3h0.7M234.2,380.3h0.7M230.8,375.0h0.7M232.3,376.2h0.7M232.9,381.1h0.7M231.9,382.6h0.7M240.7,377.9h0.7M233.8,378.1h0.7M229.9,379.3h0.7M237.0,377.0h0.7M231.8,379.2h0.7M227.3,376.3h0.7M229.2,373.3h0.7M229.0,379.3h0.7M241.0,375.4h0.7M231.3,379.3h0.7M235.2,376.0h0.7M230.8,380.6h0.7M224.8,374.1h0.7M234.3,378.6h0.7M229.7,375.3h0.7M240.4,378.2h0.7M227.9,378.7h0.7M232.9,380.9h0.7M239.2,375.4h0.7M230.5,377.7h0.7M231.8,379.2h0.7M232.9,382.4h0.7M228.8,374.0h0.7M231.4,376.4h0.7M231.5,376.1h0.7M229.6,378.9h0.7M234.0,376.9h0.7M226.7,379.2h0.7M241.6,377.3h0.7M234.3,380.8h0.7M233.9,380.0h0.7M232.1,375.7h0.7M241.9,374.1h0.7M238.1,381.1h0.7M235.2,377.9h0.7M239.7,375.1h0.7M233.8,378.7h0.7M235.1,373.5h0.7M235.6,376.6h0.7M241.5,383.1h0.7M226.6,378.6h0.7M232.4,371.5h0.7M237.6,384.1h0.7M232.0,382.3h0.7M242.2,379.1h0.7M235.3,382.4h0.7M224.9,377.3h0.7M229.2,379.1h0.7M234.8,378.7h0.7M237.0,383.4h0.7M242.2,378.1h0.7M233.0,381.3h0.7M236.5,380.5h0.7M220.4,380.9h0.7M240.1,371.1h0.7M234.8,378.8h0.7M225.2,380.9h0.7M236.3,375.2h0.7M229.8,377.6h0.7M234.7,376.5h0.7M236.0,381.2h0.7M235.1,377.7h0.7M244.5,380.7h0.7M232.4,377.8h0.7M231.3,377.5h0.7M232.3,375.6h0.7M238.0,376.8h0.7M229.8,376.4h0.7M228.9,377.5h0.7M233.2,375.5h0.7M239.3,378.4h0.7M238.8,378.1h0.7M237.5,373.9h0.7M232.7,380.4h0.7M231.5,378.7h0.7M226.5,373.2h0.7M226.6,383.0h0.7M237.5,375.6h0.7M236.4,377.5h0.7M236.3,376.7h0.7M234.0,380.6h0.7M238.5,378.3h0.7M237.6,378.1h0.7M236.0,375.3h0.7M233.3,381.6h0.7M235.0,379.0h0.7M242.7,380.8h0.7M244.1,380.6h0.7M243.4,375.1h0.7M237.1,378.0h0.7M225.9,378.7h0.7M235.8,378.3h0.7M236.9,378.0h0.7M243.5,376.9h0.7M234.9,373.5h0.7M233.5,379.3h0.7M236.9,379.6h0.7M235.2,378.5h0.7M231.8,382.1h0.7M229.1,377.3h0.7M227.4,380.4h0.7M232.8,377.7h0.7M227.3,382.0h0.7M231.2,380.7h0.7M234.6,377.8h0.7M233.6,376.0h0.7M237.2,379.7h0.7M247.1,373.8h0.7M233.3,375.5h0.7M232.0,374.4h0.7M229.2,379.9h0.7M231.5,377.1h0.7M239.1,378.5h0.7M236.2,377.6h0.7M235.1,376.7h0.7M241.6,377.5h0.7M231.2,377.0h0.7M235.9,376.3h0.7M242.9,378.9h0.7M237.9,378.3h0.7M229.0,376.7h0.7M237.4,378.3h0.7M231.7,374.3h0.7M230.0,379.3h0.7M223.0,382.5h0.7M221.1,375.8h0.7M242.0,377.2h0.7M232.6,373.0h0.7M232.2,378.8h0.7M230.3,378.3h0.7M231.2,376.5h0.7M231.9,381.5h0.7M241.1,381.3h0.7M228.5,374.9h0.7M229.2,377.2h0.7M238.8,381.7h0.7M226.7,380.2h0.7M231.9,376.7h0.7M239.1,373.5h0.7M239.3,383.2h0.7M240.8,375.7h0.7M236.2,379.2h0.7M229.1,382.0h0.7M234.0,380.7h0.7M233.7,376.6h0.7M232.2,379.5h0.7M237.2,381.1h0.7M225.9,373.4h0.7M238.6,377.3h0.7M241.2,379.4h0.7M233.4,378.5h0.7M232.5,375.5h0.7M235.6,376.6h0.7M233.9,377.3h0.7M227.4,377.5h0.7M236.1,375.4h0.7M238.1,376.3h0.7M246.0,371.7h0.7M240.7,382.1h0.7M235.8,375.4h0.7M233.9,382.9h0.7M233.3,379.0h0.7M234.7,376.9h0.7M236.3,381.5h0.7M243.8,374.5h0.7M232.8,377.1h0.7M240.2,376.4h0.7M230.7,376.5h0.7M234.8,379.4h0.7M236.9,375.0h0.7M227.7,385.3h0.7M234.4,375.4h0.7M241.2,375.2h0.7M232.7,380.8h0.7M237.5,382.3h0.7M235.3,379.8h0.7M230.4,377.6h0.7M242.7,379.0h0.7M234.3,375.3h0.7M239.5,383.0h0.7M236.6,381.9h0.7M237.1,375.8h0.7M238.3,376.4h0.7M236.0,381.3h0.7M235.3,378.2h0.7M227.8,376.3h0.7M234.6,374.0h0.7M238.8,379.9h0.7M235.6,376.0h0.7M228.7,375.5h0.7M235.3,376.9h0.7M226.4,377.8h0.7M229.6,374.5h0.7M232.9,377.6h0.7M237.1,373.7h0.7M234.4,379.4h0.7M237.3,375.8h0.7M230.0,377.5h0.7M234.0,379.2h0.7M225.2,376.4h0.7M234.2,378.5h0.7M238.5,372.9h0.7M233.0,376.3h0.7M232.2,375.4h0.7M233.3,379.5h0.7M235.4,378.3h0.7M231.6,383.1h0.7M226.5,379.1h0.7M236.0,379.8h0.7M231.6,379.1h0.7M229.3,377.3h0.7M240.6,377.8h0.7M242.4,379.6h0.7M230.0,378.3h0.7M229.7,378.2h0.7M240.7,374.7h0.7M238.9,372.5h0.7M229.4,379.4h0.7M232.3,382.3h0.7M229.7,374.3h0.7M235.7,373.6h0.7M230.9,376.2h0.7M227.6,377.2h0.7" stroke="#000" stroke-width="0.7" stroke-opacity="0.7" fill="none"/>
</g>
<rect x="207.1" y="362.4" width="42.6" height="42.400000000000034" fill="none" stroke="#000" stroke-width="1.35"/>
<path d="M226.79999999999998,362.4V404.8M207.1,386.8H249.7" stroke="#000" stroke-width="1.2" fill="none"/>
<path d="M205.79999999999998,365.0h1.3M209.8,404.8v1.3M205.79999999999998,367.7h1.3M212.4,404.8v1.3M205.79999999999998,370.3h1.3M215.1,404.8v1.3M205.79999999999998,373.0h1.3M217.8,404.8v1.3M205.79999999999998,375.6h1.3M220.4,404.8v1.3M205.79999999999998,378.3h1.3M223.1,404.8v1.3M205.79999999999998,380.9h1.3M225.7,404.8v1.3M205.79999999999998,383.6h1.3M228.4,404.8v1.3M205.79999999999998,386.2h1.3M231.1,404.8v1.3M205.79999999999998,388.9h1.3M233.7,404.8v1.3M205.79999999999998,391.6h1.3M236.4,404.8v1.3M205.79999999999998,394.2h1.3M239.1,404.8v1.3M205.79999999999998,396.9h1.3M241.7,404.8v1.3M205.79999999999998,399.5h1.3M244.4,404.8v1.3M205.79999999999998,402.1h1.3M247.0,404.8v1.3" stroke="#000" stroke-width="0.6" stroke-opacity="0.6"/>
<text x="248.10" y="368.70" font-size="7" text-anchor="end" font-weight="normal" fill="#111" >18.7</text>
<clipPath id="c33"><rect x="252.2" y="362.4" width="42.6" height="42.400000000000034"/></clipPath><g clip-path="url(#c33)">
<ellipse cx="264.4" cy="379.4" rx="8.6" ry="6.0" fill="#000" fill-opacity="1" filter="url(#bl)"/>
<ellipse cx="259.7" cy="379.0" rx="7" ry="4.3" fill="#000" fill-opacity="1" filter="url(#bl)"/>
<ellipse cx="267.2" cy="379.8" rx="5.5" ry="5.6" fill="#000" fill-opacity="1" filter="url(#bl)"/>
<path d="M262.7,378.3h0.7M266.3,376.4h0.7M262.9,373.2h0.7M255.5,380.9h0.7M257.3,381.7h0.7M261.2,378.0h0.7M272.1,375.0h0.7M257.7,384.6h0.7M268.5,381.4h0.7M262.0,377.3h0.7M260.5,377.2h0.7M259.7,380.2h0.7M254.0,386.6h0.7M254.4,377.1h0.7M264.0,379.3h0.7M262.3,378.0h0.7M268.1,376.8h0.7M267.1,377.9h0.7M270.9,383.2h0.7M269.9,387.3h0.7M263.2,378.1h0.7M264.2,375.1h0.7M265.3,378.3h0.7M273.2,371.4h0.7M266.5,377.7h0.7M264.8,387.5h0.7M254.3,379.7h0.7M256.9,380.3h0.7M252.2,380.2h0.7M267.5,377.0h0.7M269.6,382.6h0.7M262.5,384.9h0.7M263.8,380.3h0.7M265.8,379.1h0.7M252.7,381.4h0.7M264.2,375.4h0.7M265.4,384.9h0.7M267.1,380.5h0.7M258.8,380.3h0.7M257.7,383.1h0.7M265.3,377.4h0.7M262.5,381.2h0.7M271.9,378.1h0.7M263.1,375.2h0.7M262.0,386.2h0.7M270.4,374.9h0.7M268.0,374.9h0.7M262.2,383.6h0.7M261.5,378.9h0.7M267.1,383.2h0.7M268.4,383.9h0.7M255.0,377.9h0.7M264.6,375.7h0.7M268.1,372.8h0.7M262.3,377.0h0.7M260.6,380.8h0.7M265.7,387.6h0.7M267.7,377.5h0.7M263.8,379.9h0.7M264.4,375.8h0.7M258.9,384.6h0.7M255.7,376.3h0.7M271.8,378.4h0.7M256.3,381.9h0.7M270.9,375.7h0.7M258.0,376.3h0.7M272.8,373.5h0.7M255.5,380.1h0.7M258.5,380.6h0.7M266.7,375.7h0.7M271.2,377.6h0.7M273.4,382.4h0.7M271.7,379.8h0.7M270.3,374.1h0.7M256.2,381.0h0.7M270.1,375.8h0.7M271.7,374.3h0.7M259.0,378.8h0.7M260.6,372.3h0.7M264.2,381.5h0.7M264.4,380.5h0.7M264.9,378.0h0.7M264.3,383.2h0.7M271.9,381.6h0.7M267.6,386.5h0.7M260.0,377.7h0.7M268.7,379.0h0.7M267.9,378.2h0.7M269.5,382.8h0.7M268.6,377.4h0.7M269.9,381.4h0.7M267.5,377.9h0.7M272.5,376.9h0.7M268.4,382.0h0.7M267.5,383.9h0.7M271.3,380.5h0.7M269.4,375.7h0.7M263.2,381.9h0.7M260.4,377.3h0.7M267.5,377.9h0.7M259.5,382.0h0.7M263.6,375.5h0.7M272.7,381.2h0.7M260.1,380.9h0.7M270.4,379.4h0.7M256.6,370.3h0.7M265.3,379.2h0.7M264.8,380.0h0.7M260.0,378.1h0.7M271.9,375.1h0.7M259.8,376.3h0.7M268.7,385.8h0.7M260.4,381.5h0.7M256.8,374.9h0.7M263.0,378.8h0.7M268.3,376.4h0.7M257.7,376.3h0.7M255.4,378.5h0.7M256.7,378.9h0.7M265.2,379.8h0.7M267.6,375.1h0.7M267.7,379.2h0.7M264.2,376.4h0.7M259.7,377.3h0.7M260.8,374.9h0.7M261.2,380.9h0.7M266.8,384.9h0.7M264.2,384.3h0.7M261.9,379.4h0.7M271.8,376.9h0.7M263.1,377.4h0.7M265.5,382.4h0.7M272.2,382.3h0.7M265.6,376.0h0.7M258.6,388.9h0.7M256.1,382.8h0.7M260.0,378.6h0.7M270.1,376.1h0.7M259.5,378.0h0.7M254.8,378.8h0.7M268.5,380.7h0.7M270.4,380.6h0.7M261.3,378.8h0.7M260.4,377.0h0.7M261.1,384.8h0.7M267.0,380.0h0.7M258.5,379.2h0.7M254.9,388.4h0.7M262.2,378.7h0.7M255.2,372.9h0.7M267.8,381.9h0.7M265.5,380.0h0.7M253.5,379.6h0.7M255.9,381.4h0.7M264.0,377.4h0.7M267.4,372.3h0.7M262.8,385.4h0.7M259.5,380.0h0.7M265.5,375.5h0.7M268.6,383.9h0.7M265.0,375.8h0.7M259.1,380.6h0.7M273.4,382.5h0.7M268.3,383.8h0.7M269.3,387.1h0.7M266.2,382.3h0.7M269.4,380.7h0.7M252.7,382.5h0.7M258.6,385.1h0.7M254.2,383.3h0.7M253.1,384.6h0.7M270.0,381.7h0.7M270.3,377.1h0.7M256.8,385.2h0.7M261.6,382.1h0.7M259.0,386.5h0.7M262.3,386.2h0.7M270.2,376.7h0.7M259.5,378.1h0.7M253.7,376.6h0.7M260.2,382.3h0.7M265.9,379.8h0.7M269.7,379.1h0.7M264.6,379.7h0.7M255.3,382.5h0.7M271.9,384.9h0.7M261.3,387.1h0.7M265.2,383.2h0.7M262.9,380.4h0.7M266.5,383.2h0.7M261.8,381.3h0.7M268.2,383.4h0.7M268.2,374.6h0.7M269.1,377.0h0.7M262.2,377.9h0.7M262.2,385.9h0.7M263.0,378.0h0.7M267.8,382.2h0.7M264.0,381.7h0.7M254.3,377.0h0.7M254.6,374.1h0.7M259.4,386.1h0.7M269.9,373.0h0.7M272.7,378.1h0.7M265.5,375.4h0.7M264.6,373.9h0.7M264.1,374.4h0.7M265.1,377.9h0.7M261.9,382.5h0.7M269.0,380.0h0.7M272.1,382.5h0.7M267.2,380.8h0.7M264.8,372.0h0.7M254.9,381.5h0.7M267.0,382.1h0.7M263.2,375.0h0.7M271.4,378.0h0.7M263.9,376.9h0.7M263.8,377.1h0.7M258.6,380.7h0.7M261.5,380.2h0.7M264.8,379.3h0.7M262.1,376.7h0.7M266.7,383.0h0.7M262.3,385.0h0.7M265.3,383.7h0.7M255.9,379.8h0.7M261.6,374.0h0.7M254.7,382.1h0.7M262.2,384.8h0.7M267.6,377.7h0.7M273.6,384.5h0.7M254.6,380.8h0.7M266.8,375.4h0.7M254.8,376.9h0.7M269.8,375.7h0.7M262.9,378.9h0.7M269.6,386.9h0.7M266.2,383.2h0.7M269.2,378.7h0.7M261.9,379.4h0.7M262.0,382.3h0.7M267.3,383.9h0.7M265.8,379.6h0.7M271.0,381.8h0.7M255.2,384.0h0.7M262.7,376.4h0.7M261.1,376.5h0.7M263.2,376.3h0.7M257.1,377.8h0.7M269.3,379.8h0.7M264.6,381.2h0.7M266.3,378.4h0.7M268.4,382.1h0.7M263.9,384.7h0.7M266.5,372.1h0.7M265.7,380.6h0.7M264.5,380.0h0.7M269.6,382.7h0.7M253.7,375.7h0.7M265.6,373.9h0.7M264.7,383.3h0.7M259.8,376.3h0.7M267.1,376.1h0.7M268.7,381.1h0.7M268.3,379.6h0.7M260.0,376.0h0.7M252.9,373.5h0.7M260.8,382.5h0.7M270.0,374.0h0.7M265.6,378.3h0.7M265.5,377.4h0.7M262.4,385.2h0.7M260.2,376.3h0.7M271.3,381.7h0.7M265.2,387.0h0.7M268.7,378.3h0.7M269.4,378.5h0.7M261.7,383.1h0.7M256.0,381.3h0.7M261.3,377.4h0.7M264.5,375.8h0.7M268.0,376.4h0.7M262.4,378.8h0.7M264.4,385.8h0.7M256.0,379.0h0.7M268.5,389.5h0.7M264.3,383.3h0.7M268.1,376.9h0.7M266.5,383.8h0.7M267.5,378.9h0.7M264.5,375.4h0.7M257.0,376.5h0.7M271.0,377.3h0.7M272.3,376.5h0.7M255.7,380.6h0.7M268.7,377.4h0.7M263.6,377.1h0.7M258.1,382.9h0.7M273.1,381.3h0.7M268.9,379.5h0.7M263.8,376.6h0.7M267.6,380.6h0.7M269.6,381.2h0.7M257.7,374.4h0.7M262.7,380.0h0.7M254.6,379.6h0.7M254.6,380.4h0.7M255.3,378.3h0.7M264.7,378.2h0.7M265.0,378.8h0.7M253.7,376.9h0.7M262.9,379.2h0.7M255.4,383.0h0.7M268.7,375.3h0.7M264.9,376.6h0.7M258.5,375.9h0.7M273.9,379.2h0.7M270.6,377.9h0.7M258.7,381.2h0.7M272.0,387.5h0.7M260.8,380.0h0.7M255.6,377.7h0.7M271.4,382.2h0.7M260.6,374.6h0.7M263.0,387.5h0.7M255.4,380.2h0.7M256.9,377.6h0.7M265.8,376.3h0.7M263.1,378.7h0.7M261.5,379.8h0.7M253.8,381.9h0.7M260.1,378.2h0.7M262.2,383.7h0.7M260.5,377.4h0.7M266.7,377.4h0.7M263.1,382.4h0.7M264.4,381.6h0.7M264.8,385.0h0.7M264.8,380.5h0.7M261.2,382.3h0.7M252.2,375.4h0.7M273.5,378.6h0.7M267.4,385.0h0.7M259.0,382.7h0.7M257.1,378.1h0.7M271.6,379.2h0.7M257.7,377.8h0.7M268.3,382.9h0.7M270.3,371.0h0.7M254.0,377.4h0.7M270.0,376.0h0.7M254.0,366.6h0.7M253.1,383.0h0.7M273.1,379.2h0.7M263.1,378.7h0.7M268.7,381.8h0.7M268.4,376.8h0.7M269.6,386.5h0.7M268.6,382.7h0.7M262.5,378.5h0.7M262.8,377.4h0.7M268.8,384.9h0.7M258.5,372.4h0.7M260.4,380.8h0.7M259.3,378.7h0.7M271.0,383.1h0.7M256.6,380.7h0.7M262.6,380.9h0.7M264.4,381.4h0.7M257.7,381.1h0.7M253.3,377.7h0.7M257.2,377.8h0.7M266.1,383.8h0.7M260.3,384.3h0.7M261.3,379.1h0.7M255.7,378.2h0.7M268.2,382.0h0.7M253.4,377.5h0.7M265.8,375.0h0.7M270.3,378.8h0.7M258.7,377.2h0.7M271.4,380.9h0.7M270.7,373.2h0.7M271.8,379.4h0.7M266.5,384.5h0.7M256.4,378.4h0.7M268.5,381.5h0.7M268.2,374.5h0.7M266.2,379.8h0.7M268.5,374.8h0.7M261.5,379.4h0.7M255.1,375.7h0.7M262.6,370.0h0.7M261.8,383.9h0.7M267.1,372.8h0.7M260.0,383.6h0.7M255.4,377.8h0.7M256.4,376.4h0.7M257.7,368.9h0.7M269.9,381.0h0.7M261.4,380.8h0.7M262.4,378.5h0.7M265.2,382.1h0.7M267.3,379.4h0.7M255.1,384.7h0.7M260.4,376.0h0.7M264.6,380.0h0.7M263.1,374.8h0.7M262.3,381.3h0.7M271.6,384.8h0.7M269.9,382.6h0.7M269.3,381.8h0.7M257.1,374.1h0.7M259.1,381.5h0.7M272.1,378.7h0.7M261.1,384.6h0.7M270.6,380.4h0.7M263.0,373.0h0.7M271.6,380.9h0.7M263.1,379.8h0.7M262.0,381.4h0.7M263.6,378.8h0.7M268.5,374.8h0.7M264.1,377.5h0.7M270.7,387.1h0.7M266.9,383.8h0.7M270.9,379.7h0.7M263.8,385.4h0.7M266.1,382.1h0.7M271.2,377.1h0.7M260.9,380.8h0.7M267.5,375.8h0.7M264.4,381.9h0.7M255.2,382.4h0.7M268.1,384.3h0.7M261.8,380.0h0.7M258.0,384.0h0.7M262.7,379.3h0.7M256.5,377.9h0.7M258.8,379.7h0.7M267.4,378.3h0.7M262.9,376.2h0.7M260.6,380.1h0.7M260.5,382.4h0.7M255.7,378.2h0.7M267.1,383.4h0.7M252.3,381.0h0.7M260.8,379.4h0.7M264.0,379.0h0.7M266.7,378.8h0.7M269.0,381.6h0.7M263.3,372.7h0.7M254.2,376.3h0.7M268.5,380.9h0.7M263.4,374.6h0.7M264.7,379.7h0.7M265.8,381.6h0.7M265.1,378.0h0.7M263.9,369.6h0.7M268.5,381.7h0.7M265.0,376.4h0.7M264.7,378.0h0.7M264.0,383.0h0.7M267.1,379.4h0.7M264.5,379.8h0.7M262.9,378.2h0.7M267.3,377.8h0.7M264.0,380.9h0.7M262.6,380.1h0.7M272.5,381.1h0.7M264.6,378.0h0.7M258.6,379.9h0.7M264.9,383.8h0.7M257.7,383.8h0.7M262.6,380.1h0.7M269.5,382.3h0.7M266.5,377.0h0.7M263.6,378.9h0.7M270.9,376.6h0.7M271.6,380.1h0.7M259.9,380.0h0.7M266.5,375.7h0.7M271.4,379.0h0.7M270.2,378.1h0.7M260.1,382.1h0.7M267.8,379.7h0.7M254.3,383.1h0.7M268.8,374.3h0.7M254.2,378.8h0.7M266.8,380.1h0.7M254.9,380.5h0.7M266.5,381.4h0.7M262.6,377.2h0.7M258.7,382.7h0.7M265.2,379.9h0.7M266.1,382.1h0.7M266.3,383.0h0.7M255.3,383.5h0.7M268.9,377.6h0.7M267.8,377.1h0.7M265.9,378.1h0.7M255.7,382.4h0.7M262.5,385.7h0.7M254.1,381.1h0.7M258.6,375.6h0.7M258.5,377.2h0.7M266.4,381.8h0.7M265.2,378.2h0.7M269.8,381.1h0.7M260.0,377.5h0.7M256.9,376.3h0.7M266.2,380.6h0.7M268.3,374.5h0.7M265.2,376.3h0.7M264.4,374.2h0.7M258.0,378.4h0.7M263.8,371.7h0.7M266.0,377.1h0.7M264.3,381.9h0.7M273.0,383.6h0.7M270.7,383.2h0.7M254.9,377.5h0.7M263.2,379.5h0.7M271.7,381.6h0.7M268.5,380.9h0.7M253.9,384.1h0.7M265.8,379.4h0.7M255.2,373.8h0.7M267.9,382.6h0.7M254.9,373.7h0.7M265.4,377.1h0.7M271.7,381.4h0.7M264.3,370.4h0.7M256.5,380.8h0.7M261.1,381.7h0.7M270.5,376.4h0.7M265.9,381.6h0.7M266.6,378.5h0.7M260.9,377.6h0.7M253.1,373.4h0.7M260.1,381.8h0.7M264.6,384.7h0.7M254.8,377.9h0.7M262.6,383.9h0.7M258.1,381.4h0.7M271.1,383.6h0.7M261.5,379.2h0.7M270.2,378.9h0.7M268.2,379.9h0.7M270.5,381.2h0.7M267.0,378.5h0.7M267.6,379.2h0.7M264.9,378.6h0.7M266.7,381.2h0.7M262.8,383.8h0.7M266.8,377.4h0.7M257.2,383.8h0.7M261.3,377.7h0.7M256.4,377.3h0.7M268.2,381.6h0.7M263.4,382.5h0.7M270.4,382.5h0.7M261.1,385.9h0.7M258.1,383.4h0.7M263.0,377.7h0.7M271.3,380.5h0.7M264.2,377.1h0.7M259.2,386.0h0.7M259.5,374.4h0.7M272.9,378.3h0.7M263.1,379.9h0.7M265.9,380.6h0.7M266.4,381.0h0.7M265.9,388.4h0.7M266.2,384.3h0.7M264.0,377.1h0.7M262.4,373.9h0.7M272.9,378.0h0.7M262.1,377.5h0.7M260.2,376.4h0.7M263.3,380.3h0.7M265.1,384.1h0.7M265.9,375.3h0.7M262.4,379.4h0.7M258.5,386.4h0.7M261.1,380.7h0.7M258.9,377.4h0.7" stroke="#000" stroke-width="0.7" stroke-opacity="0.7" fill="none"/>
<path d="M267.5,385.3h0.7M268.6,393.1h0.7M270.0,392.6h0.7M268.7,388.6h0.7M270.4,385.1h0.7M269.2,389.4h0.7M265.5,387.3h0.7M269.4,395.9h0.7M270.6,394.1h0.7M264.3,391.9h0.7M269.5,391.6h0.7M267.3,397.0h0.7M270.3,394.4h0.7M268.5,386.9h0.7M267.5,389.9h0.7M267.5,400.7h0.7M266.7,395.9h0.7M267.7,395.1h0.7M271.7,399.6h0.7M266.6,387.5h0.7M267.3,388.8h0.7M268.4,387.3h0.7M268.1,385.1h0.7M268.6,407.2h0.7M271.4,385.7h0.7M269.6,400.4h0.7M265.9,387.5h0.7M268.1,389.6h0.7M264.8,389.7h0.7M270.9,389.6h0.7M267.3,395.2h0.7M268.1,388.0h0.7M268.8,403.8h0.7M267.5,392.1h0.7M265.2,385.6h0.7M266.8,387.1h0.7M270.5,384.9h0.7M269.1,391.5h0.7M268.8,389.5h0.7M266.5,394.1h0.7M268.0,391.0h0.7M264.0,404.6h0.7M268.2,391.6h0.7M269.8,385.6h0.7M266.1,391.4h0.7M268.5,401.1h0.7M267.5,386.7h0.7M265.0,388.9h0.7M264.4,405.5h0.7M267.7,386.1h0.7M270.4,389.4h0.7M268.8,385.3h0.7M265.9,387.2h0.7M267.7,387.2h0.7M268.1,388.9h0.7M265.5,388.0h0.7M268.8,392.5h0.7M270.2,391.9h0.7M268.3,384.8h0.7M267.5,390.2h0.7M267.9,384.9h0.7M269.3,405.2h0.7M268.3,385.9h0.7M266.2,390.9h0.7M267.0,386.5h0.7M270.6,397.7h0.7M266.3,393.0h0.7M268.2,409.6h0.7M269.8,390.0h0.7M268.6,388.2h0.7M268.2,399.6h0.7M268.1,392.7h0.7M268.1,393.0h0.7M269.6,388.7h0.7M267.3,401.1h0.7M269.3,389.8h0.7M268.6,389.8h0.7M264.5,386.9h0.7M269.4,396.4h0.7M268.1,392.9h0.7M264.8,396.5h0.7M271.3,390.9h0.7M265.8,387.0h0.7M269.6,387.7h0.7M263.3,393.6h0.7M270.3,384.9h0.7M269.6,391.7h0.7M266.2,397.8h0.7M269.3,393.3h0.7M269.6,385.9h0.7M267.0,388.7h0.7M267.0,404.3h0.7M268.6,387.4h0.7M269.1,396.0h0.7M266.9,393.5h0.7M266.7,384.9h0.7M268.2,397.2h0.7M267.1,400.1h0.7M270.3,389.0h0.7M267.9,389.4h0.7M267.3,390.2h0.7M265.0,396.7h0.7M266.8,396.7h0.7M266.2,400.1h0.7M268.8,385.9h0.7M267.4,386.7h0.7M265.7,395.3h0.7M270.6,389.7h0.7M268.3,385.1h0.7M268.1,386.4h0.7M263.6,392.0h0.7M268.6,387.0h0.7M263.7,391.1h0.7M268.7,395.0h0.7M267.5,389.9h0.7M265.2,389.5h0.7M270.1,402.6h0.7M270.8,389.7h0.7M270.4,397.3h0.7M269.0,390.6h0.7M265.7,385.7h0.7M266.8,389.9h0.7M270.7,386.6h0.7M267.8,389.4h0.7M267.6,395.2h0.7M265.6,390.7h0.7M266.5,392.9h0.7M267.0,386.3h0.7M268.3,386.8h0.7M266.8,391.5h0.7M270.8,386.9h0.7M268.0,397.3h0.7M265.3,386.0h0.7M268.5,389.8h0.7M267.8,387.9h0.7M267.3,389.8h0.7M267.0,387.8h0.7M269.0,397.0h0.7M267.5,386.7h0.7M269.9,401.5h0.7M264.4,408.2h0.7M268.0,385.0h0.7M267.9,389.4h0.7M266.4,385.8h0.7M265.8,385.4h0.7M268.5,389.4h0.7M267.0,387.4h0.7M269.3,389.6h0.7M266.4,389.5h0.7M270.2,393.2h0.7M270.4,394.2h0.7M270.3,393.9h0.7M268.6,392.8h0.7M268.9,395.5h0.7M268.4,391.4h0.7M270.1,386.8h0.7M263.5,388.4h0.7M266.3,392.4h0.7M270.7,392.8h0.7M269.1,394.0h0.7M269.0,390.1h0.7M267.3,386.0h0.7M268.9,395.5h0.7M268.9,392.8h0.7M265.1,390.2h0.7M265.5,396.9h0.7M271.2,391.0h0.7M265.5,385.6h0.7M268.6,391.4h0.7M265.4,386.0h0.7M268.6,394.3h0.7M265.6,392.2h0.7M269.1,386.1h0.7M265.1,384.9h0.7M267.0,390.7h0.7M269.8,387.7h0.7M267.9,385.4h0.7M268.2,386.2h0.7M265.8,389.2h0.7M268.0,390.3h0.7M268.9,396.4h0.7M265.8,398.4h0.7M267.3,390.0h0.7M263.2,386.7h0.7M270.3,400.2h0.7M265.2,400.9h0.7M266.1,410.0h0.7M264.0,390.7h0.7M267.2,386.2h0.7M270.0,396.4h0.7M265.7,387.7h0.7M267.0,393.3h0.7M268.9,398.1h0.7M265.7,387.8h0.7M265.4,388.0h0.7M267.2,386.3h0.7M263.9,400.1h0.7M269.2,392.0h0.7M267.0,396.6h0.7M268.0,390.7h0.7M266.6,393.2h0.7M268.7,385.8h0.7M265.6,398.6h0.7M265.7,388.1h0.7M266.6,385.7h0.7M264.4,394.8h0.7M269.8,391.9h0.7M269.4,392.6h0.7M270.2,385.8h0.7M268.7,397.1h0.7M270.7,400.3h0.7M268.2,390.7h0.7M265.2,387.0h0.7M269.7,389.3h0.7M270.0,405.1h0.7M266.5,385.4h0.7M267.1,407.1h0.7M266.9,388.0h0.7M270.9,384.9h0.7M269.3,390.3h0.7M269.6,388.2h0.7M270.5,386.1h0.7M263.9,389.3h0.7M269.4,391.8h0.7M266.2,386.4h0.7M269.6,390.0h0.7M269.7,386.8h0.7M269.9,397.5h0.7M269.3,399.2h0.7M266.0,387.4h0.7M264.8,399.1h0.7M270.1,396.4h0.7M262.6,392.8h0.7M265.9,387.3h0.7M269.0,387.7h0.7M269.3,392.1h0.7M268.0,387.0h0.7M269.5,388.7h0.7M268.2,391.0h0.7M269.3,404.1h0.7M265.4,386.2h0.7M267.3,391.8h0.7M270.7,398.6h0.7M268.5,385.3h0.7M270.9,395.7h0.7M270.8,385.9h0.7M262.0,395.1h0.7M266.7,397.4h0.7M269.4,385.9h0.7M264.0,390.5h0.7M270.1,389.4h0.7M266.5,391.1h0.7M268.3,395.3h0.7M265.7,403.5h0.7M266.4,386.0h0.7M266.9,390.5h0.7M267.3,385.8h0.7M269.4,387.3h0.7M268.5,384.8h0.7M269.3,389.3h0.7M270.3,387.7h0.7M269.1,389.5h0.7M266.8,388.1h0.7M269.0,387.9h0.7M263.9,385.7h0.7M269.9,387.9h0.7M268.1,387.8h0.7M268.4,404.7h0.7M267.6,386.4h0.7M263.6,391.8h0.7M269.5,398.3h0.7M264.9,389.2h0.7M267.4,392.1h0.7M267.4,412.7h0.7M271.7,399.0h0.7M267.1,386.1h0.7M268.5,389.5h0.7M267.6,393.9h0.7M268.7,395.1h0.7M268.2,388.2h0.7M266.8,393.0h0.7M266.8,390.8h0.7M269.5,392.5h0.7M265.0,385.6h0.7M268.4,385.3h0.7M269.0,385.6h0.7M268.5,401.2h0.7M268.5,392.9h0.7M270.7,396.1h0.7M263.9,395.1h0.7M266.2,385.2h0.7M267.3,385.8h0.7M268.8,396.9h0.7M266.6,386.1h0.7M269.1,387.0h0.7M264.7,393.1h0.7M266.5,392.9h0.7M264.9,399.1h0.7M265.8,390.4h0.7M268.9,385.7h0.7M267.0,394.5h0.7M270.9,400.5h0.7M268.4,388.5h0.7M268.3,386.9h0.7M266.8,397.0h0.7M263.0,389.9h0.7M268.0,388.0h0.7M269.7,395.8h0.7M267.8,397.7h0.7M269.3,387.6h0.7M269.1,388.3h0.7M268.2,395.1h0.7M265.9,399.1h0.7M265.7,385.5h0.7M268.1,385.3h0.7M267.5,397.1h0.7M269.1,398.1h0.7M266.2,385.2h0.7M268.4,389.2h0.7M269.4,394.3h0.7M270.1,395.1h0.7M269.5,386.7h0.7M266.1,388.9h0.7M268.4,393.2h0.7M269.1,397.3h0.7M267.5,388.4h0.7M263.7,386.8h0.7M268.1,386.8h0.7M266.9,396.4h0.7M268.6,386.0h0.7" stroke="#000" stroke-width="0.7" stroke-opacity="0.7" fill="none"/>
<ellipse cx="268.2" cy="388.3" rx="2.4" ry="4.5" fill="#000" fill-opacity="0.45" filter="url(#bl)"/>
<path d="M263.3,396.3h0.7M268.2,395.5h0.7M263.5,388.2h0.7M256.5,403.1h0.7M260.1,391.8h0.7M267.5,398.6h0.7M252.5,395.5h0.7M264.4,398.1h0.7M262.3,394.0h0.7M267.6,386.8h0.7M263.6,389.7h0.7M260.2,389.2h0.7M265.0,397.7h0.7M263.3,394.2h0.7M258.3,390.3h0.7M262.9,405.0h0.7M257.4,391.8h0.7M261.5,390.4h0.7M262.5,400.3h0.7M262.0,392.7h0.7M264.3,393.2h0.7M265.3,389.0h0.7M264.4,387.7h0.7M267.4,400.0h0.7M266.4,395.2h0.7M268.1,394.8h0.7M260.1,391.5h0.7M257.8,390.9h0.7M262.5,393.8h0.7M265.2,389.7h0.7M262.7,387.5h0.7M260.3,390.9h0.7M267.2,390.3h0.7M259.9,399.7h0.7M267.8,407.5h0.7M266.7,400.5h0.7M260.7,400.7h0.7M266.2,390.9h0.7M268.0,394.9h0.7M267.2,394.1h0.7M266.8,394.7h0.7M267.9,392.7h0.7M259.8,404.7h0.7M264.1,388.0h0.7M264.7,404.7h0.7M265.5,388.5h0.7M264.9,400.4h0.7M257.3,389.2h0.7M266.6,392.3h0.7M267.8,387.3h0.7M264.4,399.6h0.7M261.0,406.9h0.7M268.0,391.2h0.7M263.8,387.7h0.7M267.1,395.6h0.7M267.8,401.8h0.7M254.0,394.3h0.7M257.0,388.8h0.7M267.8,392.4h0.7M259.0,389.0h0.7M262.4,390.4h0.7M265.2,387.9h0.7M264.2,395.9h0.7M265.3,391.2h0.7M255.1,390.7h0.7M267.7,390.7h0.7M265.9,392.5h0.7M264.6,393.7h0.7M262.0,389.1h0.7M261.1,402.1h0.7M261.0,403.3h0.7M258.0,402.6h0.7M266.5,389.3h0.7M259.0,395.8h0.7M261.7,400.6h0.7M265.8,395.3h0.7M262.5,391.7h0.7M260.2,398.6h0.7M255.9,390.4h0.7M259.3,397.3h0.7M265.5,402.8h0.7M263.2,395.7h0.7M258.8,388.6h0.7M265.9,401.1h0.7M257.0,396.5h0.7M264.3,387.3h0.7M254.9,390.8h0.7M262.2,393.9h0.7M259.6,386.9h0.7M263.1,387.3h0.7M267.3,402.6h0.7M259.8,399.1h0.7M267.0,400.4h0.7M266.8,396.8h0.7M259.6,396.1h0.7M258.6,390.9h0.7M265.4,395.3h0.7M264.0,388.8h0.7M265.4,404.4h0.7M256.5,390.9h0.7M267.8,395.5h0.7M266.3,394.7h0.7M267.0,406.8h0.7M259.8,397.6h0.7M264.9,396.6h0.7M257.8,398.7h0.7M259.6,414.1h0.7M262.7,391.9h0.7M265.8,396.5h0.7M262.7,388.1h0.7M264.1,392.7h0.7M266.4,389.6h0.7M257.7,395.9h0.7M264.7,408.3h0.7M267.7,389.3h0.7M265.9,392.8h0.7M266.3,392.0h0.7M265.7,396.4h0.7M256.5,398.2h0.7M267.4,389.5h0.7M263.5,389.8h0.7M268.0,398.0h0.7M266.3,395.4h0.7M255.8,407.3h0.7M259.4,393.1h0.7M260.1,393.7h0.7M268.2,388.1h0.7M261.7,390.1h0.7M266.9,392.1h0.7M265.9,395.5h0.7M267.4,394.8h0.7M259.8,389.4h0.7M259.8,388.5h0.7M263.8,387.8h0.7M254.6,392.7h0.7M257.2,387.2h0.7M266.1,394.6h0.7M267.7,395.2h0.7M264.1,389.6h0.7M259.6,394.0h0.7M267.0,400.5h0.7M265.2,392.7h0.7M265.9,401.1h0.7M264.0,393.8h0.7M260.9,396.3h0.7M255.4,388.2h0.7M268.1,392.0h0.7M253.3,391.7h0.7M265.0,389.0h0.7M266.0,393.4h0.7M267.5,391.6h0.7M266.8,392.9h0.7M267.4,392.7h0.7M261.4,399.8h0.7M261.0,386.8h0.7M262.1,391.4h0.7M263.8,388.9h0.7M263.4,391.1h0.7M259.7,388.0h0.7M262.5,391.5h0.7M264.7,391.1h0.7M265.4,394.8h0.7M267.6,389.3h0.7M265.4,392.6h0.7M259.5,393.3h0.7M262.0,406.1h0.7M264.7,390.0h0.7M267.3,390.6h0.7M263.4,397.0h0.7M264.9,399.8h0.7M267.4,398.6h0.7M259.5,396.5h0.7M261.1,391.9h0.7M262.0,388.7h0.7M267.1,391.4h0.7M267.7,394.0h0.7M266.2,392.7h0.7M267.3,391.9h0.7M267.6,399.4h0.7M267.7,390.7h0.7M265.7,390.7h0.7M260.6,389.9h0.7M267.6,388.7h0.7M266.8,398.2h0.7M267.3,392.3h0.7M261.9,398.5h0.7M263.9,407.8h0.7M266.7,390.7h0.7M261.8,397.1h0.7M268.0,397.5h0.7M267.6,399.4h0.7M261.4,390.8h0.7M263.1,389.5h0.7M266.9,399.0h0.7M261.8,388.4h0.7M261.8,389.8h0.7M260.9,401.0h0.7" stroke="#000" stroke-width="0.7" stroke-opacity="0.6" fill="none"/>
<path d="M263.6,386.4h0.7M268.0,377.2h0.7M268.2,379.7h0.7M256.4,402.0h0.7M263.7,381.1h0.7M260.2,390.1h0.7M260.2,396.5h0.7M265.9,382.1h0.7M271.2,398.0h0.7M255.8,399.9h0.7M263.2,392.5h0.7M253.4,388.1h0.7M255.0,379.2h0.7M267.2,400.2h0.7" stroke="#000" stroke-width="0.7" stroke-opacity="0.35" fill="none"/>
<ellipse cx="279.9" cy="377.5" rx="8.17" ry="4.4" fill="#000" fill-opacity="1.0" filter="url(#bl)"/>
<ellipse cx="276.4" cy="378.1" rx="6.02" ry="4.18" fill="#000" fill-opacity="1.0" filter="url(#bl)"/>
<ellipse cx="273.4" cy="379.5" rx="3.5" ry="2.64" fill="#000" fill-opacity="1.0" filter="url(#bl)"/>
<path d="M265.5,372.5h0.7M286.9,379.3h0.7M284.2,379.6h0.7M280.2,375.7h0.7M281.6,376.9h0.7M283.6,374.0h0.7M286.1,380.7h0.7M274.5,372.8h0.7M280.2,376.0h0.7M278.7,375.5h0.7M271.9,379.0h0.7M271.8,378.3h0.7M280.1,374.9h0.7M279.2,378.1h0.7M282.5,378.2h0.7M259.8,380.6h0.7M284.6,372.7h0.7M275.4,372.2h0.7M275.6,377.4h0.7M282.2,376.4h0.7M272.3,379.3h0.7M279.2,380.2h0.7M271.4,371.5h0.7M286.5,378.8h0.7M281.0,380.0h0.7M288.1,376.6h0.7M276.3,380.6h0.7M282.7,375.0h0.7M284.9,375.6h0.7M285.2,377.6h0.7M274.3,377.5h0.7M267.5,376.4h0.7M278.8,377.1h0.7M280.7,378.5h0.7M283.0,378.7h0.7M277.2,380.8h0.7M283.8,378.4h0.7M281.3,377.6h0.7M265.2,376.0h0.7M276.6,374.2h0.7M282.7,380.6h0.7M282.1,375.8h0.7M280.7,378.2h0.7M275.2,378.2h0.7M289.3,375.8h0.7M274.7,376.5h0.7M266.0,374.7h0.7M280.0,376.4h0.7M282.1,376.2h0.7M281.0,378.1h0.7M272.6,374.4h0.7M273.9,374.2h0.7M284.2,375.9h0.7M286.6,380.5h0.7M277.5,374.6h0.7M277.0,380.4h0.7M268.9,375.9h0.7M288.1,376.0h0.7M283.7,380.2h0.7M281.3,379.0h0.7M282.5,378.6h0.7M272.1,380.5h0.7M286.7,376.3h0.7M274.1,377.8h0.7M279.9,378.9h0.7M280.0,377.7h0.7M274.8,380.3h0.7M278.8,380.2h0.7M281.3,373.9h0.7M282.6,379.0h0.7M278.9,377.6h0.7M277.2,377.4h0.7M281.9,376.3h0.7M277.5,379.8h0.7M274.6,376.6h0.7M289.3,379.9h0.7M277.4,375.9h0.7M272.6,379.6h0.7M282.6,382.9h0.7M279.8,379.3h0.7M283.0,375.7h0.7M288.6,380.3h0.7M286.2,375.7h0.7M279.2,376.5h0.7M280.8,379.0h0.7M280.1,373.8h0.7M284.5,378.6h0.7M278.8,379.5h0.7M276.2,377.1h0.7M284.3,380.2h0.7M281.8,376.3h0.7M282.1,377.7h0.7M277.8,380.8h0.7M272.0,377.4h0.7M288.5,370.9h0.7M287.1,379.7h0.7M280.2,372.0h0.7M282.7,376.6h0.7M279.6,379.3h0.7M279.8,375.8h0.7M292.2,382.0h0.7M278.1,380.2h0.7M286.7,378.4h0.7M284.1,380.1h0.7M281.0,380.2h0.7M277.9,381.0h0.7M270.5,380.7h0.7M273.5,376.8h0.7M285.6,382.0h0.7M281.5,386.3h0.7M285.3,378.6h0.7M283.5,378.6h0.7M278.8,378.0h0.7M286.1,377.7h0.7M285.1,378.9h0.7M280.0,378.2h0.7M287.0,379.2h0.7M279.2,375.6h0.7M280.5,376.2h0.7M290.6,377.6h0.7M277.9,375.8h0.7M281.1,375.4h0.7M285.2,372.8h0.7M276.5,374.7h0.7M276.2,380.9h0.7M287.0,372.8h0.7M285.1,380.9h0.7M280.1,379.2h0.7M279.1,375.8h0.7M278.5,376.6h0.7M283.3,381.4h0.7M274.2,377.7h0.7M284.3,382.0h0.7M283.2,374.0h0.7M282.1,376.5h0.7M279.1,376.6h0.7M281.7,378.7h0.7M267.6,380.1h0.7M274.3,376.3h0.7M276.4,384.5h0.7M285.7,374.6h0.7M283.1,377.5h0.7M277.2,378.9h0.7M281.8,374.5h0.7M277.8,377.3h0.7M277.9,380.4h0.7M279.6,377.3h0.7M278.8,381.9h0.7M283.2,376.1h0.7M281.0,380.6h0.7M276.9,377.7h0.7M274.3,377.7h0.7M279.7,375.2h0.7M288.6,377.1h0.7M280.6,381.9h0.7M280.0,373.5h0.7M283.2,376.3h0.7M277.5,378.8h0.7M284.2,380.7h0.7M288.2,379.6h0.7M275.6,381.2h0.7M286.3,377.2h0.7M286.7,373.6h0.7M284.2,375.1h0.7M271.3,376.5h0.7M276.5,376.5h0.7M284.7,374.9h0.7M276.3,374.1h0.7M278.5,374.4h0.7M278.9,378.7h0.7M275.3,379.9h0.7M280.6,377.4h0.7M274.8,383.8h0.7M277.1,372.0h0.7M282.2,379.9h0.7M268.9,378.1h0.7M274.6,375.5h0.7M285.8,376.8h0.7M285.4,375.0h0.7M271.4,377.0h0.7M275.6,376.7h0.7M275.2,374.6h0.7M277.2,379.0h0.7M278.8,379.8h0.7M274.1,376.5h0.7M272.2,376.3h0.7M289.2,377.7h0.7M281.7,375.5h0.7M281.1,373.5h0.7M292.1,371.1h0.7M284.0,376.3h0.7M280.5,376.7h0.7M285.5,376.6h0.7M281.9,376.2h0.7M289.1,376.8h0.7M280.6,378.9h0.7M287.1,375.9h0.7M277.4,373.8h0.7M279.2,378.3h0.7M291.4,374.3h0.7M280.0,374.7h0.7M280.1,376.9h0.7M283.7,377.5h0.7M269.0,380.3h0.7M278.7,378.8h0.7M282.9,376.1h0.7M285.5,375.8h0.7M274.8,375.1h0.7M275.9,379.1h0.7M283.7,375.7h0.7M282.1,379.1h0.7M284.1,376.8h0.7M276.9,378.4h0.7M284.5,376.9h0.7M289.7,377.1h0.7M286.6,375.3h0.7M277.5,380.4h0.7M276.0,376.6h0.7M284.2,374.3h0.7M281.2,377.4h0.7M285.4,372.7h0.7M278.1,375.2h0.7M271.2,376.6h0.7M281.4,381.0h0.7M277.8,377.9h0.7M275.2,383.5h0.7M291.2,374.5h0.7M272.2,375.8h0.7M281.2,376.4h0.7M274.2,375.3h0.7M275.3,376.6h0.7M286.3,378.5h0.7M290.0,378.2h0.7M287.3,383.5h0.7M281.8,376.0h0.7M271.7,373.7h0.7M284.5,377.7h0.7M279.4,383.6h0.7M284.0,375.0h0.7M281.6,381.3h0.7M272.3,375.0h0.7M281.4,375.0h0.7M283.1,380.8h0.7M280.8,378.7h0.7M278.9,377.2h0.7M296.6,374.7h0.7M281.4,376.2h0.7M279.0,379.8h0.7M280.1,381.2h0.7M277.2,377.8h0.7M287.7,375.1h0.7M275.1,375.6h0.7M280.1,381.0h0.7M278.5,379.6h0.7M277.4,377.6h0.7M272.3,373.0h0.7M282.8,375.6h0.7M283.8,376.6h0.7M277.8,378.5h0.7M281.4,374.6h0.7M272.7,374.7h0.7M279.7,379.1h0.7M282.4,376.9h0.7M278.5,368.5h0.7M271.8,381.9h0.7M274.1,379.0h0.7M283.8,375.4h0.7M272.7,380.4h0.7M281.9,376.0h0.7M271.8,382.1h0.7M272.3,376.4h0.7M275.0,376.7h0.7M277.2,374.7h0.7M285.4,377.1h0.7M274.7,375.5h0.7M287.5,377.4h0.7M283.4,377.9h0.7M285.5,376.2h0.7M280.3,375.2h0.7M269.8,379.6h0.7M282.2,378.3h0.7M282.5,376.0h0.7M277.1,375.1h0.7M284.8,374.3h0.7M271.8,378.8h0.7M283.6,379.8h0.7M276.6,377.5h0.7M288.2,372.5h0.7M283.2,378.1h0.7M280.7,373.1h0.7M281.3,379.1h0.7M289.9,379.5h0.7M276.6,377.0h0.7M270.5,376.8h0.7M279.3,378.0h0.7M282.7,381.2h0.7M280.3,378.2h0.7M273.6,378.7h0.7M278.7,375.1h0.7M270.1,371.4h0.7" stroke="#000" stroke-width="0.7" stroke-opacity="0.7" fill="none"/>
</g>
<rect x="252.2" y="362.4" width="42.6" height="42.400000000000034" fill="none" stroke="#000" stroke-width="1.35"/>
<path d="M271.9,362.4V404.8M252.2,386.8H294.8" stroke="#000" stroke-width="1.2" fill="none"/>
<path d="M250.89999999999998,365.0h1.3M254.9,404.8v1.3M250.89999999999998,367.7h1.3M257.5,404.8v1.3M250.89999999999998,370.3h1.3M260.2,404.8v1.3M250.89999999999998,373.0h1.3M262.8,404.8v1.3M250.89999999999998,375.6h1.3M265.5,404.8v1.3M250.89999999999998,378.3h1.3M268.2,404.8v1.3M250.89999999999998,380.9h1.3M270.8,404.8v1.3M250.89999999999998,383.6h1.3M273.5,404.8v1.3M250.89999999999998,386.2h1.3M276.2,404.8v1.3M250.89999999999998,388.9h1.3M278.8,404.8v1.3M250.89999999999998,391.6h1.3M281.5,404.8v1.3M250.89999999999998,394.2h1.3M284.1,404.8v1.3M250.89999999999998,396.9h1.3M286.8,404.8v1.3M250.89999999999998,399.5h1.3M289.5,404.8v1.3M250.89999999999998,402.1h1.3M292.1,404.8v1.3" stroke="#000" stroke-width="0.6" stroke-opacity="0.6"/>
<text x="293.20" y="368.70" font-size="7" text-anchor="end" font-weight="normal" fill="#111" >18</text>
<rect x="359.0" y="223.6" width="122.80000000000001" height="162.20000000000002" fill="none" stroke="#000" stroke-width="1.45"/>
<path d="M359.0,239.5H481.8M420.7,223.6V385.8" stroke="#000" stroke-width="1.45"/>
<path d="M356.0,385.50h3" stroke="#000" stroke-width="0.9"/>
<text x="351.00" y="386.85" font-size="7.1" text-anchor="end" font-weight="normal" fill="#111" >0</text>
<path d="M356.0,369.31h3" stroke="#000" stroke-width="0.9"/>
<text x="351.00" y="370.79" font-size="7.1" text-anchor="end" font-weight="normal" fill="#111" >5</text>
<path d="M356.0,353.12h3" stroke="#000" stroke-width="0.9"/>
<text x="350.00" y="354.74" font-size="7.1" text-anchor="end" font-weight="normal" fill="#111" >10</text>
<path d="M356.0,336.93h3" stroke="#000" stroke-width="0.9"/>
<text x="350.00" y="338.68" font-size="7.1" text-anchor="end" font-weight="normal" fill="#111" >15</text>
<path d="M356.0,320.74h3" stroke="#000" stroke-width="0.9"/>
<text x="350.00" y="322.63" font-size="7.1" text-anchor="end" font-weight="normal" fill="#111" >20</text>
<path d="M356.0,304.56h3" stroke="#000" stroke-width="0.9"/>
<text x="350.00" y="306.57" font-size="7.1" text-anchor="end" font-weight="normal" fill="#111" >25</text>
<path d="M356.0,288.37h3" stroke="#000" stroke-width="0.9"/>
<text x="350.00" y="290.52" font-size="7.1" text-anchor="end" font-weight="normal" fill="#111" >30</text>
<path d="M356.0,272.18h3" stroke="#000" stroke-width="0.9"/>
<text x="350.00" y="274.46" font-size="7.1" text-anchor="end" font-weight="normal" fill="#111" >35</text>
<path d="M356.0,255.99h3" stroke="#000" stroke-width="0.9"/>
<text x="350.00" y="258.41" font-size="7.1" text-anchor="end" font-weight="normal" fill="#111" >40</text>
<path d="M356.0,239.80h3" stroke="#000" stroke-width="0.9"/>
<text x="350.00" y="242.35" font-size="7.1" text-anchor="end" font-weight="normal" fill="#111" >45</text>
<path d="M359.0,385.8v2.6" stroke="#000" stroke-width="0.9"/>
<path d="M380.2,385.8v2.6" stroke="#000" stroke-width="0.9"/>
<path d="M400.5,385.8v2.6" stroke="#000" stroke-width="0.9"/>
<path d="M420.7,385.8v2.6" stroke="#000" stroke-width="0.9"/>
<path d="M441.9,385.8v2.6" stroke="#000" stroke-width="0.9"/>
<path d="M462.3,385.8v2.6" stroke="#000" stroke-width="0.9"/>
<path d="M481.8,385.8v2.6" stroke="#000" stroke-width="0.9"/>
<text x="389.30" y="234.80" font-size="7.2" text-anchor="middle" font-weight="normal" fill="#111" >PV-NP-38</text>
<text x="452.60" y="234.80" font-size="7.2" text-anchor="middle" font-weight="normal" fill="#111" >PV-NP-205</text>
<text x="378.50" y="396.80" font-size="7" text-anchor="middle" font-weight="normal" fill="#111" >wt</text>
<text x="399.80" y="396.80" font-size="7" text-anchor="middle" font-weight="normal" fill="#111" >HP</text>
<text x="440.80" y="396.60" font-size="7" text-anchor="middle" font-weight="normal" fill="#111" >wt</text>
<text x="462.20" y="396.60" font-size="7" text-anchor="middle" font-weight="normal" fill="#111" >HP</text>
<text transform="translate(336.2,340) rotate(-90)" font-size="7.3" fill="#111">% CD8 T cells</text>
<rect x="377.60" y="312.50" width="5.4" height="3.8" fill="#fff" stroke="#000" stroke-width="1.4"/>
<rect x="377.60" y="320.40" width="5.4" height="3.8" fill="#fff" stroke="#000" stroke-width="1.4"/>
<rect x="377.60" y="324.80" width="5.4" height="3.8" fill="#fff" stroke="#000" stroke-width="1.4"/>
<path d="M374.2,322.5H386" stroke="#000" stroke-width="2.2"/>
<rect x="397.90" y="252.99" width="6.6" height="6" fill="#000"/>
<rect x="397.90" y="297.67" width="6.6" height="6" fill="#000"/>
<rect x="397.90" y="316.45" width="6.6" height="6" fill="#000"/>
<rect x="397.90" y="340.09" width="6.6" height="6" fill="#000"/>
<path d="M395.2,312.00H406.8" stroke="#000" stroke-width="1.7"/>
<text x="378" y="247.8" font-size="7" fill="#111"><tspan font-style="italic">P</tspan> = .54</text>
<path d="M380.2,252.2v-2.5H401.5v2.5" stroke="#000" stroke-width="0.7" fill="none"/>
<text x="440.2" y="370.2" font-size="7" fill="#111"><tspan font-style="italic">P</tspan> = .43</text>
<path d="M441,374.6v-2.5H462.4v2.5" stroke="#000" stroke-width="0.7" fill="none"/>
<path d="M441.9,378.9l2.2,6.4h-4.4z" fill="#fff" stroke="#000" stroke-width="1.2"/>
<path d="M436.3,382.8H447.4" stroke="#000" stroke-width="1.9"/>
<path d="M462.6,376.6l2.7,8.6h-5.4z" fill="#000" stroke="#000" stroke-width="0.8"/>
<path d="M457.3,381.9H468.1" stroke="#000" stroke-width="1.9"/>
<path d="M487.3,241.3H498.3" stroke="#000" stroke-width="1.7"/>
<text x="502.30" y="243.20" font-size="7" text-anchor="start" font-weight="normal" fill="#111" >Mean</text>
</svg></body></html>
